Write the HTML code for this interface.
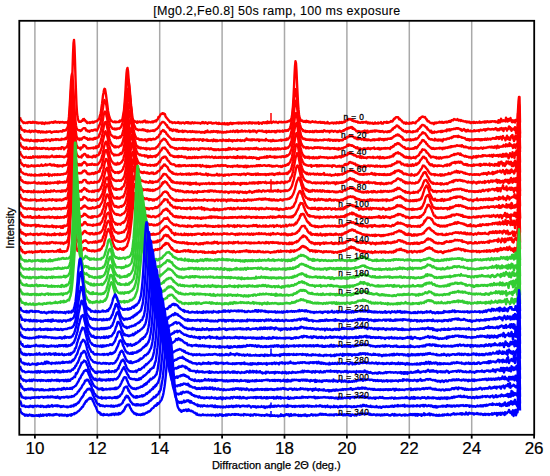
<!DOCTYPE html>
<html><head><meta charset="utf-8"><style>
html,body{margin:0;padding:0;background:#fff;}
body{width:550px;height:476px;overflow:hidden;}
svg{display:block;font-family:"Liberation Sans",sans-serif;}
</style></head><body>
<svg width="550" height="476" viewBox="0 0 550 476">
<rect width="550" height="476" fill="#fff"/>
<g stroke="#a9a9a9" stroke-width="1.5"><line x1="34.9" y1="20.8" x2="34.9" y2="434.8"/><line x1="97.3" y1="20.8" x2="97.3" y2="434.8"/><line x1="159.7" y1="20.8" x2="159.7" y2="434.8"/><line x1="222.1" y1="20.8" x2="222.1" y2="434.8"/><line x1="284.5" y1="20.8" x2="284.5" y2="434.8"/><line x1="346.9" y1="20.8" x2="346.9" y2="434.8"/><line x1="409.3" y1="20.8" x2="409.3" y2="434.8"/><line x1="471.7" y1="20.8" x2="471.7" y2="434.8"/></g>
<g fill="none" stroke-width="2.4" stroke-linejoin="round" stroke-linecap="butt">
<path d="M20,117.2l.5 1.8 .5 1 .5 .6 .5 .8 .5 .2 .5 .7 .5 .7 .5-.5 .5 0 .5 .5 .5 0 .5-.1 .5-.4 .5 .3 .5 .3 .5-.8 .5 .3 .5-.6 .5 .3 .5-.3 .5 .7 .5-.5 .5 .6 .5 0 .5-.2 .5-.9 .5 .8 .5 .2 .5 0 .5-.6 .5 .4 .5-.2 .5 .1 .5 .8 .5-.7 .5 .4 .5 .4 .5-.6 .5 .2 .5 .2 .5 0 .5-.5 .5 .5 .5 .6 .5-1.2 .5 1 .5-.3 .5-.3 .5 1 .5-.5 .5-.8 .5 .4 .5 .2 .5-.3 .5 .3 .5-.4 .5 .2 .5 .3 .5-.9 .5 .3 .5-.3 .5 .2 .5-.6 .5 .2 .5 .1 .5 .4 .5 0 .5-1 .5 .2 .5 .5 .5-1 .5 .6 .5 .1 .5 .5 .5-.2 .5-.4 .5 0 .5 .1 .5 .7 .5-.8 .5 .1 .5 .3 .5-.2 .5 0 .5-.3 .5 .4 .5-.1 .5 .6 .5-.2 .5-.3 .5 .3 .5-.4 .5 .5 .5-.5 .5 .1 .5-.9 .5 .4 .5-1.2 .5-.9 .5-.9 .5-3.3 .5-5.4 .5-8.5 .5-14.6 .5-16.2 .5-15.9 .5-11.7 .5-3.3 .5 6.9 .5 14.5 .5 16.6 .5 14.7 .5 12.2 .5 7.8 .5 4.2 .5 2.9 .5 .7 .5 1.3 .5 0 .5 .1 .5-.2 .5 .1 .5-1 .5 0 .5 .1 .5-1.5 .5 .8 .5-1.2 .5 1.2 .5-.1 .5 1.2 .5 .4 .5-.2 .5 1.5 .5 .2 .5-.5 .5 0 .5 0 .5-.4 .5 .8 .5-.7 .5 .2 .5-.4 .5 0 .5-.4 .5 1 .5-.7 .5 .4 .5-.5 .5-.4 .5 0 .5-.3 .5 .1 .5-.4 .5-.3 .5-.9 .5-.4 .5 .1 .5-2.2 .5-1.8 .5-1.6 .5-2.2 .5-4.4 .5-3.2 .5-4.2 .5-4.4 .5-2.5 .5-3 .5-1.1 .5 .2 .5 2.7 .5 2.9 .5 4.1 .5 3.6 .5 3.9 .5 4.5 .5 2.2 .5 2.7 .5 1.7 .5 1.2 .5 1 .5 1.2 .5 .1 .5 .4 .5 .3 .5 .6 .5-.1 .5 0 .5-.3 .5-.3 .5 .9 .5 0 .5-.5 .5 .3 .5 0 .5-.1 .5 0 .5-.7 .5 .6 .5-1.3 .5 .6 .5-.4 .5-.4 .5-.3 .5-1.3 .5-2.9 .5-2.9 .5-2.9 .5-6 .5-6.3 .5-7.5 .5-9.2 .5-7.6 .5-4.1 .5-1.4 .5 2.9 .5 6.4 .5 7.5 .5 8 .5 8 .5 5.9 .5 4.5 .5 4.3 .5 2.1 .5 1.7 .5 .4 .5 .7 .5 .3 .5 .3 .5 .7 .5-.3 .5 .6 .5 0 .5 .8 .5-1.4 .5 1 .5-.4 .5 0 .5-.6 .5 .4 .5 .4 .5-.3 .5 0 .5-.2 .5 .6 .5-.5 .5-.8 .5 .6 .5-.6 .5-.5 .5 1.1 .5 .8 .5-.5 .5-.5 .5 .2 .5 .8 .5-.4 .5 0 .5 0 .5 0 .5 .3 .5-.1 .5-.1 .5-.5 .5 .6 .5-.6 .5 .6 .5-1 .5 .3 .5-.2 .5-.8 .5 .9 .5-.5 .5-1.3 .5 0 .5-.8 .5-1.9 .5 .4 .5-.9 .5-.7 .5-1.2 .5-.3 .5-.5 .5 .2 .5-.6 .5-.1 .5 .8 .5-.4 .5 .6 .5 .1 .5 2.1 .5 .6 .5 .7 .5 .7 .5 .5 .5 .7 .5 .5 .5 .5 .5 .5 .5 1 .5-.1 .5 0 .5 0 .5 .1 .5 1 .5-.4 .5-.1 .5-.1 .5-.3 .5 .5 .5 .4 .5-.5 .5 0 .5 .1 .5 .1 .5-.7 .5 .6 .5-.2 .5 .7 .5-.7 .5 .5 .5 .4 .5-.7 .5-.1 .5 .3 .5-.1 .5-.4 .5 .6 .5 .6 .5-1 .5 0 .5-.3 .5 .5 .5-.6 .5 0 .5 1 .5-.9 .5 .8 .5 .2 .5-.5 .5 .1 .5 .6 .5-.9 .5-.1 .5-.3 .5 .6 .5 .6 .5-.2 .5-.7 .5 0 .5 .2 .5 .3 .5-.2 .5 .2 .5 .1 .5-.3 .5 .2 .5 .1 .5-.2 .5 .3 .5 .5 .5-.5 .5-.2 .5-.7 .5 .8 .5-1 .5 .2 .5 .9 .5 0 .5-.4 .5-.6 .5 .5 .5-.1 .5 .5 .5 .7 .5-.8 .5-.4 .5-.2 .5 .5 .5 0 .5-.4 .5 .5 .5-.5 .5 1 .5 0 .5 0 .5-.6 .5 .4 .5-.2 .5-.1 .5 .1 .5-.4 .5 0 .5 1 .5-.4 .5 .2 .5 .4 .5-1.1 .5 .5 .5 .4 .5 .1 .5-.3 .5 .6 .5-.3 .5-.5 .5 .1 .5 .7 .5-.1 .5-1 .5 1.3 .5-.3 .5 .3 .5-.8 .5 .1 .5-.4 .5 1.4 .5-1.1 .5 .7 .5-.9 .5 .3 .5-.8 .5 .5 .5 .6 .5-.9 .5 .9 .5-.3 .5-.6 .5 .2 .5 0 .5 .2 .5-.2 .5-.2 .5 .2 .5-.3 .5-.1 .5 .5 .5 .3 .5-1 .5 .6 .5-.3 .5-.2 .5 .7 .5-.5 .5 .7 .5-.9 .5 .4 .5-.2 .5-.3 .5 .6 .5-.3 .5 .3 .5-.3 .5-.4 .5 .4 .5 .1 .5 .4 .5-.8 .5 .4 .5-.7 .5 1 .5-.7 .5-.2 .5 .7 .5 .4 .5-1 .5 .2 .5 .1 .5-.1 .5 .6 .5-.5 .5 0 .5 .5 .5-.5 .5 .4 .5-.5 .5-.1 .5-.3 .5 1.5 .5-.9 .5 .2 .5-.1 .5 .1 .5-.1 .5 .7 .5-1.2 .5-.2 .5 .2 .5-.2 .5 .8 .5 0 .5-.7 .5-.2 .5 .3 .5 .7 .5-1.7 .5 1.3 .5-.7 .5 .8 .5-.9 .5 .3 .5-.5 .5 .2 .5 .9 .5-.3 .5-.5 .5-.2 .5-.4 .5 .6 .5 .1 .5 0 .5 0 .5-.5 .5 .5 .5 0 .5 .5 .5 .2 .5-.8 .5-.2 .5 .2 .5-.2 .5 0 .5 .3 .5-.4 .5 .6 .5-.2 .5 .1 .5-.2 .5-.2 .5-.1 .5 .3 .5-.2 .5 .3 .5-.2 .5-.6 .5 .5 .5-.7 .5 .2 .5-.1 .5-.9 .5 .5 .5-.4 .5-1 .5-1.4 .5-2.3 .5-4.2 .5-5.7 .5-8.5 .5-10.2 .5-11.9 .5-9.2 .5-4.9 .5 2 .5 8.1 .5 11.4 .5 10.1 .5 10.1 .5 6.8 .5 4.7 .5 2.9 .5 1.2 .5 1.2 .5 .9 .5 .3 .5 .1 .5-.5 .5 1 .5 .4 .5 0 .5-.2 .5-.7 .5 1.1 .5-.4 .5-.9 .5 1.2 .5-.8 .5 .1 .5 .3 .5 .7 .5-.6 .5 .2 .5 .6 .5-.1 .5-.7 .5 0 .5-.4 .5 .2 .5 .5 .5 0 .5-.1 .5 .4 .5-.7 .5 .3 .5 .4 .5 0 .5 .3 .5-.2 .5-.2 .5 .3 .5-.5 .5-.2 .5 1 .5-.2 .5 .2 .5-.7 .5 .6 .5 0 .5-.1 .5-.5 .5 .8 .5 .5 .5-.2 .5-.4 .5 .2 .5 .3 .5-1.4 .5 1 .5 .3 .5 0 .5 .4 .5-.3 .5-.4 .5 0 .5 .2 .5-.6 .5 .2 .5 .4 .5 .4 .5-.9 .5 .1 .5 .1 .5 .4 .5-.5 .5 .6 .5-1 .5 .4 .5 0 .5 .4 .5 .1 .5-1.1 .5 .3 .5 .4 .5-.4 .5-.4 .5 .9 .5-.3 .5-.2 .5-.6 .5 .4 .5-.7 .5 .3 .5-1.1 .5-.3 .5 .2 .5-.7 .5 .3 .5-.4 .5-.7 .5 .3 .5-.3 .5 .5 .5-.6 .5 .2 .5 .8 .5 .6 .5 .1 .5-.5 .5 .3 .5 .8 .5-.4 .5 0 .5 .6 .5 .4 .5-.3 .5-.2 .5 .2 .5 1 .5-.5 .5 .3 .5 .2 .5 .1 .5-.3 .5 .3 .5-.6 .5 .2 .5-.3 .5 .8 .5-.5 .5-.3 .5 .2 .5 0 .5 .4 .5-.9 .5 .2 .5 .3 .5 1.2 .5-.6 .5-.4 .5 .4 .5 .6 .5-.8 .5 0 .5 .7 .5-.2 .5 .1 .5-.4 .5 1 .5 0 .5-.4 .5 .1 .5-1.1 .5 1.1 .5-.3 .5 .2 .5 .1 .5-.4 .5-.5 .5 .8 .5-.5 .5 .1 .5-.1 .5 0 .5-.8 .5 1.4 .5-.5 .5 .3 .5 .3 .5-.8 .5-.8 .5 .4 .5-.2 .5 .3 .5 .2 .5-.9 .5 1 .5-.8 .5 .7 .5-.3 .5-.1 .5-.1 .5-.3 .5-.3 .5-.7 .5 .4 .5 .3 .5-.3 .5-.8 .5-.7 .5-1.1 .5 .4 .5-1 .5-.4 .5-.4 .5 0 .5-.2 .5 .2 .5-.2 .5 .6 .5 1.5 .5-.5 .5 .5 .5 .8 .5 .6 .5-.2 .5 .8 .5 .9 .5 .1 .5 .3 .5 .8 .5-.7 .5 .5 .5-.2 .5 .9 .5-1.3 .5 .5 .5 .1 .5 .4 .5 0 .5 .3 .5-1.2 .5 .9 .5-.4 .5-.2 .5 .5 .5-.6 .5-.5 .5 .6 .5-.5 .5 .3 .5 .3 .5-.2 .5 .4 .5-1 .5-.8 .5-.1 .5-.4 .5-.6 .5 .1 .5-1 .5-1.1 .5 .5 .5-.9 .5-.3 .5-.6 .5-.1 .5-.4 .5 .5 .5-.3 .5 .3 .5 .3 .5-.2 .5 1 .5 .6 .5 .8 .5 0 .5 1.7 .5 0 .5-.1 .5 .2 .5 1 .5 .3 .5 0 .5 .4 .5-.1 .5 .5 .5-.5 .5 .3 .5 .4 .5 .6 .5-1.5 .5 .2 .5-.2 .5 .6 .5-.8 .5 .2 .5 .1 .5-.4 .5 0 .5 .1 .5-.7 .5 .3 .5 .4 .5 .2 .5-.2 .5-.7 .5 .5 .5 .5 .5-.1 .5-.3 .5-.4 .5 .5 .5-.5 .5-.4 .5 .1 .5 .8 .5-.6 .5 .2 .5-.8 .5 .4 .5-.8 .5 0 .5 .9 .5-.9 .5-.6 .5-.1 .5 0 .5 .2 .5-.8 .5-.6 .5 .5 .5 0 .5 0 .5 .5 .5-.4 .5 .2 .5-.7 .5 .8 .5 .6 .5-.4 .5-.1 .5 .1 .5 .8 .5-.9 .5 .5 .5 .4 .5 .2 .5-.3 .5 .5 .5-.1 .5 .3 .5 0 .5-.3 .5 .6 .5 .4 .5-.7 .5 .4 .5 .4 .5-.6 .5 .5 .5-.5 .5 .9 .5 .5 .5-.1 .5-.8 .5 .4 .5-.3 .5 0 .5 .6 .5-1.1 .5 1 .5-.5 .5 .6 .5-.4 .5-.4 .5 .4 .5 .2 .5-.3 .5 .2 .5-.4 .5-.7 .5 1.2 .5-.1 .5-.3 .5 0 .5 .3 .5-.6 .5-.2 .5 .2 .5 .5 .5-1.1 .5 1 .5-.8 .5-.2 .5 .9 .5-.6 .5-.5 .5 .3 .5 .6 .5 .1 .5-.8 .5 .4 .5 .2 .5-.8 .5 .6 .5-.3 .5-.3 .5 0 .5 .3 .5 0 .5-.4 .5 0 .5 1 .5-.7 .5 .5 .5 .2 .5-.5 .5 1.2 .5-2.5 .5 1.3 .5-1 .5 1.8 .5-.2 .5-3.4 .5 .8 .5 1.5 .5 .1 .5 0 .5-.9 .5 .5 .5 .2 .5-.8 .5 1.3 .5-3.9 .5 3.5 .5-2.1 .5 2.5 .5-1.5 .5-.9 .5 1.8 .5-1.8 .5 0 .5-1 .5 2.3 .5 .8 .5 .9 .5-1.8 .5 1.9 .5-1.6 .5-.2 .5 1.1 .5 .9 .5-2.4 .5 .1 .5 .2 .5 .5 .5-1.9 .5-8.6 .5-8.8 .5-4.5 .5 0 .5 25.5" stroke="#ff0000"/>
<path d="M20,125.3l.5 2.6 .5-.2 .5 1.6 .5 .4 .5-.1 .5 .7 .5 .2 .5 0 .5 1.2 .5-1.4 .5 1 .5 0 .5-.3 .5 .3 .5 .3 .5-.3 .5 .2 .5 .1 .5-1.1 .5 1.4 .5 .3 .5-.5 .5 0 .5-1 .5 .6 .5-.3 .5 .1 .5 .6 .5-.7 .5 .3 .5-.7 .5 .8 .5 .1 .5-.3 .5 0 .5 1.1 .5-1.2 .5 .1 .5 .1 .5 .8 .5 .4 .5-.7 .5-.4 .5 .2 .5 .6 .5-.8 .5 1 .5 0 .5-.5 .5 .2 .5 .1 .5 .3 .5-1.1 .5 .9 .5-.6 .5-.1 .5 .3 .5-.1 .5-.3 .5-.3 .5 .3 .5 1 .5 .2 .5-.6 .5 .2 .5-.6 .5 .1 .5 .1 .5-.5 .5 0 .5 .4 .5-.2 .5-.3 .5 .5 .5-.3 .5 .5 .5-.4 .5-.2 .5 .1 .5-.2 .5-.2 .5 0 .5 .4 .5-.1 .5 .1 .5-1.3 .5 .5 .5-.2 .5 .2 .5-.4 .5-.3 .5 .3 .5-.7 .5-1.3 .5-.4 .5-2.5 .5-4.2 .5-4.8 .5-7.7 .5-7.9 .5-9.8 .5-8.8 .5-6 .5-2.4 .5 2.7 .5 6.2 .5 8.5 .5 9.1 .5 7.4 .5 8.6 .5 4.6 .5 4.5 .5 2.6 .5 1 .5 .5 .5 .5 .5 .3 .5 0 .5 0 .5-.1 .5 .8 .5-.6 .5 .1 .5-.9 .5-.5 .5-.6 .5-.2 .5-.1 .5-.1 .5 .1 .5 .5 .5 1.6 .5-.3 .5 .3 .5 1 .5-.1 .5-.2 .5-.3 .5 1 .5-.8 .5 .1 .5-.4 .5-.5 .5 0 .5 .6 .5-.1 .5-.3 .5-.4 .5-.2 .5 .3 .5-.5 .5 .8 .5-.1 .5 .4 .5-1.2 .5-1.1 .5-.8 .5-2 .5-.1 .5-1.5 .5-1.5 .5-2.5 .5-2.8 .5-3.2 .5-3.1 .5-2.9 .5-4 .5-2.1 .5-1.7 .5 1 .5 .9 .5 1.9 .5 1.9 .5 3.7 .5 3 .5 3.2 .5 2.6 .5 2.7 .5 1.7 .5 2.1 .5 1.1 .5 .7 .5 .8 .5 .4 .5 .9 .5-.2 .5 .5 .5-.2 .5-.3 .5 1 .5-.8 .5 .7 .5-.1 .5-.9 .5 .3 .5 0 .5-.2 .5-.3 .5 .5 .5-.8 .5-.2 .5-1 .5-.6 .5-1.8 .5-1.5 .5-2.1 .5-3.2 .5-3.9 .5-4.8 .5-4.5 .5-5.5 .5-5.9 .5-5.6 .5-4 .5-2.3 .5-2.1 .5 1.3 .5 3.1 .5 3.4 .5 6.5 .5 5.4 .5 6.4 .5 4.4 .5 4.3 .5 4 .5 3.2 .5 2 .5 2 .5 .8 .5 1.4 .5 1.1 .5 1 .5-.2 .5 .1 .5 .6 .5 .1 .5 .4 .5-.2 .5-.3 .5 .2 .5 0 .5 .2 .5 0 .5-.3 .5-.5 .5 .6 .5-.5 .5 .9 .5 .1 .5-.6 .5 1 .5 .1 .5-.3 .5 .7 .5 .2 .5-1.2 .5 .9 .5-.2 .5 .1 .5 .2 .5-.6 .5 0 .5 0 .5 0 .5 .2 .5-.6 .5 .1 .5 .6 .5-.5 .5 0 .5-1.1 .5 .1 .5-.3 .5-.3 .5-.8 .5 0 .5-1.1 .5-.7 .5-.7 .5-.6 .5-1.2 .5-.1 .5-.8 .5-.7 .5-.3 .5 0 .5 .3 .5 .2 .5 .2 .5 .8 .5 .3 .5 1.2 .5 .3 .5-.1 .5 2.1 .5 .1 .5 .1 .5 .9 .5 .2 .5 1.6 .5-.4 .5-.6 .5 1.1 .5-.3 .5 1.1 .5-1.1 .5-.4 .5 1 .5-.2 .5 .1 .5-.7 .5 1.1 .5 .5 .5-1.4 .5 1.3 .5-.6 .5 1.2 .5-.7 .5-.2 .5 .6 .5-.2 .5-.4 .5 .6 .5-.5 .5-.4 .5 1.5 .5-.9 .5 0 .5 .4 .5-.8 .5 .2 .5 .3 .5 0 .5 .3 .5 .4 .5-.6 .5 .4 .5 0 .5-.6 .5 .5 .5-.5 .5 .9 .5-.3 .5-.1 .5-.6 .5 .6 .5-.3 .5 .6 .5-.3 .5-.3 .5 .8 .5-.1 .5-.5 .5 .7 .5-.5 .5 0 .5 .2 .5-.3 .5 .1 .5 .1 .5 .7 .5 0 .5-.7 .5 .7 .5-.6 .5 .1 .5 .2 .5-.3 .5 .8 .5-.8 .5-.7 .5 1 .5-.7 .5 0 .5-1.1 .5 1.6 .5-.1 .5-.1 .5 .1 .5 .2 .5-.7 .5 .4 .5-.7 .5 .2 .5 .6 .5-.3 .5-.7 .5 .7 .5-.2 .5-.2 .5 .5 .5-.3 .5-.4 .5 .2 .5 1.2 .5-1.3 .5 .8 .5 .2 .5 0 .5-.7 .5 .4 .5 .3 .5 .3 .5-.6 .5-.2 .5 .9 .5 0 .5-.2 .5-.4 .5 .3 .5-.1 .5 .3 .5-.9 .5 .5 .5-.2 .5-.4 .5 .5 .5-.2 .5-.2 .5 .2 .5-.8 .5 .5 .5 .1 .5-.1 .5 .3 .5-1 .5-.2 .5 .7 .5 0 .5 .7 .5-.7 .5-.6 .5 .7 .5-.7 .5-.3 .5 1.7 .5-1 .5 .2 .5-.1 .5 .5 .5-.6 .5 .4 .5-.9 .5-.2 .5 1.2 .5 0 .5-.4 .5-.1 .5 0 .5-.4 .5 .9 .5-.3 .5 0 .5-.1 .5 .3 .5-.2 .5 .1 .5-.8 .5 .7 .5 .7 .5-1.1 .5 .2 .5 .4 .5 0 .5-.1 .5-.9 .5 .9 .5-.7 .5 .1 .5 .6 .5-.4 .5 .5 .5 .9 .5-.9 .5-.1 .5-.6 .5 .1 .5-.1 .5 .2 .5-.2 .5 .2 .5 .2 .5-.3 .5-.2 .5 .1 .5 .7 .5-.1 .5 .4 .5 .1 .5-.6 .5 .5 .5-.9 .5 1.6 .5-.5 .5-.5 .5-.4 .5 .7 .5-.9 .5 .4 .5 .6 .5-.3 .5-.2 .5 .5 .5-.8 .5 .5 .5-.3 .5-.2 .5 .5 .5-.6 .5 1.2 .5-1 .5 1 .5-1.3 .5 .7 .5-.8 .5 0 .5 .5 .5 .2 .5-.8 .5 1 .5-.8 .5 .4 .5 .1 .5 0 .5-.9 .5 1.3 .5-.4 .5-.5 .5-.2 .5-.4 .5 .1 .5 .7 .5-.5 .5-.5 .5 .1 .5 .6 .5-1.1 .5-.5 .5 .1 .5-1.3 .5-1.5 .5-2.1 .5-3 .5-3.2 .5-3.9 .5-4.7 .5-5.2 .5-5.3 .5-4.9 .5-3.3 .5-1.7 .5 .7 .5 4.1 .5 4.6 .5 5.5 .5 5.5 .5 4.6 .5 4.2 .5 3.8 .5 2.6 .5 1.6 .5 1.8 .5 .6 .5 .3 .5 .9 .5 1.1 .5-.8 .5 .9 .5 .2 .5 .2 .5-.8 .5 1.2 .5-.7 .5-.1 .5 .1 .5 .4 .5-.2 .5-.1 .5 .6 .5-.8 .5-.1 .5 .8 .5-.1 .5 .2 .5-.9 .5 .9 .5-.3 .5 .5 .5-1.2 .5 .6 .5-.2 .5-.6 .5 .4 .5 .7 .5-.7 .5-.1 .5 .6 .5 .1 .5-.1 .5-.7 .5 .3 .5 .4 .5-.7 .5 0 .5 .6 .5 .3 .5-1.1 .5-.6 .5 .5 .5 .1 .5 .4 .5 .3 .5-.3 .5-.2 .5 .4 .5-.5 .5 .4 .5-.2 .5 1.3 .5-.7 .5-.7 .5 0 .5 .2 .5-.5 .5 .4 .5 0 .5 .7 .5-.5 .5-.2 .5-.2 .5 .1 .5 .5 .5-.1 .5 .6 .5-.7 .5 .7 .5-.4 .5-.1 .5-.8 .5 .2 .5 .8 .5 .2 .5-.6 .5 .1 .5-.6 .5-.2 .5-.3 .5 .4 .5-.5 .5-.5 .5-.4 .5 .1 .5-.5 .5-.7 .5 .7 .5-.8 .5-.3 .5 .4 .5-.3 .5-.5 .5 .3 .5-.6 .5 .4 .5-.5 .5 1.7 .5-1 .5 1.3 .5-.3 .5 .3 .5 .6 .5 .5 .5 .4 .5 .8 .5-.4 .5 .4 .5-.4 .5 .7 .5-.1 .5-.2 .5 .2 .5 .1 .5 .1 .5 .2 .5-.4 .5-.1 .5 .6 .5-.9 .5 .4 .5 .8 .5-1.7 .5 .8 .5 .5 .5-.9 .5 1.7 .5-2.1 .5 1.5 .5 .1 .5-.3 .5-.5 .5 .2 .5-.6 .5 .7 .5-.8 .5 .3 .5 .5 .5-.9 .5 .3 .5 .2 .5-.7 .5 1 .5-.3 .5-.8 .5 .6 .5-.3 .5 .1 .5 .3 .5-.3 .5 .7 .5-.6 .5 .7 .5-.4 .5 .4 .5-.6 .5 .1 .5-.2 .5 .7 .5 .1 .5 .5 .5-.3 .5-.4 .5-.1 .5 .2 .5-.1 .5 .6 .5-.3 .5-.7 .5 0 .5 .7 .5-.5 .5-.4 .5 .4 .5-.9 .5-.3 .5-.4 .5-1 .5 .6 .5-1.3 .5-.2 .5-.6 .5 .2 .5-.7 .5-.3 .5-.9 .5 .5 .5-.5 .5 .8 .5 .3 .5 .1 .5 1.3 .5-.2 .5 .5 .5 .3 .5 .4 .5 .9 .5 .5 .5-.6 .5 1.2 .5 .1 .5 .3 .5 0 .5-.5 .5 .1 .5 1.3 .5-.6 .5-.6 .5 .7 .5-.2 .5-.6 .5-.1 .5 .3 .5 .7 .5-.1 .5 0 .5 .2 .5 .2 .5-1.1 .5 .7 .5-.3 .5-.2 .5 .1 .5 .1 .5-.3 .5-.8 .5 .1 .5 .6 .5-1.7 .5-.8 .5 .2 .5-.5 .5-.7 .5-1.2 .5 .2 .5-1.2 .5-.5 .5-.1 .5 .1 .5 .3 .5 .2 .5 0 .5 .8 .5 .2 .5 .9 .5-.2 .5 .5 .5 1.6 .5-.3 .5 1 .5 .5 .5 .2 .5 .4 .5 1 .5-1.4 .5 1.5 .5 .7 .5-.9 .5 .1 .5 .3 .5 .4 .5-1.2 .5 .5 .5-.1 .5 .2 .5-.1 .5 .1 .5-.5 .5 .2 .5-.4 .5 0 .5 .1 .5 0 .5-.5 .5 1 .5-.7 .5-.6 .5 .9 .5-.8 .5 .4 .5-.3 .5 0 .5-.1 .5-.5 .5 .2 .5 .7 .5-1.9 .5 .8 .5 0 .5-.7 .5-.2 .5 1.2 .5-1.1 .5 .8 .5-.7 .5-.3 .5 0 .5 0 .5 .1 .5-.4 .5-.2 .5 0 .5 .4 .5-.3 .5-.7 .5 .1 .5 .5 .5-.4 .5 .2 .5-.2 .5 .4 .5 .4 .5 .3 .5-.3 .5 1 .5-.7 .5 1.4 .5-.7 .5-.1 .5-.3 .5-.8 .5 1.2 .5 .3 .5 .8 .5-1.2 .5 1.4 .5-.8 .5 .4 .5-1.2 .5 1.1 .5-.2 .5 .5 .5-.2 .5-.5 .5 .8 .5-.1 .5 0 .5 .1 .5 0 .5-.4 .5-.6 .5 0 .5 1 .5-.3 .5-.2 .5-.3 .5 .2 .5-.1 .5-.2 .5-.2 .5 1.1 .5-.8 .5-.4 .5-.4 .5 .2 .5 .5 .5-.1 .5-.4 .5 0 .5-.2 .5-.4 .5 .9 .5-.4 .5 .7 .5-1.3 .5 .2 .5 .3 .5-.5 .5-.6 .5 .2 .5 .4 .5 .1 .5-.2 .5 .5 .5 0 .5-.4 .5-.1 .5-.2 .5 .4 .5 .3 .5-.5 .5 .2 .5-.5 .5-.7 .5 .2 .5 1.3 .5-.2 .5 .9 .5-1.2 .5 .7 .5 .4 .5-.3 .5-1.4 .5 .4 .5 .3 .5-1.1 .5 1.4 .5 .5 .5-1.6 .5 2.6 .5-2.5 .5 .1 .5-.1 .5-.6 .5 1.2 .5-.5 .5 2 .5-1.3 .5-.2 .5-1 .5-1.7 .5 1.8 .5-1.1 .5 2.5 .5-1.4 .5 2.6 .5-1.4 .5 .1 .5-.9 .5 0 .5 .8 .5 .5 .5-2.8 .5 2.2 .5 3.9 .5-4.9 .5-.3 .5-.8 .5-13.6 .5-1.1 .5-8.2 .5 2.9 .5 26.3" stroke="#ff0000"/>
<path d="M20,134.1l.5 2.1 .5 1.1 .5 1.3 .5-.4 .5 1.2 .5-.2 .5 .6 .5 .3 .5 .2 .5-.4 .5 .4 .5-.5 .5 0 .5 .8 .5-.2 .5-.6 .5 .3 .5 .3 .5 .7 .5-.2 .5-.1 .5-1 .5 .7 .5 .2 .5-.1 .5 .1 .5-.3 .5 .8 .5-.1 .5-.7 .5-.3 .5 1.2 .5-1.1 .5 .7 .5 .3 .5-1.2 .5 .5 .5-.3 .5 .3 .5 0 .5 .6 .5-.6 .5-.2 .5 .4 .5-.5 .5-.1 .5 1 .5-1.2 .5 .1 .5 .2 .5-.4 .5-.4 .5 1.2 .5-.7 .5 0 .5 .1 .5-.3 .5 0 .5 .4 .5 .9 .5-.7 .5 0 .5-1 .5 .6 .5-.5 .5 .8 .5-.5 .5 .1 .5-.1 .5-.2 .5-.4 .5 .8 .5-.8 .5 .1 .5 .3 .5-.2 .5 .4 .5 .3 .5-.3 .5 0 .5-.1 .5 .3 .5-1.1 .5 .8 .5-.5 .5-.2 .5 .4 .5-.2 .5 .3 .5 0 .5-1.5 .5 .6 .5 .4 .5-1.2 .5-1.1 .5-2.8 .5-4.2 .5-5.2 .5-6.3 .5-8.6 .5-10 .5-8.5 .5-6.2 .5-3.3 .5 2.6 .5 7 .5 8.8 .5 8.5 .5 9.5 .5 6.3 .5 5.4 .5 3.1 .5 3.7 .5 .9 .5 1.9 .5-.3 .5 .2 .5-.6 .5 1.5 .5-.7 .5 .1 .5-.9 .5 1 .5-.4 .5-1.1 .5-.3 .5-.4 .5 0 .5-.3 .5 1 .5-.3 .5 .4 .5 .6 .5-.5 .5 .8 .5 .8 .5-.3 .5-.4 .5 .4 .5-1 .5 .6 .5 .3 .5 0 .5-.7 .5 .6 .5 .3 .5-1 .5 .4 .5-1 .5-.2 .5 .9 .5-.4 .5-.1 .5-.5 .5-.2 .5 0 .5-.2 .5-1.5 .5-1.6 .5-.2 .5-1.9 .5-1.9 .5-2.6 .5-1.7 .5-3.8 .5-2.8 .5-3.7 .5-1.9 .5-1.7 .5-.5 .5 .5 .5 .9 .5 3.2 .5 1.5 .5 3.1 .5 3.1 .5 2 .5 3.1 .5 2 .5 1.3 .5 2.3 .5 .3 .5 .8 .5 .1 .5 .2 .5 .7 .5 .4 .5 .1 .5 .7 .5-1.2 .5 .6 .5-.2 .5 1.3 .5-.7 .5 0 .5-.3 .5 .8 .5-.6 .5 .1 .5-1.2 .5 1 .5-.8 .5-.7 .5-.7 .5-2 .5-1.8 .5-2.1 .5-3.2 .5-4 .5-4.4 .5-5.2 .5-4.9 .5-5.3 .5-5.6 .5-3.6 .5-4.3 .5-.6 .5 1.7 .5 2 .5 3.8 .5 6.4 .5 5.2 .5 4.8 .5 5.9 .5 3.9 .5 3.8 .5 3.7 .5 2.5 .5 1.7 .5 1.8 .5 .9 .5 1.2 .5 .5 .5 .8 .5-.2 .5-.1 .5 .1 .5 .6 .5 .8 .5-.2 .5-.5 .5 .7 .5-.8 .5 .9 .5-.5 .5 .4 .5 0 .5-.4 .5 .3 .5-.6 .5 .4 .5 .4 .5 1.2 .5-1.4 .5-.3 .5-.4 .5 .8 .5-1.1 .5 .3 .5 .5 .5-.7 .5 1.1 .5-.2 .5-.7 .5 0 .5-.3 .5-.1 .5 .6 .5 0 .5-.3 .5-.2 .5-.6 .5 0 .5-1.2 .5 .1 .5 0 .5-.7 .5-1.4 .5-.7 .5-.1 .5-.6 .5-2.1 .5-.2 .5-.3 .5 0 .5-1.1 .5 .6 .5-.2 .5 1.4 .5-.3 .5 .4 .5 .6 .5 1.4 .5 .6 .5 0 .5 1.3 .5 .1 .5 .8 .5 .3 .5 .5 .5 .6 .5 .2 .5 .9 .5 .3 .5-.3 .5-.2 .5 .8 .5-1.1 .5 .1 .5 1.1 .5 0 .5 .1 .5-.4 .5-.5 .5 .3 .5 .5 .5-.6 .5 .1 .5-.3 .5 .1 .5 .8 .5-.1 .5-.6 .5 0 .5 .3 .5 .5 .5-.7 .5 .4 .5-.7 .5 .3 .5 .7 .5 .2 .5-.8 .5 .2 .5 .6 .5-.5 .5-.1 .5 .4 .5-.1 .5 .3 .5-.2 .5-.6 .5 .2 .5-.1 .5-.5 .5 .1 .5 .8 .5-1.1 .5 1 .5-.3 .5-.2 .5 .3 .5 0 .5 .3 .5-.6 .5 .1 .5 0 .5 .9 .5-.4 .5-.7 .5 .3 .5-.1 .5 .3 .5 .2 .5 .8 .5-1.6 .5 1.2 .5-.2 .5-.4 .5 .2 .5-.1 .5 .3 .5 .4 .5-1 .5 1.1 .5-.6 .5 .7 .5-.4 .5 .3 .5-.2 .5 .2 .5-.4 .5-.3 .5 .6 .5 0 .5 .6 .5-1.7 .5 .8 .5 .5 .5-.9 .5 .4 .5 .9 .5-.2 .5-1 .5 1 .5-.1 .5-.2 .5-.2 .5 0 .5-.5 .5 .2 .5 .5 .5-.3 .5 .7 .5-.9 .5-.8 .5 .8 .5 .3 .5 0 .5-.1 .5-.4 .5 1 .5-.9 .5 .6 .5-.4 .5-.4 .5 1.1 .5-1.6 .5 .7 .5 .5 .5-.3 .5 .5 .5-.4 .5-.1 .5 1.1 .5-1 .5 .1 .5-.4 .5 .1 .5 .6 .5 0 .5-.3 .5-.3 .5 .6 .5-1 .5 .6 .5 0 .5-.3 .5 .4 .5-.4 .5-.1 .5 1 .5-.4 .5 .1 .5-.5 .5 .3 .5-.1 .5 .1 .5 .4 .5-1.1 .5 .2 .5-.2 .5-1.4 .5 .8 .5 .5 .5 .2 .5-.5 .5 .7 .5 0 .5-.6 .5 .7 .5 .1 .5-.5 .5-.6 .5 1 .5-.6 .5-.1 .5 .2 .5-.3 .5 .7 .5-.1 .5 .2 .5-.3 .5-.5 .5 .3 .5 .4 .5-.5 .5 1.4 .5-1.3 .5-.1 .5 .7 .5-.1 .5-.3 .5-.1 .5 .3 .5 .2 .5 0 .5-.4 .5 .4 .5 .2 .5 0 .5-1.5 .5 .9 .5 .1 .5 .2 .5 .2 .5 .3 .5-.1 .5-.2 .5 0 .5 .8 .5-1 .5 .4 .5 .6 .5-.5 .5-.9 .5 .9 .5-.3 .5 .2 .5 .4 .5-.2 .5-.3 .5 .4 .5-.2 .5-.1 .5 0 .5 0 .5-.3 .5-.1 .5 .1 .5-.4 .5-.2 .5 1 .5-.7 .5 .1 .5-.1 .5 0 .5-.1 .5 0 .5-.5 .5 .7 .5-.8 .5 .6 .5-1.3 .5 .2 .5 .6 .5-.8 .5-.6 .5-.2 .5-1.4 .5-.8 .5-2.6 .5-1.6 .5-3 .5-3.1 .5-4.1 .5-5.3 .5-3.7 .5-5.3 .5-4.1 .5-2.1 .5 1.6 .5 1.3 .5 3.2 .5 4.3 .5 4.6 .5 5.5 .5 3.6 .5 4.3 .5 2.1 .5 1.4 .5 3 .5 .7 .5 .9 .5 1.3 .5-.3 .5 .8 .5-.2 .5-.2 .5 .7 .5-.4 .5 .9 .5-.1 .5-.3 .5 .3 .5 .1 .5-.3 .5 .5 .5-.4 .5 .4 .5-.6 .5 .5 .5 .1 .5-.4 .5 .2 .5 0 .5 .5 .5-.5 .5 .4 .5 .5 .5-.5 .5-.7 .5 .7 .5 .3 .5-.5 .5 .6 .5-.2 .5-.1 .5-.3 .5-.1 .5 .1 .5 .1 .5 .2 .5 0 .5-.3 .5 .1 .5 .1 .5-.8 .5 .3 .5 0 .5 .2 .5 0 .5 0 .5-.2 .5 .6 .5-.2 .5-.8 .5 .7 .5-.4 .5 1.1 .5-.9 .5 .1 .5 .2 .5-.1 .5 0 .5 .7 .5-.6 .5 .3 .5 .1 .5-.8 .5 1 .5-.3 .5 .1 .5-.8 .5 .7 .5-.1 .5-.4 .5 1.1 .5-.7 .5-.3 .5 .1 .5 .2 .5 0 .5-.3 .5 .2 .5-.1 .5-1.2 .5 .1 .5-.5 .5 .2 .5 .2 .5-.6 .5-1 .5 0 .5 .3 .5-.9 .5-.1 .5 0 .5-1 .5 .9 .5-.2 .5 .1 .5-.6 .5 .2 .5 .2 .5 .6 .5 .1 .5 .3 .5 .9 .5 0 .5-.6 .5 .3 .5 1.1 .5-.6 .5 .8 .5 .2 .5-.7 .5 .2 .5 .2 .5-.3 .5 .1 .5 .2 .5 .6 .5-.5 .5 .2 .5-.1 .5-.3 .5 1.2 .5-1.5 .5 .8 .5 .5 .5-.7 .5 .8 .5 .3 .5-.8 .5 .5 .5-.6 .5 .7 .5-.1 .5 0 .5 .5 .5-.4 .5 .3 .5-.3 .5-.7 .5 .6 .5 0 .5-.8 .5 1.1 .5-.5 .5 .1 .5-.5 .5 .3 .5 .1 .5-.3 .5 .2 .5-1 .5 1.4 .5-1 .5-.5 .5 .5 .5 0 .5 .6 .5-.6 .5 .4 .5-.5 .5 1.3 .5-.7 .5 .5 .5-1.2 .5 .7 .5-.6 .5 .6 .5 0 .5-.9 .5 .2 .5-.1 .5-.2 .5 .3 .5-.2 .5-.4 .5 .4 .5-.1 .5-1 .5 0 .5-.2 .5-.5 .5-.7 .5 .2 .5-.4 .5-.4 .5-.7 .5 .6 .5-.2 .5-.9 .5 .2 .5 .8 .5-.6 .5 .9 .5 .3 .5 .1 .5 .7 .5-.1 .5 .9 .5-.2 .5 2.1 .5 0 .5 .2 .5-.2 .5 .5 .5 .2 .5 0 .5 0 .5-.7 .5 .6 .5-.4 .5-.2 .5 0 .5 .6 .5 .2 .5-1 .5 1.2 .5-.1 .5-.8 .5-.1 .5 .2 .5 .3 .5-.6 .5-.3 .5 .4 .5-1.1 .5 .7 .5 .2 .5-.7 .5-.2 .5-.5 .5-.5 .5-.8 .5-1 .5-.4 .5-.6 .5-.1 .5-.4 .5-.9 .5-.8 .5-.1 .5 .2 .5 .8 .5-.2 .5 .3 .5 .3 .5 1.2 .5 .5 .5 .5 .5 .7 .5 1.2 .5-.1 .5 1.2 .5 .2 .5-.1 .5 .6 .5-.2 .5-.1 .5 .3 .5-.1 .5 .6 .5-.1 .5 .2 .5 .2 .5-1.6 .5 1.4 .5-.8 .5 .8 .5-.4 .5 .4 .5 .5 .5-1.2 .5 .7 .5-.1 .5-.7 .5 1 .5-.3 .5-.2 .5-.2 .5 1.6 .5-1.5 .5-.7 .5 .3 .5 .1 .5-.1 .5 .1 .5-.6 .5 .5 .5-.5 .5-.5 .5 .1 .5-.1 .5 .4 .5-.4 .5-.5 .5-.1 .5-.1 .5 .5 .5-1.2 .5 .2 .5 0 .5-.9 .5 .3 .5-.1 .5-.4 .5 .3 .5 .2 .5 0 .5-.6 .5 .2 .5 .9 .5-1.3 .5 .6 .5 .4 .5-.1 .5 .3 .5 0 .5 .4 .5 .4 .5-.4 .5 .4 .5 .1 .5 .1 .5 .3 .5-.2 .5 .9 .5 .6 .5 .1 .5 0 .5-.8 .5 1.1 .5-.8 .5 .4 .5 .8 .5-1.1 .5 .8 .5-.2 .5-.2 .5-.3 .5 .5 .5-.3 .5 .6 .5 0 .5-1 .5 .3 .5 .1 .5-.4 .5 0 .5 .5 .5-.1 .5-.6 .5 .5 .5 .4 .5-.7 .5 .1 .5 1 .5-.1 .5-1.1 .5 .1 .5 .7 .5-.7 .5 .4 .5-.1 .5 .3 .5-1.2 .5 0 .5 .4 .5 .8 .5-.5 .5-.7 .5 .8 .5 .1 .5-.5 .5-.2 .5 .3 .5 .4 .5-.7 .5 .2 .5-.4 .5-.3 .5-.4 .5 .6 .5-.4 .5 0 .5 .7 .5-.3 .5 .2 .5-1.8 .5 1.5 .5-.9 .5-.2 .5-.1 .5 1.7 .5-.3 .5-1.4 .5-.4 .5 1.1 .5-.5 .5 2.1 .5-3.1 .5-.4 .5 1.6 .5 .3 .5 .2 .5 .7 .5 1.5 .5-2.8 .5-.2 .5-1.6 .5 2.5 .5 .8 .5-1.5 .5 2 .5-1.6 .5 2.1 .5-1.7 .5-2.1 .5 .6 .5-1.5 .5-.3 .5 3.1 .5 1 .5 1.9 .5-3.5 .5-.3 .5-1.6 .5 3.8 .5-1.1 .5-1.9 .5 2.5 .5-12.6 .5-10.7 .5-1.2 .5 1.3 .5 22.2" stroke="#ff0000"/>
<path d="M20,142.4l.5 1.7 .5 1.2 .5 1.1 .5 .4 .5 .6 .5-.3 .5 1 .5 .6 .5-.5 .5-.5 .5 1.1 .5-.6 .5-1 .5 1.2 .5 .3 .5 0 .5 .4 .5-.3 .5-.1 .5-.9 .5 .4 .5 .5 .5 .2 .5-.7 .5 .2 .5 .4 .5-.9 .5-.1 .5 .7 .5 .1 .5-.3 .5-.7 .5 .9 .5-.6 .5 .8 .5-.4 .5 .2 .5 .1 .5-.5 .5 .5 .5 .2 .5-.3 .5 .3 .5-.7 .5 .6 .5-.2 .5-.5 .5 .4 .5-.2 .5 .1 .5 .3 .5 .4 .5-.5 .5 .2 .5-.6 .5 .6 .5 .5 .5-.1 .5-.1 .5-.4 .5-.2 .5 .4 .5-.5 .5 0 .5 .9 .5-.8 .5 1.1 .5-1.3 .5 .7 .5-.7 .5 .5 .5-.5 .5 .3 .5-.1 .5-.1 .5 .3 .5 .3 .5-.9 .5 .6 .5-.4 .5-.1 .5 .9 .5-1.8 .5 .5 .5-.5 .5 .6 .5 0 .5 1.5 .5-1.4 .5 .5 .5-.4 .5-.9 .5 0 .5-.2 .5-1.8 .5-2.2 .5-3.3 .5-5.9 .5-6.7 .5-8.2 .5-9.3 .5-9.4 .5-6.4 .5-2.6 .5 2 .5 6.4 .5 8.4 .5 9.5 .5 8.2 .5 7.4 .5 6.1 .5 3 .5 3.1 .5 1.1 .5 .7 .5 1 .5-.2 .5 .1 .5 .1 .5 .4 .5 1 .5-2 .5 .6 .5-.5 .5-.1 .5-1.1 .5-1.3 .5 1.2 .5-.9 .5 .7 .5 0 .5 .7 .5 .7 .5 .9 .5 .2 .5-.5 .5 .5 .5-.4 .5 .2 .5 0 .5 .1 .5-.5 .5 .1 .5 .1 .5-.1 .5-.4 .5 .9 .5-.9 .5 .4 .5-.3 .5 .3 .5-1.5 .5 1.6 .5-1.1 .5-.7 .5 .2 .5 .4 .5-1.4 .5-1.5 .5-.9 .5-.6 .5-2.9 .5-1.6 .5-2.4 .5-1.6 .5-3.8 .5-2.1 .5-3.3 .5-2 .5-.5 .5-.3 .5-.1 .5 2.6 .5 2.3 .5 2.1 .5 3 .5 2.7 .5 2.1 .5 2 .5 1.8 .5 1.6 .5 .8 .5 1.4 .5 .1 .5 1.2 .5 .3 .5-.1 .5 1 .5 .5 .5-.1 .5-1 .5 1.1 .5-.4 .5-.1 .5-.2 .5 .2 .5 .4 .5-.4 .5-.6 .5-.3 .5-.3 .5 0 .5-.2 .5-2 .5-.8 .5-1.7 .5-2.2 .5-2.2 .5-3.2 .5-4.7 .5-4.4 .5-4.1 .5-5.7 .5-5.3 .5-5.4 .5-4.2 .5-2.6 .5-1.6 .5 .5 .5 3 .5 4.4 .5 4.1 .5 6.3 .5 5.3 .5 4.5 .5 5.1 .5 4.1 .5 3.8 .5 2.8 .5 1.5 .5 1.7 .5 2.3 .5 .7 .5 .8 .5 .5 .5 .9 .5-.8 .5 1.2 .5-.6 .5 .8 .5 .3 .5-1 .5 .8 .5-.2 .5 .1 .5 .2 .5-.4 .5 .1 .5 .6 .5 .2 .5-.6 .5-.3 .5 1.5 .5-.4 .5-.3 .5-.5 .5 .2 .5 .4 .5-.5 .5 1 .5-.5 .5 .1 .5-.6 .5 0 .5 .1 .5 .3 .5-.3 .5-.1 .5 .1 .5-.2 .5 .3 .5-1 .5-.7 .5 0 .5 .1 .5-1.4 .5-.4 .5-.9 .5-.4 .5-.9 .5-1.2 .5-.6 .5-.3 .5-.5 .5-.6 .5-.4 .5-.6 .5 0 .5 .7 .5-.4 .5 .9 .5 0 .5 1.3 .5 .6 .5 .5 .5 1.5 .5 .2 .5 .7 .5 .7 .5 .3 .5 1.3 .5-.4 .5 .6 .5-.3 .5 .5 .5 .2 .5 .2 .5 0 .5 .3 .5 .7 .5-.7 .5 .1 .5-.1 .5 1.2 .5-.4 .5-.4 .5 .1 .5-.6 .5 .3 .5 .1 .5 0 .5-.4 .5 .1 .5 .5 .5-.1 .5-.9 .5 .9 .5 .5 .5-.8 .5 .4 .5-.6 .5 .9 .5-.7 .5 0 .5 .4 .5 1 .5-1.1 .5-.2 .5 .7 .5-.1 .5 .6 .5-1.2 .5-.1 .5 .5 .5 .3 .5 0 .5 .2 .5-1 .5 .3 .5 .2 .5 .4 .5-.2 .5-.3 .5-.3 .5 .8 .5 0 .5 .6 .5-1.1 .5 .7 .5-1.2 .5 .3 .5-.1 .5 .1 .5-.2 .5 .1 .5 .2 .5-.2 .5 .4 .5-.3 .5 .1 .5 .5 .5-.4 .5-.1 .5 0 .5 0 .5 .2 .5-.5 .5 .8 .5 .3 .5-.2 .5-.5 .5-.4 .5 .5 .5 .3 .5 .4 .5-.3 .5 0 .5 .8 .5-.8 .5 .8 .5 0 .5-.8 .5 .7 .5-.3 .5-.1 .5-.3 .5 .1 .5 .8 .5-.3 .5 .2 .5-.5 .5 .3 .5 0 .5-.6 .5-.1 .5 .8 .5-.2 .5-.5 .5 .3 .5 .2 .5 .4 .5-1.1 .5 .5 .5 .5 .5-.9 .5 .5 .5-1.6 .5 1.5 .5-.6 .5-.8 .5 1 .5 .1 .5 .1 .5 0 .5-.5 .5-.3 .5 .1 .5 .2 .5 .2 .5-.4 .5 .2 .5 .4 .5-.2 .5 .8 .5-.1 .5-1.3 .5 .3 .5-.3 .5 0 .5 .7 .5-.6 .5 0 .5 .2 .5 .5 .5-.5 .5 0 .5 .4 .5-.2 .5 0 .5 .2 .5-.8 .5 .5 .5-.4 .5 .7 .5-.1 .5-.7 .5 .9 .5-1 .5 1 .5-.4 .5-.4 .5-.1 .5 .3 .5 .1 .5-.2 .5 .5 .5-.8 .5 .6 .5 0 .5-.7 .5 .8 .5-.6 .5-.5 .5 .8 .5 .1 .5 .5 .5-.6 .5 .8 .5 0 .5-.1 .5 .1 .5-.4 .5-.3 .5 .4 .5 .2 .5-.3 .5-.2 .5-.5 .5 .9 .5-.1 .5-.7 .5 .6 .5 .3 .5-.4 .5 .4 .5 0 .5-.9 .5 .5 .5 .3 .5 .2 .5 .2 .5-1.3 .5 .7 .5 .3 .5 .2 .5 .2 .5-1 .5 .2 .5-.3 .5 .8 .5-.9 .5 1 .5-.1 .5-.2 .5-1 .5 .5 .5 .6 .5-.9 .5 .4 .5 0 .5 .4 .5-.3 .5 0 .5-.4 .5 .1 .5-.1 .5 .3 .5-.4 .5 .4 .5-1.2 .5 1.1 .5-.7 .5 .4 .5-.6 .5 .2 .5 0 .5-1.1 .5-.2 .5-.7 .5-.6 .5-1.9 .5-1 .5-2 .5-2.7 .5-2.9 .5-4.1 .5-2.7 .5-4.5 .5-3.4 .5-4.4 .5-2.4 .5-.2 .5 0 .5 3 .5 3 .5 4.1 .5 4.3 .5 3.9 .5 4.3 .5 2.5 .5 1.8 .5 2.8 .5 .6 .5 1.7 .5 .3 .5 .7 .5 1.2 .5-.5 .5 .2 .5 .2 .5 .2 .5 .7 .5-.9 .5 0 .5 .8 .5-.8 .5 .5 .5 .6 .5-.4 .5-.2 .5-.1 .5 0 .5 .1 .5 .3 .5 .4 .5-.1 .5-.6 .5-.1 .5 .5 .5-1 .5 .5 .5 .1 .5-.4 .5 .1 .5 .5 .5-.8 .5 .3 .5 .1 .5 .3 .5-.6 .5 1 .5-.5 .5 0 .5 0 .5-.1 .5-.1 .5 .9 .5-.4 .5 0 .5 .4 .5-.6 .5 .6 .5-.3 .5-.3 .5 .7 .5-.9 .5 .9 .5-.6 .5 .6 .5 .4 .5-.3 .5-.5 .5 .3 .5-.1 .5-.3 .5 0 .5 .5 .5 .2 .5-.8 .5 .7 .5 .2 .5-.1 .5-.4 .5 .8 .5-.8 .5 .7 .5 .4 .5-1.4 .5 .9 .5 0 .5-.1 .5-.4 .5 .1 .5-.6 .5 .5 .5 0 .5-.7 .5-.3 .5-.1 .5-.1 .5-.3 .5-.3 .5-.3 .5-.8 .5-.9 .5 1.1 .5 .1 .5-1.3 .5 .2 .5 .3 .5 .2 .5 0 .5 .4 .5-.4 .5 .4 .5 .3 .5-.1 .5 1 .5 .1 .5 .4 .5-.2 .5 .8 .5-.5 .5 .8 .5-1 .5 .8 .5 .8 .5-.3 .5 .3 .5-.7 .5 1.3 .5-.3 .5-.3 .5 .2 .5-.1 .5 .4 .5-.5 .5-.7 .5 .5 .5 .5 .5-.3 .5-.4 .5 .4 .5-.3 .5 .2 .5-.9 .5 .3 .5 .5 .5-.3 .5 .2 .5 .6 .5-.9 .5 .2 .5-.3 .5 0 .5 .2 .5-.6 .5-.2 .5 1.3 .5-.5 .5 .4 .5-.3 .5 0 .5 .2 .5 0 .5-.7 .5 .9 .5-.8 .5 .4 .5 1 .5-1 .5 .6 .5-.8 .5 .4 .5-.2 .5 .1 .5-.5 .5 0 .5 .5 .5-.7 .5 .3 .5 .5 .5-.5 .5-.1 .5-.1 .5 .5 .5-.2 .5 .1 .5-.2 .5 .7 .5-1.1 .5-.8 .5 .6 .5-.3 .5-.3 .5-1.1 .5 .7 .5-.9 .5-.4 .5-1.1 .5 .4 .5-.5 .5 .3 .5-.9 .5-.4 .5 .5 .5-.3 .5 .7 .5-.2 .5 .7 .5 .3 .5 .6 .5 .2 .5 .3 .5 .7 .5 .2 .5 .6 .5 .1 .5-.5 .5 1.1 .5 .7 .5-.3 .5 .2 .5 .1 .5-.3 .5-.3 .5 .8 .5 .1 .5-.1 .5-.1 .5 0 .5-.2 .5 .1 .5-.1 .5 .1 .5-.6 .5 .1 .5 .4 .5-.5 .5-.9 .5 .8 .5-1.1 .5 1.3 .5-.8 .5-.4 .5-1 .5-.8 .5-.2 .5-.6 .5-1.1 .5-.3 .5-.5 .5-.7 .5-1.2 .5-.8 .5 .6 .5-.3 .5 .5 .5 .7 .5 .5 .5 0 .5 1 .5 .9 .5 .1 .5 .8 .5 1 .5 .2 .5 .4 .5 .4 .5 .7 .5 0 .5 .8 .5-.2 .5 .8 .5 0 .5-.9 .5 .9 .5-.5 .5 .6 .5-.3 .5-.2 .5 .3 .5-.5 .5 .3 .5 0 .5-.2 .5 .1 .5-.5 .5 .6 .5-.7 .5 .6 .5 0 .5 0 .5-.5 .5 1.3 .5-1.3 .5 .2 .5-.4 .5 .7 .5-.7 .5 .5 .5-.8 .5 .4 .5-.3 .5 .4 .5-.6 .5-.3 .5 .5 .5-.8 .5 0 .5 .6 .5-1.1 .5 .9 .5-.6 .5-.3 .5 .3 .5 .1 .5-.6 .5 0 .5 .3 .5-.1 .5-.4 .5-.4 .5-.1 .5 .1 .5 .5 .5-.1 .5-.1 .5 .4 .5-.6 .5 .1 .5 0 .5 1 .5-1.4 .5 1 .5 .2 .5-.1 .5 1 .5-.3 .5 0 .5-.5 .5 .7 .5-.2 .5 .3 .5 .2 .5-.1 .5 .5 .5 .5 .5-.2 .5-.2 .5-.7 .5 1.2 .5 0 .5-.4 .5 0 .5 .4 .5-.5 .5 .6 .5-.7 .5 .1 .5 .4 .5-.6 .5 .6 .5 .2 .5-.7 .5 .8 .5-.5 .5 .4 .5-.2 .5-.3 .5 0 .5-.5 .5 .3 .5 0 .5 .8 .5-.3 .5-.9 .5 .7 .5-.2 .5-.3 .5 .2 .5 .1 .5-.6 .5 0 .5 .1 .5-.5 .5 .4 .5-.2 .5-.3 .5-.1 .5 .4 .5 .3 .5-.3 .5-.6 .5 .8 .5-.3 .5 .2 .5 .4 .5-1.3 .5 .5 .5-.3 .5-.2 .5 1.9 .5-.7 .5-1.9 .5 1.5 .5-.8 .5 1.3 .5-.9 .5-.3 .5 .2 .5 .2 .5-.4 .5-.3 .5 0 .5 .5 .5-1.7 .5 1.1 .5-.3 .5-.4 .5 1.2 .5-2.3 .5 .9 .5-.6 .5 1.6 .5-1.3 .5 .6 .5 .4 .5-2.7 .5 2.7 .5-1.7 .5 .7 .5 .1 .5 1.4 .5-.1 .5 1.6 .5-2.4 .5-1.1 .5 0 .5 1.9 .5 1.6 .5-2.1 .5-1.5 .5 1.5 .5 0 .5-12.6 .5-7.5 .5-9.3 .5 6.1 .5 26.1" stroke="#ff0000"/>
<path d="M20,151.3l.5 1.8 .5 1.2 .5 1 .5 .4 .5 .7 .5 .7 .5 .2 .5 0 .5 .5 .5-.3 .5-.4 .5-.3 .5 .4 .5 .3 .5 .2 .5 .2 .5-.7 .5-.1 .5 .6 .5 .1 .5-.7 .5 .3 .5 .4 .5-.5 .5-.2 .5-.8 .5 1.3 .5-.3 .5-.3 .5-.2 .5-.4 .5 .5 .5 0 .5 .4 .5-.9 .5 1.1 .5-.6 .5 .5 .5-.9 .5 .5 .5 .4 .5-.5 .5-.6 .5 .5 .5 .3 .5-.7 .5-.1 .5 .7 .5-.5 .5 .7 .5-.7 .5-.3 .5 .4 .5 .9 .5-.9 .5 .3 .5 .1 .5-.5 .5 .8 .5-.4 .5 0 .5-.8 .5-.1 .5-.4 .5 1 .5-.1 .5 .4 .5 .2 .5-.7 .5 0 .5 .2 .5 .5 .5-1 .5 .6 .5-.4 .5 0 .5 .5 .5-.7 .5-.1 .5 .8 .5-.3 .5-.1 .5 .1 .5 .3 .5-.4 .5 .5 .5-.1 .5 .4 .5-.1 .5-.3 .5-.5 .5 0 .5-.7 .5 .8 .5-2.4 .5-1.8 .5-3 .5-6.1 .5-6.7 .5-8.4 .5-9.7 .5-9.1 .5-6.5 .5-2.2 .5 1.6 .5 5.7 .5 8.6 .5 8.8 .5 9.9 .5 7.3 .5 4.9 .5 4.3 .5 2.2 .5 1.3 .5 .6 .5 .5 .5 .2 .5 .7 .5 0 .5 0 .5-.2 .5-.2 .5 .7 .5-2 .5 .7 .5-.9 .5-.7 .5-.5 .5 .1 .5-.1 .5 .4 .5 1.1 .5-.1 .5 1.4 .5 .3 .5-1.7 .5 .8 .5 .8 .5-.1 .5-.1 .5 .1 .5 .1 .5 0 .5 .4 .5-.8 .5 .3 .5-1.1 .5 .6 .5-.6 .5 1 .5 .3 .5-.9 .5-.9 .5 .3 .5-.2 .5-.2 .5-.1 .5-.6 .5-2.2 .5 .7 .5-2 .5-1.5 .5-1 .5-2.8 .5-2.8 .5-2.6 .5-2 .5-2.2 .5-1.9 .5-2.1 .5-.8 .5 1.1 .5 .3 .5 2.7 .5 1.9 .5 2.5 .5 2.4 .5 2.6 .5 1.9 .5 1.7 .5 1.8 .5 1.1 .5 1.4 .5 .6 .5 .4 .5 .5 .5 .2 .5 1 .5-.5 .5-.2 .5 .2 .5 .4 .5-.3 .5 0 .5-.1 .5 .1 .5 0 .5 0 .5-1 .5 0 .5-.9 .5 1.1 .5-.4 .5-.6 .5-1.4 .5-.9 .5-2.1 .5-2.2 .5-3.3 .5-3 .5-3.8 .5-3.9 .5-4.6 .5-6 .5-4.9 .5-5 .5-4.5 .5-3.3 .5-.9 .5 .2 .5 2.7 .5 3.7 .5 4.6 .5 5.1 .5 5.5 .5 4.5 .5 5.4 .5 3.1 .5 4.3 .5 3 .5 1.9 .5 1.6 .5 2.3 .5 .6 .5 1.3 .5 .6 .5 .2 .5 .3 .5 .7 .5-.1 .5-.3 .5 .6 .5 .3 .5-.1 .5 .2 .5-.1 .5 .1 .5-.2 .5-.1 .5 1.1 .5-.6 .5 .4 .5-.6 .5 .7 .5-.3 .5 1.6 .5-1.5 .5 0 .5 .9 .5 .1 .5-1.3 .5 1 .5 .2 .5-.8 .5 .8 .5-.5 .5-.3 .5 .2 .5-.1 .5-.5 .5 1.2 .5-1.3 .5-.4 .5 .3 .5-.8 .5 0 .5-1.2 .5-.4 .5-.7 .5-.7 .5-.9 .5-.7 .5 0 .5-1.6 .5-.5 .5-.3 .5 .2 .5-.2 .5 .4 .5-.6 .5 1.1 .5 .4 .5 .6 .5 .9 .5-.1 .5 1.6 .5 .7 .5 0 .5 1.1 .5 1.2 .5-.3 .5 .8 .5 0 .5 0 .5 .2 .5 .3 .5 .8 .5-.1 .5-.5 .5 .7 .5-.4 .5-.2 .5 .5 .5-.5 .5-.2 .5 1.1 .5-1.2 .5 .9 .5-.8 .5 .6 .5 0 .5-.1 .5-.7 .5 .9 .5 0 .5-.3 .5 .4 .5 .4 .5-.6 .5 .4 .5-.5 .5 .6 .5 .2 .5 .8 .5-.6 .5-.2 .5 .5 .5-.9 .5 .8 .5-.6 .5 0 .5 .7 .5-.3 .5 .4 .5-1.1 .5 .7 .5-.3 .5 .1 .5-.7 .5 1.1 .5-.3 .5-.5 .5-.1 .5 .1 .5 .9 .5-.7 .5-.1 .5 .3 .5-.2 .5 0 .5 .2 .5-.2 .5 .2 .5-.8 .5 .4 .5-.2 .5 .2 .5-.1 .5-.2 .5 .1 .5 .5 .5-.6 .5-.3 .5 .7 .5 .2 .5-.5 .5 .1 .5-.3 .5 .2 .5 .6 .5-.1 .5-.3 .5-.1 .5-.5 .5 .7 .5 .1 .5 .3 .5 .3 .5-.6 .5 .3 .5-.8 .5 .9 .5-.1 .5 .2 .5-.3 .5-.1 .5 .4 .5-.8 .5 .5 .5 .2 .5-.7 .5-.1 .5 .6 .5-.1 .5 .2 .5 0 .5-.5 .5 .4 .5 .3 .5-.5 .5 0 .5-.3 .5 .7 .5 .5 .5-1.3 .5 .8 .5 0 .5-.6 .5 .1 .5-.3 .5 .1 .5 .4 .5 .1 .5-.2 .5 .3 .5-.3 .5-.6 .5 1.1 .5-.2 .5-.7 .5 1 .5-.5 .5-.2 .5 .7 .5-1.7 .5 .4 .5 .9 .5-.3 .5-.3 .5 1 .5-.4 .5-.7 .5 .3 .5 .6 .5 .4 .5-1.5 .5 .9 .5-.2 .5-.5 .5 .6 .5-.6 .5 .4 .5 .9 .5-.5 .5 .1 .5 0 .5-.1 .5 .2 .5-.8 .5 .3 .5 .5 .5-.6 .5 .1 .5 .7 .5 .2 .5-.8 .5-.1 .5 .6 .5-.1 .5-.3 .5 .5 .5 0 .5-.2 .5 1.2 .5-.6 .5-.3 .5 .1 .5 .8 .5-.8 .5-.7 .5 .3 .5-.1 .5-.3 .5 .3 .5-.1 .5-.2 .5-.2 .5 .5 .5-1 .5 .9 .5-.4 .5 0 .5-1 .5 1.5 .5-1.4 .5 .3 .5 .6 .5-.5 .5 0 .5-.7 .5 .7 .5 .3 .5 .1 .5-.3 .5 .2 .5 .1 .5-.5 .5 0 .5 1.1 .5-1.1 .5 .8 .5-.4 .5 .5 .5-.8 .5 .5 .5-.1 .5-.2 .5 .2 .5-.4 .5 .2 .5-.1 .5 .4 .5-.4 .5-.5 .5 .3 .5 .1 .5-.4 .5 .8 .5-.4 .5 0 .5-.7 .5 0 .5 .5 .5-1.2 .5 .6 .5-.4 .5-.6 .5-.2 .5-1 .5-.3 .5-1.7 .5-1.4 .5-.8 .5-3.1 .5-3.3 .5-2 .5-4.2 .5-4.8 .5-2.2 .5-2.9 .5-2.6 .5-.8 .5-.7 .5 1.7 .5 1.9 .5 3.8 .5 4.2 .5 3.4 .5 3.4 .5 2.4 .5 3.5 .5 2 .5 2.7 .5 .9 .5 1.6 .5 .3 .5 1.8 .5-.8 .5 .9 .5 1.2 .5-.7 .5-.3 .5 .7 .5 .2 .5 0 .5-1 .5 .9 .5-.9 .5 1.6 .5-.7 .5-.2 .5 .5 .5-.1 .5-.6 .5 1.1 .5-.7 .5-.6 .5 1.2 .5 0 .5-.1 .5-.3 .5-.6 .5 .7 .5 .4 .5-.5 .5 .3 .5-1 .5 .7 .5-.1 .5-1 .5 0 .5 .3 .5 .3 .5 .1 .5-.2 .5 0 .5 0 .5 .1 .5 .3 .5-.1 .5-.1 .5 .1 .5-.2 .5 .5 .5-.4 .5 .9 .5-.7 .5 .2 .5-.4 .5 .2 .5 .2 .5 0 .5-.3 .5-.2 .5 .4 .5 0 .5 .2 .5 .2 .5-.7 .5-.7 .5 .7 .5-.8 .5 .2 .5 .8 .5-.2 .5-.6 .5 0 .5 .1 .5-.7 .5 .8 .5-.4 .5 .8 .5-1.3 .5 .7 .5-.8 .5 .6 .5-1 .5 .6 .5-.7 .5-.4 .5 .1 .5 0 .5-.3 .5 .2 .5-.5 .5-1.6 .5 .7 .5-.8 .5 .5 .5 .3 .5-.8 .5 .2 .5 .6 .5 0 .5 .9 .5-.3 .5 .4 .5 .7 .5-.6 .5 .5 .5-.1 .5 .8 .5 .5 .5 .4 .5-.4 .5-.1 .5 .2 .5-.2 .5 .8 .5 .5 .5-1.4 .5 .1 .5 1.5 .5-1.2 .5 .8 .5-.6 .5 .9 .5 0 .5-.3 .5 .3 .5-.3 .5 .2 .5 .5 .5-.3 .5-.7 .5-.1 .5 .2 .5 0 .5 .1 .5-.3 .5 .5 .5-.2 .5 .1 .5-.2 .5 .3 .5-.8 .5 1.1 .5-.5 .5 .1 .5 0 .5 .2 .5-.1 .5-.2 .5-.1 .5-.6 .5 .8 .5-.2 .5 0 .5 1.1 .5-1.7 .5 .8 .5 .5 .5-.1 .5 .2 .5-1 .5 .1 .5 .7 .5-.4 .5 .8 .5-.6 .5 0 .5 .1 .5-.3 .5 .2 .5-.4 .5 .2 .5-.2 .5 .2 .5-.8 .5-.2 .5 .6 .5-.3 .5-.7 .5 0 .5-.6 .5 .9 .5-1.9 .5 .9 .5-1.4 .5 .1 .5-.7 .5-.4 .5 .3 .5-.2 .5-.6 .5-.3 .5 1.3 .5-.1 .5-.3 .5 .2 .5 .6 .5 .3 .5 .8 .5-.5 .5 .8 .5 0 .5 1.2 .5 .5 .5-.5 .5 .4 .5 .6 .5-.6 .5-.1 .5 .9 .5-.2 .5-.2 .5 .7 .5-.4 .5-.8 .5 .9 .5-.1 .5 .8 .5-.7 .5-.1 .5 .3 .5-.1 .5-.7 .5 .6 .5-.3 .5 .7 .5 .2 .5-1.5 .5-.2 .5-.2 .5-.3 .5-.4 .5-.3 .5-.2 .5-1.6 .5-.8 .5-.9 .5 .4 .5-.7 .5-1.7 .5-.6 .5 .3 .5 .2 .5 0 .5-.1 .5 .5 .5 .4 .5 .2 .5 1.7 .5 0 .5 .3 .5 .9 .5 .2 .5 1.2 .5 .9 .5-.5 .5 1.3 .5 .7 .5-.5 .5-.4 .5 .2 .5 .3 .5-.3 .5 .1 .5 .5 .5 0 .5 .4 .5-.7 .5 1.3 .5-.3 .5-.1 .5-.6 .5 1 .5-.8 .5 .8 .5-.3 .5-.8 .5 .2 .5 .9 .5-.4 .5-.5 .5 .1 .5 0 .5-.5 .5 .2 .5-.3 .5 .1 .5 .2 .5-.6 .5 .5 .5-.4 .5 .2 .5-.1 .5 0 .5-.4 .5-.2 .5-.5 .5 .1 .5-.8 .5 .1 .5 .2 .5-.6 .5 .1 .5-.8 .5 .8 .5-.9 .5 .3 .5-.3 .5 .3 .5-.5 .5-.3 .5-.3 .5 .6 .5-.2 .5 .7 .5 .5 .5-1.3 .5 .5 .5 .9 .5 .5 .5-.1 .5 .2 .5 .2 .5 .3 .5 .6 .5-.2 .5-.6 .5 .5 .5 .4 .5-.2 .5 .3 .5 0 .5 .1 .5 .6 .5-.4 .5-.2 .5 .2 .5 .3 .5 .8 .5-.8 .5 .5 .5-.4 .5-1.2 .5 1 .5-.6 .5-.2 .5 0 .5 1.1 .5-1.5 .5 .3 .5 .7 .5-.3 .5-1 .5 .5 .5-.2 .5 0 .5 .4 .5-.6 .5 0 .5 .7 .5-1.4 .5 .5 .5 .3 .5-.7 .5 .2 .5-.3 .5 .6 .5-.3 .5 .5 .5 .1 .5-.4 .5-.2 .5 .3 .5-.1 .5-.6 .5 1.1 .5-.4 .5 .3 .5-1.2 .5 1.2 .5 .7 .5-.8 .5-1.3 .5 .9 .5 0 .5 .1 .5-.3 .5 .5 .5-.7 .5 .5 .5-.7 .5 .6 .5 .8 .5-1.3 .5 1 .5-1.4 .5 .5 .5 .1 .5 1.4 .5-2 .5 2 .5-2.8 .5 1.4 .5 1.1 .5-.2 .5-2 .5-.3 .5 2.5 .5-2.6 .5 2.3 .5-1.5 .5 .7 .5 3.1 .5-1 .5-1 .5-3.2 .5 2.4 .5-.4 .5-.3 .5 2.3 .5-4.9 .5 3.2 .5-.3 .5-1.5 .5 4.3 .5-5.3 .5 2.3 .5 .1 .5-4.3 .5 1.4 .5 .9 .5-8.9 .5-5.8 .5-6.8 .5 1.8 .5 18.6" stroke="#ff0000"/>
<path d="M20,159.1l.5 2.6 .5 1.4 .5 .1 .5 .8 .5 1.1 .5-.3 .5 .3 .5 1.1 .5-.9 .5 .1 .5-.5 .5 .5 .5 0 .5 1.2 .5-.2 .5-1 .5 1.3 .5-.5 .5-.3 .5 .4 .5-.2 .5-.5 .5-.3 .5 .3 .5 .4 .5-.2 .5-.1 .5 .7 .5-.9 .5 .8 .5-.5 .5 .2 .5-.5 .5 .4 .5-.3 .5-.4 .5 .6 .5-.1 .5 .3 .5-.2 .5-.6 .5 .1 .5-.8 .5 .5 .5 .9 .5 0 .5-.4 .5-.2 .5 0 .5-.1 .5-.9 .5 .3 .5 .7 .5 0 .5-.4 .5-.2 .5-.1 .5 0 .5-.2 .5-.4 .5 .9 .5-.2 .5 .1 .5 .8 .5-.4 .5-.4 .5 .5 .5-.7 .5 1.1 .5-.3 .5-.1 .5 .4 .5 .4 .5-.7 .5-.2 .5 1.3 .5-.8 .5 .6 .5-.8 .5 .4 .5-.4 .5 .5 .5-.3 .5-.2 .5 .9 .5-.5 .5-1 .5 .7 .5-.3 .5-.2 .5 .1 .5-.2 .5-.1 .5-.9 .5-1.6 .5-1.5 .5-2.7 .5-5.9 .5-6.1 .5-8.6 .5-9.8 .5-8.9 .5-7.4 .5-3.1 .5 1.3 .5 6.5 .5 9 .5 8.7 .5 9.7 .5 6.1 .5 6.1 .5 3.8 .5 3.4 .5 .5 .5 1.3 .5-.7 .5 1 .5 .3 .5-.2 .5-1.1 .5 1.1 .5 .2 .5-.1 .5-.8 .5-1.4 .5 0 .5-.1 .5-1.1 .5 .5 .5-.2 .5 .7 .5 .8 .5-.1 .5 1.9 .5-.9 .5 .3 .5-.4 .5 .3 .5-.1 .5-.5 .5 0 .5 .7 .5-.2 .5-1 .5 .2 .5 .7 .5 .1 .5 .2 .5-.7 .5 .7 .5-.4 .5-.1 .5 0 .5 .4 .5-.3 .5-.1 .5-1 .5-.2 .5-.9 .5-.6 .5-.9 .5-1.3 .5-1.1 .5-2 .5-1.9 .5-2.6 .5-2.1 .5-2.8 .5-1.9 .5-1.9 .5-1 .5-.6 .5 .2 .5 1.4 .5 3.3 .5 1.7 .5 2.5 .5 2.1 .5 2 .5 3.3 .5 .1 .5 1.8 .5 1.1 .5 .4 .5 .6 .5 .7 .5 .5 .5 .2 .5 .7 .5-.7 .5 .7 .5 .5 .5-.3 .5-.8 .5-.8 .5 1.5 .5-.3 .5-.5 .5 .5 .5-.8 .5-.1 .5-.8 .5 0 .5-.9 .5-.9 .5-.4 .5-1.8 .5-2.5 .5-1.5 .5-2.8 .5-4 .5-3.8 .5-4.4 .5-5 .5-5 .5-4.8 .5-5.3 .5-2.9 .5-4 .5-1.2 .5 1.3 .5 2.3 .5 2.4 .5 4.4 .5 4.6 .5 6 .5 4.7 .5 4.4 .5 4.8 .5 4.1 .5 2.9 .5 3.2 .5 1.7 .5 1.4 .5 1.1 .5 1.2 .5 1 .5 .4 .5 .5 .5 0 .5 .5 .5 .4 .5-.4 .5-.3 .5 1.3 .5-.3 .5-.3 .5 .4 .5-.1 .5-.5 .5 .6 .5-.4 .5 .7 .5-.1 .5 .6 .5-.5 .5 .2 .5-.2 .5 0 .5-.4 .5 1 .5-.3 .5-.3 .5 .3 .5-.3 .5-.1 .5 .4 .5 .3 .5-.7 .5-.5 .5 .2 .5 .7 .5-1.2 .5 .5 .5-1 .5 0 .5-.8 .5-1.2 .5-.2 .5 .4 .5-1.7 .5-.4 .5-1.1 .5-.6 .5-.4 .5-.4 .5 .4 .5-1.1 .5 0 .5 0 .5 .1 .5 .4 .5 1.5 .5-.4 .5 2 .5 .5 .5 .2 .5 .3 .5 1.1 .5 .5 .5 .9 .5-.3 .5 .5 .5 .4 .5 .1 .5 .1 .5-.3 .5 .1 .5 .5 .5 .3 .5 .5 .5 .6 .5-.2 .5-.5 .5 .6 .5-.7 .5-.2 .5 1.2 .5-1.3 .5 .3 .5 .1 .5 .7 .5-.8 .5 .5 .5-.4 .5-.3 .5 .6 .5-.1 .5-.5 .5 .1 .5 .1 .5 .7 .5-.2 .5-.1 .5 .1 .5-.4 .5 .4 .5-.4 .5-.3 .5 .2 .5 .4 .5-.1 .5 .4 .5-1.1 .5 .6 .5 .2 .5-.5 .5 .5 .5-.3 .5-.3 .5 .9 .5-1 .5 1 .5-.6 .5-.2 .5 .1 .5 .1 .5-.1 .5 .5 .5-.8 .5 1.3 .5-.2 .5 .3 .5-.9 .5-.5 .5 .7 .5 .2 .5 .3 .5-.3 .5 .2 .5 .1 .5-.6 .5 1.4 .5-1.2 .5 .6 .5 .3 .5-.7 .5 .3 .5 .6 .5-.7 .5 .5 .5-.4 .5 0 .5 .1 .5-.4 .5-.1 .5 .4 .5-.3 .5 0 .5-.7 .5 .4 .5 .4 .5-.2 .5-.3 .5-.4 .5-.1 .5 .4 .5 .4 .5-.6 .5 .5 .5-.6 .5 .6 .5-.8 .5 .5 .5-.5 .5 .8 .5 0 .5-.6 .5 .2 .5 .2 .5-.4 .5 .3 .5 .1 .5 .7 .5 .3 .5-.7 .5 .1 .5 .3 .5-.3 .5 .1 .5 .5 .5-.3 .5-.1 .5-.2 .5 .8 .5-.9 .5 .3 .5-.5 .5 .1 .5 .3 .5-.2 .5 .3 .5-.2 .5-.6 .5-.3 .5 1.3 .5-.6 .5 .8 .5-.6 .5-.3 .5 .6 .5-.3 .5 .1 .5-.3 .5 .6 .5 .2 .5-.6 .5 1 .5-1 .5 .4 .5-.8 .5-.1 .5 1.7 .5-.3 .5-.1 .5-1.1 .5 .7 .5 .1 .5-.2 .5 .1 .5-.5 .5 .3 .5-.4 .5 .2 .5 .3 .5-.5 .5 .1 .5-.1 .5 .2 .5 .3 .5-.4 .5 0 .5-.8 .5 .4 .5 .4 .5-.7 .5 .1 .5-.2 .5 .9 .5-.8 .5-.1 .5 .5 .5 .2 .5-.3 .5 .2 .5-.3 .5-.1 .5-.1 .5 0 .5 0 .5 .5 .5-.2 .5 .1 .5 .3 .5-.2 .5-.5 .5 .3 .5-.1 .5-.3 .5 .9 .5-.5 .5 0 .5 .1 .5 .8 .5-.5 .5 .5 .5-.4 .5-.2 .5 .4 .5 0 .5-.2 .5-.4 .5 .2 .5-.3 .5 .3 .5 .1 .5 .6 .5-.1 .5-.3 .5 .1 .5-.3 .5 .9 .5-.5 .5 .4 .5-1 .5 0 .5 .2 .5-.4 .5 0 .5-.6 .5 .7 .5-.5 .5 .2 .5-.5 .5-.8 .5 .6 .5 0 .5-1.4 .5-.4 .5-.5 .5-1 .5-1.9 .5-.3 .5-2.3 .5-3.1 .5-3.3 .5-2.3 .5-2.7 .5-3.7 .5-3 .5-3.3 .5-1.3 .5-1.2 .5 2 .5 1.1 .5 1.5 .5 3.2 .5 4.2 .5 3.2 .5 3 .5 3.2 .5 3 .5 1.4 .5 .8 .5 2 .5 .6 .5 .9 .5 1 .5 .2 .5 0 .5 .6 .5-.1 .5 .6 .5-.2 .5 .4 .5-.2 .5 .4 .5-.3 .5 .1 .5-.2 .5 .3 .5-.7 .5 1.8 .5-1.3 .5 .3 .5-.2 .5 0 .5 .3 .5-.3 .5 0 .5-.3 .5 .1 .5-.1 .5 1.2 .5-1.2 .5 .1 .5 .5 .5 .5 .5-1.2 .5 0 .5 .7 .5 .1 .5-.7 .5-.2 .5 .4 .5 .6 .5-.3 .5 .3 .5-.3 .5 0 .5 .2 .5-.3 .5 .2 .5-.5 .5 .1 .5 .5 .5-.3 .5-.2 .5 .6 .5-.1 .5-.2 .5-.2 .5 .6 .5 .7 .5-1.3 .5-.3 .5 .4 .5-.1 .5-.1 .5 .1 .5 .8 .5 .1 .5 .2 .5-.2 .5-.5 .5 .6 .5-.7 .5 .1 .5-.3 .5 .9 .5-.1 .5-.6 .5 0 .5 0 .5 0 .5 .1 .5-.5 .5 0 .5-1 .5 .3 .5-.8 .5 1.1 .5-.4 .5-.5 .5-.1 .5 .1 .5-.6 .5-1.2 .5 .4 .5-.9 .5 .5 .5-.1 .5 .5 .5 .3 .5-.4 .5 .5 .5 .5 .5 .1 .5 .2 .5-.6 .5 1.1 .5 .8 .5 0 .5-.5 .5 .7 .5 .4 .5-.3 .5 .8 .5-.5 .5 .3 .5 .2 .5 .9 .5-1 .5 0 .5 .5 .5-.5 .5 .2 .5-1 .5 1 .5-.1 .5-.6 .5 1 .5-.6 .5-.1 .5-.4 .5-.2 .5 .4 .5-.4 .5 .8 .5 .1 .5-.6 .5-.4 .5 .4 .5-.2 .5 .4 .5 0 .5-.2 .5 .2 .5 .4 .5 .3 .5-.9 .5 .5 .5-.4 .5-.3 .5 1 .5-.4 .5 0 .5 .1 .5-.2 .5-.4 .5 1.1 .5-.3 .5-.3 .5 .3 .5 .2 .5-.6 .5 .3 .5-.4 .5 .4 .5-.4 .5 1.1 .5-1.2 .5 .4 .5-.1 .5-.3 .5 .4 .5-.4 .5-.2 .5 .1 .5-.4 .5 .7 .5-.4 .5 0 .5-1.2 .5 .4 .5-.7 .5 .1 .5 .1 .5-.7 .5-.6 .5 .2 .5-.3 .5 .1 .5-1.7 .5 .8 .5-.3 .5-.2 .5 .6 .5-.4 .5-.1 .5 .8 .5 .6 .5 1.2 .5-.7 .5 .1 .5 0 .5 .9 .5 .2 .5 .4 .5-.5 .5 .3 .5-.5 .5 1 .5-.7 .5-.5 .5 1.6 .5-.3 .5-.1 .5-.1 .5-.6 .5 .8 .5-.9 .5 1.1 .5-.7 .5-.9 .5 1.1 .5 .4 .5-1 .5 .5 .5-.6 .5-.2 .5-.9 .5 1.3 .5-.9 .5 .1 .5-1 .5-.4 .5 .3 .5-1.3 .5-.7 .5-1.1 .5-.2 .5-.5 .5-1.1 .5-.5 .5-.8 .5 .8 .5-.8 .5 .4 .5 1.1 .5-.2 .5 .1 .5 1.1 .5 1 .5 1.6 .5 .2 .5 .5 .5 1.1 .5 .7 .5-.4 .5 1.2 .5 .1 .5 0 .5-1 .5 1.2 .5 .5 .5-.6 .5 1.1 .5-.9 .5-.4 .5 .7 .5-.1 .5 .2 .5-.4 .5 .6 .5-.7 .5 .3 .5-.5 .5 .2 .5 .4 .5-.3 .5 .1 .5 .1 .5 .2 .5 .2 .5 0 .5 .1 .5-.4 .5-.4 .5-.4 .5 .4 .5-.3 .5-.5 .5 1.2 .5-1.5 .5 .7 .5-.1 .5-.5 .5 1 .5-1.3 .5-.5 .5 .8 .5-1.2 .5-.5 .5 0 .5-.1 .5 .1 .5 0 .5-.9 .5 .6 .5 .7 .5-1.3 .5 .2 .5 .3 .5 .2 .5-.8 .5 0 .5 0 .5 1 .5 0 .5-1.1 .5 .2 .5 .5 .5 .1 .5 1 .5 .1 .5 .9 .5-.3 .5 0 .5 .6 .5-.7 .5-.1 .5 .8 .5 .5 .5-1 .5 1.2 .5 0 .5-.4 .5 .3 .5-.2 .5 .2 .5 .3 .5-.6 .5 .7 .5-.1 .5 0 .5-1.2 .5 .1 .5 1 .5-.6 .5-.1 .5-.1 .5-.2 .5 .4 .5-.3 .5 0 .5 .4 .5-.7 .5 .9 .5-1.4 .5 1.9 .5-1.6 .5 .7 .5 .1 .5-.4 .5 .3 .5-.4 .5-.7 .5 .9 .5 .3 .5-.7 .5-.5 .5 .5 .5 .4 .5-.1 .5 .4 .5-.2 .5-.1 .5-1.2 .5 2.1 .5-1.1 .5 .5 .5-.7 .5 .1 .5 .1 .5 .9 .5 0 .5-.6 .5 .9 .5-1.6 .5 .6 .5-.7 .5 1.3 .5-1 .5 .7 .5 .6 .5-3.2 .5 3.5 .5-1.6 .5-.6 .5-1.6 .5 1.5 .5-2 .5 2.2 .5-.3 .5 2.1 .5-2.4 .5 1.5 .5 .1 .5 1.1 .5-2.8 .5 1.2 .5-2.9 .5 .5 .5 1 .5 .3 .5-1.6 .5 1 .5 1.6 .5-1.7 .5 .4 .5-1.1 .5 3.5 .5 .7 .5-2.5 .5-.6 .5 3.1 .5-2 .5-2.1 .5-1.2 .5 1.4 .5 5.2 .5-5.2 .5 6.7 .5-5.6 .5-12.6 .5-3.1 .5-9.2 .5 3.7 .5 20.5" stroke="#ff0000"/>
<path d="M20,168.1l.5 1.5 .5 2.2 .5 .2 .5 .5 .5 0 .5 .7 .5 .5 .5 .2 .5 0 .5 .3 .5-.3 .5 .5 .5-.5 .5 .4 .5 .1 .5 .7 .5-.1 .5-.1 .5-.4 .5 .3 .5 .5 .5 .2 .5-1 .5 .4 .5 .2 .5 .1 .5-.1 .5 .3 .5-.8 .5 1.1 .5-1.1 .5 .5 .5 .1 .5 .2 .5-.1 .5 0 .5 .1 .5-.6 .5 .3 .5 .3 .5-.9 .5-.3 .5 .2 .5 .9 .5-.1 .5-.6 .5 .2 .5 .1 .5 .2 .5-1.1 .5 .5 .5 .1 .5 .3 .5-.1 .5-.1 .5 .2 .5-1.1 .5 2.2 .5-.9 .5 .1 .5-.6 .5 .4 .5 .6 .5 0 .5-.7 .5-.5 .5 .5 .5-.2 .5 .5 .5-.9 .5 .4 .5 .2 .5-.3 .5 .5 .5-.8 .5-.1 .5 .3 .5 .5 .5-.5 .5-.2 .5 .5 .5-.2 .5-.4 .5 .2 .5-.2 .5 .3 .5-.3 .5-.4 .5 0 .5-.1 .5 .2 .5-.3 .5-.8 .5-.4 .5-1 .5-1.7 .5-3.5 .5-4.3 .5-7.6 .5-8.3 .5-10 .5-9.6 .5-6.8 .5-3.3 .5 1.3 .5 5.7 .5 8.4 .5 9.5 .5 9.3 .5 7.8 .5 5.9 .5 2.2 .5 4 .5 1.6 .5 .9 .5 .1 .5 .3 .5-.3 .5 .3 .5 .2 .5-.6 .5 .1 .5 .2 .5-1 .5 .1 .5-1.2 .5 .2 .5-.5 .5-.3 .5 .1 .5 .7 .5-.1 .5 1.3 .5 .7 .5 .7 .5-.5 .5 .2 .5 .6 .5 .1 .5-.8 .5 .5 .5 0 .5-.3 .5-.7 .5 0 .5 .5 .5 .6 .5-1.1 .5 .6 .5 0 .5-1.3 .5 .1 .5 .7 .5-.4 .5-.4 .5-.4 .5-.1 .5-.9 .5 .7 .5-2.1 .5-1.2 .5-.4 .5-.9 .5-2.4 .5-1.7 .5-2.6 .5-2 .5-2.7 .5-2.2 .5-2.2 .5-1 .5 .3 .5-.5 .5 1.2 .5 2.5 .5 1.1 .5 2.3 .5 2.9 .5 1.7 .5 2.7 .5 2.1 .5 .7 .5 1.5 .5 1.8 .5-.2 .5 .7 .5 .8 .5 .1 .5 0 .5 1.1 .5-.7 .5 .4 .5-.2 .5 0 .5-.4 .5 .8 .5-.6 .5 .6 .5-1.1 .5 .1 .5 .1 .5-.4 .5-.6 .5-.3 .5-1.1 .5-.4 .5-2.2 .5-.3 .5-1.5 .5-2.5 .5-2.9 .5-4 .5-3.6 .5-4.9 .5-4.7 .5-5.1 .5-6.4 .5-3.1 .5-4.2 .5-2.7 .5-2.1 .5 .8 .5 1.8 .5 2.2 .5 4.5 .5 5.5 .5 4.9 .5 5.3 .5 4.5 .5 5.2 .5 2.5 .5 3.5 .5 2.9 .5 2 .5 2.1 .5 1.6 .5 .5 .5 1.4 .5 1 .5 .4 .5 .6 .5 0 .5-.3 .5 .9 .5-.3 .5 .6 .5-.7 .5-.7 .5 .4 .5 .6 .5 .2 .5-.2 .5 .5 .5-.8 .5 .3 .5 .7 .5-.4 .5 .1 .5 .6 .5-.1 .5-.7 .5 .4 .5-.7 .5 .7 .5 .1 .5-.8 .5 1.3 .5 .1 .5-.6 .5 .1 .5 .1 .5-.8 .5 .3 .5-.5 .5-1.1 .5-.1 .5-.3 .5 .1 .5-1 .5-.3 .5-1.2 .5-1.1 .5 .6 .5-.4 .5-1.5 .5-.7 .5 .1 .5-1.1 .5 .3 .5-.3 .5 1 .5 .3 .5 .3 .5 .6 .5 .3 .5 1 .5 1.5 .5 .1 .5 1.3 .5-.3 .5 .9 .5 .3 .5 .5 .5 .7 .5-.8 .5 1.3 .5 .2 .5-.1 .5 .2 .5-.1 .5 .5 .5-.2 .5-.3 .5 .4 .5 .4 .5-.2 .5-.1 .5 0 .5-.2 .5 0 .5-.5 .5 .6 .5 .5 .5-.6 .5-.2 .5 .7 .5-.3 .5 0 .5 .1 .5 0 .5-.3 .5-.3 .5 .9 .5-.6 .5-.4 .5 .4 .5 .3 .5-1 .5 1 .5-.5 .5 .8 .5-.6 .5-.3 .5 .6 .5 0 .5-.6 .5 .2 .5-.3 .5 .6 .5-.9 .5 .5 .5-.7 .5 1 .5-1.1 .5 .5 .5 .5 .5-.2 .5 0 .5-.2 .5 .2 .5-.4 .5 .8 .5 .2 .5 0 .5-.3 .5 .5 .5-.2 .5 .2 .5-.1 .5-.1 .5-.3 .5-.7 .5 1.3 .5-.2 .5 .8 .5-1.4 .5 1.1 .5-.7 .5 .4 .5-.3 .5 .5 .5-.1 .5 .3 .5-.2 .5 .1 .5 .3 .5-.3 .5-.2 .5 .5 .5-.5 .5 .2 .5-.3 .5-.1 .5-.9 .5 1.4 .5-.7 .5 .7 .5 .4 .5-1.2 .5 .8 .5-.3 .5 .2 .5-.7 .5 .5 .5 0 .5 .5 .5 .3 .5-.8 .5-.2 .5 .9 .5-.9 .5 0 .5 0 .5 .1 .5 .1 .5-.5 .5 .1 .5 .8 .5-.2 .5-.4 .5-.1 .5-.2 .5 .4 .5-.6 .5 .2 .5-.2 .5-.1 .5 .3 .5-.1 .5-.2 .5 .2 .5 .1 .5-.2 .5-.1 .5 .2 .5 .3 .5 .2 .5-.4 .5-.1 .5 .1 .5 .7 .5-.4 .5-.7 .5 .3 .5-.1 .5 0 .5-.5 .5 .6 .5-.5 .5 .3 .5 .8 .5-.3 .5-.7 .5-.1 .5 .1 .5-.4 .5 .3 .5 .3 .5-.3 .5 .6 .5-.3 .5-.1 .5 .8 .5-.4 .5-.2 .5 .7 .5-.2 .5-.8 .5 .4 .5-.3 .5-.3 .5 1.3 .5-.2 .5-1 .5 .6 .5-.8 .5 1.1 .5-.5 .5 0 .5 .5 .5-.4 .5-.1 .5 .4 .5-.4 .5 .4 .5-.3 .5 .3 .5-.1 .5 .1 .5-.7 .5 1.1 .5-.7 .5 .7 .5-.9 .5 .1 .5 0 .5 .6 .5-.7 .5 .3 .5-.7 .5 .4 .5 .2 .5-.1 .5-.7 .5 .8 .5-.5 .5 1 .5-.8 .5 .9 .5-.6 .5-.1 .5-.4 .5 .1 .5 .2 .5-.9 .5 1.1 .5-.9 .5 .4 .5-1 .5 1.2 .5 .1 .5-.2 .5 0 .5-.3 .5 .1 .5 .4 .5-.7 .5 .3 .5 .1 .5-.4 .5 .1 .5-.1 .5-.4 .5 1.1 .5-1.3 .5 .7 .5-.6 .5-1.5 .5 .4 .5-.3 .5-.9 .5-1.8 .5-.9 .5-2.3 .5-2 .5-2.1 .5-2.5 .5-2.4 .5-3.5 .5-2.6 .5-3.4 .5-2 .5-.9 .5 .7 .5-.3 .5 1.6 .5 3.1 .5 3.3 .5 1.9 .5 3.5 .5 2.4 .5 3.6 .5 1.9 .5 1.7 .5 1.4 .5 1.2 .5 1 .5 .5 .5 .4 .5 .3 .5 .7 .5-.1 .5 .9 .5-1.1 .5 1.2 .5 0 .5 .4 .5-.6 .5-.4 .5 .2 .5 .9 .5-.6 .5 0 .5-.1 .5 .2 .5 0 .5-.5 .5 .3 .5 .7 .5 .1 .5-.6 .5-.1 .5 .7 .5-.6 .5-.4 .5 .4 .5 .4 .5 .3 .5-.8 .5 .5 .5-.4 .5 .7 .5-.4 .5 .1 .5-.5 .5 .3 .5 .1 .5-1.2 .5 1.8 .5-.3 .5 0 .5 0 .5 .2 .5 .1 .5-.5 .5 .6 .5 0 .5 0 .5-.5 .5 .6 .5-.5 .5 .7 .5 .4 .5-.2 .5-.4 .5-.1 .5-.1 .5 .4 .5-.4 .5 0 .5-.8 .5 .6 .5 0 .5 0 .5 .6 .5-1 .5-.1 .5 .7 .5-.7 .5 .3 .5 0 .5-.1 .5-.4 .5 .5 .5 .1 .5-1.1 .5 .1 .5 .2 .5-.6 .5-.6 .5 0 .5 .2 .5-1 .5 .2 .5-.3 .5-.7 .5 .3 .5-.2 .5 0 .5-.2 .5-1 .5 .9 .5 0 .5 .2 .5-.5 .5 .9 .5 0 .5-.3 .5 1.2 .5-.5 .5 .2 .5 .8 .5-.1 .5 .6 .5 0 .5 .4 .5 .4 .5-.2 .5 .5 .5 .1 .5-.6 .5 .7 .5-.1 .5-.2 .5 .4 .5 .2 .5-.3 .5-.9 .5 .7 .5-.3 .5-.1 .5 .2 .5-.3 .5 .7 .5-.6 .5-.1 .5 .2 .5 0 .5 .1 .5-.2 .5-.3 .5 .1 .5-.9 .5 .3 .5 1 .5-.5 .5 .8 .5 .1 .5-1.2 .5 .7 .5 1 .5-1.3 .5 .5 .5-.2 .5 0 .5 .1 .5 .1 .5 .4 .5-.6 .5 .6 .5-.5 .5 .5 .5 0 .5-.4 .5 .4 .5-.3 .5-.1 .5 .8 .5-1.1 .5 .9 .5 .1 .5-.5 .5 .6 .5-.1 .5-.8 .5 .6 .5 0 .5-.5 .5 .4 .5 0 .5-.7 .5-.6 .5 .8 .5-.6 .5-.6 .5 .2 .5-1 .5 .4 .5 .4 .5-2 .5 .9 .5-.8 .5-.1 .5-.4 .5 .5 .5-.4 .5-.3 .5-.1 .5 .5 .5 .8 .5-.7 .5 1 .5 .3 .5-.6 .5 1.5 .5-.1 .5 1.1 .5 .1 .5-.6 .5 .2 .5-.1 .5 0 .5 .9 .5-.3 .5 0 .5 .2 .5 .4 .5 .1 .5-.3 .5 0 .5 .1 .5 .8 .5-1.6 .5 .4 .5 .7 .5-.1 .5 .4 .5 0 .5 .3 .5-1.2 .5 .5 .5-.5 .5 .4 .5-.6 .5 0 .5-1.1 .5-.1 .5-.9 .5-.6 .5-.8 .5-1.1 .5-.1 .5-1.1 .5-.5 .5-1.6 .5-.9 .5 .2 .5 0 .5 .5 .5 .4 .5 .6 .5 .8 .5 .5 .5 .6 .5 .5 .5 1.4 .5 .3 .5 .6 .5 1.1 .5 .4 .5 .6 .5-.3 .5 .9 .5-.1 .5-.1 .5-.1 .5-.1 .5 0 .5 1.1 .5-1.1 .5 .9 .5-.3 .5-.1 .5 0 .5 .2 .5 .4 .5-.1 .5-.2 .5-.5 .5-.2 .5 1.4 .5-1.1 .5-.2 .5 1 .5-1 .5 .8 .5 .1 .5-.3 .5 .2 .5-1 .5 0 .5 .3 .5 0 .5-.2 .5 .1 .5-.6 .5-.7 .5 .9 .5-.5 .5 .3 .5 .3 .5-1 .5 0 .5-.7 .5 .5 .5-.4 .5-.2 .5 .1 .5-.9 .5 .5 .5-.1 .5 .3 .5-1.4 .5 .7 .5 .9 .5-1.1 .5 .1 .5 .9 .5 .4 .5-.9 .5-.2 .5 .2 .5 .2 .5 0 .5 .1 .5 .6 .5 .1 .5 .4 .5-.1 .5-.3 .5 .9 .5 0 .5-.2 .5 .2 .5 .4 .5 0 .5 0 .5 .4 .5 .2 .5-.4 .5 .1 .5-.4 .5 .5 .5 .2 .5 .2 .5-.2 .5-.1 .5-.3 .5 .4 .5-.5 .5 .5 .5-.1 .5-.4 .5 .5 .5-.2 .5 .2 .5-.4 .5 .3 .5 .4 .5-.6 .5 .2 .5-.6 .5 0 .5-.6 .5 .6 .5-.4 .5 .4 .5-.9 .5 .4 .5 .3 .5 .1 .5-.9 .5 .5 .5 1.2 .5-.8 .5-.3 .5-1.4 .5 .8 .5 .6 .5-.2 .5 0 .5 .2 .5-.5 .5 .3 .5-1.5 .5 2.3 .5-1.7 .5-.3 .5 1.2 .5-.6 .5 .1 .5-1.1 .5 .5 .5 .2 .5-1.4 .5 .6 .5-.1 .5-.1 .5-.4 .5-.5 .5 1.4 .5-.2 .5 .8 .5-1.1 .5-.7 .5-.8 .5 1.6 .5-.5 .5 2.5 .5 .4 .5-.8 .5-2.8 .5-.7 .5 1.4 .5-.8 .5 2.9 .5-1.6 .5-.7 .5 .5 .5 1.8 .5-3.1 .5 2.1 .5-2.7 .5 1.6 .5-.7 .5 1.6 .5-.3 .5 1.8 .5-.8 .5-2.2 .5-1.2 .5 .8 .5 .7 .5 .4 .5-.9 .5-8.8 .5-6.4 .5-8.4 .5 2.1 .5 23.8" stroke="#ff0000"/>
<path d="M20,176.2l.5 2 .5 1.8 .5-.1 .5 1.1 .5-.3 .5 1 .5 .6 .5 0 .5 .2 .5-.4 .5 .7 .5-.6 .5 .8 .5-.3 .5-.2 .5 .8 .5-.8 .5 .6 .5-.4 .5 0 .5 .4 .5-.2 .5-.2 .5-.1 .5 .2 .5-.1 .5-.1 .5-.3 .5-.6 .5 1 .5 0 .5 .6 .5-.3 .5 .3 .5 .3 .5-.7 .5-.3 .5 .7 .5-.5 .5 .1 .5 .7 .5-.3 .5 .2 .5-.9 .5 .6 .5 .4 .5-.9 .5 .6 .5 0 .5-1 .5 1.5 .5-.9 .5 .2 .5 .7 .5-1.4 .5 .9 .5-.4 .5 .2 .5-.4 .5 .8 .5-1 .5 .6 .5 0 .5-.3 .5-.1 .5 0 .5 .4 .5-.2 .5-.3 .5-.4 .5 .4 .5 .1 .5-.2 .5 .5 .5-1.3 .5 1.7 .5-1.1 .5-.4 .5-.3 .5 1.1 .5-.2 .5-.3 .5 .1 .5 0 .5-.2 .5 .6 .5-.2 .5-.4 .5-.6 .5 1.1 .5-.8 .5-.4 .5 .6 .5-.8 .5-2.1 .5-1.7 .5-2.6 .5-5.1 .5-6.3 .5-7.4 .5-9.4 .5-10.6 .5-7.1 .5-3.6 .5 .8 .5 5.1 .5 9.7 .5 9.2 .5 9.4 .5 7.8 .5 5.2 .5 4.9 .5 1.9 .5 1.5 .5 .5 .5 .9 .5 .4 .5-.5 .5 .5 .5-.3 .5-.3 .5 .3 .5 .2 .5-.4 .5-.2 .5-1.3 .5-.4 .5-.2 .5 .1 .5-.1 .5 .1 .5 .4 .5 1.6 .5 .5 .5-.4 .5 1 .5-.5 .5 .2 .5 .4 .5-.8 .5-.1 .5-.5 .5 .8 .5 0 .5 .1 .5-.1 .5-.3 .5 .4 .5-1 .5 .5 .5 0 .5-.3 .5 .6 .5-.7 .5 .3 .5-.4 .5-.7 .5 .5 .5-.8 .5-1 .5-.9 .5-1.4 .5-.9 .5-1.5 .5-1.7 .5-2.3 .5-1.8 .5-2.6 .5-3 .5-1.7 .5-1.8 .5-1.2 .5 .1 .5 1.1 .5 .5 .5 1.6 .5 2.9 .5 3.6 .5 .9 .5 2.4 .5 1.6 .5 2.2 .5 1.6 .5 .4 .5 1.4 .5-.3 .5 1 .5-.2 .5 .8 .5-.2 .5 .5 .5-.5 .5 .6 .5-.1 .5-.3 .5-.1 .5-.2 .5 .3 .5 .2 .5-.3 .5 0 .5 .3 .5-.9 .5-.1 .5-.3 .5-.7 .5-.9 .5-1.3 .5-.7 .5-2.7 .5-2.5 .5-2.6 .5-3 .5-4.1 .5-5 .5-4.6 .5-5.2 .5-5.3 .5-4.5 .5-4.1 .5-3.1 .5-.9 .5-.8 .5 2.4 .5 3.4 .5 4.1 .5 4 .5 4.9 .5 4.5 .5 5.4 .5 5.5 .5 2.3 .5 3.4 .5 3.9 .5 2.2 .5 1 .5 2.2 .5 1.3 .5 .2 .5 1.7 .5-.4 .5 1.4 .5 0 .5-.1 .5-.2 .5 .7 .5 .2 .5 .1 .5 0 .5 .2 .5 .5 .5-.7 .5 .4 .5 .3 .5-.2 .5 .4 .5 .3 .5-.7 .5 .2 .5-1.2 .5 1 .5 .4 .5-.7 .5 1 .5-1.3 .5 1.4 .5-.8 .5-.2 .5 .2 .5 0 .5-.4 .5-.3 .5 .2 .5 .3 .5-.5 .5 .1 .5-1.2 .5-.4 .5-.6 .5-.4 .5-.5 .5-.2 .5-1.1 .5-.9 .5-.2 .5-1.4 .5-.7 .5 .5 .5-.4 .5 0 .5 .5 .5-.2 .5 .6 .5 .7 .5 .8 .5 .8 .5 .3 .5 .8 .5-.5 .5 2.1 .5-.6 .5 1.2 .5 1.4 .5-.8 .5-.2 .5 1.6 .5-.7 .5 .3 .5 .2 .5 .4 .5 .1 .5-.2 .5 .5 .5-.8 .5 .7 .5-.5 .5 .6 .5-.5 .5 .1 .5 .8 .5-1 .5 0 .5 .7 .5-.3 .5 0 .5 .1 .5 .9 .5-1.2 .5 .3 .5 .2 .5-.4 .5 .4 .5 .2 .5-.5 .5 .8 .5-.9 .5 .4 .5 .2 .5 1.2 .5-2 .5 .9 .5 .9 .5-1.2 .5 .7 .5-.4 .5-.6 .5 .8 .5-.5 .5 .4 .5-.6 .5 .9 .5-1.2 .5 .9 .5 .6 .5-.2 .5-.4 .5 .1 .5-.1 .5 1.3 .5-1.1 .5 0 .5-.3 .5 .1 .5 .5 .5-.5 .5-.1 .5 0 .5 .1 .5 .2 .5-.3 .5 .1 .5-.3 .5 .8 .5-.5 .5-.2 .5 .2 .5-.1 .5-.7 .5 .6 .5 .7 .5-.4 .5 .2 .5-.7 .5-.3 .5 .3 .5 .8 .5-.9 .5 .1 .5 .7 .5-.5 .5 0 .5 .3 .5-.2 .5-.1 .5 .2 .5-.4 .5 .3 .5 .3 .5-.7 .5 .3 .5-.4 .5 .8 .5-.1 .5 .2 .5 0 .5 0 .5-.1 .5-.7 .5 .7 .5-.7 .5 1.3 .5-.9 .5 .1 .5-.7 .5 .9 .5 .1 .5-1.2 .5 .5 .5 0 .5-.1 .5 .8 .5 .3 .5-1.2 .5 .8 .5-.5 .5 .7 .5-1.6 .5 .9 .5 .6 .5-.8 .5 .8 .5-.6 .5 .6 .5-.2 .5-.4 .5-.1 .5 .3 .5 .5 .5-.5 .5-.2 .5 1.6 .5-2 .5 .6 .5 .3 .5-.7 .5 .4 .5-.1 .5-.5 .5 .8 .5-.7 .5 .2 .5 .7 .5-.9 .5 .6 .5 .2 .5-.1 .5-.2 .5-.4 .5-.5 .5 .6 .5 .1 .5-.4 .5-.2 .5 .7 .5-.8 .5 .6 .5-.4 .5-.5 .5 1.3 .5-.4 .5 0 .5-.8 .5 .5 .5 .1 .5-.4 .5 1 .5-1.5 .5 1 .5-1 .5 .1 .5 .1 .5 .7 .5-.5 .5 0 .5-.1 .5-.2 .5 .2 .5 0 .5 .3 .5-.1 .5-.8 .5 .8 .5 .7 .5-.6 .5 .2 .5-.3 .5 .1 .5 .2 .5-.5 .5 .5 .5-.6 .5 .8 .5-.7 .5 .9 .5 .1 .5-1.1 .5 .9 .5-.4 .5 .5 .5-.7 .5 .1 .5-.1 .5 .6 .5-1.3 .5 1 .5-.3 .5-.2 .5 0 .5 .5 .5-.1 .5 .3 .5-.9 .5-.5 .5 .5 .5 .1 .5-.1 .5 .6 .5 .4 .5-.8 .5-.9 .5 1.1 .5-.8 .5 .2 .5 .2 .5-.4 .5-.3 .5-.2 .5-.1 .5-.5 .5-.1 .5-2.8 .5-.1 .5-1.1 .5-1 .5-2.1 .5-1.8 .5-3.3 .5-2.1 .5-2.4 .5-3 .5-2.6 .5-1.9 .5-1 .5-2.3 .5 1.6 .5 .5 .5 1.3 .5 2.9 .5 2.3 .5 3.2 .5 1.9 .5 3.2 .5 1.5 .5 2.5 .5 1.8 .5 1.1 .5 1.5 .5 .4 .5 1.4 .5-.1 .5 .3 .5 .6 .5 .3 .5-.1 .5 .8 .5-.2 .5 .4 .5-.7 .5 .2 .5 .5 .5-.2 .5 .4 .5 .4 .5 .2 .5 .2 .5-.2 .5-.5 .5 .5 .5-.4 .5 .5 .5-.6 .5 1 .5-.4 .5-.3 .5-.4 .5 .7 .5-.4 .5 .4 .5-.4 .5 0 .5 .5 .5 .3 .5-1.1 .5 .4 .5 .2 .5-.2 .5-.1 .5 1 .5-1.2 .5 .5 .5-.4 .5 .2 .5-.9 .5 1.3 .5-.5 .5-.2 .5 1 .5-.7 .5-.2 .5 0 .5 .7 .5-.4 .5-.1 .5-.4 .5 .2 .5 .5 .5-.1 .5-.8 .5 .5 .5 .5 .5 1 .5-1.4 .5-.6 .5 1.2 .5-.5 .5-.4 .5 .8 .5-.4 .5-.3 .5-.2 .5 .4 .5 0 .5-.8 .5 1 .5-1.1 .5 .9 .5-.6 .5-.4 .5 0 .5-.7 .5 0 .5 .4 .5-1.2 .5 .2 .5-.9 .5 .1 .5 .1 .5-1.1 .5 .5 .5-1.1 .5 .3 .5 .3 .5 .6 .5 0 .5-.5 .5 .6 .5 .3 .5-.4 .5 1 .5 .7 .5 .2 .5-.4 .5 .3 .5 .1 .5 .3 .5 .3 .5 .6 .5-.1 .5-.3 .5 .8 .5 0 .5-.5 .5 .2 .5 0 .5-.6 .5 .7 .5 .2 .5 .5 .5-.7 .5-.2 .5 0 .5 .3 .5 .1 .5-.7 .5 .4 .5 .2 .5-1.1 .5 1.4 .5-.6 .5 .5 .5-.4 .5 0 .5 .1 .5 .2 .5 .3 .5-.4 .5-.3 .5 .2 .5-.1 .5 .8 .5-.7 .5 1.1 .5-.5 .5-.1 .5 .6 .5-.6 .5 0 .5 .5 .5 0 .5-.7 .5 1.4 .5-.8 .5-.7 .5 .5 .5 .4 .5-.3 .5 .2 .5 .6 .5-.5 .5 .4 .5-.6 .5-.5 .5 .9 .5-.9 .5 .6 .5-.1 .5-.7 .5 0 .5 .2 .5 .2 .5 .2 .5-.6 .5 .6 .5-.6 .5-.8 .5-.3 .5 0 .5-.5 .5-.2 .5 0 .5-.6 .5 0 .5-1 .5-.4 .5-.4 .5-.3 .5 .5 .5 .2 .5 0 .5 .3 .5 1 .5-.9 .5 .6 .5 .3 .5 .1 .5 1.3 .5-.3 .5 .8 .5-.7 .5 1.5 .5 .3 .5-1.1 .5 .5 .5 .1 .5 .4 .5-.7 .5 .8 .5 .1 .5-.5 .5-.6 .5 .6 .5 .1 .5 .5 .5-.5 .5-.3 .5 .7 .5-.1 .5 .1 .5-.3 .5 .4 .5-.3 .5-1 .5 .6 .5 .1 .5-.5 .5 .2 .5-1.1 .5 0 .5-1.4 .5-.3 .5-1 .5-1.2 .5-1.1 .5-.4 .5-.9 .5-1.3 .5-1 .5-.4 .5 .3 .5-.8 .5 1.2 .5-.6 .5 1.6 .5 1.1 .5 1.2 .5 .4 .5 1 .5 .7 .5 1.9 .5 .4 .5 .5 .5 .6 .5 .7 .5 .2 .5 .7 .5-1.1 .5 1.3 .5-.4 .5 .2 .5-.1 .5 .2 .5 .3 .5-.2 .5-.7 .5 .6 .5 0 .5 .1 .5-.1 .5-.1 .5 .5 .5-.9 .5 1.4 .5-1.1 .5-.2 .5 .7 .5 .1 .5 .1 .5 .1 .5-.4 .5-.2 .5 .1 .5-.2 .5-.3 .5 .8 .5 0 .5-.8 .5-.3 .5-.2 .5-.6 .5 .2 .5-.1 .5 0 .5-.6 .5-.5 .5 .8 .5 .2 .5-1.8 .5 .6 .5 .2 .5-1 .5-.2 .5 .4 .5-.2 .5-.3 .5 .8 .5-.1 .5-.3 .5-.3 .5-.1 .5 .5 .5-.3 .5 .7 .5 .1 .5-.7 .5 .7 .5 .5 .5-.2 .5-.5 .5 .4 .5 .1 .5 .3 .5 .1 .5 0 .5 .6 .5 .3 .5-.7 .5-.2 .5 .8 .5-.1 .5 .2 .5-.4 .5 .4 .5-.4 .5 .8 .5 .3 .5-1.1 .5-.6 .5 .8 .5 0 .5 .3 .5-.1 .5 .2 .5 .9 .5-1.4 .5 .1 .5 .3 .5-.9 .5 1 .5-.6 .5-.4 .5 .2 .5 .5 .5 .1 .5 .2 .5-.4 .5-.5 .5 .4 .5-.3 .5 1 .5-1.8 .5 1.4 .5-.4 .5-.2 .5-.2 .5-.3 .5-.2 .5-.3 .5 1.6 .5-.6 .5-.1 .5-.2 .5-1.2 .5 .8 .5 .1 .5 .6 .5-1.3 .5 .7 .5-.3 .5 .1 .5-.5 .5 .7 .5-.2 .5-1.4 .5 2.2 .5 .8 .5-2.4 .5 1.6 .5-1.7 .5 .3 .5 2.1 .5-1.4 .5 1.2 .5-1.1 .5 .7 .5-1.2 .5 1.6 .5 .5 .5-1.2 .5-1.4 .5 .2 .5-.7 .5 1.8 .5-.1 .5-1.5 .5 2 .5-2 .5 3.2 .5-1.3 .5 1.1 .5-3.3 .5-.5 .5-1.3 .5 3.7 .5-2.7 .5 3.9 .5-1.9 .5 1 .5-3.5 .5 1.2 .5 1.3 .5 1.1 .5-3.7 .5 3 .5-2.2 .5 3.1 .5-14.2 .5-6.3 .5-4.7 .5 3.8 .5 20.6" stroke="#ff0000"/>
<path d="M20,186.2l.5 1.2 .5 2.2 .5 .1 .5 .1 .5 .3 .5 1.1 .5 .7 .5-.6 .5 0 .5 .1 .5-.2 .5 .2 .5 .3 .5-.4 .5 .6 .5-.8 .5 .7 .5-.2 .5-.3 .5 .1 .5 0 .5 .8 .5-1 .5 .8 .5-.1 .5-.5 .5 .8 .5-1.6 .5 1.1 .5 0 .5 0 .5 .3 .5-.5 .5 .2 .5 .5 .5-.5 .5-.3 .5 .7 .5-.3 .5-.2 .5 .5 .5-.5 .5-.1 .5 .3 .5 0 .5 .1 .5-.6 .5 1.2 .5-.5 .5-.2 .5 0 .5-1.2 .5 1.4 .5-.9 .5 .6 .5-.7 .5 .8 .5-.7 .5 .1 .5 .7 .5-.3 .5-1 .5 .3 .5 .3 .5-.2 .5 .4 .5-.6 .5-.5 .5 .4 .5 .3 .5 .3 .5 .1 .5 .2 .5-.4 .5-.2 .5 .4 .5-.3 .5-.1 .5 0 .5 .5 .5 .2 .5 0 .5-1.2 .5 1.1 .5-1 .5 .3 .5 .3 .5-.8 .5 0 .5 .1 .5 .8 .5-.5 .5-1.1 .5-.1 .5-1.1 .5-1.8 .5-3.4 .5-3.9 .5-7.3 .5-8 .5-10.7 .5-8.7 .5-7.7 .5-3.4 .5-.5 .5 6.9 .5 8.7 .5 9.4 .5 10 .5 8.1 .5 5.4 .5 4 .5 2.7 .5 1.1 .5 1.2 .5 .2 .5-.2 .5 0 .5 1 .5-.2 .5-.5 .5 .2 .5 .4 .5-1.5 .5-.2 .5 .1 .5-.5 .5-1.3 .5-.1 .5 .6 .5 .9 .5 0 .5-.3 .5 1.8 .5-.1 .5 0 .5-.1 .5 .9 .5-.3 .5 0 .5 0 .5 0 .5 .2 .5 .3 .5-1.1 .5 .4 .5-.2 .5 .9 .5-.8 .5-.6 .5 .6 .5-.3 .5-.1 .5 .1 .5-.5 .5-.4 .5 1.4 .5-1.2 .5-.7 .5 .2 .5-.4 .5-2.2 .5-.6 .5-1.1 .5-2.1 .5-1.4 .5-2.8 .5-2.1 .5-2.1 .5-2 .5-2.1 .5-1.7 .5-.6 .5-.6 .5 2.6 .5 .5 .5 2.1 .5 2.4 .5 2.4 .5 2.1 .5 1.6 .5 1.3 .5 2.1 .5 .9 .5 1.1 .5 1 .5 .6 .5 .8 .5-.3 .5-.4 .5 1 .5 .2 .5-1 .5 .9 .5-.2 .5-.4 .5 .2 .5 0 .5-.1 .5 .1 .5-.6 .5-.3 .5 .8 .5-1.8 .5-.1 .5-.6 .5-.2 .5-.8 .5-2.2 .5-.5 .5-3 .5-.9 .5-4.2 .5-2.7 .5-4.6 .5-4 .5-5.4 .5-4.7 .5-5 .5-4.6 .5-3.7 .5-3.4 .5-1.5 .5-.4 .5 2.1 .5 2.9 .5 4.6 .5 4.6 .5 4.5 .5 5.5 .5 5.2 .5 3.9 .5 3.7 .5 5 .5 2.2 .5 2.5 .5 2.7 .5 .2 .5 1.7 .5 0 .5 1.7 .5 .5 .5 0 .5 .3 .5 .5 .5 .1 .5 .9 .5-.6 .5 .2 .5 .1 .5-.5 .5 .5 .5-.3 .5 .6 .5-.9 .5 .5 .5 .6 .5-.9 .5 .2 .5 1.1 .5-1 .5 .6 .5 .1 .5-.5 .5-.3 .5 1.3 .5-.9 .5 .4 .5-.6 .5 .3 .5-.8 .5-.2 .5 0 .5-.1 .5-.3 .5-.3 .5-.1 .5-.8 .5 0 .5-1.2 .5-.1 .5-.4 .5-.6 .5-2.1 .5 .8 .5-1.9 .5 .8 .5-.9 .5-.1 .5-.6 .5 .9 .5 .2 .5-.1 .5 .5 .5 1.2 .5 .7 .5 .6 .5 .3 .5 .8 .5 1 .5 .5 .5 .6 .5 .1 .5 0 .5 .8 .5 .3 .5-.2 .5 .6 .5-.3 .5 .6 .5-.3 .5 1.2 .5-.3 .5-.2 .5-.6 .5 .1 .5 .9 .5-.3 .5 .3 .5-.7 .5 .1 .5 .7 .5 0 .5-.4 .5 .2 .5 .7 .5-.4 .5 .4 .5 .5 .5-.5 .5 0 .5-.3 .5 .8 .5-1.1 .5 .2 .5 .5 .5-.6 .5 1 .5-.6 .5 .4 .5-.3 .5 .1 .5 .1 .5-.8 .5 .4 .5 .2 .5 1.1 .5-.6 .5 0 .5-.7 .5 .7 .5 .1 .5-.2 .5 .7 .5-1.6 .5 .1 .5 .3 .5-.4 .5 .4 .5 .1 .5-.2 .5 0 .5 .1 .5 .1 .5-.7 .5 0 .5 .7 .5-.6 .5-.3 .5 .4 .5-.2 .5 .1 .5 0 .5 .2 .5 .1 .5-.7 .5-.1 .5 1.1 .5-.9 .5-.3 .5-.2 .5 .8 .5-.3 .5-.4 .5 .3 .5 0 .5 .8 .5-.3 .5-.1 .5-.5 .5 .5 .5 .3 .5-.2 .5 .4 .5-.3 .5 .2 .5 0 .5-.4 .5 .8 .5-.4 .5 .3 .5-.7 .5 0 .5 .4 .5-.2 .5 .6 .5-.1 .5 .4 .5-.2 .5-.7 .5 .8 .5-.6 .5 0 .5 .3 .5 0 .5 .4 .5 .7 .5-1 .5 .4 .5-.7 .5 .2 .5-.4 .5 0 .5 .7 .5-.3 .5 0 .5-.5 .5 1 .5-.8 .5-.1 .5 .2 .5 .4 .5 0 .5 .4 .5-1 .5 .3 .5 .8 .5 .4 .5-1.2 .5 .3 .5-.5 .5 .3 .5 0 .5 .3 .5-.4 .5 .9 .5-.4 .5-.1 .5 .5 .5-.5 .5-.4 .5 .5 .5 .8 .5-.9 .5 .2 .5-.4 .5 0 .5 .2 .5-1.3 .5 .5 .5 .2 .5 .1 .5 .7 .5 .3 .5-.7 .5-.2 .5 .1 .5 .3 .5-1 .5 .1 .5 .2 .5 .1 .5-.9 .5 .8 .5-.8 .5 .9 .5 0 .5-1.3 .5 1.1 .5-.1 .5-.4 .5 .6 .5 .4 .5-.6 .5-.7 .5-.2 .5 .1 .5 .1 .5 .8 .5-.3 .5-.2 .5 .4 .5-.4 .5 0 .5-.4 .5 .1 .5 .3 .5-.5 .5 1.1 .5-.6 .5-.3 .5 .6 .5-.8 .5 .9 .5-.4 .5 .7 .5-.9 .5 .1 .5-.2 .5-.1 .5 .6 .5-.5 .5 .5 .5-.3 .5 .7 .5-1.5 .5 1.2 .5-.1 .5 0 .5-.3 .5 1 .5-.9 .5 .3 .5-.3 .5 0 .5 .1 .5 .2 .5-.7 .5 .2 .5-.4 .5 .7 .5-.5 .5-.1 .5 .5 .5-.3 .5 0 .5-.4 .5-.1 .5-.4 .5-1 .5 0 .5-1 .5-1 .5-1 .5-1.8 .5-2 .5-1.1 .5-1.9 .5-3.3 .5-1.8 .5-2.6 .5-2.6 .5-1.8 .5-.9 .5-.4 .5 .4 .5 1.1 .5 1.3 .5 2.9 .5 1.5 .5 2.4 .5 3.2 .5 2.1 .5 2.3 .5 1.2 .5 1.2 .5 1.9 .5 .6 .5 .8 .5 .3 .5 1 .5-.8 .5 1.5 .5-.8 .5 1.3 .5-.9 .5 1 .5 .8 .5-1 .5-.3 .5 1.2 .5-.9 .5-.2 .5 .9 .5-1.6 .5 .5 .5 .1 .5 .2 .5-.5 .5 1.1 .5 .1 .5-.4 .5-.2 .5-.5 .5 .9 .5-.5 .5 .5 .5 .2 .5-.4 .5-.8 .5 .5 .5 .9 .5-.4 .5 .5 .5-1.4 .5 .8 .5 0 .5-.5 .5 .4 .5 .7 .5-.2 .5-.4 .5 .3 .5 .4 .5-.9 .5 .6 .5 .3 .5-.7 .5 .8 .5-.6 .5 .5 .5 0 .5-.3 .5-.2 .5-.1 .5 .3 .5 .1 .5 .5 .5-.6 .5 .2 .5 .6 .5-.6 .5 .1 .5 .5 .5-.6 .5 .1 .5 .2 .5-.4 .5-.4 .5-.2 .5 .5 .5 .5 .5-.2 .5 .2 .5-.4 .5-.8 .5-.5 .5 .2 .5-.1 .5-.4 .5 .4 .5-1 .5 .3 .5-.2 .5-1.3 .5 .3 .5 .4 .5-.3 .5-.5 .5-.6 .5 .1 .5 .3 .5 .5 .5-.2 .5-.1 .5 .4 .5 .4 .5-.7 .5 .6 .5 .7 .5 .8 .5 .3 .5-.5 .5 .6 .5-.1 .5 .4 .5 .4 .5 0 .5 .1 .5-.2 .5 0 .5 .6 .5 .2 .5 .2 .5-.5 .5 0 .5 .8 .5-.3 .5 .1 .5-.6 .5 0 .5-.2 .5 .8 .5-.9 .5-.2 .5 .3 .5 .8 .5-.5 .5 0 .5 0 .5-.1 .5-.1 .5-.5 .5 1.2 .5-.7 .5 .5 .5-1.1 .5 .9 .5-.7 .5-.1 .5 .7 .5 .3 .5 .1 .5 0 .5-.7 .5 .4 .5-.5 .5 0 .5 .3 .5-.2 .5 .3 .5-1.1 .5 1.2 .5-.7 .5 .8 .5-.2 .5-.9 .5 .4 .5 .2 .5-.6 .5 0 .5 .2 .5 .4 .5 0 .5-.5 .5 .5 .5 .3 .5-.3 .5-.6 .5-.1 .5 .4 .5 .2 .5-.3 .5-.4 .5-.4 .5 .7 .5-.7 .5 .5 .5-1.4 .5 0 .5-.4 .5 .8 .5-.5 .5-.9 .5-.7 .5 1.1 .5-.4 .5-.5 .5 0 .5 1 .5 0 .5 .4 .5 .4 .5 .1 .5 .4 .5 .7 .5 0 .5 .2 .5 .6 .5-.8 .5 1.5 .5-.2 .5-.4 .5 .4 .5 .6 .5-.2 .5-.8 .5 .3 .5 .5 .5 .7 .5-.4 .5-.4 .5 .3 .5-.2 .5-.2 .5 .3 .5-1 .5 1.2 .5-.2 .5-.5 .5-.2 .5-.2 .5 .5 .5-.2 .5-.1 .5 .4 .5-1.9 .5 .3 .5-.5 .5 0 .5-1.2 .5-1.1 .5-.6 .5-1.1 .5-.7 .5-1.8 .5-1.4 .5-1.1 .5-1 .5 0 .5-.2 .5-.3 .5 .4 .5 1.2 .5 .4 .5 1.3 .5 .5 .5 1.4 .5 .6 .5 1.3 .5 1.6 .5 1.2 .5 0 .5 .1 .5 .9 .5 .7 .5-.4 .5 .6 .5-.4 .5-.4 .5 .1 .5 .3 .5 1 .5-.7 .5-.4 .5 .2 .5 0 .5-.3 .5 .1 .5-.1 .5 .4 .5 .3 .5-.1 .5-.6 .5 .3 .5-.5 .5-.1 .5 .4 .5 .2 .5-.3 .5 .4 .5-.1 .5 0 .5-.4 .5-.6 .5 1.2 .5-.9 .5 .4 .5-.2 .5-.4 .5 .7 .5-.6 .5-.4 .5-.2 .5-.4 .5-.2 .5 .6 .5-.6 .5-.1 .5 .3 .5-.4 .5 .3 .5-.6 .5 0 .5 .5 .5-.6 .5 .5 .5 0 .5-.2 .5-.5 .5 .2 .5 .2 .5 0 .5 1 .5-.6 .5 0 .5 .4 .5 .3 .5-.4 .5 1 .5 .2 .5-.4 .5 .6 .5-.8 .5 .5 .5 .2 .5 .2 .5 .5 .5-.6 .5-.2 .5 .5 .5 .1 .5 .1 .5-.3 .5 .2 .5-.2 .5 .4 .5-.4 .5 0 .5 .7 .5-.8 .5 .3 .5 .2 .5-.4 .5 .5 .5-.6 .5 .6 .5-1.1 .5 0 .5 .5 .5 .5 .5 0 .5-1.1 .5 .3 .5-.3 .5-.8 .5 1.1 .5-.5 .5 .6 .5-.5 .5-.4 .5-.2 .5 .1 .5 .2 .5-.4 .5 1.4 .5-1.2 .5-.7 .5 .5 .5 .5 .5-.4 .5-.4 .5-.2 .5-.2 .5-.2 .5 .3 .5 .4 .5-.5 .5 1.3 .5-.8 .5-.6 .5 .2 .5 1 .5-2.3 .5 1.4 .5 1.8 .5-1.3 .5-1.6 .5 .8 .5-.3 .5 2.6 .5-3.1 .5 .3 .5-.1 .5-1.1 .5-2 .5 3.1 .5 .7 .5-1 .5 1 .5 .3 .5-.1 .5-2.9 .5 3.9 .5-.8 .5 0 .5-1.1 .5 0 .5-.7 .5 1.3 .5 .8 .5-2.2 .5 2.1 .5-1.9 .5 1.7 .5-1.2 .5 1.7 .5 1.9 .5-2.8 .5-1.2 .5 .1 .5 2 .5-2 .5 2.8 .5-1.2 .5-11.1 .5-8.8 .5-6.8 .5 2.9 .5 25.4" stroke="#ff0000"/>
<path d="M20,194.1l.5 2.4 .5 .5 .5 1 .5 .1 .5 .7 .5 .5 .5 .2 .5-.3 .5 .5 .5 .2 .5-.9 .5 1.3 .5-.3 .5-.4 .5 .4 .5 .3 .5-.2 .5 .1 .5 0 .5 .2 .5-.8 .5 .3 .5 .4 .5-.1 .5-.5 .5 .3 .5-.1 .5 .2 .5-.6 .5 0 .5 0 .5 .5 .5 1 .5-.6 .5 .1 .5-.5 .5 .6 .5-.4 .5-.1 .5 .3 .5-.8 .5-.4 .5 .4 .5 1 .5-.2 .5-.2 .5-.2 .5 0 .5 .3 .5-.5 .5 .6 .5-.7 .5 .9 .5-.6 .5-.3 .5 .3 .5-.3 .5 .3 .5-.7 .5 .5 .5 .2 .5 .1 .5-.3 .5 .6 .5-1.2 .5 .6 .5-.1 .5 .1 .5-.1 .5 .7 .5-.6 .5-.3 .5 1.3 .5-1 .5 0 .5 .4 .5-.6 .5 .1 .5 .5 .5-.8 .5 .2 .5 .6 .5 .3 .5-.8 .5 0 .5 .4 .5-1.1 .5 .3 .5-.1 .5-.6 .5-.5 .5 .8 .5 .2 .5-.7 .5-.7 .5-3.3 .5-2 .5-4 .5-7.4 .5-8.6 .5-9 .5-9.8 .5-7.6 .5-4.3 .5 1.3 .5 5.3 .5 8.4 .5 9.7 .5 9.8 .5 7.4 .5 6.5 .5 4.2 .5 2.4 .5 .6 .5 1.5 .5 .4 .5 .4 .5-.8 .5 .5 .5 .2 .5 .6 .5-.8 .5 .4 .5-.5 .5 .2 .5-1.1 .5-1.4 .5 .1 .5 0 .5 .6 .5 .1 .5 .3 .5 .2 .5 1.1 .5 .3 .5 .8 .5 0 .5-.8 .5-.3 .5 .7 .5 .3 .5-.5 .5 .2 .5 .7 .5-.2 .5-1 .5 .7 .5-.1 .5-.2 .5 .3 .5-.1 .5 .7 .5-1 .5-.5 .5 0 .5 .3 .5 .3 .5-.8 .5-.4 .5-.6 .5-.9 .5-.6 .5-1.5 .5-.5 .5-1.6 .5-1.9 .5-2.4 .5-1.9 .5-2.5 .5-1.9 .5-2.3 .5-1.4 .5-.8 .5-.2 .5-.3 .5 1.5 .5 1.5 .5 3.1 .5 1.4 .5 3.1 .5 1.3 .5 2.5 .5 1 .5 1.5 .5 1.3 .5 .8 .5 .6 .5 .8 .5 .5 .5 .1 .5-.4 .5-.4 .5 .8 .5-1.2 .5 1.4 .5-.1 .5-.7 .5 .6 .5-.6 .5 .7 .5-1 .5-.2 .5-.1 .5 .1 .5-.9 .5 .9 .5-1.6 .5 0 .5-1.8 .5-1.3 .5-1.7 .5-2.1 .5-2 .5-2.8 .5-3.9 .5-4.5 .5-4 .5-5.2 .5-5.8 .5-3.9 .5-5.4 .5-3.5 .5-2.7 .5-1.8 .5-.1 .5 2.2 .5 2.7 .5 4.1 .5 4.2 .5 5 .5 5.7 .5 4 .5 5 .5 4 .5 3.7 .5 3.3 .5 2.4 .5 2.4 .5 1 .5 1.9 .5 .4 .5 1.7 .5 .5 .5 0 .5 .3 .5 .4 .5 .5 .5-.6 .5 .3 .5 .9 .5-.3 .5-.4 .5-.2 .5 .7 .5-.4 .5 .8 .5 0 .5 .8 .5-1.2 .5 .8 .5-.7 .5 .1 .5 .4 .5-.2 .5 1 .5-.7 .5-.3 .5 1.2 .5-1.2 .5 .1 .5 0 .5-.4 .5 .4 .5 0 .5-1.2 .5 0 .5-.3 .5-.8 .5-.5 .5-.1 .5-.8 .5-.2 .5-.5 .5-.9 .5-.6 .5-1 .5-.4 .5-.1 .5-.2 .5-.4 .5 .3 .5-.1 .5-.1 .5 1 .5 .3 .5 .1 .5 1.7 .5 .5 .5 .8 .5 .2 .5 1.3 .5 .2 .5 .7 .5-.2 .5 .5 .5 .9 .5-.2 .5 .2 .5 .8 .5 0 .5-.3 .5 .8 .5-1.3 .5 .6 .5-.2 .5 .8 .5 .1 .5-.8 .5 .2 .5 .3 .5-.2 .5-.1 .5 .2 .5 .4 .5-.8 .5-.4 .5 .3 .5 .1 .5-.2 .5 .4 .5 0 .5 .1 .5-.1 .5-.1 .5-.5 .5 .3 .5-.2 .5 .5 .5-.2 .5 0 .5 .3 .5-.3 .5 .5 .5 0 .5-.8 .5 .9 .5-.7 .5-.1 .5 .1 .5-.4 .5 .6 .5 .3 .5-1 .5 .7 .5 .1 .5 0 .5 0 .5-.1 .5-.3 .5 .5 .5-.2 .5 .2 .5-.2 .5-.2 .5 .1 .5 .3 .5 .1 .5-1.1 .5 .3 .5-.1 .5 .4 .5 0 .5 .3 .5-.2 .5 .7 .5-.8 .5 0 .5 0 .5 .2 .5 .2 .5-.3 .5-.1 .5-.2 .5 .6 .5-.3 .5-.2 .5 .3 .5 .2 .5 .7 .5-.2 .5-.9 .5 .1 .5-.5 .5 0 .5 0 .5 1.1 .5-.4 .5-.5 .5 .3 .5 0 .5 0 .5 .8 .5-1.3 .5 .6 .5 .2 .5 .1 .5-1 .5 .9 .5-.6 .5 .3 .5-.4 .5 .9 .5 .8 .5-.8 .5-.5 .5-.6 .5 1 .5 .1 .5-.9 .5 .8 .5-1.1 .5 .2 .5 .6 .5-.6 .5 .8 .5 .2 .5-.5 .5 .2 .5 .4 .5-.4 .5 .3 .5 .1 .5-.9 .5 1.3 .5-.4 .5-.4 .5 .3 .5-.1 .5-.1 .5-.4 .5 .2 .5 .1 .5 .5 .5-.2 .5 0 .5-.2 .5 .5 .5-1.4 .5 .5 .5 .7 .5-.6 .5 .4 .5 .3 .5-.3 .5-.9 .5 .4 .5-.4 .5 .6 .5 .2 .5-.6 .5 .3 .5-.3 .5 .7 .5-.7 .5 0 .5 .1 .5 .1 .5-.1 .5-.4 .5 0 .5 .2 .5 0 .5-.4 .5-.2 .5 .1 .5 .3 .5-.4 .5-.3 .5 .3 .5-.1 .5 .4 .5-.5 .5 0 .5 .9 .5-.6 .5-.5 .5 .8 .5-.6 .5-.1 .5 .5 .5-.7 .5 .5 .5 .3 .5 .1 .5-.4 .5 .1 .5 .2 .5 .6 .5-1.1 .5 1.1 .5-.2 .5 .5 .5-.9 .5 1 .5-.7 .5 .5 .5-.3 .5-.7 .5 .9 .5 .2 .5 .2 .5-.5 .5-.3 .5 .7 .5-.4 .5 .5 .5 .1 .5-.6 .5 0 .5-.3 .5-.5 .5 .7 .5 .2 .5 .1 .5-.4 .5 .6 .5-.9 .5 .1 .5-.2 .5 0 .5 0 .5-.2 .5 0 .5 .2 .5-.2 .5-.5 .5 .4 .5-.6 .5 .2 .5-.4 .5-1 .5-.1 .5 .2 .5-1.3 .5-.8 .5-.9 .5-1 .5-1.2 .5-1.9 .5-1 .5-2.7 .5-1.9 .5-1.9 .5-1.6 .5-1 .5-.8 .5-1.6 .5 .1 .5 1 .5 .8 .5 2 .5 1.1 .5 2.7 .5 .8 .5 3 .5 1.8 .5 2.4 .5 .1 .5 1.8 .5 1 .5 .2 .5 1.1 .5 .1 .5 .3 .5 .2 .5 .7 .5-.1 .5-.3 .5 1 .5-.6 .5 .9 .5-.1 .5-.4 .5-.2 .5 .2 .5-.1 .5 .3 .5 .1 .5 1 .5-1.7 .5 .6 .5 .4 .5 .2 .5 .1 .5-.9 .5 .7 .5-1.4 .5 1 .5 .4 .5 0 .5-.8 .5 .2 .5-.5 .5 .5 .5-.2 .5 .6 .5-.4 .5 .6 .5-.3 .5-.1 .5 .9 .5-.2 .5-1 .5 1.1 .5-.3 .5 .3 .5-.4 .5-.8 .5 .6 .5-.8 .5 .4 .5 .3 .5 .7 .5-.5 .5 .1 .5 .2 .5-.6 .5 .8 .5-.4 .5-.5 .5 .2 .5 .1 .5 .3 .5 .4 .5-.7 .5 0 .5 .8 .5 .5 .5-.5 .5-.7 .5-.2 .5 .3 .5-.2 .5-.5 .5 .8 .5 .3 .5-1.4 .5-.2 .5 0 .5-.6 .5 .6 .5-1.1 .5 .6 .5-.4 .5-.1 .5-1.2 .5 .4 .5-.1 .5 0 .5-.3 .5-.5 .5 .7 .5 .1 .5 .1 .5-.7 .5 .6 .5-.3 .5 .5 .5 .7 .5-.6 .5 1.9 .5-.3 .5-.5 .5 .3 .5 .5 .5 .2 .5-.3 .5 .6 .5-.4 .5 .4 .5 1 .5-.6 .5-.1 .5 .8 .5-.5 .5 .1 .5-.4 .5 .6 .5-.6 .5 .5 .5-.1 .5 .4 .5-.3 .5-.4 .5-.4 .5 .3 .5-.1 .5 .9 .5-.8 .5-.7 .5 1 .5 .2 .5-.7 .5 .6 .5-.8 .5 .6 .5-.2 .5 .2 .5 .1 .5-.5 .5 .6 .5-.5 .5 .2 .5 .5 .5-.9 .5 .4 .5 .6 .5-.1 .5-.7 .5 0 .5 .5 .5-.5 .5 .3 .5-.5 .5 .8 .5-.9 .5 .7 .5 .2 .5-.5 .5-.4 .5 .2 .5-.3 .5 1.5 .5-1.5 .5 .2 .5 .6 .5-.1 .5 .4 .5 0 .5-.3 .5-.3 .5-.3 .5 .1 .5 .3 .5-.3 .5-.2 .5-1.1 .5 .1 .5-.3 .5-.2 .5-.5 .5 .4 .5-.2 .5 .1 .5-1.1 .5 0 .5 0 .5-.1 .5-.2 .5 .8 .5-1 .5 .9 .5-.3 .5 1.4 .5-.5 .5 .4 .5 .8 .5-.2 .5 .8 .5 0 .5 1.1 .5-1.1 .5 .3 .5 .7 .5-.1 .5 .2 .5-.2 .5 .5 .5-.2 .5 .4 .5-1 .5 .6 .5-.2 .5 .3 .5-.6 .5 .7 .5-.8 .5 .9 .5-.2 .5-.9 .5 .8 .5-.9 .5 1 .5-1 .5 .6 .5-.2 .5-.6 .5-.3 .5 .7 .5-.8 .5 .1 .5-1.1 .5 .2 .5-2.1 .5-.6 .5-2 .5-1.6 .5-1.3 .5-2 .5-1.2 .5-.1 .5-1.4 .5-.7 .5 .9 .5 0 .5 1.4 .5 1.6 .5 1.5 .5 1.7 .5 1.2 .5 1.1 .5 1.2 .5 .9 .5 .7 .5 1.6 .5-.4 .5 1.1 .5-.5 .5 .7 .5-1.5 .5 1.3 .5-.2 .5 .9 .5 0 .5-.8 .5 .2 .5 .4 .5-.2 .5-.1 .5 .3 .5-.9 .5 1.2 .5-.5 .5-1.4 .5 .8 .5 .3 .5 .9 .5-1 .5-.6 .5 1.1 .5-.5 .5-.2 .5 .3 .5-.6 .5 0 .5 .3 .5-.3 .5 .1 .5-.7 .5 .7 .5-1.4 .5-.2 .5 .6 .5-.5 .5 .1 .5-.2 .5-.3 .5-.5 .5 .4 .5 .3 .5-1 .5 1 .5-.2 .5-1 .5 .7 .5-.8 .5 .4 .5-.3 .5 .3 .5-.5 .5 .8 .5-.2 .5 .2 .5-.3 .5 1 .5 1 .5-.8 .5 .3 .5-.2 .5 .5 .5 0 .5-.1 .5 .4 .5 .3 .5 .4 .5-.1 .5 .3 .5 .5 .5 0 .5-.5 .5-.5 .5 .6 .5 .1 .5 .4 .5-.3 .5 1 .5-1.3 .5 .4 .5-.7 .5 0 .5 .2 .5 .2 .5 .1 .5-1.6 .5 1.7 .5 .1 .5-.1 .5-.3 .5-.4 .5 .3 .5 .2 .5-.9 .5 .6 .5 0 .5-.3 .5 .8 .5-1.1 .5-.1 .5 .4 .5-.2 .5 .8 .5-1.3 .5 .2 .5 .6 .5 .2 .5-.9 .5 1.1 .5-1.5 .5 1.4 .5-1 .5 .2 .5 1.1 .5-1 .5-.4 .5 .5 .5 .9 .5-1.1 .5-.6 .5 .6 .5-1 .5 .3 .5 0 .5 .8 .5-.9 .5 .7 .5 .5 .5 .3 .5-2.7 .5 1.3 .5-1 .5 1.6 .5-.4 .5-.3 .5-.5 .5-.5 .5-.8 .5 2.8 .5-1.3 .5 .2 .5 .4 .5 .5 .5 1.3 .5-2.5 .5 1 .5-2.9 .5 1.5 .5-.4 .5 0 .5 2.5 .5-1.6 .5-.1 .5 0 .5-.5 .5 0 .5-.7 .5 .1 .5 .2 .5 .4 .5-3 .5 3.4 .5-.2 .5 .8 .5-2.8 .5 .3 .5 3.3 .5-15.1 .5-3.8 .5-8.3 .5 1.4 .5 22.8" stroke="#ff0000"/>
<path d="M20,202.6l.5 1.1 .5 2.2 .5 .2 .5 .5 .5 .6 .5 .2 .5 .9 .5-.1 .5 .3 .5 .2 .5-.5 .5 .5 .5 .2 .5 .3 .5-.6 .5-.1 .5-.3 .5 .3 .5 .2 .5 .1 .5-.6 .5 .4 .5 .1 .5-.1 .5 .1 .5 .4 .5-.5 .5 .6 .5-.6 .5 .6 .5-.5 .5 .9 .5-.2 .5 .3 .5-.8 .5-.2 .5 0 .5 .4 .5 .5 .5-.1 .5-.1 .5-.7 .5 .9 .5-.2 .5-.5 .5-.8 .5 .7 .5 .2 .5 .6 .5-.5 .5-.2 .5 .6 .5 0 .5-.5 .5 .1 .5 .2 .5-.7 .5 .4 .5-.4 .5-.2 .5 .5 .5 .2 .5 .3 .5-.5 .5 .1 .5-.5 .5-.5 .5 .3 .5 .4 .5-.4 .5 .9 .5-.3 .5-.5 .5 .7 .5-.4 .5 .4 .5-.7 .5 .3 .5-.4 .5 .1 .5 .5 .5 .3 .5-.7 .5 0 .5-.4 .5 .2 .5 .3 .5-.7 .5 .3 .5-.3 .5 .4 .5 .1 .5-.5 .5-.7 .5-1.2 .5-1.9 .5-2.2 .5-3.9 .5-7.1 .5-8.3 .5-9.9 .5-10 .5-7.2 .5-4.5 .5-.2 .5 5.4 .5 9.6 .5 9.1 .5 9.8 .5 7.6 .5 6.5 .5 3.7 .5 2.6 .5 1.3 .5 1.9 .5 .7 .5-.7 .5 .3 .5 .1 .5-.2 .5 0 .5-.2 .5 .3 .5-1.1 .5-.2 .5 0 .5-1.4 .5 .6 .5-1 .5 .2 .5 .8 .5 0 .5 .6 .5 .3 .5 .7 .5 .3 .5-.5 .5 .6 .5 .1 .5-.2 .5-.5 .5 .6 .5 .1 .5-.8 .5-.5 .5 .3 .5 .3 .5 .4 .5-.1 .5-.3 .5-.6 .5 .4 .5-.4 .5-.5 .5-.5 .5 .9 .5-1.2 .5 .8 .5 .1 .5-1.3 .5-.9 .5-.7 .5-.9 .5-.7 .5-1.2 .5-2.3 .5-1.7 .5-2.2 .5-1.5 .5-2.3 .5-2.8 .5-1.6 .5-1.2 .5-1.4 .5 .6 .5 1.2 .5 .9 .5 2.6 .5 2.2 .5 2 .5 2.8 .5 1.3 .5 2.3 .5 1.3 .5 1.9 .5 .3 .5 1.3 .5 .7 .5 .7 .5 .5 .5-.9 .5 .7 .5-.3 .5 .9 .5 .2 .5-.6 .5 .2 .5 .4 .5-.5 .5-.2 .5-.6 .5 .2 .5 .5 .5-1.1 .5 .4 .5-.4 .5-.5 .5-.3 .5-1.3 .5-.2 .5-2 .5-1.1 .5-2.7 .5-2.2 .5-3.2 .5-2.8 .5-5.1 .5-4.3 .5-4 .5-5.3 .5-5.3 .5-4.7 .5-4.4 .5-2.7 .5-1.5 .5 .1 .5 1.2 .5 2.9 .5 3.4 .5 4.1 .5 5 .5 5.8 .5 4.3 .5 5.2 .5 3 .5 4.2 .5 3.1 .5 3.1 .5 1.9 .5 1.6 .5 2 .5 .3 .5 1.5 .5 1.2 .5-.1 .5 .9 .5 0 .5 .5 .5 .5 .5 .3 .5 .1 .5-.3 .5 1 .5-.4 .5-.3 .5 .9 .5-.7 .5 1 .5-.5 .5-.4 .5-.1 .5-.2 .5 0 .5 .1 .5 .6 .5-.5 .5-.2 .5 .1 .5-.4 .5-.5 .5-.3 .5 1 .5-.9 .5 .5 .5-.1 .5-1 .5-.1 .5-.9 .5-.4 .5-.4 .5-.6 .5 0 .5-1.3 .5-.3 .5-.9 .5-.4 .5-.1 .5-1.7 .5 .7 .5-.9 .5 .3 .5-.1 .5 .2 .5 0 .5 0 .5 2.5 .5 .1 .5 .2 .5 .1 .5 1.6 .5 1 .5 .1 .5-.3 .5 .9 .5 .7 .5 .2 .5 .8 .5-.6 .5 .3 .5-.6 .5 1.5 .5-.1 .5-.3 .5-.5 .5 1.1 .5-.9 .5 .1 .5-.2 .5 .2 .5 .2 .5 0 .5 .9 .5-.1 .5-.2 .5-.2 .5 .2 .5-.5 .5 .8 .5-.5 .5 .2 .5 .4 .5-.5 .5-.2 .5 1 .5-1.1 .5 .2 .5 .1 .5 .1 .5 .2 .5-1.2 .5 1 .5 .8 .5-.2 .5-.1 .5-.5 .5 .1 .5-.3 .5-.5 .5 .7 .5 .3 .5-.4 .5-.1 .5 .3 .5-.2 .5 .3 .5-.6 .5-.6 .5 .9 .5 .2 .5-.6 .5 .4 .5 .3 .5-1.4 .5 2.2 .5-.6 .5-.4 .5-.3 .5-.1 .5 2.1 .5-1.4 .5 .5 .5-.5 .5 .2 .5 .5 .5-.6 .5 .4 .5 0 .5 .4 .5 .2 .5-.4 .5 .7 .5-.7 .5 0 .5 .2 .5-.1 .5 .4 .5-1.4 .5 .4 .5-.2 .5 1.5 .5-.3 .5-.6 .5 .4 .5-.9 .5 .6 .5 .7 .5-.4 .5 .6 .5-1.1 .5 .7 .5-.5 .5 .1 .5-.1 .5 .2 .5 .2 .5-.6 .5 .1 .5-.3 .5 .1 .5-.5 .5 .7 .5-.2 .5-.2 .5-.2 .5-.3 .5-.2 .5-.1 .5 .1 .5 .7 .5-.3 .5-.7 .5 .1 .5 1 .5 .1 .5-.4 .5 .6 .5-1.2 .5 .5 .5-.4 .5 1.1 .5-.7 .5 0 .5 0 .5-.4 .5 .3 .5-1 .5 .8 .5-.2 .5 .7 .5 .2 .5-.4 .5-.6 .5 0 .5 .7 .5-.4 .5 0 .5-.4 .5 .6 .5 0 .5 .2 .5-.7 .5 .4 .5-.6 .5 .7 .5-.1 .5-.1 .5 .5 .5-.9 .5 1.2 .5-.5 .5 .1 .5-.1 .5-.4 .5 .1 .5 .6 .5-.4 .5 .1 .5-.3 .5 .5 .5-.1 .5-.7 .5 1.3 .5-.4 .5-.1 .5-.2 .5-.1 .5 .4 .5 .7 .5-1.1 .5-.4 .5 .5 .5 0 .5 .4 .5-.9 .5 .4 .5 0 .5 .6 .5 0 .5-.3 .5 .3 .5-.4 .5 0 .5-1 .5 .6 .5-.1 .5 .6 .5-.1 .5-.5 .5 .4 .5 0 .5 .2 .5-.4 .5 0 .5 .8 .5-.6 .5 .6 .5-.7 .5 .3 .5 0 .5-.2 .5 .7 .5-.8 .5 .7 .5-.9 .5 1.2 .5-.2 .5 .4 .5 .4 .5-1.1 .5 .3 .5-.5 .5 .3 .5 .2 .5 0 .5 .3 .5-.2 .5 .2 .5-.7 .5 .3 .5-.5 .5 .3 .5-1.1 .5 1 .5 0 .5-.3 .5 0 .5-.6 .5 .3 .5 0 .5 .2 .5-.1 .5-.5 .5-.2 .5-.1 .5-.9 .5 .3 .5-.3 .5-1.4 .5-1.3 .5-.8 .5-.8 .5-1.3 .5-2.6 .5-.9 .5-1.9 .5-1.4 .5-1 .5-1 .5-1 .5-.4 .5 .5 .5 .3 .5 2.2 .5 0 .5 2.4 .5 1.4 .5 1.5 .5 1 .5 1.6 .5 1.3 .5 1 .5 1.1 .5 .9 .5 .3 .5 .9 .5 .5 .5-.2 .5 .7 .5-.1 .5-.1 .5 .5 .5 .3 .5-.6 .5-.5 .5 1 .5 .1 .5-.8 .5 .4 .5 .3 .5-1.1 .5 1.2 .5 0 .5 .1 .5 .3 .5-1 .5 .8 .5 .6 .5-1.8 .5 .7 .5 .5 .5-.6 .5-.4 .5 .8 .5 0 .5-.4 .5 .4 .5 .3 .5 0 .5-.2 .5-.7 .5 .4 .5-.8 .5 .5 .5 .5 .5 .1 .5-.2 .5 0 .5-.8 .5 .3 .5 0 .5 .3 .5 0 .5 1.1 .5-.5 .5-.7 .5 .1 .5 .1 .5 0 .5 .1 .5-.6 .5 1.3 .5-.1 .5 0 .5-.2 .5 .1 .5-.3 .5-.6 .5 .8 .5 0 .5-.6 .5-.4 .5 1.3 .5-.9 .5 .3 .5-.3 .5 .8 .5-1.4 .5 .8 .5-1.6 .5 1.1 .5-.8 .5-1 .5 .7 .5-.3 .5-1 .5 .6 .5-.5 .5 0 .5-1 .5 .1 .5-.2 .5 .4 .5-.3 .5-.1 .5 1.1 .5-.7 .5 .9 .5 .1 .5-.4 .5-.1 .5 1.1 .5 .4 .5 .5 .5 0 .5 .2 .5-.2 .5 .2 .5 1.8 .5-.7 .5-.9 .5 .7 .5 .2 .5-.9 .5 .6 .5 .4 .5 .4 .5 0 .5-.8 .5 0 .5-.1 .5 .2 .5 .2 .5-.8 .5 .3 .5-.2 .5-.1 .5 .1 .5 .9 .5-.1 .5-.1 .5-1.3 .5 .8 .5 .8 .5-.8 .5-.5 .5 .5 .5-.3 .5-.1 .5 .3 .5 .1 .5-.2 .5 .1 .5-.4 .5 .4 .5 .4 .5-.2 .5-.1 .5-.4 .5 1 .5-.8 .5 .8 .5-.4 .5 .5 .5 .1 .5-.5 .5-1.1 .5 .5 .5 .4 .5 0 .5 .5 .5 .7 .5-.5 .5-.4 .5 .6 .5-.7 .5 .4 .5-.2 .5-1 .5 1.1 .5 .3 .5-.9 .5 .3 .5-.2 .5-.4 .5-.2 .5 .3 .5-.8 .5-.2 .5 .3 .5-.3 .5 0 .5-1.2 .5-.6 .5 .8 .5-1.3 .5 .3 .5 0 .5 .8 .5-.7 .5-.3 .5 .6 .5 .8 .5-1 .5 .5 .5 1.2 .5 0 .5-.2 .5 .6 .5 .4 .5-.2 .5 .4 .5 1 .5-.3 .5 .4 .5-.3 .5-.2 .5 .4 .5-.4 .5 .6 .5-.3 .5 0 .5 .1 .5-.3 .5 .9 .5-1.1 .5 .6 .5-.6 .5 .9 .5-.5 .5 .1 .5 .1 .5-.1 .5-.1 .5 0 .5 0 .5-.4 .5 0 .5-.1 .5-.3 .5-.1 .5 .6 .5-1.4 .5 .8 .5-1.5 .5-.3 .5-1.2 .5-1.3 .5-1.1 .5-1 .5-2.3 .5-1.5 .5-1.5 .5-.1 .5-1 .5-.3 .5-.2 .5 0 .5 2 .5 .4 .5 2 .5 2.2 .5 .9 .5 1.3 .5 .6 .5 2 .5 .7 .5 .1 .5 .8 .5-.6 .5 .5 .5 .5 .5 .3 .5-.3 .5-.5 .5 .3 .5 .6 .5-.7 .5 .4 .5 0 .5-.4 .5 .3 .5-.7 .5 .4 .5 .3 .5 .3 .5 .2 .5-.7 .5 .4 .5-.2 .5-.3 .5 0 .5 .3 .5 0 .5-.4 .5 1.4 .5-1.2 .5 .2 .5-.4 .5 1.1 .5-2.1 .5 .6 .5 0 .5 .3 .5-.7 .5-.5 .5 .8 .5-.5 .5-.6 .5-.1 .5-.2 .5 0 .5-.9 .5 .6 .5-.4 .5 .4 .5-.1 .5-.6 .5 1 .5-.3 .5-.6 .5 0 .5 .3 .5 .5 .5 .5 .5-.7 .5 .2 .5 .7 .5-.1 .5 .2 .5 .1 .5 .1 .5 1 .5-.1 .5-.4 .5 .8 .5 .3 .5-.4 .5 0 .5-.2 .5 .3 .5 .2 .5 .4 .5-.8 .5-.2 .5 .4 .5 .4 .5-.9 .5 .7 .5-.2 .5-.2 .5 .5 .5 .4 .5-1 .5 .6 .5-.2 .5 .2 .5-.3 .5-.3 .5 .6 .5-.3 .5-.6 .5-.5 .5 .5 .5 .3 .5 .1 .5-.6 .5 0 .5-.6 .5 .5 .5 .2 .5-.3 .5 .1 .5-.4 .5 0 .5 .5 .5-.9 .5 .7 .5 .5 .5-.8 .5 0 .5-.2 .5-.3 .5 .3 .5-.4 .5 .5 .5-.2 .5-.4 .5 .7 .5 .5 .5-.1 .5-.8 .5 .1 .5-.8 .5 .6 .5 .6 .5 0 .5 .4 .5-2.3 .5 2.5 .5-1.1 .5 1.1 .5-1.5 .5 1.2 .5-1.3 .5-1 .5 1.3 .5-.8 .5 .5 .5 .6 .5 .3 .5-.1 .5 .4 .5-3 .5 3.3 .5-2.5 .5 1.2 .5-.6 .5-1 .5 2.8 .5-2.7 .5 .7 .5 2.9 .5-5.5 .5 .8 .5 4.1 .5-2.2 .5 2 .5-1.4 .5-.8 .5 2.1 .5-2.5 .5 .3 .5 1.4 .5-2.5 .5-.6 .5-12.7 .5-1.2 .5-4.2 .5 1 .5 19.9" stroke="#ff0000"/>
<path d="M20,211.5l.5 1.6 .5-.1 .5 1.6 .5 1.1 .5-.5 .5 1.4 .5 .4 .5 0 .5 .3 .5-.4 .5 .4 .5 0 .5-.3 .5 .1 .5-.8 .5 .2 .5 .9 .5 0 .5-.7 .5-.3 .5-.2 .5 1.3 .5-.4 .5 .7 .5-.3 .5 .4 .5-.5 .5-.5 .5 .1 .5 .6 .5-1 .5 .8 .5-.4 .5 .7 .5-.7 .5-.1 .5 .7 .5-1.6 .5 1.7 .5-.3 .5-.4 .5 .5 .5-.4 .5 .4 .5-.2 .5 .3 .5-.7 .5 .1 .5 1 .5-.6 .5-.2 .5-.3 .5 .2 .5 .3 .5-.6 .5 .5 .5-.1 .5-.7 .5 .8 .5 .5 .5-.6 .5 .1 .5 .2 .5-.4 .5-.4 .5 .7 .5-.1 .5-.1 .5 .8 .5-.5 .5-.3 .5 0 .5 .9 .5-.3 .5-1 .5 .9 .5-.4 .5-.1 .5 .7 .5-.2 .5-.7 .5 .3 .5 .3 .5-.4 .5 .2 .5-.5 .5 .7 .5 0 .5-1 .5-.4 .5 .3 .5 .4 .5-.6 .5-.6 .5-.8 .5-2.3 .5-2.3 .5-4.4 .5-6.6 .5-7.8 .5-10.3 .5-9.9 .5-7.7 .5-4.6 .5 .1 .5 5.3 .5 8.7 .5 9.9 .5 9.1 .5 8.8 .5 6.5 .5 3.5 .5 2.3 .5 2.1 .5 .6 .5-.1 .5 .5 .5-.1 .5 .8 .5-.9 .5 1 .5-.8 .5 .3 .5-.5 .5-.1 .5-.2 .5-.8 .5-1.2 .5 .1 .5 .1 .5 1.1 .5-.5 .5 .7 .5 .4 .5 .7 .5 .5 .5-.5 .5 1 .5 0 .5-.2 .5-.1 .5 .7 .5-1.4 .5 .2 .5 1 .5-1.3 .5 .6 .5-.3 .5-.3 .5 0 .5 .2 .5 .2 .5 0 .5 0 .5-.3 .5-.2 .5 .1 .5-.7 .5-.5 .5 .5 .5-1.6 .5 .4 .5-.5 .5-2 .5-1.6 .5-1 .5-1.2 .5-2.5 .5-1.4 .5-2.4 .5-2.8 .5-1.3 .5-2.6 .5-.7 .5 0 .5 .8 .5 1 .5 1.9 .5 .8 .5 4 .5 .5 .5 2.4 .5 2.4 .5 1.2 .5 1.6 .5 .1 .5 .9 .5 .9 .5 .5 .5 .6 .5 .1 .5-.1 .5 .7 .5-.6 .5 .4 .5 .4 .5-.5 .5 .4 .5 .3 .5 .3 .5-.2 .5-.1 .5-.3 .5-.8 .5 0 .5-.3 .5-.2 .5-.2 .5-.9 .5-.6 .5-.4 .5-1.9 .5-2.3 .5-1.4 .5-2.5 .5-3.1 .5-2.6 .5-4.5 .5-4.1 .5-5.7 .5-4.4 .5-5.2 .5-4.7 .5-4.3 .5-2.6 .5-2.7 .5 .8 .5 2 .5 2 .5 2.2 .5 5.3 .5 4.4 .5 5.1 .5 5 .5 5.2 .5 4 .5 3.2 .5 3.8 .5 2.6 .5 3.1 .5 .5 .5 2 .5 .8 .5 1.3 .5 0 .5 1 .5 .7 .5 .2 .5 .1 .5 .6 .5 0 .5 0 .5 .4 .5 .3 .5 .2 .5-.7 .5 .6 .5 .7 .5-.9 .5 .7 .5-.2 .5 .6 .5 .1 .5-.3 .5-.3 .5-.4 .5 .4 .5-.1 .5 .3 .5 .6 .5 .1 .5-.8 .5-.1 .5-.3 .5 0 .5-.5 .5 .5 .5-1.3 .5-.1 .5-.7 .5 .1 .5-.2 .5-1.1 .5-.8 .5-.7 .5-.4 .5-1 .5 .4 .5-.4 .5-.6 .5-.2 .5-.5 .5 1 .5-1 .5 .7 .5 1.6 .5-.4 .5 .4 .5 .3 .5 1.7 .5 .6 .5 .2 .5-.3 .5 1.1 .5 .1 .5 1.1 .5 .5 .5-.2 .5 .2 .5 .6 .5 .2 .5-1 .5 .8 .5-.6 .5 .2 .5 .9 .5-.9 .5 .4 .5 .6 .5-.2 .5-.8 .5 .6 .5 0 .5-.2 .5 1.2 .5-.8 .5 0 .5 .5 .5-.4 .5-.5 .5 .5 .5 .2 .5 0 .5 .3 .5 0 .5-.1 .5-.3 .5 .2 .5 .7 .5-1.4 .5 1.2 .5-.3 .5-.4 .5 .3 .5 .2 .5-.7 .5 .6 .5 .2 .5-.6 .5 .5 .5 .5 .5-.5 .5-.4 .5-.2 .5-.1 .5 1.1 .5-.4 .5 0 .5 0 .5-.2 .5 1 .5-.4 .5 .3 .5-1.1 .5 .7 .5 0 .5-.8 .5 .1 .5 0 .5 .6 .5-.3 .5-.4 .5 .5 .5-.6 .5 .2 .5-.1 .5-.4 .5 .7 .5-.4 .5-1 .5 .8 .5 .7 .5-1.5 .5 1.2 .5-.2 .5-.6 .5 .5 .5-.5 .5-.1 .5 .8 .5 0 .5-.8 .5 .5 .5 .2 .5-.6 .5 1.1 .5-.7 .5 .5 .5 .1 .5-.6 .5 .5 .5-.1 .5 .2 .5-.4 .5 .6 .5-.1 .5 .3 .5-.1 .5-1 .5 .3 .5 .4 .5 .2 .5-.6 .5 .2 .5 .1 .5-.2 .5 .5 .5-.8 .5 .5 .5-.5 .5 .5 .5-.6 .5 .2 .5 .5 .5-.8 .5 .4 .5 .2 .5-.3 .5-.1 .5 .1 .5-.4 .5 .6 .5 0 .5 .4 .5-.6 .5 .3 .5-.6 .5 .4 .5-.6 .5 .5 .5-.2 .5 .5 .5-1.2 .5 .8 .5-.1 .5 .4 .5-.5 .5 .1 .5 .7 .5-.8 .5 .1 .5 .6 .5-1.3 .5 1 .5 0 .5 0 .5-.8 .5 .1 .5 .2 .5 0 .5 .6 .5-.5 .5 .8 .5-.6 .5 .2 .5-.5 .5 0 .5 .4 .5 .2 .5-.6 .5 .8 .5-.6 .5 .7 .5-1.1 .5 .4 .5 .4 .5-.3 .5-.1 .5 .5 .5 .1 .5-.5 .5 .5 .5-.5 .5-.1 .5 .8 .5-.7 .5 0 .5 .5 .5-.6 .5 0 .5 .2 .5 .2 .5 .3 .5-.5 .5-.2 .5-.2 .5 .3 .5-.1 .5 .6 .5-1.1 .5-.1 .5 0 .5 .6 .5 .2 .5 .4 .5-1.2 .5 .6 .5-.3 .5 .8 .5-.5 .5 .4 .5-.6 .5 .4 .5-.3 .5-.5 .5 .6 .5-.5 .5-.8 .5 .9 .5-.5 .5 .7 .5 .4 .5-.5 .5 .1 .5-.7 .5 .2 .5 .1 .5 1 .5-.9 .5 .3 .5-.7 .5 .5 .5 .3 .5-.1 .5 0 .5 .3 .5 .1 .5-.7 .5 0 .5 .7 .5 .1 .5-.9 .5 .7 .5-.9 .5 .3 .5 .3 .5-1.4 .5 .2 .5-.5 .5-1 .5 0 .5-1.5 .5-.8 .5-1.3 .5-.6 .5-1.2 .5-.9 .5-1.9 .5-1.4 .5 0 .5-1.6 .5 .2 .5 .3 .5 .1 .5-.4 .5 1.3 .5 1.2 .5 1.9 .5 .6 .5 1.8 .5 1 .5 1 .5 .8 .5 .5 .5 1.5 .5 .1 .5 1 .5-.6 .5-.1 .5 1.4 .5-.8 .5 .6 .5-.1 .5 .2 .5 0 .5-.3 .5 0 .5 .6 .5-.3 .5 1 .5-.6 .5 .6 .5-.7 .5 .5 .5-.5 .5-.1 .5 .3 .5 .1 .5 1.1 .5-1.5 .5 .2 .5 .6 .5-.4 .5 .2 .5 .2 .5-.3 .5-.3 .5-.2 .5 .5 .5 .2 .5-.1 .5 .3 .5-.6 .5 .3 .5-.5 .5-.4 .5 1 .5-.5 .5 .5 .5-.5 .5-.4 .5 .2 .5 .3 .5-.2 .5 .2 .5 .3 .5-.2 .5 .2 .5-.3 .5-.2 .5-.1 .5-.5 .5 1.1 .5 .3 .5-.9 .5 0 .5 .1 .5 .4 .5-.1 .5-.2 .5 .1 .5-.7 .5 .5 .5-.1 .5 .2 .5-.6 .5-.1 .5 .2 .5 .7 .5-1.5 .5 .9 .5-1.5 .5 .2 .5-.7 .5 .7 .5-.8 .5-.2 .5 .1 .5-.1 .5-.9 .5 .2 .5-.3 .5 .6 .5-1.2 .5 1.7 .5-.8 .5-.6 .5 1.2 .5-.3 .5 .6 .5 .3 .5 .7 .5-.9 .5 1.1 .5 .5 .5-.7 .5 1 .5 .2 .5-.4 .5-.4 .5 1 .5-.2 .5 .9 .5-.6 .5 .4 .5 0 .5 0 .5-.6 .5 .3 .5 .4 .5-.1 .5 0 .5 .4 .5-.2 .5 .3 .5-.3 .5 .2 .5-.4 .5-.4 .5 1 .5 0 .5-.1 .5-.6 .5 .7 .5-.4 .5 0 .5-.4 .5 .1 .5-.1 .5 .4 .5-.5 .5 .3 .5-.3 .5-.3 .5 .5 .5 .1 .5-.1 .5-1.2 .5 1.6 .5-.4 .5-.4 .5 1.2 .5-.8 .5 .3 .5-.2 .5-1 .5 1.4 .5-.9 .5 .9 .5-.5 .5-.3 .5-.6 .5 .8 .5-.2 .5 .4 .5-.4 .5 .7 .5-.5 .5 0 .5 1 .5-.5 .5-.6 .5 .3 .5-.8 .5 .2 .5 .1 .5-.4 .5-.3 .5 .4 .5-.8 .5-.3 .5-.2 .5-.3 .5 .3 .5-.4 .5-.9 .5 1 .5-.2 .5-.5 .5-.2 .5 .5 .5-.1 .5 .7 .5 0 .5 .8 .5-.9 .5 .7 .5 .6 .5-.1 .5 .3 .5-.1 .5 1.3 .5-.7 .5 .4 .5-.5 .5 .2 .5 .2 .5 .7 .5-.1 .5 .3 .5-.3 .5 0 .5-.7 .5-.1 .5 .7 .5-.8 .5 .5 .5-.4 .5-.2 .5 .4 .5-.3 .5 .2 .5 .4 .5-.4 .5 .5 .5-.6 .5 .3 .5-.6 .5 .9 .5-1.4 .5 .7 .5-.1 .5-1.5 .5 0 .5-.5 .5-.1 .5-.8 .5-1 .5-.6 .5-.5 .5-2.5 .5-.6 .5-1.2 .5-.5 .5-2 .5-.3 .5 .1 .5 .1 .5 1 .5 .4 .5 .4 .5 1.6 .5 .8 .5 1.5 .5 1.4 .5 .8 .5 1.7 .5 1.3 .5-.1 .5-.2 .5 1.6 .5 .5 .5-.6 .5 .4 .5 .4 .5-.3 .5 .5 .5-.3 .5-.4 .5 0 .5 .1 .5-.2 .5 .8 .5-.4 .5-.3 .5 .4 .5-.3 .5 .3 .5 .2 .5-.7 .5-.3 .5-.3 .5 1 .5-.6 .5-.5 .5 .1 .5-.5 .5 .8 .5-.5 .5-.4 .5-.6 .5 1.2 .5-.9 .5-1.1 .5 .5 .5 .1 .5-.1 .5-.6 .5 .8 .5-.3 .5-.3 .5-.3 .5-.5 .5 .5 .5 .1 .5-.4 .5 .7 .5 .2 .5-.4 .5 .1 .5 .3 .5 .8 .5 0 .5-1 .5 .6 .5 1.3 .5-1 .5 1 .5-.3 .5 .4 .5-.5 .5 .3 .5 .3 .5-.1 .5 0 .5 .7 .5-.6 .5 .7 .5-.7 .5 .1 .5 .4 .5-.1 .5 .2 .5-.4 .5 0 .5-.2 .5-.5 .5 .5 .5 .5 .5-.5 .5 .1 .5 .3 .5-.8 .5 .4 .5-.4 .5 .6 .5-1 .5 .4 .5-.1 .5 0 .5-.1 .5 .9 .5-.9 .5 0 .5-.5 .5 0 .5 .2 .5-.2 .5 .6 .5-.5 .5 0 .5 .1 .5-.3 .5-.2 .5 .2 .5 .3 .5-.1 .5-.4 .5 1.1 .5-.5 .5 .1 .5 .4 .5-1.2 .5 1 .5-.4 .5 0 .5-1 .5 .4 .5 .5 .5 0 .5 1 .5-1.3 .5 .5 .5-.4 .5-.8 .5 .7 .5 .3 .5 1.3 .5-.4 .5-1.5 .5-.3 .5 .7 .5-.5 .5 2.9 .5-1.6 .5-.8 .5-.5 .5-.6 .5 1 .5-2.7 .5 2.4 .5-.1 .5 2.3 .5-3.9 .5 3.2 .5-1.5 .5 1.4 .5-2 .5 1.5 .5 .6 .5 2.4 .5-4.8 .5 1 .5 0 .5-.8 .5 .8 .5 .2 .5-.7 .5-2.3 .5 3.3 .5-3 .5 2.4 .5 2 .5-4.2 .5 2.1 .5-11.7 .5-6.6 .5-6.9 .5 3.3 .5 24.5" stroke="#ff0000"/>
<path d="M20,219.2l.5 1.5 .5 1.4 .5 1 .5 .9 .5 .6 .5-1 .5 .4 .5 .8 .5 .8 .5-.8 .5 .7 .5-.6 .5 0 .5 .1 .5 .7 .5-.7 .5 .3 .5 .1 .5 .2 .5-.3 .5 .4 .5 .3 .5-.3 .5-.5 .5 .1 .5 .2 .5-.2 .5-.3 .5 .1 .5 .1 .5-.5 .5 2 .5-.8 .5-.6 .5 0 .5 .8 .5-1 .5 .2 .5 .9 .5-.4 .5 .4 .5-.3 .5 0 .5-.2 .5 .5 .5 0 .5 0 .5-.2 .5 .7 .5-.4 .5 .2 .5-.7 .5-.1 .5 .9 .5-.5 .5-.1 .5 .5 .5 .4 .5-.6 .5 0 .5 .3 .5 0 .5-.2 .5-.8 .5 1.1 .5-.6 .5 1.1 .5-1.1 .5 .4 .5-.1 .5 .1 .5 .9 .5-1.1 .5 .6 .5-.4 .5-.1 .5 .4 .5-.1 .5-.2 .5-.3 .5 .5 .5 1.2 .5-1.4 .5 .3 .5-.6 .5 1.6 .5-2 .5 .2 .5-.6 .5 .9 .5-.3 .5-.1 .5-.5 .5 .1 .5-1 .5-1.8 .5-4.3 .5-3.7 .5-5.9 .5-8 .5-11.3 .5-8.3 .5-9 .5-4.4 .5-1 .5 5.3 .5 8.4 .5 10.2 .5 9.7 .5 7.8 .5 7.4 .5 3.9 .5 2 .5 1.1 .5 2.1 .5-.9 .5 .7 .5 .1 .5 .3 .5 .5 .5 .2 .5-.3 .5-.7 .5 .7 .5-.4 .5-.7 .5 0 .5-1.9 .5-.2 .5-.1 .5 .3 .5 1 .5 .5 .5 .2 .5 1.1 .5-.2 .5-.1 .5 .1 .5-.3 .5 .4 .5-.2 .5 .3 .5 .1 .5 .1 .5-.4 .5 .9 .5-1.2 .5 .7 .5-.3 .5 .1 .5-.5 .5 0 .5 .5 .5-1 .5 .7 .5-.8 .5-.2 .5 .6 .5-.5 .5 .7 .5-1.9 .5 .3 .5-.7 .5-.9 .5-1.3 .5-1.8 .5-.7 .5-1.8 .5-2.1 .5-2.2 .5-1.8 .5-2.2 .5-1.9 .5-1.9 .5 0 .5-.7 .5 1.3 .5 .9 .5 2.2 .5 2.5 .5 1.7 .5 2.6 .5 1.4 .5 2.6 .5 .8 .5 2.4 .5 .3 .5 .5 .5 .2 .5 .7 .5 1.3 .5-1 .5 0 .5 .9 .5 .4 .5-.6 .5-.2 .5 .2 .5-.1 .5 .5 .5 .2 .5-1 .5-.4 .5-.3 .5-.5 .5 .4 .5-.9 .5 .5 .5-.9 .5-.9 .5-.1 .5-2.4 .5-.3 .5-2.1 .5-2.2 .5-2.7 .5-3.6 .5-2.9 .5-3.8 .5-5.8 .5-4 .5-5 .5-5 .5-4.3 .5-4.3 .5-3.1 .5-1.2 .5-1.3 .5 1.3 .5 2.4 .5 3.4 .5 4.4 .5 5.6 .5 4.1 .5 6.3 .5 3 .5 4 .5 4.6 .5 3.2 .5 4 .5 2.1 .5 1.4 .5 2 .5 1.3 .5 2.2 .5-.2 .5 .7 .5 .6 .5 .3 .5 .2 .5-.1 .5 .6 .5 .2 .5-.5 .5 .7 .5-.5 .5-.1 .5 .7 .5 .3 .5 .2 .5-.5 .5-.3 .5 .2 .5 .3 .5 .1 .5 .3 .5-.3 .5 .6 .5-.7 .5 .4 .5 .1 .5-.1 .5 0 .5-.8 .5 .7 .5-.8 .5 0 .5-.7 .5 .3 .5-.8 .5-.5 .5 0 .5-1.1 .5-.1 .5-.7 .5-.4 .5-.8 .5-1 .5 .2 .5-.3 .5 .4 .5 0 .5-.3 .5 .3 .5-1.1 .5 1.2 .5 .3 .5 1.3 .5 .6 .5 .6 .5 .6 .5 .4 .5 .4 .5 .2 .5 .9 .5 .1 .5 .7 .5-.4 .5 .3 .5-.1 .5 .7 .5-.5 .5-.5 .5 .6 .5 .1 .5 .3 .5-.1 .5 .7 .5-.3 .5 .2 .5 .3 .5-.2 .5 0 .5-.5 .5 .4 .5-.1 .5 .4 .5-.5 .5 .5 .5-.4 .5 .5 .5 .3 .5 0 .5-.6 .5 .7 .5-1.2 .5 .8 .5-.6 .5 .6 .5-.5 .5 .4 .5-.3 .5 .8 .5 .3 .5-.5 .5 0 .5-.3 .5-.2 .5-.1 .5-.5 .5 .1 .5 .6 .5-.5 .5 .3 .5-.6 .5 1.3 .5-.4 .5-.7 .5 .8 .5-.5 .5 .2 .5-.5 .5-.1 .5 .7 .5-.2 .5 0 .5 .1 .5-.3 .5-.2 .5 .3 .5-.8 .5 .8 .5 .5 .5-.5 .5 .8 .5-.8 .5-.2 .5 .7 .5-.3 .5 .4 .5-.5 .5 .5 .5-.1 .5 .1 .5 .3 .5-.7 .5 .3 .5 .5 .5 .1 .5-.2 .5-.7 .5 .5 .5-.2 .5 0 .5-.5 .5-.2 .5 1.2 .5-.1 .5-.9 .5 .4 .5 .1 .5-.2 .5 .4 .5-.4 .5-.5 .5 .4 .5 .3 .5-.6 .5 .7 .5 .1 .5-.2 .5-.1 .5-.2 .5 .2 .5-.5 .5-.7 .5 .7 .5 .9 .5-.2 .5-.8 .5 .3 .5-.2 .5-.1 .5 .3 .5 .5 .5-.3 .5-.1 .5-.7 .5 1.7 .5-1.3 .5 .5 .5 .3 .5-.3 .5 .3 .5-1.3 .5 .6 .5 .1 .5-.3 .5-.1 .5 1 .5-.8 .5 .9 .5-.1 .5-.5 .5-.4 .5 .3 .5-.1 .5 0 .5 0 .5 .3 .5-.2 .5 .1 .5 0 .5 .5 .5 .3 .5-.8 .5-.1 .5-.1 .5 .5 .5-.2 .5-.2 .5-.1 .5 .2 .5 .2 .5-.6 .5 .3 .5-.9 .5 .5 .5 .4 .5-.8 .5 .1 .5 .7 .5-.9 .5 .7 .5 1 .5-.7 .5 .6 .5-.1 .5-.9 .5 .3 .5 .2 .5 .3 .5 .2 .5-.3 .5-.2 .5-.5 .5 .8 .5-.7 .5 .7 .5 .1 .5-1.1 .5 1.3 .5-.9 .5 .5 .5 0 .5 .3 .5-.3 .5 .2 .5-.3 .5-.7 .5 .2 .5 .4 .5 .1 .5-.4 .5-.3 .5-.2 .5 .5 .5 1.2 .5-1.2 .5-.2 .5 .5 .5 .1 .5-.3 .5-.8 .5 .6 .5 0 .5 .5 .5-.4 .5 .2 .5-.4 .5 .3 .5 1.1 .5-.6 .5-.1 .5-.5 .5-.2 .5 .9 .5-.5 .5 .2 .5-.1 .5-.2 .5-1.1 .5 1.3 .5 .3 .5-.7 .5-.2 .5 .1 .5-.3 .5-.7 .5 .5 .5 .1 .5 .4 .5-.9 .5 .1 .5 .1 .5 .1 .5 .4 .5-.7 .5-.2 .5-1 .5 .8 .5-1.7 .5 .7 .5-.8 .5-1 .5-1.2 .5-.3 .5-1.3 .5-.2 .5-2.7 .5 .3 .5-1.9 .5 .4 .5-.5 .5 .3 .5-.6 .5 .5 .5 .1 .5 1.6 .5 1.2 .5 .8 .5 .7 .5 1.3 .5 1.2 .5 .7 .5-.1 .5 1.2 .5 .4 .5-.3 .5 1.8 .5 .2 .5-.3 .5 .9 .5 0 .5-.1 .5 .5 .5-.1 .5-.1 .5 .7 .5-.9 .5 1.4 .5-.6 .5-.2 .5 .4 .5-.5 .5 .2 .5 .9 .5-.6 .5-.2 .5 0 .5 .4 .5-.1 .5-.5 .5 .6 .5-.6 .5 0 .5 .2 .5-.6 .5-.4 .5 .5 .5 .4 .5-.5 .5 .4 .5 .1 .5-.6 .5 .1 .5-.1 .5 .3 .5-.1 .5-.1 .5 .5 .5-.4 .5 0 .5-.4 .5 .3 .5 .5 .5-.2 .5-.2 .5-.1 .5-.3 .5 .1 .5 .7 .5-.3 .5 0 .5 .5 .5-.6 .5 0 .5 .7 .5-.3 .5-.9 .5 .7 .5-.4 .5 .1 .5 .1 .5-.7 .5 .3 .5 .9 .5-1 .5-.3 .5 .3 .5-1.1 .5 .2 .5 .3 .5-.8 .5-.2 .5-.5 .5-.1 .5-.1 .5-.6 .5-.1 .5-.1 .5-.9 .5 1 .5 .4 .5-.4 .5-.1 .5-.1 .5 .5 .5 .8 .5 .1 .5-.6 .5 1.2 .5-.7 .5 .3 .5 .5 .5 .5 .5-.1 .5 .7 .5-.1 .5 .7 .5-1.1 .5 .7 .5 .3 .5 .4 .5-1.3 .5 .7 .5-.6 .5 .9 .5-.3 .5 .3 .5 .3 .5-.1 .5-.4 .5 .3 .5 1 .5-1.5 .5 .4 .5-.4 .5 .5 .5-.6 .5 .5 .5-.8 .5 .6 .5 1 .5-1.5 .5 .2 .5 .6 .5-.8 .5-.4 .5 .2 .5 .8 .5 .3 .5-.4 .5 0 .5 .4 .5-.4 .5 .5 .5 .1 .5-.8 .5 .7 .5-.3 .5-.3 .5 0 .5 .4 .5-.9 .5-.2 .5 1.1 .5 .3 .5-.7 .5 .3 .5-1 .5 .1 .5 .3 .5 .1 .5 .3 .5-.3 .5 .2 .5 0 .5 .3 .5 .2 .5 0 .5 .2 .5-.7 .5-.2 .5-.6 .5-.1 .5 .9 .5-.3 .5-.4 .5-.4 .5-.7 .5-.6 .5 .3 .5-.1 .5-1.2 .5 1.3 .5-.9 .5 .3 .5 .3 .5 .1 .5-.7 .5 .7 .5 .1 .5-.1 .5 .4 .5-.2 .5 .7 .5-.2 .5 .5 .5 .3 .5 .5 .5-.3 .5 .1 .5 .1 .5 1.3 .5-1.2 .5 .5 .5-.8 .5 .7 .5-.5 .5 .3 .5 .6 .5 .4 .5-.6 .5 .3 .5-.2 .5-.2 .5 .3 .5 .3 .5-.2 .5-.3 .5 0 .5 .4 .5-.3 .5 .5 .5-1 .5 .8 .5-.7 .5 .2 .5 .7 .5-.6 .5-.9 .5-.2 .5 .1 .5-.4 .5-.9 .5-.3 .5-1.2 .5-1.6 .5 .8 .5-1.4 .5-.3 .5-1 .5-.6 .5-.7 .5 .3 .5-.1 .5 .1 .5 0 .5 .2 .5 .1 .5 .8 .5 .8 .5-.5 .5 1.2 .5 1.1 .5 1.1 .5 .8 .5 .7 .5-.6 .5 .8 .5 .1 .5 .2 .5 .4 .5 .4 .5 .4 .5-.8 .5 .7 .5-.3 .5 1.1 .5 .1 .5-.8 .5 0 .5 .5 .5 .2 .5-.8 .5 .2 .5 .3 .5-.5 .5 .9 .5-.6 .5-.1 .5-.5 .5 .8 .5-1.1 .5 .1 .5-.1 .5 0 .5-.7 .5 .1 .5 .4 .5-.5 .5-.1 .5 .1 .5-.4 .5 .1 .5-.6 .5-.5 .5 .8 .5-1.4 .5 0 .5 0 .5 1.3 .5-.9 .5 .4 .5-1.1 .5 .2 .5 .6 .5-.2 .5 .3 .5 .3 .5-.1 .5 .2 .5 .2 .5-.1 .5 .4 .5 .4 .5-.6 .5 .7 .5 .4 .5-.3 .5 .2 .5 .9 .5-.1 .5 .6 .5-.1 .5-.8 .5 0 .5 .2 .5 .6 .5-1.7 .5 1.4 .5 .6 .5-.5 .5 .2 .5-.2 .5-.6 .5 1 .5-.5 .5 .3 .5-.2 .5 .8 .5-.7 .5 0 .5-.3 .5-.4 .5 .5 .5 .2 .5-.5 .5-1 .5 .5 .5 1 .5-1 .5 .2 .5-.9 .5 .4 .5-.2 .5 .6 .5-.1 .5-.1 .5 .1 .5-.6 .5 .8 .5-.9 .5 .5 .5 .5 .5-1.2 .5 .4 .5-.3 .5 .1 .5 .1 .5-.3 .5 0 .5 .4 .5-1.2 .5 .3 .5 .1 .5-.6 .5 1.1 .5-.6 .5-.3 .5-.4 .5 .3 .5 .9 .5-1.3 .5 1.6 .5-.2 .5-.3 .5-1.8 .5 .8 .5 1.6 .5-1.4 .5-.4 .5 0 .5 1.1 .5-2.4 .5 3 .5-.9 .5-1.4 .5 1.8 .5-3.9 .5 1.6 .5 1.9 .5 1.4 .5-3.4 .5-.4 .5 1.8 .5 .2 .5-1.2 .5-.1 .5 3.4 .5-3.7 .5-1.1 .5 1.9 .5 2.7 .5-.9 .5-1.2 .5-2.1 .5 2.1 .5 5.3 .5-4 .5 .9 .5-4.8 .5 2.2 .5-.2 .5-7.9 .5-9.9 .5-5.7 .5 1.7 .5 18.8" stroke="#ff0000"/>
<path d="M20,228.7l.5 1.9 .5 1.7 .5-.1 .5 1.3 .5-1 .5 .9 .5-.2 .5 1 .5 .1 .5-.2 .5 .1 .5 1.4 .5-1 .5 0 .5-.5 .5 0 .5 .4 .5-.3 .5 .1 .5-.1 .5-.6 .5 .8 .5-.1 .5 .1 .5 .1 .5 .4 .5-.9 .5 .3 .5 .4 .5-.7 .5 .6 .5-.6 .5 0 .5-.3 .5 .4 .5 .9 .5-.1 .5-.7 .5 .2 .5 .3 .5-.9 .5 .3 .5 .1 .5-.6 .5 .4 .5 .1 .5 .1 .5 .1 .5-.8 .5 1.1 .5-.3 .5 .3 .5 .1 .5-.3 .5 .8 .5-1.4 .5 .7 .5 0 .5 .6 .5-.6 .5 .2 .5-.1 .5 .7 .5-1 .5-.2 .5 .2 .5 .3 .5 .4 .5-1.5 .5 .4 .5 1.1 .5-.7 .5-.2 .5 .1 .5-.1 .5-.1 .5 .4 .5-.3 .5 1 .5-1.7 .5 1.2 .5-.5 .5 .9 .5-1.1 .5 .5 .5 .4 .5-.4 .5-.6 .5 .2 .5 0 .5 .4 .5-.6 .5-.1 .5-1.1 .5-.4 .5-1 .5-3.2 .5-4.3 .5-6.1 .5-7.7 .5-10 .5-10.1 .5-9 .5-5.5 .5 1.1 .5 4.4 .5 9.1 .5 10 .5 9.3 .5 8.2 .5 7 .5 3.1 .5 2.6 .5 3.1 .5-.1 .5 .9 .5 .5 .5 .6 .5-1.2 .5 .4 .5 .4 .5-.4 .5-.5 .5 .4 .5-1.4 .5 .5 .5-1.1 .5-.6 .5-.7 .5 .1 .5 .7 .5 .1 .5 .9 .5 .3 .5 0 .5 .3 .5 .3 .5-.2 .5 .8 .5-1 .5 1.1 .5-1 .5 0 .5 .3 .5-.5 .5 1.2 .5 0 .5-.1 .5 .1 .5-.2 .5-1.2 .5 1 .5-.6 .5 .6 .5-.5 .5-.1 .5-.3 .5 .4 .5 0 .5-1.1 .5 .3 .5-.5 .5-.8 .5-.8 .5-.4 .5-1.2 .5-1.7 .5-1.7 .5-1.8 .5-2.6 .5-1.9 .5-2.1 .5-2.3 .5-.9 .5-.6 .5-.3 .5-.5 .5 1 .5 1.4 .5 2.6 .5 1.8 .5 2.6 .5 1.1 .5 2.3 .5 1.3 .5 1.8 .5 .9 .5 .3 .5 1.8 .5 .2 .5 .5 .5 .2 .5-.2 .5 .6 .5 .4 .5 .4 .5-.6 .5-.2 .5 .6 .5-.6 .5 0 .5 0 .5 .1 .5-.8 .5 .3 .5-.2 .5-.4 .5 .5 .5-1.8 .5 .1 .5-.6 .5-.9 .5-.7 .5-2.8 .5-1.1 .5-2.5 .5-2.8 .5-2.8 .5-3.3 .5-4.3 .5-3.6 .5-6.1 .5-4.2 .5-4.9 .5-4.7 .5-3.7 .5-3.5 .5-1.6 .5-.8 .5 .8 .5 2.2 .5 3.6 .5 4.6 .5 4.3 .5 5.4 .5 4.5 .5 4.8 .5 4.9 .5 3 .5 3.9 .5 3.4 .5 2.5 .5 2 .5 2.1 .5 .7 .5 1.3 .5 1.5 .5-.5 .5 1.2 .5 .5 .5 .2 .5 .3 .5-.2 .5 .6 .5 0 .5 .4 .5 0 .5 .8 .5-.2 .5 .5 .5-.3 .5-.2 .5 .2 .5 .3 .5-.7 .5-.3 .5 .1 .5 .9 .5-.5 .5 .1 .5 .1 .5 .2 .5-.6 .5-.2 .5-.1 .5 .3 .5-.6 .5 0 .5-.2 .5-.9 .5-.7 .5-.7 .5-.3 .5-.8 .5-.1 .5-1.2 .5 0 .5-.8 .5 0 .5-1.1 .5 .2 .5 .1 .5-.8 .5 .9 .5-.1 .5 .3 .5 .3 .5 1.2 .5 .3 .5 .8 .5 1 .5-.8 .5 2 .5 1.1 .5-.4 .5 .2 .5 .5 .5 .7 .5 .8 .5-1.1 .5-.7 .5 1.4 .5-.1 .5 0 .5 0 .5-.7 .5 .9 .5-.4 .5 .4 .5-.3 .5-.2 .5-.3 .5 1.2 .5-.5 .5 .1 .5 .5 .5-.4 .5-.1 .5-1 .5 1.4 .5-.1 .5-.8 .5-.1 .5 .7 .5-.2 .5 .7 .5-1.1 .5 .5 .5 .2 .5-.1 .5-.7 .5-.1 .5 .4 .5 .9 .5-1.1 .5 .1 .5 .4 .5-.2 .5 .4 .5-.9 .5 0 .5 .6 .5-.5 .5 .1 .5-.4 .5 .1 .5 0 .5 0 .5 0 .5 .2 .5 0 .5 .5 .5 .3 .5-.8 .5 .7 .5-.4 .5-1.1 .5 1 .5-.7 .5 1 .5-.6 .5 .8 .5-.1 .5-.8 .5-.2 .5 .8 .5-.8 .5 .3 .5 .4 .5-.4 .5 .3 .5 .5 .5-.6 .5 .2 .5-.5 .5-.8 .5 1.1 .5 0 .5 .2 .5-.2 .5-.2 .5 0 .5 .3 .5-.4 .5-.2 .5 .7 .5-.1 .5 .2 .5-.5 .5 .2 .5-.3 .5 .1 .5 .5 .5 .3 .5-.8 .5 .2 .5-.4 .5-.4 .5 .4 .5 .1 .5-.1 .5-.2 .5 .4 .5 .4 .5-.7 .5 .4 .5 .1 .5 .2 .5-.1 .5 .1 .5-.3 .5-.5 .5 .1 .5 .3 .5-.1 .5 .1 .5 .2 .5 .1 .5-.1 .5 .3 .5 .6 .5-1.1 .5 .1 .5-.2 .5 .9 .5-.1 .5-.9 .5 .7 .5-.8 .5 .7 .5-.2 .5 0 .5-.7 .5 .7 .5 0 .5 .4 .5-.4 .5-.1 .5-.3 .5 .5 .5 .1 .5 0 .5 0 .5-.4 .5-.5 .5 .6 .5 .5 .5 0 .5-.8 .5 1.1 .5-.3 .5-.2 .5-.7 .5 .6 .5 .1 .5 .5 .5-1.1 .5 .1 .5 .5 .5 0 .5-.2 .5-.5 .5-.1 .5 .3 .5 .1 .5 .2 .5-.7 .5-.3 .5 1 .5-.4 .5 0 .5 .4 .5-.9 .5 .6 .5-.2 .5 .4 .5-.2 .5 .3 .5-.7 .5 .4 .5-.2 .5 .8 .5 .1 .5-.4 .5 .2 .5-.3 .5-.2 .5 .8 .5-.6 .5 .6 .5 .4 .5-1.4 .5 .6 .5-.3 .5 .2 .5-1.1 .5 1.2 .5-.6 .5 .4 .5 0 .5 .2 .5-.3 .5 .1 .5-.3 .5-.4 .5 .3 .5 .1 .5 .1 .5 .2 .5 .1 .5 .3 .5 .4 .5-1.1 .5 .5 .5 .1 .5-.2 .5 .4 .5-1.1 .5 1.1 .5-.3 .5-.6 .5 .6 .5 .9 .5-.8 .5 .9 .5 0 .5-.7 .5-.3 .5 .4 .5 .3 .5 .1 .5-.6 .5-.5 .5 .9 .5-1.3 .5 .5 .5 .1 .5 0 .5-.5 .5 .1 .5 .1 .5-.6 .5-.7 .5 .3 .5-.7 .5-1 .5-.4 .5 .3 .5-1.5 .5-.4 .5-1.2 .5-.6 .5-.6 .5-.7 .5 .1 .5 0 .5-.1 .5-.2 .5 .4 .5 0 .5 2 .5 .2 .5 .4 .5 .8 .5 1.5 .5 .3 .5 1 .5 .3 .5 .7 .5 .1 .5-.9 .5 1.9 .5-.9 .5 1.3 .5-.5 .5-.3 .5 .2 .5-.1 .5 .5 .5 .1 .5-.7 .5-.2 .5 1.2 .5-.3 .5-.7 .5 1 .5 .1 .5-.3 .5 0 .5-.4 .5-.9 .5 1.5 .5-.6 .5 1.1 .5-1 .5 .4 .5-.5 .5-.3 .5 .3 .5 1.1 .5-.9 .5-.8 .5 1.2 .5 0 .5-.8 .5 .3 .5-.1 .5-.3 .5 .3 .5-.7 .5 .8 .5 .2 .5-.7 .5 .6 .5 0 .5-.1 .5 .3 .5-.5 .5-.3 .5 .6 .5-.1 .5-1 .5 .9 .5-.4 .5 .2 .5 .2 .5 .6 .5-.5 .5-.4 .5 0 .5 .3 .5 0 .5 .9 .5-1.6 .5 .1 .5 .5 .5-.7 .5 0 .5-.9 .5-.3 .5 .7 .5-1 .5 .5 .5-.8 .5 0 .5 0 .5-1.1 .5-.3 .5 .5 .5-.6 .5-.3 .5 .3 .5-.8 .5 .4 .5-.5 .5 .1 .5 .9 .5 .4 .5-.2 .5-.4 .5 .8 .5 .4 .5 .1 .5 .8 .5-.5 .5 .7 .5 0 .5 .3 .5 .1 .5 .5 .5-.5 .5 .5 .5 .4 .5 .4 .5 .2 .5-.2 .5 .4 .5 .2 .5-.5 .5 .9 .5-.1 .5-.6 .5 .1 .5-.1 .5 .2 .5 .3 .5 0 .5-.2 .5 .3 .5 .3 .5 0 .5-.1 .5-.4 .5 0 .5 .8 .5-.6 .5-.3 .5 .7 .5 .3 .5-1.2 .5 1.3 .5-1.1 .5 .8 .5-.3 .5-.2 .5-.2 .5 0 .5-.1 .5 .4 .5 .5 .5-.5 .5 .9 .5-.9 .5-.2 .5 .3 .5 .6 .5-1 .5 .2 .5 .4 .5-.7 .5 .4 .5-.3 .5-.1 .5-.1 .5-.1 .5 .4 .5-1 .5 0 .5 .3 .5-.5 .5 .1 .5-.2 .5 .4 .5-.8 .5 .4 .5-.3 .5 .5 .5-1.2 .5-.3 .5-.2 .5-.1 .5-.2 .5 .3 .5-.9 .5 0 .5-.2 .5 .1 .5-.9 .5 .2 .5 .3 .5 .7 .5-.7 .5 .2 .5 .9 .5 0 .5 .3 .5 1 .5-.7 .5 .9 .5 .7 .5-.7 .5 1.3 .5-.4 .5 0 .5 .5 .5-.3 .5-1 .5 1.1 .5-.1 .5-.5 .5 .9 .5-.5 .5-.1 .5 1.3 .5-.4 .5 .1 .5 .1 .5-1.2 .5 1.3 .5-1.2 .5 0 .5 .6 .5-.3 .5 .8 .5-.9 .5 .4 .5-.3 .5-.4 .5 .2 .5-.2 .5 .1 .5-.3 .5 .2 .5-.7 .5-.1 .5 .1 .5-.9 .5 .5 .5-1.6 .5-.4 .5-.5 .5-.3 .5-.6 .5-.8 .5-.4 .5-.3 .5 0 .5-.6 .5 .2 .5 .3 .5 1.4 .5-.1 .5 .8 .5 0 .5 .8 .5 0 .5 .1 .5 1.1 .5 .3 .5 .3 .5 0 .5 1 .5 .2 .5 .1 .5 .3 .5-.7 .5 .7 .5-.3 .5-.1 .5 .2 .5-.3 .5 .2 .5 .2 .5-.7 .5 1.3 .5-.2 .5-.1 .5 .4 .5-.4 .5 0 .5 .4 .5-.9 .5-.4 .5 .9 .5-.5 .5 .4 .5-.2 .5-.6 .5 .1 .5-.5 .5 .4 .5-.2 .5 .2 .5 .3 .5-.7 .5-.4 .5 .1 .5-.2 .5-.3 .5 .2 .5-.6 .5 0 .5 .4 .5 .2 .5-.2 .5-.3 .5 .6 .5-.3 .5 .6 .5-.4 .5-.2 .5-.4 .5 1.1 .5 0 .5 .2 .5-.6 .5-.1 .5 1 .5-.4 .5-.8 .5 1.3 .5-.7 .5 1.1 .5-.1 .5-1.1 .5 .9 .5-.1 .5 .3 .5-.7 .5-.1 .5 .9 .5-1.1 .5 .7 .5 .2 .5 .1 .5-.1 .5 .7 .5-.4 .5-.6 .5 0 .5-.3 .5 .4 .5 .7 .5-.6 .5-.3 .5-.5 .5-.5 .5 .9 .5-.3 .5 .5 .5-.6 .5 .7 .5-.4 .5-.2 .5 .4 .5-.4 .5 .2 .5-.3 .5 .4 .5-.8 .5 .6 .5 .2 .5 .1 .5-.1 .5 .2 .5-.4 .5 .9 .5-1.4 .5-.8 .5-.1 .5 0 .5 .9 .5-1 .5 0 .5 1.1 .5-1.5 .5 1 .5 .4 .5 .1 .5-.6 .5-1.2 .5 .2 .5 1.6 .5 .1 .5-1.5 .5 .9 .5-.1 .5-.9 .5 1.2 .5-1.6 .5 1.3 .5 0 .5-.6 .5-.4 .5 2.1 .5-2.3 .5 0 .5-.6 .5 1.3 .5 .1 .5-.7 .5 2.3 .5-1.2 .5 .6 .5-2.4 .5 1.3 .5 2.5 .5-.7 .5-.8 .5 1 .5-.6 .5-.7 .5 .1 .5 .1 .5-1.4 .5 3.4 .5 1.1 .5-3.7 .5-.4 .5 4.1 .5-3.3 .5 .2 .5-.2 .5-.7 .5-.9 .5-10.1 .5-10.4 .5-1.4 .5 3.3 .5 20.1" stroke="#ff0000"/>
<path d="M20,237.8l.5 1.4 .5 .9 .5 .6 .5 1.2 .5-.1 .5 1.1 .5 .1 .5-.4 .5 .3 .5 .9 .5-.4 .5 .2 .5-.6 .5 .5 .5-.8 .5 .8 .5 .1 .5-.5 .5 .3 .5-.4 .5 .1 .5 .2 .5 0 .5-.1 .5 .1 .5-.6 .5-.2 .5 .7 .5-1.1 .5 .3 .5 .1 .5 .8 .5 0 .5 .9 .5-1.3 .5 0 .5 .1 .5-.5 .5 1 .5-.8 .5 .1 .5 .4 .5-.3 .5 .5 .5 .1 .5 0 .5-.3 .5-.3 .5 .3 .5-.4 .5-.2 .5 0 .5 1 .5-1 .5 1 .5-.5 .5-.2 .5 .1 .5 .6 .5-1.3 .5 .7 .5-.4 .5-.3 .5-.4 .5 .4 .5 0 .5 .3 .5 .4 .5-.2 .5-.3 .5 .8 .5-.9 .5 .3 .5-.1 .5 .4 .5 0 .5-.2 .5 .3 .5-.1 .5-.3 .5 .7 .5-.6 .5 0 .5 .5 .5-.5 .5 .2 .5 1 .5-.7 .5-.7 .5-.1 .5 .5 .5-.4 .5-.8 .5 .2 .5-1.8 .5-.3 .5-2.6 .5-4 .5-7.3 .5-7.5 .5-9.3 .5-10.8 .5-9.2 .5-4.7 .5-1.5 .5 5.4 .5 8.7 .5 9.8 .5 10.1 .5 8.8 .5 6.3 .5 4 .5 2.2 .5 1.5 .5 1.1 .5 .7 .5 .2 .5 1.7 .5-1.1 .5 .1 .5 .4 .5-.7 .5 .2 .5 .3 .5-.8 .5 .2 .5-1.2 .5-.2 .5 .1 .5-.3 .5-.2 .5 .4 .5 .8 .5 .1 .5 .2 .5 1.1 .5 .2 .5-.3 .5-.3 .5-.4 .5 .2 .5 0 .5 .2 .5 .2 .5-.4 .5 .1 .5-.7 .5 .5 .5 .4 .5-.8 .5-.5 .5 1 .5 .3 .5-.4 .5-.5 .5 .3 .5-1.1 .5 .7 .5-.5 .5 .5 .5-1.1 .5 .8 .5-.3 .5-.9 .5-1.2 .5-1.8 .5-1.1 .5-1.1 .5-2 .5-2.3 .5-2 .5-2.3 .5-1.5 .5-2 .5-.8 .5-.9 .5-.4 .5 1.4 .5-.2 .5 2.1 .5 2.4 .5 2.5 .5 2.6 .5 1.5 .5 1.6 .5 1.4 .5 .6 .5 1.5 .5 1.6 .5 .4 .5 .2 .5 .6 .5 0 .5-.2 .5 .8 .5 0 .5-.2 .5 .4 .5 0 .5 .2 .5-.1 .5 0 .5-.3 .5-.3 .5 .1 .5-.1 .5 .1 .5-.6 .5-.7 .5 .2 .5-.9 .5-.4 .5-.5 .5-1.7 .5-2.3 .5-1.8 .5-1.7 .5-3.5 .5-2.8 .5-3.4 .5-4.4 .5-4.6 .5-4.5 .5-5.1 .5-4.9 .5-4.2 .5-4.5 .5-3 .5-1.4 .5-.8 .5 .4 .5 2 .5 3.5 .5 4.1 .5 4 .5 5 .5 5.7 .5 3.9 .5 5.5 .5 3.6 .5 3.3 .5 3 .5 2.9 .5 2.5 .5 1.7 .5 1.8 .5 .9 .5 .5 .5 1.2 .5 .7 .5 .1 .5 .1 .5 .3 .5 .8 .5-.4 .5 1.3 .5-.3 .5-.9 .5 .4 .5 .5 .5-.4 .5 .5 .5 .4 .5-.1 .5-.6 .5 .7 .5 .1 .5-.7 .5 .6 .5-.6 .5-.3 .5 .9 .5 0 .5-1 .5-.8 .5 1.3 .5-.8 .5 .1 .5-1 .5 .4 .5-.1 .5-.8 .5-.3 .5-.7 .5-.3 .5-1.1 .5-.6 .5-1.1 .5 .2 .5-.4 .5-.6 .5 .7 .5-.6 .5 1.4 .5-.8 .5-.2 .5 .7 .5 .8 .5 .7 .5 .7 .5-.2 .5 1.1 .5 .2 .5 .8 .5 .1 .5 .4 .5 .5 .5-.1 .5 .5 .5 .4 .5-.7 .5 .6 .5 .1 .5 .7 .5-.3 .5 0 .5-.2 .5 .5 .5-.2 .5 .5 .5-.4 .5 .1 .5 .4 .5 0 .5-.8 .5 .8 .5-.1 .5-.6 .5 .3 .5 .9 .5-.2 .5-.3 .5 .6 .5-1 .5 1.3 .5-.8 .5 .9 .5-.8 .5 0 .5 .3 .5-.2 .5 .5 .5-.1 .5-.4 .5 .1 .5 0 .5 .8 .5-.7 .5 .4 .5-.4 .5-.3 .5-.3 .5 .8 .5 .1 .5-.1 .5 .5 .5-.2 .5 .4 .5-.4 .5-.7 .5 .9 .5-.9 .5 .3 .5-.4 .5 .8 .5 .2 .5-1.2 .5 .2 .5 0 .5-.5 .5 .7 .5-.2 .5-.5 .5-.4 .5 .3 .5 .6 .5-.7 .5 .5 .5 .1 .5 .1 .5-.3 .5 .1 .5 .4 .5-.8 .5 .2 .5 .5 .5-1 .5 .7 .5-1.3 .5 .4 .5 0 .5 .6 .5 .1 .5-.9 .5 1.6 .5 .2 .5-.4 .5-.6 .5 .3 .5-.4 .5 0 .5 0 .5 .4 .5-.3 .5 0 .5 .9 .5-.8 .5 .3 .5 0 .5-.4 .5 0 .5 .6 .5-.6 .5 .4 .5-.4 .5 0 .5 .7 .5-1.3 .5 .4 .5 0 .5 .4 .5-.5 .5 .3 .5 .3 .5 .5 .5-.5 .5-.9 .5 1.2 .5-.7 .5-.4 .5 .5 .5-.5 .5 .3 .5-.2 .5 .1 .5-.7 .5 1.5 .5-.5 .5 .3 .5-.1 .5-.2 .5 .6 .5 0 .5-.7 .5 .5 .5-.4 .5-.1 .5 .4 .5-.1 .5-.1 .5-.8 .5 .5 .5 .4 .5 .2 .5 0 .5-.5 .5 .5 .5-.7 .5 .6 .5 .6 .5-.8 .5-.3 .5 .8 .5-.4 .5 0 .5 .2 .5-.3 .5 .4 .5-.6 .5 0 .5 .4 .5 0 .5-.1 .5 .2 .5-.3 .5-.3 .5 .5 .5-.9 .5 .7 .5 .3 .5-.1 .5 .2 .5-.6 .5 0 .5-.1 .5 0 .5 .3 .5 .3 .5-.4 .5 .6 .5-.4 .5-1 .5 1 .5-.4 .5 .2 .5-.4 .5 .1 .5 1 .5-.4 .5-.6 .5-.1 .5 .1 .5-.1 .5 .5 .5 .2 .5-1 .5 .8 .5-.2 .5-.1 .5 .5 .5-.6 .5 0 .5 .3 .5-.2 .5 .1 .5 .6 .5-.8 .5 1.1 .5 .1 .5-.6 .5 .4 .5-.6 .5 .3 .5 0 .5-.1 .5 .8 .5-.2 .5 .2 .5-1 .5 .6 .5-.1 .5-.4 .5 1 .5-.4 .5 .1 .5 .5 .5-.9 .5 .8 .5-1.4 .5 1.3 .5-.3 .5-.8 .5-.1 .5 1.4 .5-1.3 .5 .7 .5-.4 .5-.2 .5-.3 .5-.5 .5-.1 .5-.1 .5 .5 .5-1.4 .5 .1 .5 .3 .5-.6 .5-.6 .5-.7 .5-.8 .5-.2 .5-.7 .5-.3 .5-.7 .5-.7 .5 .8 .5-1.5 .5 1 .5-.3 .5 .2 .5 .1 .5 .6 .5 .7 .5 0 .5 1.8 .5 .2 .5 .5 .5 .5 .5 1 .5-.1 .5 .7 .5-.3 .5 1.2 .5-.7 .5 0 .5 .3 .5 .7 .5 .4 .5-.4 .5 .7 .5-1.2 .5 .1 .5 .1 .5 .7 .5-.9 .5 .4 .5-.5 .5 .6 .5-.5 .5 1.6 .5-1 .5-.5 .5 .5 .5-.4 .5-.2 .5 .4 .5-.8 .5 1.2 .5-.1 .5-1 .5 .4 .5-.7 .5 1 .5-.1 .5 0 .5-.3 .5 .2 .5-.2 .5 .2 .5-.2 .5 .1 .5 0 .5-.8 .5 .8 .5 .7 .5 .2 .5-.8 .5 .2 .5 .5 .5-1.1 .5 .8 .5-.9 .5 .8 .5-.2 .5 0 .5-.1 .5 .9 .5-1.9 .5 .5 .5 .6 .5 0 .5-.4 .5 .4 .5-.2 .5 0 .5 .3 .5-.9 .5 .3 .5 .2 .5-.8 .5 .6 .5-1.1 .5-.6 .5 0 .5 .3 .5 .1 .5-.8 .5-.1 .5-.2 .5 0 .5-.8 .5 .3 .5-.4 .5 .5 .5 .2 .5-1.2 .5 1.1 .5 0 .5 .6 .5-.4 .5 .6 .5-.3 .5 1 .5 .9 .5-.6 .5 .7 .5 .1 .5-.5 .5 .2 .5 .1 .5 .5 .5-.7 .5 .6 .5-.6 .5 .6 .5-.2 .5-.7 .5 .5 .5 .4 .5-.3 .5 .2 .5 .8 .5-1.4 .5 .3 .5 0 .5 .3 .5-.1 .5 .1 .5-.2 .5 .1 .5 1.1 .5 .3 .5-1 .5 .1 .5-.7 .5 .6 .5 .5 .5-.2 .5-.2 .5 .8 .5 .5 .5-1.3 .5-.4 .5 .7 .5 .1 .5-.7 .5 .3 .5 .4 .5-.3 .5-.6 .5 .7 .5-.7 .5 .9 .5-.6 .5-.9 .5 .4 .5 .7 .5 .3 .5-.6 .5-.3 .5 1.1 .5-1.5 .5 .9 .5-1.1 .5-.1 .5 .3 .5 .8 .5-.2 .5-.2 .5 .2 .5-.4 .5 .9 .5-.6 .5 .1 .5-.8 .5 .4 .5-.5 .5 .6 .5-1.1 .5 .8 .5-.1 .5-.4 .5 .1 .5-.1 .5-1 .5-.3 .5-.1 .5 .1 .5-.1 .5 0 .5 .9 .5-.6 .5 0 .5 1 .5-.8 .5 .7 .5 .6 .5 .3 .5-.6 .5 .2 .5 .3 .5 .3 .5 1 .5-.4 .5 .3 .5-.4 .5 .1 .5 .6 .5-.1 .5-.3 .5 .6 .5-.7 .5 0 .5 .1 .5-.1 .5 .6 .5-1 .5 .8 .5-.9 .5 0 .5 .7 .5 .1 .5-.2 .5-.8 .5 1.3 .5-.1 .5-.8 .5 .9 .5-.8 .5 .2 .5-.5 .5-.1 .5-.4 .5 .4 .5 .1 .5-.6 .5 .1 .5-.3 .5-.1 .5-.6 .5-.8 .5-.3 .5-.5 .5-.7 .5-.4 .5 1 .5-1.2 .5 .6 .5 .4 .5-.3 .5-.1 .5 .7 .5 .8 .5-.6 .5 .5 .5 .5 .5 .9 .5 .4 .5-.2 .5 .5 .5 .6 .5-.7 .5 .6 .5 .3 .5 .2 .5 0 .5-.8 .5 .6 .5-.3 .5 .3 .5 .1 .5-.3 .5 .1 .5 .7 .5-.2 .5-.4 .5-.5 .5 .8 .5-1.2 .5-.5 .5 .5 .5-.4 .5-.7 .5 .4 .5 .2 .5-.1 .5 .2 .5 0 .5-.1 .5-.8 .5 .6 .5 .2 .5-.8 .5-.1 .5 .2 .5-.1 .5-.3 .5 0 .5-.6 .5-.4 .5 .4 .5 0 .5 .1 .5-.2 .5-.2 .5 .5 .5 .1 .5-.3 .5 .1 .5 .2 .5-.1 .5 .5 .5-.3 .5-.4 .5 1.7 .5-.5 .5 .4 .5-.3 .5 .2 .5 .3 .5 .2 .5 0 .5-.1 .5 .7 .5-.1 .5 .8 .5-1 .5 .3 .5 .2 .5-.7 .5 .4 .5-.4 .5 .5 .5 .4 .5-.1 .5 .4 .5-.3 .5 .2 .5-.2 .5-1.1 .5 .9 .5-.7 .5 .8 .5 .2 .5 0 .5-.4 .5-.2 .5-.6 .5 .9 .5-.3 .5-.2 .5-.5 .5 0 .5 .3 .5 .5 .5-.4 .5-.4 .5 .6 .5 .1 .5-.4 .5-.2 .5 .1 .5-.2 .5 .2 .5-.8 .5 1 .5-.6 .5 1 .5-2.2 .5 .6 .5-.4 .5 .7 .5 .1 .5-.6 .5 .3 .5 0 .5-.7 .5 .4 .5-.8 .5 .4 .5-.2 .5-.1 .5-.4 .5 1 .5-.4 .5 1.4 .5-3.1 .5 1.5 .5 .1 .5 .4 .5-.3 .5 1.9 .5-2.9 .5-.9 .5 2.1 .5-1.5 .5 1 .5-.5 .5 2.6 .5-3.5 .5 3 .5-1.4 .5-.3 .5-.1 .5-1.5 .5 1.4 .5 .2 .5-.7 .5-1.3 .5 1 .5 .5 .5 .1 .5-1.9 .5 2.4 .5 1.7 .5-2.1 .5 2.7 .5-1.9 .5-1.2 .5-.9 .5-.4 .5 .9 .5 1 .5-1.6 .5 1.5 .5-8.4 .5-13.1 .5-1.9 .5 2.3 .5 23.7" stroke="#ff0000"/>
<path d="M20,246.1l.5 2.1 .5 .7 .5 1.8 .5-.9 .5 1.7 .5 .8 .5-.4 .5 .4 .5 0 .5 1 .5-.7 .5 .2 .5-.8 .5 .2 .5-.2 .5 0 .5-.2 .5 .3 .5-.5 .5 .6 .5-.3 .5 .2 .5-.6 .5 .4 .5 .8 .5-.7 .5-.1 .5 0 .5 .2 .5 0 .5-.8 .5 .1 .5 .2 .5 .5 .5-.2 .5-.6 .5 .5 .5-.1 .5-.4 .5 0 .5-.5 .5 .1 .5 .2 .5 1 .5-.6 .5 .4 .5-.4 .5-.1 .5 .6 .5-.6 .5 .3 .5-.2 .5-.4 .5 .1 .5 .4 .5-.4 .5 .6 .5-.6 .5 .4 .5-.3 .5-.1 .5 .3 .5-.3 .5-.2 .5 0 .5 .4 .5-.1 .5 .4 .5-.3 .5 .2 .5 0 .5-.4 .5 .5 .5-.7 .5-.5 .5-.4 .5 1.1 .5 .5 .5-.6 .5-1.6 .5 2.4 .5 0 .5-.9 .5 .5 .5 .4 .5-.8 .5 0 .5 .4 .5 .2 .5-.4 .5 .1 .5-.1 .5-.2 .5-.4 .5-1.3 .5-1.8 .5-1.9 .5-4.1 .5-6.5 .5-6.8 .5-10.6 .5-9.6 .5-9.8 .5-5.1 .5-.6 .5 4.7 .5 8.3 .5 10.1 .5 10.1 .5 9.6 .5 5.9 .5 3.5 .5 3 .5 1.1 .5 2 .5 .1 .5-.2 .5-.3 .5 .2 .5 .2 .5 0 .5 0 .5-.1 .5-.6 .5 .2 .5-.6 .5-.3 .5-1.4 .5 .3 .5 0 .5-.2 .5 0 .5 .5 .5 .9 .5 .6 .5 .4 .5 0 .5-.5 .5 .6 .5 .1 .5-.2 .5 .4 .5 .3 .5-.9 .5 .6 .5-.5 .5 0 .5 .2 .5 .8 .5-.5 .5-.3 .5 .5 .5-.5 .5 .1 .5-.7 .5-.1 .5-.3 .5 .8 .5-1.1 .5 .9 .5-1.4 .5 .2 .5-.4 .5-1.2 .5-1.1 .5-.4 .5-.3 .5-1.5 .5-2.8 .5-1.3 .5-2.1 .5-1.5 .5-2.4 .5-2.3 .5-.3 .5-1.6 .5-1 .5 1.1 .5 .9 .5 1.7 .5 .9 .5 2.5 .5 1.7 .5 2.2 .5 1.8 .5 1.8 .5 .8 .5 2 .5 .3 .5 1.1 .5 .3 .5 .6 .5 .5 .5-.3 .5 .7 .5-.5 .5 .4 .5-.2 .5-.2 .5-.7 .5 .6 .5 0 .5 0 .5 .6 .5-1 .5 .5 .5 .7 .5-1.7 .5 .3 .5-.2 .5-.7 .5-.5 .5-.5 .5-.2 .5-2.4 .5-1 .5-1.9 .5-1.5 .5-2.9 .5-3 .5-4.1 .5-4.2 .5-4.5 .5-4.9 .5-5 .5-4.3 .5-4.4 .5-4.2 .5-3.9 .5-1.1 .5 .2 .5-.5 .5 1.7 .5 4 .5 3.1 .5 5 .5 4.9 .5 4.5 .5 4.6 .5 4.9 .5 3.5 .5 4.2 .5 3.2 .5 2.1 .5 3 .5 1 .5 2.2 .5 .8 .5 .7 .5 1 .5 .9 .5 .7 .5 .3 .5-.3 .5 .5 .5-.8 .5 1.5 .5-.2 .5 0 .5 .1 .5-.6 .5 1 .5 0 .5-.1 .5 .5 .5-.4 .5-.2 .5 .7 .5-.5 .5-.3 .5-.6 .5 .7 .5-.1 .5-.3 .5 .5 .5-1 .5 .4 .5-.1 .5 .1 .5-.7 .5-.5 .5 .1 .5-.3 .5-1 .5-.9 .5 0 .5-1.2 .5 .4 .5-.8 .5-.9 .5 .8 .5-1.5 .5 .9 .5-.5 .5 .1 .5 0 .5 .2 .5 1.4 .5 .1 .5 1.5 .5 .2 .5 .8 .5 1.3 .5-.9 .5 1.3 .5 .3 .5 .8 .5 .1 .5 .1 .5 .2 .5 .4 .5-.4 .5 1 .5-1.4 .5 1.4 .5 0 .5-.2 .5-.2 .5 .5 .5-.2 .5 0 .5-.5 .5 .2 .5-.2 .5-.2 .5 .5 .5-1 .5 .4 .5-.4 .5-.3 .5 1.2 .5-.2 .5-.2 .5-.6 .5 .5 .5 .3 .5-1.1 .5 1.1 .5-.1 .5 .6 .5-1.1 .5 1.1 .5-.6 .5 .1 .5 .3 .5 .6 .5-.5 .5 .4 .5-.7 .5 .3 .5 .1 .5-.8 .5 .7 .5 0 .5 .2 .5 .5 .5-.4 .5-.1 .5 0 .5 0 .5-.5 .5 .5 .5-.2 .5-.2 .5 1 .5-.7 .5 0 .5-.2 .5 1.2 .5 .1 .5-.4 .5-.2 .5 .4 .5 0 .5-.1 .5 .1 .5-.8 .5 .7 .5-.2 .5 .1 .5 .1 .5-.6 .5 .7 .5 .1 .5-1.1 .5 .2 .5 1.2 .5-1.2 .5 .8 .5 0 .5 .4 .5-1 .5-.2 .5 0 .5-.1 .5-.4 .5 .2 .5 .1 .5 0 .5 .4 .5 0 .5-.3 .5-.8 .5 .9 .5-.4 .5-.7 .5 .5 .5-.1 .5 .3 .5 .1 .5 .5 .5-.9 .5 .3 .5-.5 .5 .2 .5-.3 .5 .5 .5 .3 .5-.4 .5 .7 .5-.5 .5 .4 .5-.5 .5 .2 .5 .7 .5-1 .5 .7 .5-.9 .5 .5 .5 .5 .5 .5 .5-.5 .5-.2 .5-.2 .5-.1 .5 .2 .5-.1 .5 .5 .5-.9 .5-.1 .5 .8 .5-.2 .5-.5 .5 0 .5 .3 .5-.4 .5-.2 .5 .3 .5 .2 .5-.7 .5 .2 .5 .4 .5-1 .5 .6 .5 .5 .5-.7 .5 .6 .5 .7 .5-.6 .5-.6 .5 1.3 .5-.6 .5 .2 .5-.3 .5-.4 .5 .3 .5 0 .5 .8 .5-.2 .5-.6 .5 .3 .5 .1 .5 .3 .5-.1 .5-.8 .5 .9 .5-.9 .5 .3 .5-.5 .5 .5 .5 .5 .5-.3 .5 .4 .5 0 .5-.4 .5-.1 .5 .8 .5-.2 .5 .1 .5 .2 .5-.6 .5-.1 .5 .4 .5-.3 .5 0 .5 0 .5 .3 .5-.1 .5 .4 .5 0 .5 .3 .5-.4 .5 0 .5 .1 .5-.2 .5 0 .5-.4 .5 .3 .5-.7 .5 .9 .5-.4 .5 .1 .5-.8 .5 .1 .5 0 .5-.6 .5 1.2 .5-.2 .5-.3 .5 .4 .5-1.2 .5 .3 .5 .8 .5-.2 .5-.3 .5 .2 .5-.1 .5-.2 .5 0 .5-.2 .5 .4 .5-.1 .5 .5 .5-1 .5 .7 .5-.2 .5-.1 .5 .2 .5 .7 .5 .1 .5-1.6 .5 1.3 .5-1.1 .5 .2 .5 0 .5-.2 .5 .9 .5 .1 .5-1.4 .5 .9 .5-.2 .5-.5 .5-.2 .5-.1 .5-.3 .5-.5 .5 0 .5-.3 .5-.3 .5-.9 .5 .3 .5-1.2 .5-.1 .5-.5 .5-.5 .5 .7 .5-.5 .5 .9 .5-.4 .5 .7 .5-.4 .5 .5 .5 .8 .5 0 .5 .2 .5 .7 .5 .8 .5 0 .5 .3 .5 1 .5-.5 .5-.4 .5 .4 .5-.4 .5 .4 .5 .8 .5-.4 .5-.6 .5 .2 .5-.2 .5 1.5 .5-1 .5-.3 .5 1.1 .5-.5 .5-.4 .5 .1 .5-.1 .5 .5 .5 0 .5 .3 .5-.5 .5 .2 .5 .4 .5 .4 .5 .3 .5-.3 .5-.9 .5 .4 .5 .4 .5-.6 .5-.2 .5-.1 .5 .7 .5-.3 .5 .2 .5-.4 .5 .7 .5-.5 .5-.1 .5 0 .5-.1 .5 .8 .5 .1 .5-.6 .5 0 .5 1.1 .5-.5 .5 .2 .5-.3 .5-.2 .5 0 .5 .5 .5 .2 .5-.7 .5-.2 .5 .3 .5-.1 .5-.4 .5-.3 .5-.1 .5 .8 .5-.9 .5-.1 .5-.1 .5-.5 .5 .5 .5-.4 .5 0 .5 .2 .5-.9 .5-.2 .5-.6 .5 .4 .5-.5 .5 0 .5 0 .5-1.4 .5 .9 .5-1.3 .5 0 .5-.5 .5 1.4 .5-.9 .5 .5 .5-.3 .5 1 .5-.9 .5 .7 .5-.2 .5 .6 .5 .9 .5-.1 .5 .3 .5 .4 .5-.2 .5-.1 .5 .3 .5 .4 .5 .9 .5-.3 .5-.1 .5 .3 .5-.2 .5 .7 .5 .1 .5-.6 .5 1.1 .5-1.2 .5 .8 .5-.3 .5 .5 .5 .1 .5-.3 .5 .1 .5-.6 .5 0 .5 .6 .5 .2 .5-.3 .5 .5 .5 .2 .5-1.1 .5 .9 .5 .6 .5-.8 .5 0 .5 0 .5 .2 .5-1.2 .5 1.1 .5-.3 .5 .3 .5-.5 .5 .2 .5 .1 .5 .3 .5-.5 .5 .2 .5-.6 .5 .4 .5 .2 .5 .6 .5-1.1 .5 .4 .5-.3 .5 .5 .5-.6 .5 .7 .5-.7 .5 1.1 .5-.6 .5-.1 .5 .1 .5 .1 .5 .1 .5 .3 .5-.4 .5-.3 .5-.3 .5 .4 .5-.2 .5 .7 .5-.8 .5 .2 .5 .2 .5 .3 .5-1.3 .5 .4 .5 .2 .5-1.2 .5 .7 .5-1.5 .5 .6 .5-.6 .5 0 .5 .1 .5 .3 .5-1.1 .5 .9 .5 0 .5-1.2 .5 .7 .5 .4 .5 .5 .5-.1 .5-.2 .5 .2 .5 .7 .5-.4 .5 .6 .5 0 .5-.2 .5 1.4 .5-.8 .5 .8 .5-.3 .5 0 .5-.7 .5 .1 .5 .2 .5-.1 .5-.4 .5 1.3 .5 .1 .5-.7 .5-.2 .5-.2 .5-.3 .5 .5 .5-.2 .5 .3 .5 .1 .5 .5 .5-.9 .5 .1 .5-.2 .5 .3 .5-.6 .5 1 .5-.5 .5-.8 .5 .5 .5 .3 .5-.3 .5-.7 .5 .3 .5-.4 .5-.7 .5 .1 .5-.9 .5-.1 .5-.6 .5 .6 .5-.2 .5-.8 .5 .1 .5 .5 .5-1.1 .5 .7 .5 .4 .5 .3 .5-.1 .5-.3 .5 .9 .5 1 .5-.3 .5 .6 .5 .2 .5 .7 .5-.4 .5 .6 .5 .1 .5-.4 .5 .7 .5 .3 .5-.2 .5-.3 .5 0 .5-.2 .5 .1 .5-.4 .5 1 .5-.2 .5 0 .5 1 .5-1 .5 .2 .5-.9 .5 .3 .5-.2 .5 .3 .5-.6 .5 0 .5-.1 .5 .2 .5-.7 .5 .4 .5 0 .5-.3 .5 .3 .5-.6 .5-.2 .5-.1 .5 .1 .5-.3 .5-.3 .5 .1 .5-.7 .5 .5 .5-.8 .5 .9 .5-.8 .5 .1 .5 0 .5 .3 .5-1 .5 .6 .5 .5 .5 0 .5-.5 .5 1 .5 .4 .5-1 .5 .3 .5-.2 .5 .4 .5 .2 .5 1.1 .5-1.2 .5 1.3 .5-.6 .5 0 .5 0 .5 .6 .5-.3 .5 .1 .5 .1 .5 .2 .5 .1 .5-.1 .5-.2 .5 .7 .5-.2 .5 0 .5-.8 .5 .8 .5-.2 .5-.1 .5 .2 .5-.1 .5-.4 .5 .3 .5 .8 .5-.4 .5-.3 .5 .3 .5-.7 .5 1.3 .5-.2 .5-.5 .5 .2 .5-.5 .5 .1 .5 0 .5-.2 .5 .4 .5-.7 .5 .6 .5-.7 .5 .4 .5 .4 .5 .2 .5-1.4 .5 .8 .5 .3 .5-.7 .5 .6 .5-1 .5 .3 .5 1.1 .5-.8 .5 .1 .5-.6 .5-.1 .5 .6 .5-.5 .5 1 .5-1.6 .5-.1 .5 .8 .5-1.4 .5 1.4 .5 .6 .5 .3 .5-2.5 .5 .6 .5 .9 .5-1.1 .5 .7 .5-2 .5 1.4 .5 .6 .5-1.3 .5 1 .5-.4 .5-.5 .5-.8 .5 .7 .5 .6 .5-.7 .5 1 .5-.3 .5-2 .5 1.4 .5 1.3 .5-.6 .5-1.2 .5-1.5 .5 2 .5 .1 .5 1.4 .5-1.8 .5 .2 .5 .5 .5 1.7 .5-.6 .5 1.7 .5-4 .5 2.7 .5-1.4 .5 2.4 .5-3.6 .5 2.4 .5-.1 .5-15.1 .5-4.4 .5-6.5 .5 2 .5 22.9" stroke="#ff0000"/>
<path d="M20,254.4l.5 2.4 .5 .4 .5 2.2 .5-.3 .5 .6 .5 .2 .5 .2 .5 .5 .5-.3 .5 1.1 .5-.4 .5-.7 .5 .8 .5 .3 .5-.2 .5-.3 .5 .2 .5-1 .5 .4 .5-.3 .5 .3 .5 .7 .5 .2 .5 .1 .5-.9 .5 .4 .5-.4 .5 .3 .5-.1 .5-.5 .5 .8 .5-.7 .5 0 .5 .1 .5-.2 .5-.4 .5 .7 .5 .2 .5 .1 .5-.4 .5 .8 .5-.9 .5 .1 .5-.7 .5 1.6 .5-.2 .5 .1 .5-1.2 .5 .9 .5-.9 .5 1.1 .5-.5 .5-.1 .5 .1 .5-.1 .5 .7 .5-.2 .5-1.1 .5 .9 .5-1.4 .5 1.7 .5-1 .5 0 .5 0 .5 .9 .5-.7 .5-.4 .5 .2 .5-.5 .5 .5 .5-.7 .5-.1 .5 0 .5 .5 .5-.5 .5-.2 .5-.6 .5 .9 .5-.6 .5 .2 .5-.3 .5 .2 .5-.1 .5-.8 .5-.1 .5 .5 .5-.6 .5 .9 .5-.3 .5 .4 .5-.2 .5 0 .5-.6 .5 .4 .5 .1 .5 0 .5-.4 .5-.3 .5-.5 .5-.3 .5-1.1 .5-1.4 .5-3.9 .5-7.3 .5-11.1 .5-15.2 .5-19.6 .5-22 .5-20.2 .5-12.6 .5 .1 .5 10.2 .5 18 .5 21.8 .5 20.5 .5 16.7 .5 11.5 .5 8.3 .5 3.8 .5 2.2 .5 2.1 .5 .1 .5 .8 .5-.2 .5 .3 .5 .2 .5-.7 .5 0 .5-1 .5 0 .5-1.4 .5 .9 .5-.2 .5-.1 .5 1.4 .5 .1 .5 .6 .5-.5 .5 .8 .5 .8 .5-.5 .5-.7 .5 .8 .5-.2 .5-.3 .5-.1 .5 .5 .5-.9 .5 1.2 .5-.1 .5 0 .5 0 .5 .2 .5-1 .5 .6 .5 .1 .5 .1 .5-.5 .5 .1 .5 .2 .5-.1 .5 .3 .5-1.5 .5 .4 .5-.4 .5-.2 .5-.7 .5-1 .5-.7 .5-1.9 .5-1.5 .5-1.8 .5-1.6 .5-2 .5-2.1 .5-3.1 .5-1.2 .5-.4 .5-.5 .5 1.4 .5 1.5 .5 1.3 .5 2.2 .5 2.5 .5 1.8 .5 2.1 .5 1.6 .5 2.1 .5 .3 .5 .6 .5 .8 .5 .5 .5-.7 .5 .6 .5-.1 .5 .6 .5 .3 .5-.6 .5-.3 .5 .9 .5-.5 .5 .1 .5 .2 .5 .1 .5-.6 .5-.2 .5-.2 .5 .1 .5 .4 .5 .9 .5-.9 .5-.5 .5 0 .5-.1 .5-.6 .5 .4 .5 0 .5-.3 .5-.7 .5-.2 .5-.9 .5-.7 .5-2 .5-.9 .5-3.3 .5-4.9 .5-4.5 .5-6.7 .5-7.9 .5-11.8 .5-10.5 .5-12.7 .5-10 .5-8.6 .5-4.8 .5 .2 .5 5.3 .5 9.9 .5 11.3 .5 11.1 .5 11.2 .5 9.9 .5 8.7 .5 6.6 .5 5.7 .5 3.7 .5 2.6 .5 1.2 .5 1.1 .5 1.3 .5 1.4 .5 .2 .5 0 .5 .7 .5 .1 .5-.3 .5 1.1 .5 0 .5-.8 .5 .5 .5 .5 .5 .5 .5-.1 .5-.8 .5 .2 .5 .8 .5-.7 .5 .4 .5-.2 .5 .5 .5-.8 .5 .1 .5 .1 .5 1.2 .5 0 .5-.1 .5-1.1 .5-.2 .5 .4 .5-.5 .5-.5 .5 .3 .5-.9 .5 .5 .5-.8 .5-.8 .5-.9 .5 0 .5-.6 .5-.3 .5-.8 .5-.5 .5-.9 .5-.1 .5 0 .5 .1 .5-.3 .5-.3 .5 .4 .5 .6 .5 .9 .5 .1 .5 .2 .5 .9 .5 .5 .5 1.2 .5-.1 .5 .2 .5 .6 .5 .6 .5-.7 .5 .9 .5-.1 .5 .4 .5 .2 .5 .8 .5-.1 .5-.2 .5-.4 .5 .5 .5 .2 .5-.8 .5-.1 .5 1.3 .5-.1 .5-.3 .5 .4 .5 0 .5 .6 .5-1.9 .5 1.3 .5 .4 .5-.3 .5-.3 .5-.2 .5 1.1 .5 .4 .5-1.6 .5 .4 .5 .8 .5 .1 .5-.5 .5-.3 .5 1.1 .5 .1 .5-1.3 .5 .8 .5 .2 .5-.2 .5 .5 .5-.4 .5 .1 .5-.2 .5-.7 .5 1.5 .5-1.2 .5 .2 .5 .4 .5-.2 .5-.4 .5-.9 .5 .8 .5 .4 .5-.5 .5-.6 .5 1.1 .5 .3 .5-.5 .5 0 .5-1.1 .5 .5 .5-.8 .5 1.4 .5-.2 .5-1.2 .5 1.2 .5 .2 .5-.8 .5 .3 .5 .7 .5-1.2 .5 .8 .5 .2 .5-.3 .5-.2 .5 .2 .5 .1 .5 .1 .5 .3 .5-1.2 .5 .5 .5 0 .5 .6 .5-1.1 .5 1.1 .5-1 .5-.1 .5-.2 .5 .4 .5-.1 .5 .2 .5-.2 .5 .4 .5-.2 .5-1.1 .5 1.4 .5-.4 .5-.1 .5-.1 .5 .6 .5-.5 .5 .6 .5-.9 .5 1.2 .5-.1 .5-1 .5 .9 .5-.5 .5-.2 .5 .3 .5 .3 .5-.2 .5 .5 .5 .3 .5-1 .5-.2 .5 .8 .5 .1 .5 0 .5 .3 .5 0 .5-1 .5 .8 .5-.3 .5 .3 .5-.5 .5 .8 .5-.2 .5-.2 .5-.3 .5 1.3 .5-.3 .5-.1 .5-.5 .5-.1 .5 1 .5-.8 .5 .6 .5 .5 .5-1.5 .5 .1 .5 .7 .5-.8 .5 .5 .5-.1 .5 .6 .5-1 .5 .6 .5 .2 .5-.8 .5 0 .5 .8 .5-.1 .5-1 .5 0 .5 1.3 .5-.7 .5-.3 .5 .2 .5 0 .5 .2 .5 .4 .5-.1 .5-.8 .5 0 .5 .1 .5 .8 .5-.2 .5-1.2 .5 .5 .5 0 .5 .7 .5 0 .5-.7 .5-.2 .5 .4 .5 .2 .5-.2 .5-.5 .5 .3 .5 .4 .5-.1 .5 .1 .5-.6 .5 .2 .5 .2 .5-1.2 .5 1.1 .5 .3 .5 0 .5-.4 .5 .1 .5 .4 .5-.4 .5-.6 .5 .8 .5-.9 .5 .3 .5 1.2 .5-.8 .5 .2 .5-.1 .5 0 .5-.3 .5 .3 .5-.3 .5-.4 .5 .5 .5-.1 .5 .3 .5 .1 .5 .1 .5-.9 .5 .5 .5 .6 .5-.8 .5-.1 .5 .1 .5 0 .5 0 .5 1 .5-.9 .5 .3 .5-.4 .5 1.3 .5-1.3 .5-.1 .5 .9 .5-.7 .5 .3 .5 .6 .5-1.2 .5 1.1 .5-1 .5-1 .5 1 .5-.4 .5-.6 .5 1.3 .5-1.4 .5-.8 .5 .4 .5 .1 .5-.4 .5-.8 .5-.4 .5-.3 .5-.7 .5 .3 .5-.3 .5 .1 .5-1.1 .5 1 .5-.3 .5-.1 .5-.3 .5 .5 .5-.1 .5 .8 .5-.1 .5 0 .5 .6 .5 0 .5 1 .5 0 .5 0 .5 1.6 .5-.7 .5 .7 .5-.5 .5 .6 .5-.2 .5 .6 .5 0 .5 .9 .5-1.8 .5 1 .5 .7 .5-1.4 .5 1.2 .5-.3 .5 .1 .5-.3 .5 0 .5-.5 .5 .5 .5 .1 .5-.1 .5 .9 .5-.6 .5 .5 .5-.4 .5-.5 .5 .3 .5 0 .5-.1 .5 .6 .5-.1 .5-.4 .5 .3 .5-.5 .5 .1 .5 .7 .5 0 .5-.1 .5 .3 .5-.6 .5-.1 .5 .2 .5 .3 .5 .2 .5-.6 .5 0 .5 .5 .5-.3 .5-.1 .5-.4 .5 .2 .5 .1 .5 0 .5-.1 .5 .4 .5-.4 .5-.1 .5-.1 .5 .3 .5 0 .5 0 .5 0 .5-.5 .5 .7 .5-.9 .5-.4 .5 1.1 .5 0 .5-.5 .5 .1 .5 .6 .5 .1 .5-.6 .5 0 .5 .5 .5 .3 .5 .4 .5-.8 .5 .2 .5-.5 .5 .3 .5-.9 .5 .2 .5 1.2 .5-.3 .5-.4 .5 .6 .5-.5 .5-.2 .5-.2 .5 .1 .5 .6 .5-1 .5 .9 .5-.8 .5 0 .5-.6 .5-.8 .5 .7 .5-1 .5 .6 .5-.3 .5-.6 .5-.5 .5-.1 .5 .4 .5-.6 .5-.9 .5 .6 .5 1 .5-.1 .5-.5 .5 .4 .5 .2 .5 1.3 .5-1.2 .5 .3 .5 .6 .5 .4 .5-.1 .5 .8 .5-.2 .5 0 .5 .1 .5 .3 .5 .2 .5 .3 .5 .4 .5-.6 .5 .5 .5 0 .5-.5 .5-.6 .5 .8 .5 .1 .5 .4 .5-1.4 .5 1.1 .5-.3 .5 .2 .5 .3 .5-.4 .5 .1 .5-.1 .5-.6 .5 .6 .5-.3 .5 .3 .5-.9 .5 1 .5-.2 .5-.1 .5-.1 .5 .6 .5-.3 .5 .2 .5-.2 .5-.3 .5 .3 .5 .2 .5-.6 .5 .4 .5-.2 .5 .4 .5-.5 .5-.1 .5-.3 .5 0 .5 .4 .5 .2 .5-1.2 .5 .4 .5 .3 .5 0 .5-.5 .5-.2 .5 .3 .5 .3 .5-.1 .5-.4 .5 .4 .5-.3 .5 0 .5 .5 .5-.3 .5 .3 .5 0 .5-.3 .5-.1 .5 .4 .5 0 .5 .6 .5-.4 .5-.1 .5-.4 .5 .2 .5 .4 .5-.8 .5 .1 .5 .7 .5-.1 .5-.4 .5 .2 .5-.2 .5 .2 .5 .4 .5 0 .5 .6 .5-.3 .5-.4 .5-.2 .5 .5 .5-.3 .5 .1 .5 .2 .5-.3 .5-.2 .5 .5 .5-.3 .5-.1 .5 .5 .5-.6 .5-.1 .5 1.3 .5-.5 .5-.5 .5 .2 .5-.2 .5-.4 .5-.2 .5-.4 .5 .5 .5 .1 .5-.2 .5-.7 .5 .3 .5-.7 .5 .2 .5 0 .5-.8 .5 .3 .5-.1 .5-.1 .5 .5 .5 .6 .5 .3 .5-.5 .5 .4 .5 1 .5-.7 .5 .3 .5 1.1 .5-.8 .5 .5 .5-.2 .5-.5 .5 .8 .5-.9 .5 .1 .5 1.1 .5-.3 .5-.4 .5 .4 .5 .1 .5-.4 .5-.7 .5 0 .5 .8 .5-.5 .5 .4 .5-.9 .5 .6 .5-1 .5 .9 .5-.2 .5 .3 .5-1.3 .5 .2 .5 .1 .5 .4 .5 .4 .5-.2 .5-1.1 .5 .3 .5 .6 .5-.3 .5-.9 .5 .7 .5-.1 .5 0 .5-.4 .5 .1 .5 .2 .5-.3 .5 .2 .5-.1 .5-.1 .5-.4 .5 .5 .5 .1 .5-.5 .5-.1 .5 .6 .5 .2 .5-.5 .5 .6 .5 .8 .5-1.5 .5 1.1 .5 0 .5 .1 .5 0 .5 .3 .5-.1 .5 0 .5 .6 .5 .5 .5-.8 .5 .4 .5 .2 .5-.8 .5 .3 .5-.2 .5 .2 .5 .5 .5-.7 .5 .7 .5 .3 .5-1.2 .5 .4 .5 .1 .5-.8 .5-.3 .5 .7 .5-.4 .5 .3 .5-.3 .5 .1 .5-.1 .5 .3 .5 .3 .5-.3 .5 .1 .5-.7 .5 1.1 .5-.1 .5 .2 .5-.7 .5-.3 .5 .5 .5-.6 .5 .4 .5-.1 .5-.1 .5-.5 .5 .9 .5-1 .5 .6 .5-.2 .5-.8 .5 1.1 .5-.4 .5 .8 .5 0 .5-1.4 .5-.7 .5 1.1 .5 .4 .5-.6 .5 1.1 .5-1 .5-.6 .5 .3 .5 .3 .5 .6 .5-1.2 .5 .4 .5 .4 .5-.8 .5 .3 .5 .6 .5-.3 .5 .2 .5-1.2 .5-.9 .5 .4 .5 .4 .5 .8 .5-1 .5-.4 .5 .3 .5 .8 .5-.9 .5 1.7 .5-.6 .5-.4 .5-1.2 .5 2.9 .5-1.7 .5 .7 .5-.5 .5-1.4 .5 0 .5 .1 .5 1.7 .5-.5 .5-3.3 .5 3.4 .5-3.5 .5 1.6 .5 3.1 .5-2.1 .5-.5 .5-4.3 .5 6 .5-1.8 .5 .4 .5-2.3 .5-11.6 .5-4.5 .5-9.6 .5 7.5 .5 23.3" stroke="#32cd32"/>
<path d="M20,263l.5 2.2 .5 1.1 .5 .8 .5 .9 .5 .3 .5 .1 .5 1.1 .5-.6 .5 .3 .5-.2 .5-.1 .5-.1 .5 .4 .5 0 .5 .2 .5-.4 .5 .6 .5-.1 .5-1.3 .5 .3 .5 .4 .5 .2 .5 .1 .5 0 .5-.3 .5 .7 .5-1.1 .5 .3 .5-.1 .5 .3 .5 .1 .5-.1 .5 .1 .5-.1 .5 .5 .5-.7 .5 0 .5 .4 .5 0 .5 0 .5-.2 .5-.5 .5 .7 .5-.4 .5 .6 .5-.2 .5-.1 .5-.2 .5 .5 .5-.4 .5-.6 .5 1 .5 .3 .5-.4 .5-.2 .5-.5 .5 .2 .5 .4 .5 0 .5-.3 .5 .3 .5 .3 .5-.7 .5 .2 .5 0 .5 0 .5 .2 .5-.8 .5-.2 .5 .3 .5-.1 .5-.1 .5 .6 .5 0 .5-.7 .5-.5 .5 .1 .5 .7 .5 0 .5-.4 .5 .4 .5 .4 .5-.4 .5 .2 .5-1 .5 .9 .5-.4 .5 .2 .5-.7 .5 .2 .5-.1 .5-.1 .5 .3 .5-.3 .5-.2 .5 .2 .5-.7 .5-.7 .5-1 .5-1.9 .5-2.2 .5-4 .5-5.8 .5-7.3 .5-9 .5-11.8 .5-12.5 .5-13.4 .5-13 .5-10.9 .5-7.1 .5-2.4 .5 2.9 .5 6.8 .5 11 .5 13 .5 12.4 .5 12.9 .5 12.1 .5 9.2 .5 6.9 .5 5.9 .5 3.3 .5 2.4 .5 2.2 .5 1 .5 .6 .5 1 .5-1.3 .5 .4 .5-.7 .5 .1 .5 .1 .5 1 .5-.3 .5-.2 .5 0 .5 1.9 .5-.3 .5 .5 .5-.5 .5-.3 .5 .2 .5 .8 .5-.8 .5 .6 .5 .2 .5-1.1 .5 1.2 .5-.4 .5 0 .5-.1 .5 .3 .5-.5 .5 .5 .5-.3 .5 .1 .5-.4 .5 .6 .5-.2 .5-.6 .5 .2 .5-.3 .5 .1 .5 0 .5-1.4 .5 .5 .5-.4 .5-1 .5-1.3 .5-1 .5-2.3 .5-1.7 .5-2.1 .5-2.4 .5-1.6 .5-2 .5-1.5 .5-.6 .5-.5 .5 1 .5 1 .5 2 .5 2 .5 3.1 .5 1.8 .5 1.3 .5 1.8 .5 1 .5 .6 .5 1.9 .5 .4 .5 .8 .5-.4 .5 .2 .5-.1 .5 0 .5 .2 .5-.2 .5 .2 .5 .2 .5-.3 .5 .9 .5-.9 .5 .5 .5 .2 .5-1 .5 .6 .5-.3 .5-.7 .5 .1 .5-1.1 .5 .7 .5 .3 .5-.6 .5 .1 .5-.4 .5-.3 .5-.3 .5-.5 .5-.6 .5-.5 .5-.5 .5-2.6 .5-1.8 .5-2.9 .5-3.5 .5-4.1 .5-5.5 .5-6 .5-7.6 .5-9 .5-9.3 .5-8.4 .5-8.5 .5-7.7 .5-6 .5-3.2 .5 0 .5 2.9 .5 5.8 .5 7.8 .5 8.3 .5 8.8 .5 9.5 .5 8 .5 7.9 .5 6.2 .5 5 .5 5 .5 3.6 .5 3.1 .5 1.9 .5 1.5 .5 1.1 .5 1.2 .5-.2 .5 1.5 .5 .3 .5-.3 .5-.1 .5 1 .5-.5 .5 .3 .5 0 .5 .2 .5-.2 .5 .4 .5-.1 .5-.1 .5 .4 .5-.1 .5-.3 .5 0 .5 .3 .5-.8 .5 .5 .5-.1 .5-.7 .5 .2 .5 .5 .5-.5 .5-.9 .5-.1 .5-.4 .5-.5 .5-.5 .5-.3 .5-.6 .5 .3 .5-.4 .5-1 .5-.6 .5-.8 .5 0 .5-.1 .5 .3 .5 .8 .5-.7 .5 1.1 .5 0 .5 .5 .5 .5 .5-.4 .5 1.3 .5 .8 .5 .9 .5 0 .5 .7 .5 .2 .5 .8 .5 .2 .5 .9 .5-.3 .5 .1 .5 .6 .5 .6 .5-.3 .5 .1 .5 .4 .5-.2 .5 .3 .5 .1 .5-.3 .5-.7 .5 .8 .5 .1 .5 .2 .5-.7 .5-.1 .5 .4 .5-.2 .5 0 .5-.3 .5 .2 .5-.1 .5-.9 .5 1.2 .5-.6 .5-.6 .5 0 .5 .6 .5-.6 .5 .4 .5-.3 .5 .3 .5-.1 .5 .9 .5-.5 .5 .4 .5-1 .5 .4 .5-.3 .5 .7 .5 .4 .5-.6 .5-.6 .5 .6 .5 .5 .5 .2 .5-.7 .5 .2 .5-.4 .5-.2 .5 .5 .5 .7 .5-.8 .5 .5 .5-.1 .5-.3 .5-.1 .5-.4 .5 .5 .5 .4 .5 0 .5-.2 .5 0 .5-.7 .5 .1 .5 .3 .5 0 .5-.4 .5 .3 .5 .2 .5 .1 .5 0 .5-.6 .5 .2 .5 .7 .5-.7 .5 .4 .5 .5 .5 0 .5-1.1 .5 .5 .5-.1 .5-.1 .5 .7 .5-.3 .5 .5 .5-1 .5-.4 .5 .9 .5 .1 .5 .6 .5-.6 .5 .3 .5 .4 .5-1.5 .5 1 .5-.2 .5-.2 .5 .3 .5 .1 .5 .9 .5-1.2 .5 .3 .5 .5 .5 .6 .5-1.5 .5 .7 .5-.5 .5 .9 .5-.4 .5-.1 .5 .2 .5-.4 .5-.1 .5 .2 .5-.8 .5 .6 .5 .4 .5-1.5 .5 .3 .5 .9 .5 0 .5-.2 .5 .2 .5-.3 .5 .6 .5-1 .5 1.1 .5-.7 .5-.3 .5 .6 .5-.4 .5 .8 .5-.9 .5-.3 .5-.4 .5 .9 .5 .8 .5-.6 .5-.4 .5-.9 .5 .3 .5 .7 .5-.4 .5 .1 .5 0 .5 .2 .5-.5 .5 .5 .5 .1 .5-.5 .5 .3 .5-.4 .5-.1 .5 .3 .5-.2 .5-.2 .5 .2 .5 0 .5 .4 .5 .2 .5-1.2 .5 0 .5 .4 .5 .8 .5-.9 .5 0 .5-.3 .5 .5 .5 .3 .5 .5 .5 .4 .5-.7 .5 .2 .5 .1 .5-.1 .5 .1 .5-.8 .5 1 .5 .1 .5-.9 .5 .2 .5 .6 .5 0 .5 .1 .5 .4 .5-.3 .5 .7 .5-1.1 .5-.2 .5-.2 .5 .8 .5 .3 .5-.9 .5 .3 .5-.5 .5 1.2 .5-.6 .5 .3 .5-.7 .5 .5 .5 .3 .5-.3 .5-.8 .5 .3 .5 .2 .5 .4 .5-.1 .5 .2 .5-.4 .5-.5 .5 .9 .5-.2 .5-.8 .5 .5 .5-.4 .5 1.4 .5-1.1 .5 .1 .5 .4 .5-1 .5 .8 .5-.4 .5 .2 .5-.8 .5 .8 .5-.9 .5 .6 .5 .1 .5-.1 .5 .1 .5-1.2 .5 1.3 .5-1 .5 0 .5 .1 .5 .1 .5-1.3 .5 .1 .5-.3 .5 .2 .5-.7 .5 .4 .5-.9 .5-.8 .5-.3 .5 0 .5-.2 .5-.4 .5 .3 .5 .3 .5-.4 .5 .6 .5 .1 .5 .1 .5 .7 .5 .3 .5-.8 .5 .9 .5 .4 .5-.4 .5 .1 .5 .9 .5-.1 .5 .5 .5-.2 .5 1 .5-.6 .5 .1 .5 .6 .5 .3 .5-.4 .5 .7 .5-.6 .5 1.3 .5-.5 .5 .1 .5-.1 .5 0 .5-.6 .5 .8 .5 .1 .5-.6 .5 .4 .5-.5 .5 .8 .5-.4 .5 .6 .5-.3 .5-.6 .5 .3 .5 .6 .5-.2 .5-.8 .5-.2 .5 .2 .5-.2 .5 .2 .5 1.3 .5-1 .5 .4 .5-1 .5 .6 .5 .1 .5-1 .5 .4 .5-.4 .5 .1 .5 .2 .5 .6 .5 .1 .5-.6 .5-.2 .5 1 .5-.6 .5-.1 .5 .8 .5-.8 .5-.4 .5 .9 .5-.6 .5-.4 .5 1 .5-.8 .5 .1 .5 .5 .5 .3 .5-1.3 .5 1 .5 .2 .5 .2 .5-.6 .5-.3 .5 .5 .5-.8 .5 1.2 .5-.7 .5-.4 .5 .6 .5 .4 .5-.3 .5-.7 .5 1.1 .5-.5 .5-.2 .5-.1 .5 .5 .5-.3 .5-.2 .5 .1 .5-.1 .5-.1 .5-.1 .5 .1 .5 .4 .5-1.1 .5-.4 .5 .3 .5 .3 .5-.4 .5 0 .5 .1 .5-.3 .5-.1 .5-.1 .5-.2 .5-.6 .5-.1 .5 .1 .5-.5 .5 .2 .5-.2 .5 .2 .5-.4 .5 .2 .5 1.2 .5-.9 .5 .9 .5 .2 .5 .4 .5-.3 .5 .4 .5 .1 .5 .3 .5 .2 .5 .4 .5-.2 .5-.1 .5 .1 .5 0 .5 .5 .5 .3 .5-.3 .5 .4 .5 .3 .5-.7 .5 .8 .5-.4 .5-.4 .5 0 .5 .5 .5-.1 .5 .3 .5-1.1 .5 1.2 .5 0 .5-.9 .5 .2 .5 1 .5-.4 .5-.4 .5-.1 .5 .1 .5 .3 .5-.4 .5 .3 .5-.4 .5-.6 .5 .8 .5-.2 .5 .7 .5-.4 .5 .1 .5-.8 .5 .9 .5-1 .5 1 .5-.3 .5 .3 .5 .2 .5-.2 .5-.8 .5-.1 .5 .5 .5 0 .5 0 .5-.6 .5-.1 .5 .4 .5 .6 .5-1.1 .5 .5 .5 0 .5-.3 .5-1 .5 1.3 .5-1 .5 .7 .5-.5 .5 .3 .5 .7 .5-1.2 .5 .3 .5 .3 .5-.1 .5 .4 .5-.1 .5 .2 .5-.1 .5 0 .5 .7 .5-1.1 .5 .4 .5-.1 .5 .3 .5-1.5 .5 .8 .5 .5 .5-.2 .5 .5 .5-1.2 .5 1.6 .5-.8 .5-.3 .5-.2 .5-.1 .5 .1 .5 .3 .5-.4 .5 .5 .5-.4 .5 .5 .5-.6 .5 .3 .5-.4 .5 .7 .5-.5 .5 .1 .5 .5 .5-.8 .5-.5 .5 .1 .5-.3 .5 .2 .5 .2 .5-.3 .5-1 .5-.2 .5 .2 .5-.4 .5-1.4 .5 .4 .5 .1 .5-.1 .5 .3 .5 .3 .5-.5 .5 1 .5 0 .5 .5 .5 .8 .5-.7 .5-.3 .5 .9 .5 .4 .5 .1 .5 .3 .5-.2 .5 .8 .5 .5 .5-.2 .5-.6 .5 .5 .5 .2 .5-.6 .5 .4 .5-.3 .5 1 .5-.3 .5-.2 .5-.9 .5 1 .5-.7 .5 .8 .5 0 .5 0 .5-.5 .5-.5 .5 .4 .5 0 .5-1.5 .5 .8 .5 .5 .5-.5 .5 .5 .5-.6 .5 .1 .5-.1 .5-.1 .5 .2 .5-.8 .5-.4 .5-.3 .5 .6 .5-.7 .5 0 .5 .5 .5-.3 .5 0 .5 .8 .5-.6 .5-.4 .5 .2 .5-.4 .5 .6 .5 .2 .5 .4 .5-.3 .5 0 .5 .1 .5 .1 .5-.1 .5-.5 .5 .7 .5 .5 .5 .2 .5-.1 .5 0 .5 0 .5 .2 .5-.3 .5 1.4 .5-.8 .5 .2 .5 .2 .5-.5 .5 .1 .5 .2 .5 .3 .5 .3 .5-.5 .5 0 .5-.1 .5 .4 .5 0 .5 .3 .5 .1 .5-.3 .5-.3 .5-.2 .5 .3 .5-.2 .5 .1 .5 .2 .5-.7 .5 .4 .5-.2 .5-.7 .5 .9 .5-.4 .5-.3 .5 .4 .5 .1 .5-.8 .5 .2 .5-.5 .5 .4 .5 .2 .5-.1 .5-.1 .5 .6 .5-.3 .5-.3 .5-.1 .5-.1 .5-.4 .5-.2 .5 .3 .5 .4 .5-.7 .5-.9 .5 1.5 .5-.6 .5 .6 .5-.4 .5-.9 .5 0 .5 .3 .5-1.3 .5 3.1 .5-1.9 .5 0 .5-.7 .5 1.1 .5 .6 .5 .7 .5-1.8 .5 1.8 .5-1 .5-1.8 .5 2.6 .5-1.8 .5 1.2 .5-.1 .5-.8 .5-.2 .5 1.3 .5-1.7 .5-.4 .5 2.7 .5-1.8 .5 2.3 .5-4 .5 1.8 .5 .1 .5-1.4 .5 3.3 .5-2.1 .5-2.7 .5 3.7 .5-3.2 .5 2.5 .5 .6 .5 3.2 .5-4.8 .5 .9 .5-1.1 .5-.1 .5 2.4 .5 .8 .5-.6 .5-18.7 .5 .3 .5-8 .5 .5 .5 23.9" stroke="#32cd32"/>
<path d="M20,271.9l.5 1.6 .5 1 .5 .4 .5 1.3 .5 .2 .5-.1 .5 1.2 .5-.3 .5-.2 .5 .1 .5 .8 .5-.6 .5 0 .5-.5 .5 .7 .5-.2 .5 .7 .5 .1 .5 0 .5-1.1 .5 .8 .5 .4 .5-.7 .5 .1 .5 0 .5-.6 .5 .4 .5 .1 .5 .1 .5-.1 .5 0 .5-.2 .5 .9 .5-.3 .5-.3 .5-.2 .5 .5 .5-.9 .5 .6 .5 0 .5-.4 .5-.6 .5 .1 .5 1.1 .5-.9 .5 .7 .5-.3 .5-.1 .5 .3 .5 .4 .5-.2 .5 .3 .5-.9 .5 .2 .5 .7 .5-.5 .5-.1 .5-.5 .5 .4 .5 0 .5 .4 .5-.3 .5-.6 .5-.1 .5 1.2 .5-1 .5-.1 .5 .1 .5 .3 .5 .3 .5-.1 .5-.3 .5 .1 .5-.2 .5 .2 .5-.2 .5 .3 .5-.5 .5 .3 .5 .2 .5-.5 .5 .1 .5 .4 .5-.3 .5-.1 .5 0 .5 0 .5-1.1 .5 1.1 .5-.3 .5 .7 .5-1.4 .5 .9 .5-.7 .5-.3 .5-.2 .5-.5 .5-1.2 .5-.5 .5-1.5 .5-3 .5-2.7 .5-4.9 .5-6 .5-7.8 .5-9.5 .5-10.1 .5-12.4 .5-12.3 .5-10 .5-10 .5-5.3 .5-2.2 .5 1.3 .5 6.1 .5 10.5 .5 9.7 .5 11.2 .5 12.1 .5 10.9 .5 9.9 .5 6.8 .5 6.7 .5 4.6 .5 3.3 .5 2.8 .5 1 .5 .1 .5 1.2 .5-.1 .5 .1 .5 .3 .5-1 .5 1.2 .5 .5 .5 0 .5 .1 .5 1.6 .5 .1 .5-.7 .5 .4 .5 .1 .5 .3 .5-.3 .5 .8 .5-.1 .5 .3 .5-.3 .5 .7 .5-1 .5 .7 .5 0 .5-.2 .5 .2 .5-.3 .5-.5 .5 .5 .5 .3 .5-1.2 .5 1.4 .5-1.3 .5 .7 .5-.9 .5 .6 .5-.8 .5 .1 .5-.5 .5-.6 .5-.5 .5-1.1 .5-1.3 .5-.8 .5-2.3 .5-1.8 .5-1.8 .5-2.8 .5-1.9 .5-1.7 .5-1.5 .5-.7 .5-.1 .5 1.2 .5 1.7 .5 1.2 .5 2.4 .5 2.4 .5 2.2 .5 2 .5 1.5 .5 .9 .5 .9 .5 1.4 .5 .2 .5 .3 .5 1.1 .5-.4 .5 .3 .5 .4 .5-.9 .5 2 .5-.4 .5 .2 .5-.8 .5 .1 .5 .3 .5-.4 .5 .1 .5-.4 .5-.2 .5 .8 .5-.4 .5-.3 .5-.4 .5 1 .5-1.2 .5-.8 .5 .8 .5-1.4 .5 1.1 .5-1.1 .5-.2 .5-.5 .5-.9 .5-1.3 .5-.5 .5-1.6 .5-2.4 .5-1.9 .5-3.3 .5-4.5 .5-4.4 .5-6.3 .5-6.8 .5-5.8 .5-8.2 .5-7.6 .5-8.6 .5-7.6 .5-6.6 .5-4.9 .5-2.9 .5-1.1 .5 2.8 .5 3.5 .5 7.2 .5 8.1 .5 8 .5 8 .5 7 .5 7.9 .5 6.1 .5 6.6 .5 4.5 .5 4 .5 3.8 .5 3 .5 1.1 .5 2.1 .5 1.5 .5 1 .5 .4 .5 .8 .5 .3 .5 1 .5 .1 .5 .7 .5-.7 .5 .2 .5 .5 .5 .5 .5-.2 .5-.2 .5-.5 .5 .6 .5 .2 .5 .3 .5-1 .5 .7 .5-.2 .5 .5 .5-.5 .5-1.4 .5 .2 .5-.2 .5-.6 .5-.3 .5-.8 .5-.2 .5-.6 .5-.4 .5-.6 .5-.2 .5-.6 .5-.5 .5-.4 .5-.8 .5 .3 .5 .5 .5-.5 .5 .2 .5 .5 .5 .2 .5 .2 .5 .6 .5 .3 .5 .6 .5 1 .5 .4 .5 .3 .5 1 .5 .7 .5 .1 .5 .3 .5 1.3 .5-.4 .5 0 .5 .8 .5 .4 .5-.9 .5 .2 .5 .4 .5 .4 .5-.7 .5 1 .5-.4 .5 .6 .5-.6 .5 .1 .5 .1 .5-.5 .5-.3 .5 .3 .5-.6 .5 .1 .5 .4 .5 .2 .5 .2 .5 .1 .5-.9 .5-.3 .5 1.1 .5-.5 .5-.1 .5-.6 .5 .1 .5 .7 .5-.6 .5 .8 .5-.9 .5 .9 .5-1 .5-.1 .5 .5 .5-.1 .5 0 .5 .5 .5 .1 .5-.7 .5 .9 .5 .2 .5 0 .5-.5 .5-.1 .5 .2 .5 .2 .5-.5 .5-.2 .5 .7 .5 .1 .5-.1 .5-.5 .5-.2 .5 .5 .5 .3 .5 .2 .5-.6 .5-.4 .5 .2 .5 .2 .5 .5 .5-1 .5 .4 .5 0 .5 .3 .5-.1 .5-.3 .5 .8 .5 .1 .5-.1 .5-.1 .5 .1 .5-.1 .5-.1 .5-.7 .5 .7 .5 .2 .5-.4 .5 .5 .5-.3 .5-.5 .5 .9 .5-.8 .5 .5 .5-.6 .5-.1 .5 .7 .5-.4 .5 0 .5 .1 .5 .2 .5 .5 .5-.7 .5 .2 .5-.2 .5 .8 .5-.6 .5-.4 .5 .2 .5 .9 .5-.6 .5 .7 .5-1.1 .5 .7 .5-.3 .5 .1 .5 .1 .5 .3 .5-.4 .5 .3 .5-.4 .5 .1 .5 .4 .5 .2 .5-.3 .5 .7 .5-1 .5-.1 .5 .9 .5-.2 .5-.4 .5 .9 .5-.6 .5 1.1 .5-1.6 .5 .4 .5 .6 .5 .2 .5 .2 .5-.8 .5 .2 .5 .2 .5 .1 .5-.5 .5 .2 .5-.6 .5 1 .5-.8 .5 .6 .5-.1 .5 0 .5-.2 .5 .3 .5 0 .5-.7 .5 .4 .5 .1 .5-.5 .5 .4 .5 .3 .5 0 .5-.7 .5-1.2 .5 1.5 .5-.1 .5-.4 .5 0 .5-.3 .5-.2 .5 .6 .5 .1 .5-.5 .5-.5 .5-.3 .5 .9 .5 0 .5 .2 .5-.6 .5-.1 .5 0 .5 .7 .5 .4 .5-1.1 .5 .3 .5 .1 .5 .4 .5-.5 .5 .7 .5-.1 .5-.1 .5 .3 .5-.7 .5 .1 .5 .9 .5-.6 .5-.3 .5 .2 .5-.3 .5 .7 .5-.6 .5 .6 .5 0 .5-.3 .5 .8 .5-.8 .5 .2 .5 .2 .5-.7 .5-.1 .5 .6 .5-.5 .5-.1 .5 .1 .5 .7 .5 .4 .5-.7 .5 0 .5 .1 .5 .2 .5-.3 .5-.3 .5 .5 .5-.5 .5-.1 .5 0 .5 0 .5 .1 .5 0 .5 .3 .5-.5 .5 .1 .5-.2 .5 .2 .5 .3 .5-.7 .5-.5 .5 .9 .5-.3 .5-.1 .5-1.3 .5 .3 .5 .4 .5-.4 .5-.3 .5 .3 .5-1.1 .5 0 .5 0 .5-.6 .5-.2 .5 0 .5-.4 .5 0 .5 .5 .5-1 .5 .3 .5 .1 .5 .3 .5 .5 .5 .7 .5 .1 .5 .8 .5-1.4 .5 .6 .5 1.5 .5-.7 .5 .3 .5 0 .5 0 .5 .9 .5-.4 .5-.2 .5 .3 .5 0 .5 .3 .5 0 .5-.1 .5-.2 .5 .2 .5-.2 .5-.4 .5 .5 .5-.6 .5 .6 .5-.4 .5 1 .5-.4 .5-.4 .5 0 .5 .6 .5-.7 .5 1 .5 0 .5-.3 .5-.4 .5 .5 .5-.4 .5-.5 .5 .4 .5 .8 .5-.4 .5-.1 .5 .7 .5-.2 .5 .1 .5-.1 .5-.6 .5 .5 .5-.6 .5 1.1 .5-.7 .5 1.2 .5-1.4 .5 .1 .5 .9 .5-1.1 .5 .7 .5 .1 .5 1 .5-.9 .5 .1 .5-.2 .5-.1 .5-.2 .5 .5 .5-.3 .5 0 .5-.6 .5 .9 .5-.2 .5-.1 .5 .1 .5 .5 .5-1.6 .5 1.4 .5-.6 .5 0 .5 .3 .5 .1 .5-.8 .5 1 .5-.8 .5 .8 .5-.6 .5 1.2 .5-1.7 .5 .5 .5 .6 .5-1 .5 .5 .5-1.1 .5 .2 .5 .1 .5 .4 .5-.6 .5 .7 .5-.3 .5-1.1 .5 1.3 .5 .2 .5-.3 .5-.1 .5-.7 .5-.1 .5 0 .5-.1 .5 0 .5 .3 .5-.5 .5-.8 .5-1.1 .5 .1 .5 .7 .5-.8 .5 1.2 .5-1.1 .5 0 .5 .3 .5-.4 .5 .2 .5 .7 .5 0 .5 .4 .5 0 .5 .1 .5-1.1 .5 .9 .5-.1 .5 .4 .5 .3 .5 .3 .5 .1 .5 .4 .5 0 .5 .3 .5-1 .5 .2 .5 .6 .5 .3 .5-.9 .5-.1 .5 1.2 .5-.5 .5 .5 .5 .1 .5-.2 .5-.5 .5 .7 .5-.5 .5 .5 .5-1 .5 .8 .5-.2 .5-.1 .5 .3 .5-.1 .5-.1 .5 .1 .5-.5 .5 .4 .5-.5 .5-.1 .5 .5 .5 .1 .5-.4 .5-.1 .5-.1 .5 .3 .5-.1 .5 1 .5-1.2 .5 .4 .5 .5 .5-.3 .5-.1 .5 .6 .5-.1 .5 0 .5-.6 .5 .4 .5 0 .5-.5 .5 .6 .5-.3 .5-.3 .5 .3 .5 .1 .5-.1 .5-.1 .5-.6 .5 .6 .5 .1 .5-.7 .5 1.1 .5-.3 .5 .4 .5-.1 .5-.2 .5-.6 .5 .6 .5-.3 .5 .2 .5 .1 .5 0 .5 .4 .5 .1 .5-.2 .5-.5 .5 .2 .5 .4 .5 .5 .5-1 .5 0 .5 0 .5 .2 .5 .4 .5-.6 .5 .1 .5 0 .5 .9 .5-.6 .5 .5 .5 0 .5-.4 .5 .1 .5-.2 .5 0 .5-.4 .5 .3 .5 0 .5 .5 .5-.5 .5-.3 .5 .5 .5-.5 .5-.1 .5-.4 .5 .5 .5-.7 .5 0 .5-.8 .5-.1 .5-1.2 .5 1.2 .5 .4 .5-1.9 .5 1.3 .5-.2 .5-.2 .5-.4 .5 0 .5 .9 .5-.5 .5-.1 .5 .5 .5 .6 .5 .1 .5 .3 .5 .3 .5 1 .5-.5 .5 .2 .5-.5 .5 .3 .5 .7 .5-.2 .5 0 .5-.3 .5-.6 .5 .5 .5-.1 .5 .8 .5-1.2 .5 .1 .5 .9 .5-.9 .5-.1 .5 .5 .5-.7 .5 .2 .5-.1 .5 .4 .5-.5 .5 .2 .5-.5 .5 .2 .5 .2 .5-.4 .5 .5 .5-.3 .5-.9 .5 1.5 .5-.9 .5 .4 .5-.2 .5-.3 .5 .1 .5-.1 .5-.7 .5 .6 .5-.9 .5 .8 .5-.8 .5 .3 .5-.2 .5 .2 .5-.4 .5-.1 .5 .1 .5 .2 .5 .4 .5-.9 .5-.7 .5 1.1 .5 0 .5 .3 .5 0 .5-.1 .5 .2 .5 .1 .5-.2 .5 .1 .5 .1 .5-.1 .5 .6 .5 .5 .5 .2 .5-.6 .5 .4 .5-.5 .5 .5 .5-.1 .5 .8 .5-.8 .5-.1 .5-.1 .5 0 .5 .7 .5 .2 .5-.9 .5-.2 .5 .1 .5-.3 .5 .4 .5 .6 .5-1 .5 .3 .5 .2 .5-.8 .5 .4 .5-.5 .5 .7 .5-.1 .5-.2 .5-.9 .5 .7 .5 .3 .5-.3 .5 .5 .5-.1 .5 .1 .5-.1 .5 .3 .5-.5 .5 0 .5 .5 .5-.8 .5-.2 .5 1.1 .5 .1 .5-.1 .5 .7 .5-1 .5-1 .5 .6 .5-1 .5 1 .5 .2 .5 .8 .5 .2 .5-1.1 .5 .7 .5-.4 .5-1 .5-.1 .5-.9 .5 1 .5 0 .5-.6 .5 .6 .5-.5 .5 2.2 .5-3.1 .5 2.3 .5-1.6 .5 .3 .5 .7 .5-2.6 .5 1.6 .5 1.3 .5-2.4 .5-.1 .5-1.4 .5 2.4 .5-1.3 .5 1.5 .5-.4 .5 1.3 .5 1.3 .5-4.1 .5 1.2 .5-.1 .5 3.5 .5-3 .5-.9 .5-1.3 .5 3.2 .5-2.7 .5 .7 .5 2.6 .5-1 .5 .1 .5 .4 .5-2.3 .5-.8 .5 1.3 .5-13.2 .5-2.6 .5-6.9 .5 1.5 .5 23.8" stroke="#32cd32"/>
<path d="M20,279.6l.5 2.1 .5 1 .5 .4 .5 .5 .5 1.2 .5-.3 .5 .2 .5 .5 .5 .1 .5-.3 .5 .1 .5 .4 .5-1.2 .5 .9 .5-.2 .5 .8 .5-.4 .5 .4 .5 0 .5-.6 .5 .9 .5-.5 .5 .1 .5-.7 .5 .6 .5 .3 .5-.4 .5 .6 .5-.8 .5 0 .5-.1 .5 0 .5-.6 .5 .5 .5 1.1 .5-.4 .5-.4 .5 .7 .5-.8 .5-.1 .5 0 .5 .7 .5-.2 .5-.3 .5 0 .5-.1 .5 .4 .5 .1 .5 .1 .5 0 .5 0 .5-.4 .5-.1 .5 .1 .5 .1 .5 1.1 .5-.6 .5 .4 .5-.6 .5 .6 .5-.3 .5 .4 .5-1 .5 1.2 .5-.4 .5-.4 .5 .4 .5-.5 .5 .7 .5 .1 .5-.6 .5 0 .5 .2 .5-.1 .5 .5 .5-.8 .5 .1 .5 .1 .5 .5 .5 .1 .5 0 .5-1.2 .5 1.4 .5-2 .5 1.1 .5-.1 .5-.1 .5 .9 .5-.6 .5-.1 .5-.8 .5 1 .5-1.5 .5 .5 .5 .1 .5-.7 .5-.7 .5-.6 .5-1.8 .5-.9 .5-2.5 .5-2.6 .5-4.6 .5-4.8 .5-7.3 .5-7.1 .5-9 .5-11 .5-10.3 .5-10.4 .5-8.9 .5-8.3 .5-4.1 .5-2 .5 2.1 .5 4.7 .5 8.3 .5 8.7 .5 10 .5 10.5 .5 10.1 .5 8.8 .5 7.5 .5 7.1 .5 5.1 .5 2.8 .5 3.4 .5 2.4 .5 1.8 .5 .5 .5 0 .5 .3 .5 .4 .5 0 .5 .8 .5-.4 .5 1.1 .5-.3 .5 .5 .5 .4 .5 .6 .5-1.3 .5 1.4 .5-.7 .5 .4 .5 .7 .5-.9 .5-.7 .5 1.6 .5-.7 .5 0 .5 .3 .5-.7 .5 .1 .5-.2 .5 .5 .5-.3 .5 .2 .5 .2 .5-.5 .5 .1 .5 .2 .5-.9 .5 1.3 .5-.1 .5-1 .5 .1 .5-.5 .5-1.3 .5-.4 .5-.6 .5-1.4 .5-.5 .5-2.2 .5-1.8 .5-2.7 .5-2.1 .5-1.7 .5-1.1 .5-2.3 .5-.1 .5 .5 .5 .5 .5 1.5 .5 2.1 .5 1.8 .5 1.5 .5 2.4 .5 2.8 .5 .4 .5 2.3 .5-.2 .5 1.5 .5 .2 .5 .5 .5 1 .5-.3 .5 .4 .5-1 .5 .6 .5 1.1 .5-.1 .5-.5 .5 .2 .5 .1 .5-.1 .5 0 .5 0 .5 .1 .5 .4 .5-.8 .5-.8 .5 1 .5 .4 .5-.1 .5-.8 .5-.1 .5 .7 .5-1.9 .5 .5 .5-.3 .5-.9 .5 .1 .5-.7 .5-1.1 .5-.6 .5-.2 .5-2.4 .5-2 .5-1.6 .5-3.3 .5-3.3 .5-4.2 .5-5.2 .5-5.2 .5-6.8 .5-6.3 .5-7.6 .5-6.4 .5-7.5 .5-6.6 .5-6.1 .5-4.2 .5-3.4 .5-1 .5 2.9 .5 3 .5 5.1 .5 5.3 .5 9.1 .5 6.3 .5 7.4 .5 6.8 .5 7.1 .5 5.6 .5 3.9 .5 5.5 .5 4.4 .5 3.2 .5 1.8 .5 2.8 .5 1.4 .5 .3 .5 2.4 .5 .2 .5 .6 .5 .9 .5-.6 .5 1.4 .5 .4 .5-.4 .5 .9 .5 .1 .5-1.1 .5 .4 .5 .4 .5 .1 .5-.6 .5 .1 .5 .3 .5 .1 .5-.3 .5 .2 .5-.4 .5-.3 .5-.7 .5-.7 .5 .9 .5-1.6 .5-.3 .5-.1 .5-1 .5 .1 .5-.9 .5-.1 .5 .4 .5-.9 .5-.2 .5 .4 .5-.3 .5 .3 .5-.5 .5 .6 .5 1.1 .5-.1 .5 .6 .5 1.5 .5-.4 .5 1.1 .5 .2 .5 .4 .5 .5 .5 .3 .5 0 .5 1.1 .5-.1 .5 .8 .5-.3 .5-.1 .5-.6 .5 1 .5 .4 .5-.3 .5 .2 .5-.8 .5 1 .5-.2 .5-.5 .5 1.2 .5-.4 .5-.2 .5 0 .5-.1 .5 .1 .5 .3 .5-.3 .5 .2 .5 .4 .5-.5 .5 .2 .5 .1 .5-.5 .5 .3 .5-.2 .5-.3 .5-.1 .5 1.5 .5-1.3 .5 .4 .5-.5 .5-.1 .5-.5 .5 .8 .5 .8 .5-.6 .5-.4 .5 .7 .5-.1 .5-.1 .5-.5 .5 .5 .5 .6 .5-.5 .5 .7 .5-.5 .5-.2 .5 .1 .5 .6 .5-1.2 .5 .4 .5-.2 .5 .5 .5 .2 .5-.3 .5-.4 .5 .5 .5-.9 .5 1.1 .5-.6 .5 .8 .5-.9 .5 .9 .5-.2 .5-.3 .5-1.1 .5 .9 .5 .3 .5-.6 .5 .8 .5-.7 .5 .1 .5 1.2 .5-.9 .5-.3 .5 .2 .5 .6 .5-.9 .5 .4 .5 .3 .5-.2 .5 .3 .5-.7 .5 1 .5-.2 .5 .3 .5-.1 .5 0 .5-.6 .5 .4 .5-.6 .5 .5 .5-.6 .5 .8 .5 .1 .5-.8 .5 .1 .5-.1 .5-.5 .5 .7 .5-.7 .5 .3 .5 0 .5 .5 .5 .2 .5-.1 .5-.5 .5 .5 .5 .4 .5-1.2 .5 1.3 .5-.4 .5-.4 .5 0 .5-.2 .5 .3 .5 1 .5-1.8 .5 .7 .5-.1 .5-.5 .5 .5 .5-.1 .5 .8 .5-.8 .5 .5 .5-.6 .5-.1 .5 .5 .5-.6 .5 .3 .5 0 .5-.2 .5 .2 .5 .8 .5-1.1 .5-.2 .5 1 .5-1 .5-.1 .5 .3 .5 .5 .5 .2 .5-.5 .5 .4 .5-.7 .5 .9 .5-.2 .5-.2 .5 0 .5 .6 .5-.5 .5-.2 .5 .6 .5-.9 .5 .1 .5 .7 .5-.7 .5-.3 .5 0 .5 .5 .5 0 .5-.4 .5 .5 .5-.7 .5-.3 .5 .8 .5-.9 .5 .7 .5 .4 .5-.9 .5-.2 .5 1 .5 .1 .5 .6 .5-.9 .5 .1 .5-.4 .5 .9 .5 .2 .5-.6 .5 .3 .5 .5 .5-.5 .5 .7 .5-.1 .5-.5 .5-.1 .5 0 .5-.1 .5 1.2 .5-.9 .5-.1 .5-.2 .5 .3 .5 .6 .5-.2 .5-1.1 .5 1.1 .5 .1 .5 0 .5 .3 .5-.4 .5 .8 .5-1.3 .5 .7 .5-.8 .5 .1 .5 .9 .5-.4 .5-.7 .5 .4 .5-.9 .5 .3 .5 0 .5-.5 .5 .9 .5-.9 .5 .5 .5 .5 .5-.4 .5-.6 .5 0 .5 .3 .5-.8 .5 .6 .5-.1 .5 .2 .5-.6 .5-.2 .5-.9 .5 .6 .5 0 .5-.5 .5-.4 .5-.4 .5-.3 .5 0 .5-.9 .5 .6 .5-.6 .5 .2 .5-.5 .5 0 .5-.5 .5 1.4 .5-.3 .5-.2 .5-.3 .5 1.4 .5-.3 .5 0 .5 .1 .5 .5 .5 .8 .5-.6 .5 .5 .5 .3 .5 .4 .5 .4 .5-.3 .5 .3 .5 .1 .5-.3 .5 .3 .5-.4 .5 .6 .5 0 .5 .1 .5-.3 .5 1.2 .5-.5 .5-.5 .5-.2 .5 .3 .5-.1 .5 .1 .5 .2 .5-.6 .5 .1 .5 .3 .5-.8 .5 1.7 .5-.6 .5-.2 .5 .2 .5-.3 .5-.1 .5 .2 .5-.2 .5 .4 .5-.4 .5 .4 .5 .2 .5-.4 .5-.2 .5-.6 .5 .3 .5-.2 .5 .4 .5 .4 .5-1 .5 .8 .5-.8 .5 .6 .5 .5 .5-.5 .5 .8 .5-.4 .5-.1 .5 .1 .5 0 .5 .3 .5-.6 .5 .5 .5-.2 .5 .4 .5-.3 .5 .4 .5 .8 .5 0 .5-.9 .5 .2 .5 .3 .5-.5 .5 .3 .5-.3 .5 .6 .5-.7 .5 1.2 .5-1.3 .5 .4 .5 .6 .5-.5 .5-1.1 .5 1.2 .5-.3 .5 .1 .5-.9 .5 1.6 .5-1.7 .5 1.1 .5-1 .5-.1 .5 .7 .5-.7 .5 1 .5-.3 .5-.6 .5-.5 .5-.1 .5 .2 .5-.3 .5-.5 .5 0 .5-.1 .5 .1 .5-.9 .5 0 .5 .2 .5-.3 .5-1.5 .5 1.2 .5-.6 .5 .6 .5-.7 .5-.3 .5 1.7 .5-1.5 .5-.1 .5 .8 .5 .4 .5 .1 .5 .1 .5-.3 .5 1.5 .5-1.3 .5 1 .5-.5 .5 .9 .5 .1 .5 .3 .5-.5 .5 .2 .5-.4 .5 .6 .5 0 .5 .3 .5-.2 .5 .6 .5-.1 .5 .3 .5 .1 .5-.6 .5 .6 .5-.1 .5-.9 .5 1.2 .5-1 .5 .4 .5 .6 .5-.8 .5 .6 .5-.7 .5 0 .5 .7 .5-.6 .5 .5 .5 .2 .5-.4 .5 0 .5-.5 .5-.1 .5 .4 .5 .1 .5-.8 .5 .3 .5 .2 .5 .4 .5-.4 .5-.4 .5 .4 .5-.3 .5 .1 .5 .4 .5 .8 .5 0 .5-1.4 .5 1.5 .5-1.6 .5 .5 .5 0 .5 .8 .5-.7 .5 .6 .5-.6 .5 .2 .5-.2 .5 .2 .5-.1 .5 1.2 .5-.3 .5-.1 .5 .6 .5-1.1 .5-.2 .5 0 .5-.2 .5 .5 .5 .3 .5-.6 .5 .6 .5-.1 .5-.3 .5-.3 .5 .6 .5-.2 .5-.3 .5-.3 .5 1.3 .5-.4 .5-.6 .5-.1 .5 .5 .5-.5 .5 .3 .5-1.1 .5 1 .5 .3 .5 .1 .5-.3 .5 .1 .5-.1 .5-.1 .5-.2 .5-.6 .5 .3 .5 .6 .5-.9 .5 1.2 .5-.1 .5-.9 .5 .8 .5-.6 .5 .7 .5-1 .5 .6 .5-1.3 .5-.1 .5-.7 .5 .7 .5-.9 .5 .8 .5-1.5 .5 .7 .5-.3 .5-.7 .5 .2 .5 .8 .5-1 .5 .6 .5 .1 .5 0 .5-.7 .5 .8 .5 .7 .5 .6 .5-.5 .5-.2 .5 .3 .5 1 .5-.2 .5 .8 .5 .1 .5-.2 .5-.4 .5 .7 .5 .2 .5-.1 .5 .3 .5-.5 .5 .5 .5 0 .5-.3 .5 0 .5-.3 .5 .1 .5-.2 .5 .7 .5-.5 .5-.6 .5 .3 .5 .5 .5 0 .5-.2 .5-1.2 .5 .7 .5-1 .5 1.2 .5-.1 .5-1.5 .5 .4 .5-.8 .5 .5 .5-.5 .5-.3 .5 .6 .5-.4 .5 .2 .5-.3 .5-.8 .5 .1 .5 .6 .5 0 .5-.7 .5 1.1 .5-.6 .5 .5 .5-.5 .5 .4 .5-.7 .5 .3 .5-.5 .5 .9 .5-.5 .5 .8 .5-.2 .5 0 .5 .4 .5 .1 .5-.1 .5 1.3 .5-1 .5 1.1 .5 .2 .5-.1 .5-.5 .5 0 .5-.1 .5 0 .5 .1 .5 .3 .5 .4 .5 .3 .5-.8 .5 .9 .5-.8 .5 1.5 .5-.5 .5 .3 .5-.7 .5-.5 .5-.3 .5 .7 .5-.8 .5 .9 .5 0 .5-.7 .5 .8 .5-.4 .5 0 .5 .1 .5-.7 .5 .3 .5-.4 .5 .6 .5-.6 .5 .8 .5-.2 .5-.7 .5 .2 .5 0 .5 .6 .5-.4 .5-.2 .5 .9 .5-1 .5 0 .5-.1 .5 .2 .5-.8 .5 1.3 .5-1.4 .5-.3 .5 1.3 .5 .2 .5-.8 .5-.5 .5-1 .5 1.9 .5-1.2 .5 .8 .5-.7 .5 1 .5-1.2 .5 .8 .5-.7 .5 .1 .5-.5 .5 1.8 .5-2.8 .5 2.4 .5-1.6 .5 .5 .5 1.5 .5-2.5 .5 2.5 .5-1.6 .5 1.5 .5 0 .5 .2 .5-1.6 .5 .8 .5-1.3 .5 1 .5-.7 .5 1.6 .5 2.8 .5-2.6 .5-3 .5 1.4 .5-.2 .5-2 .5 .5 .5 2.4 .5-3.1 .5 5.9 .5-6.6 .5 2.6 .5 3.3 .5-2.2 .5 .9 .5-5.5 .5 3 .5-2.1 .5 1.4 .5-10.5 .5-8.3 .5-2.5 .5-1.4 .5 25.5" stroke="#32cd32"/>
<path d="M20,288.5l.5 1.8 .5 1.1 .5 .4 .5 1.5 .5 1 .5-.3 .5-.4 .5 .7 .5-.1 .5 .4 .5-.6 .5-.1 .5 .1 .5 .6 .5-.9 .5-.1 .5 .7 .5 .3 .5 .1 .5-.3 .5-.2 .5 .7 .5-.3 .5-.7 .5 .7 .5-.4 .5-.2 .5 .5 .5 .3 .5-1 .5 .5 .5 .2 .5 .6 .5-1.1 .5 .5 .5-.2 .5 .7 .5-.2 .5-.1 .5-.6 .5 .9 .5-.6 .5-.5 .5-.2 .5 .6 .5-.2 .5 .4 .5 0 .5 .1 .5 .3 .5-1 .5 .1 .5-.4 .5 .2 .5 .1 .5-.4 .5 1.3 .5-1 .5 .5 .5-.3 .5-.2 .5 .9 .5-.6 .5 .2 .5 .2 .5-.4 .5 .5 .5-.6 .5 .4 .5-.3 .5 .4 .5-.4 .5 .3 .5-.2 .5 .4 .5-.6 .5 .5 .5-.5 .5 .1 .5 .1 .5-.4 .5 .5 .5-.9 .5 .9 .5-.1 .5 .8 .5-1.4 .5-.2 .5 .4 .5-.2 .5 0 .5-.5 .5 .4 .5 0 .5-.4 .5-.6 .5-.6 .5-.2 .5-.6 .5-1.8 .5-2.4 .5-2.4 .5-3.9 .5-3.8 .5-6.5 .5-6.9 .5-6.4 .5-9.3 .5-8.3 .5-10 .5-9.4 .5-7.2 .5-6.4 .5-3.8 .5-1.8 .5 1.5 .5 4 .5 5.9 .5 8.7 .5 8.6 .5 9.7 .5 8.5 .5 9 .5 7.7 .5 6 .5 5.7 .5 5.1 .5 2 .5 3.4 .5 1.4 .5 1 .5 1.4 .5 .5 .5 .4 .5 .5 .5-.4 .5 1.2 .5-.3 .5 1.2 .5 .1 .5 0 .5 .3 .5-1.1 .5 1 .5 .3 .5-2 .5 1.6 .5 .2 .5 0 .5-.5 .5 0 .5 .4 .5-.2 .5-.6 .5 .7 .5 .4 .5 .1 .5-.3 .5 .1 .5-.4 .5 .6 .5 0 .5-.4 .5 .3 .5-.4 .5-.5 .5 .6 .5-.4 .5-1.1 .5 0 .5-1.2 .5-.4 .5-1.4 .5-2.2 .5-.9 .5-2.6 .5-1.7 .5-1.8 .5-2.2 .5-2.1 .5-.9 .5 0 .5 .4 .5 .2 .5 2.1 .5 1.8 .5 1.5 .5 2.1 .5 1.7 .5 2.6 .5 0 .5 2.1 .5 1 .5 .5 .5 .8 .5 .4 .5 .8 .5 .1 .5-.2 .5 .5 .5-.8 .5 1.1 .5-.4 .5-.5 .5-.3 .5 .9 .5-.5 .5 1 .5-.5 .5-1 .5 .4 .5-.3 .5 .4 .5-.4 .5-.1 .5 0 .5 .6 .5-.8 .5 .3 .5-.9 .5 .1 .5-.6 .5-.1 .5-.5 .5-.2 .5-1.4 .5 .1 .5-.5 .5-2 .5-1 .5-1.5 .5-2.3 .5-2.3 .5-3.3 .5-3.9 .5-4 .5-4.1 .5-6.2 .5-5.7 .5-6.5 .5-6.8 .5-6.7 .5-7.2 .5-4.5 .5-5.8 .5-3.5 .5-3.1 .5-.4 .5 1.5 .5 2.8 .5 4.7 .5 4.3 .5 6.4 .5 7.2 .5 5.7 .5 7.7 .5 6.1 .5 5.4 .5 5.3 .5 5.1 .5 3.8 .5 4 .5 2.5 .5 2.8 .5 2.2 .5 1.6 .5 1.6 .5 .7 .5 1.3 .5-.2 .5 1.2 .5 0 .5-.5 .5 2 .5-1.1 .5 .6 .5-.2 .5 .1 .5-.1 .5 .7 .5-1.1 .5 .2 .5 .2 .5-.2 .5-1.1 .5 .7 .5-.2 .5-.2 .5-1.1 .5 .4 .5-1 .5 0 .5-.4 .5-1.3 .5-.1 .5-.3 .5-.8 .5 1 .5-1 .5 .4 .5-.3 .5-.3 .5 1.1 .5 .1 .5-.2 .5 .7 .5 .9 .5-.2 .5 1.2 .5 .2 .5 1 .5 .7 .5-.6 .5 1.2 .5 .1 .5-.2 .5 1.1 .5-.6 .5 .7 .5 .1 .5-.8 .5 1.1 .5 .1 .5 .2 .5-.5 .5 .2 .5 .5 .5 0 .5 0 .5 .2 .5-.8 .5 .2 .5 0 .5 .3 .5 0 .5 .1 .5-.3 .5-.1 .5-.4 .5 .4 .5-.5 .5 0 .5 .2 .5 .3 .5 .4 .5-1 .5 0 .5 1.1 .5 .3 .5-1 .5 .4 .5 0 .5-.1 .5-.5 .5 .5 .5-.3 .5-.1 .5 .7 .5-.6 .5 .1 .5-.1 .5 .5 .5-.4 .5 .2 .5 .1 .5 .1 .5 0 .5 .1 .5 0 .5-.4 .5 .9 .5-.5 .5 .1 .5-.3 .5 .3 .5 0 .5 .3 .5-.3 .5 .3 .5-.7 .5 1.2 .5 .2 .5-.8 .5-.1 .5 .9 .5-.4 .5-1 .5 1.6 .5-1.1 .5 .9 .5 .5 .5-.7 .5-.2 .5-.2 .5-.3 .5 .7 .5-.3 .5-.3 .5 .7 .5-.3 .5-.2 .5 .5 .5-.9 .5 .7 .5-.4 .5 .2 .5-.2 .5 .6 .5 .2 .5-1 .5 .8 .5-.1 .5-.2 .5 .5 .5 .2 .5-1.4 .5 .8 .5 .1 .5-.2 .5-.5 .5 .4 .5-.5 .5 .6 .5 .3 .5 .4 .5-.9 .5 .4 .5-.1 .5-.2 .5 .6 .5-.7 .5 .4 .5 .4 .5-.3 .5-.8 .5 .5 .5 .4 .5-.2 .5-.2 .5 .1 .5-.1 .5 .8 .5-.6 .5 .5 .5 0 .5 .3 .5 .3 .5-.9 .5-.3 .5 .5 .5 .6 .5-.4 .5-.3 .5 .7 .5-.6 .5-.1 .5 .8 .5-1.1 .5 .2 .5 .4 .5-.5 .5 0 .5 0 .5-.3 .5-.1 .5 .8 .5-.6 .5-.8 .5 .7 .5-.4 .5-.1 .5 1 .5-.4 .5-.2 .5-.2 .5-.5 .5 .2 .5 .3 .5 0 .5-1 .5 .5 .5 0 .5 .3 .5-.6 .5 .3 .5-.7 .5 .2 .5 .5 .5 .1 .5-.1 .5-.2 .5-.5 .5 .3 .5 .2 .5 0 .5-.1 .5 .5 .5-.5 .5 .2 .5 .2 .5 .2 .5 .2 .5-.9 .5 .9 .5-.2 .5 .2 .5 .1 .5-.6 .5 .4 .5 .8 .5 .2 .5-1.9 .5 .1 .5 1.7 .5-.9 .5 .1 .5 .5 .5 0 .5-.7 .5 .8 .5-.1 .5-1 .5 .6 .5 .5 .5 .2 .5-.7 .5 .4 .5-.1 .5-.4 .5 .6 .5-.3 .5 .1 .5-.6 .5 .1 .5 .5 .5-.3 .5 .7 .5-.2 .5-.2 .5-.2 .5 0 .5-.3 .5 0 .5 .4 .5 .1 .5-.2 .5-1.2 .5-.4 .5 .2 .5 .1 .5-.4 .5-.3 .5 .3 .5-1.3 .5 .4 .5-.7 .5-.3 .5 .1 .5-.9 .5 .2 .5-.6 .5-.3 .5 .8 .5-.6 .5 .7 .5-.9 .5 .3 .5 .2 .5 .5 .5-.7 .5 .7 .5-.2 .5 .4 .5 .8 .5 .2 .5 .8 .5 .3 .5-.3 .5 0 .5 .7 .5-.3 .5 .5 .5-.4 .5-.6 .5 1.1 .5-.4 .5 .6 .5 0 .5 .1 .5 0 .5 .1 .5-.3 .5 .5 .5-.3 .5-.5 .5 .4 .5 .6 .5-.3 .5 .1 .5-.1 .5-.5 .5 1.1 .5-.6 .5 .5 .5-1.3 .5-.1 .5 .6 .5 .6 .5 .1 .5-.2 .5 0 .5-.3 .5-.3 .5 .3 .5-.1 .5 .2 .5 .1 .5-.6 .5 .1 .5 .9 .5-1.1 .5 .6 .5-.5 .5 .5 .5 .1 .5-.5 .5 .4 .5 .1 .5-.5 .5 1.1 .5-.6 .5 .7 .5-1.2 .5 0 .5 .4 .5 .6 .5-.2 .5 0 .5-.4 .5 .3 .5 .3 .5 .2 .5-.4 .5-.1 .5 .2 .5 .7 .5-.3 .5-.3 .5-.5 .5 .5 .5-.2 .5 0 .5-1.4 .5 2.2 .5-1 .5 .4 .5-.1 .5 .2 .5-.7 .5 .3 .5-.2 .5 .8 .5-.9 .5-.3 .5-.1 .5 .8 .5-.3 .5-1.2 .5 .4 .5 0 .5-.5 .5 .4 .5-.3 .5 .4 .5-1.2 .5 .2 .5 .6 .5-1 .5-.3 .5 .2 .5 0 .5-.9 .5 .4 .5 .3 .5-.9 .5-.1 .5 .6 .5-.1 .5 .2 .5-.1 .5 0 .5 .2 .5 .3 .5-.6 .5 1.2 .5 .8 .5-.9 .5-.1 .5 1.3 .5-.2 .5 .1 .5-.5 .5 0 .5 1 .5 .2 .5-.6 .5 .6 .5 .1 .5-.2 .5-.4 .5 .2 .5-.2 .5-.4 .5 0 .5 1 .5 .2 .5-.4 .5 .2 .5 .8 .5-.6 .5 .4 .5 .2 .5-1 .5 .8 .5-.9 .5 .9 .5-.6 .5 .8 .5-.7 .5 .2 .5 .7 .5-.6 .5 .1 .5 .6 .5-.1 .5-.4 .5 .5 .5 .1 .5-.4 .5 .3 .5 0 .5 0 .5 .2 .5 .3 .5-.7 .5 .7 .5-.4 .5-.5 .5 .1 .5 .4 .5 0 .5 .3 .5-.9 .5-.1 .5-.5 .5 0 .5 .1 .5 .5 .5-.6 .5 .5 .5-.6 .5 0 .5 .7 .5-.3 .5-.4 .5 .6 .5-1 .5 .5 .5-.6 .5 .9 .5-.2 .5-.4 .5 0 .5 .6 .5-.5 .5-.3 .5-.4 .5 1.2 .5 .1 .5-.2 .5-.1 .5-.2 .5-.2 .5-.2 .5 .6 .5-.3 .5 .3 .5-.2 .5 .1 .5 .3 .5-.2 .5 1 .5-.5 .5-.7 .5 .2 .5 .5 .5 .4 .5-1.5 .5 .6 .5-.7 .5 .8 .5-.3 .5 .1 .5 .2 .5-.9 .5 0 .5 .2 .5-.5 .5-.2 .5-.6 .5-.5 .5 .5 .5 .5 .5-.2 .5 .2 .5-.8 .5-.5 .5-.6 .5 .8 .5-.3 .5 .3 .5-.2 .5 .3 .5 1.1 .5-.3 .5 .4 .5 .5 .5 .6 .5-.7 .5 1.4 .5-.6 .5 0 .5 .4 .5-.8 .5 .6 .5 .2 .5-.1 .5-.2 .5 .5 .5-.2 .5-.2 .5-.1 .5 .1 .5-.2 .5 .7 .5-.3 .5-.7 .5 .2 .5-.4 .5 .6 .5 0 .5-.4 .5 0 .5 .1 .5-.3 .5 .4 .5-.7 .5 .3 .5 .3 .5-1.4 .5 0 .5-.3 .5 .2 .5 0 .5 0 .5-.9 .5 .5 .5-.3 .5 .5 .5-1 .5 .4 .5 .3 .5-.4 .5-.1 .5-.7 .5 0 .5-.3 .5 1.3 .5-.5 .5 .1 .5 .1 .5 .5 .5-.7 .5 .4 .5-.5 .5 1.1 .5-.6 .5-.2 .5 .4 .5-.6 .5 .6 .5 .4 .5 .1 .5 .2 .5 0 .5-.1 .5 .8 .5-.8 .5 .3 .5 .1 .5 .5 .5-.1 .5-.2 .5 .1 .5 .6 .5 .2 .5-.6 .5-.2 .5 .4 .5 .6 .5-.9 .5 .4 .5-.6 .5 .4 .5 .4 .5-.2 .5-.4 .5 .2 .5 0 .5 .3 .5-.6 .5 .4 .5 .5 .5 .1 .5-.4 .5 .4 .5-.3 .5 .1 .5 .4 .5-1 .5 .6 .5-1.1 .5 .5 .5 .3 .5-.1 .5 .6 .5-.6 .5 .7 .5-1.2 .5 .3 .5-.3 .5-.9 .5 .8 .5 .2 .5-.5 .5-.1 .5-.1 .5-.2 .5 .2 .5-.7 .5 1 .5-1.9 .5 .3 .5 1.1 .5 .5 .5-.6 .5-1 .5 .9 .5-1 .5 1.5 .5 1.1 .5-1.2 .5-1.3 .5 1.5 .5 .8 .5-2.4 .5 1.9 .5-1.3 .5 .9 .5 .4 .5-1.9 .5-.5 .5 4.5 .5-.8 .5-.2 .5-1.3 .5-.1 .5 .4 .5-1.3 .5 .4 .5 .8 .5 .1 .5-1.1 .5-.5 .5 3.2 .5-2.9 .5-.8 .5 1.4 .5-1.1 .5-2.3 .5 .8 .5-2.6 .5 1.7 .5 5.2 .5-2.6 .5-17.8 .5-1.5 .5-2.4 .5-2.9 .5 28" stroke="#32cd32"/>
<path d="M20,297.8l.5 1.9 .5 .8 .5 1 .5 1.2 .5-.3 .5 .2 .5 .3 .5 0 .5 .9 .5 .5 .5 .2 .5-1.5 .5 .6 .5 .6 .5 0 .5-.2 .5 .5 .5 0 .5-.5 .5-.6 .5 .7 .5 .4 .5-.1 .5 .2 .5-.2 .5-1 .5 .3 .5 1.2 .5-.3 .5 .1 .5 0 .5-.6 .5 .5 .5-.7 .5 .5 .5-.2 .5-.6 .5-.2 .5 .2 .5 .6 .5-.1 .5-.2 .5 0 .5 0 .5 .6 .5-.8 .5-.3 .5 .2 .5-.3 .5 .6 .5-.2 .5-.1 .5 .2 .5-.9 .5 .2 .5 .1 .5-.3 .5 .4 .5-.6 .5 0 .5 0 .5 .8 .5-.1 .5 0 .5-.3 .5-.1 .5-.4 .5 0 .5 .1 .5 .3 .5-1.2 .5 1.1 .5-.1 .5-.4 .5 .7 .5-.5 .5-.3 .5 0 .5 .2 .5-.7 .5 .9 .5-1.4 .5 .4 .5 .3 .5-.3 .5-.5 .5 1.1 .5-1.5 .5 1.3 .5-.5 .5 .1 .5 0 .5-.8 .5 .1 .5-1 .5-.2 .5 .5 .5 0 .5-1.7 .5-1.6 .5-1.2 .5-2.5 .5-2.8 .5-3.8 .5-5 .5-5.8 .5-7.3 .5-6.9 .5-7.9 .5-8.2 .5-7.8 .5-7.8 .5-7 .5-4.7 .5-3.6 .5-1.5 .5 1.6 .5 3.1 .5 5.6 .5 7.1 .5 6.5 .5 8.9 .5 8.1 .5 8.2 .5 7.7 .5 6.8 .5 4.8 .5 4.4 .5 4.8 .5 2.4 .5 1.9 .5 1.8 .5 .3 .5 1.6 .5 .6 .5 .6 .5 .1 .5 1.2 .5 1.2 .5-1.3 .5 1.3 .5-.3 .5 .2 .5-.4 .5 1.1 .5-.9 .5-.2 .5-.1 .5 .7 .5 0 .5-1.2 .5 .2 .5 .3 .5-.9 .5 .7 .5 0 .5 .6 .5 .2 .5-.6 .5 .4 .5-1.5 .5 .8 .5-.1 .5 .4 .5-.4 .5 .5 .5-.9 .5-.2 .5-.9 .5 .7 .5-1.7 .5 .4 .5-1.6 .5-.5 .5-1.9 .5-2.6 .5-1.5 .5-2.1 .5-2.1 .5-1.5 .5-1.5 .5-1.4 .5-.4 .5 1 .5 .7 .5 1.5 .5 2.8 .5 1.3 .5 1.8 .5 2.2 .5 1.9 .5 1.5 .5 1 .5 .4 .5 1.4 .5 1.4 .5-.3 .5 .3 .5-.1 .5 .3 .5 .3 .5-.2 .5 .7 .5-.4 .5-.3 .5 0 .5 .4 .5-1 .5 1.7 .5-.4 .5-.3 .5-.6 .5-.1 .5 .1 .5 .8 .5-.6 .5 0 .5 0 .5-1.1 .5-.4 .5 .4 .5-.6 .5 .5 .5-.5 .5-.2 .5-.6 .5-.7 .5 .1 .5-1.3 .5-.4 .5-1.8 .5-1.1 .5-1.4 .5-1.3 .5-2.1 .5-3.4 .5-3 .5-4.1 .5-3.7 .5-6.1 .5-4.7 .5-5.4 .5-5.6 .5-6.8 .5-6.2 .5-5.6 .5-5.6 .5-4.8 .5-3.6 .5-2 .5-.2 .5 .6 .5 2.1 .5 3.6 .5 4.1 .5 6 .5 4.7 .5 6.2 .5 6.3 .5 5.1 .5 6.5 .5 5.8 .5 4.1 .5 4.7 .5 3.1 .5 3.5 .5 2.5 .5 2.5 .5 1.4 .5 3 .5 1.3 .5 .8 .5 .9 .5 .7 .5 .7 .5 .6 .5 .5 .5-.3 .5 .3 .5 .6 .5-.2 .5 .3 .5-.1 .5 .1 .5-.6 .5-.1 .5-.1 .5-.2 .5 .2 .5-.7 .5-.1 .5-.5 .5-.3 .5 .2 .5-1.4 .5-.7 .5-.4 .5 0 .5 .2 .5-.9 .5 .3 .5-.2 .5-.3 .5 .1 .5 .3 .5 .8 .5 .7 .5 .1 .5 1.4 .5-.2 .5 .4 .5 .3 .5 1 .5 .6 .5 .7 .5 .1 .5 .3 .5 .3 .5 .8 .5-.5 .5 .1 .5 .2 .5 .4 .5 .9 .5-.2 .5 .3 .5 0 .5-.3 .5 .7 .5-1 .5 .5 .5-.1 .5-.2 .5 .2 .5 .3 .5 0 .5 .4 .5-1 .5 .2 .5 .5 .5-.3 .5 .3 .5-1 .5 .9 .5-.3 .5 0 .5 .3 .5-.4 .5-.5 .5 .4 .5-.3 .5 1.3 .5-1.6 .5 .9 .5-.7 .5 .7 .5-.5 .5-.4 .5 .5 .5 .5 .5 .2 .5 .1 .5 .1 .5-.8 .5 .1 .5-.2 .5-.1 .5-.3 .5 .1 .5 .1 .5-.4 .5 .1 .5-.1 .5 .4 .5-.1 .5 .2 .5 0 .5 .1 .5-.7 .5 .4 .5 .2 .5 .8 .5-1.3 .5 .6 .5-.6 .5 1.2 .5-.6 .5 .2 .5 .1 .5 0 .5 .3 .5 .2 .5 .1 .5-1 .5 .1 .5 .6 .5 0 .5 .2 .5-.6 .5 .4 .5-.2 .5 .4 .5-.3 .5 .9 .5-.7 .5-.2 .5 .2 .5 .5 .5-.8 .5-.3 .5 .6 .5-.1 .5-.3 .5 .4 .5 .1 .5-.4 .5 .9 .5-1.2 .5 0 .5-.6 .5 1.3 .5-.4 .5 0 .5-.8 .5 1.1 .5 .1 .5-1 .5-.7 .5 .9 .5-.7 .5 .3 .5 .6 .5-.7 .5 .5 .5-.1 .5 .1 .5-.1 .5-.2 .5-.1 .5 0 .5-.6 .5 1 .5-.6 .5 .1 .5-.3 .5 .5 .5-.3 .5 .5 .5-.4 .5 .5 .5-.2 .5 .2 .5-.6 .5 .6 .5-.6 .5 .5 .5-.7 .5 .7 .5 .1 .5 .3 .5-.3 .5 .3 .5 0 .5-.6 .5 .2 .5-.9 .5 1.4 .5 .3 .5-1.1 .5 .5 .5 0 .5-.3 .5 .1 .5 .7 .5-.5 .5 .3 .5-.3 .5-.1 .5 .9 .5-.9 .5 .5 .5 .1 .5-.1 .5 1.1 .5-1.3 .5 .3 .5-.4 .5 .5 .5-1 .5 .5 .5-.1 .5 .7 .5-.4 .5 .6 .5-1.6 .5 1.2 .5-.5 .5 .3 .5 .4 .5-.3 .5 .1 .5-.5 .5 0 .5 .4 .5-.5 .5 .3 .5 .2 .5 0 .5-.5 .5 .3 .5-.2 .5-.1 .5 .6 .5-.2 .5 .3 .5 .4 .5-.7 .5 .6 .5-.5 .5-.2 .5 .5 .5-.3 .5-.1 .5 .5 .5-.5 .5 .2 .5 .2 .5-.6 .5 .2 .5-.1 .5-.4 .5 .4 .5-.4 .5-.2 .5 .6 .5-.2 .5 .1 .5-.1 .5 .4 .5 .1 .5-.3 .5-.3 .5 .1 .5-1 .5 .8 .5-.1 .5-.2 .5-.5 .5 .4 .5 .1 .5-1.2 .5 .4 .5-.7 .5-.5 .5 .4 .5 0 .5-.3 .5-.3 .5 0 .5-.1 .5-.9 .5-.2 .5 .5 .5 .3 .5 .1 .5-.7 .5 .2 .5 .9 .5 0 .5-.1 .5 .1 .5 .2 .5-.1 .5 1.6 .5-1.1 .5 0 .5 .5 .5 .6 .5-.3 .5-.4 .5 1.1 .5-.3 .5 .5 .5-.5 .5 .5 .5 .5 .5-.2 .5 .2 .5-.5 .5 .4 .5-.1 .5-.3 .5 .7 .5-.2 .5-.7 .5 .1 .5 .9 .5-.2 .5-.4 .5 .5 .5-.4 .5 0 .5 .3 .5 .1 .5 .5 .5-.2 .5-.5 .5-.4 .5 .4 .5-.1 .5 .6 .5-.3 .5-.7 .5-.1 .5 .7 .5 .2 .5-.6 .5-.5 .5 .3 .5 .2 .5-.3 .5-.2 .5 0 .5 .9 .5-.9 .5 .7 .5-.6 .5-.3 .5 .3 .5 .7 .5 .4 .5-.8 .5-.6 .5 1.7 .5-.5 .5 .2 .5-1 .5 .9 .5-.7 .5 .9 .5-.6 .5-.2 .5-.1 .5 .8 .5-.8 .5 0 .5 .3 .5 0 .5-.3 .5 1 .5-.3 .5 0 .5-1.2 .5 0 .5 .1 .5 .5 .5 0 .5 .4 .5-.5 .5 .9 .5-1 .5 .6 .5-.9 .5-.3 .5 .6 .5 0 .5-.2 .5 .1 .5 0 .5-.3 .5-.3 .5 .4 .5-.8 .5 0 .5-.2 .5-.8 .5 .5 .5-.5 .5 0 .5-.2 .5 .1 .5 .4 .5-.3 .5-.4 .5 .4 .5-1.1 .5 1 .5 .3 .5-.9 .5 .8 .5-.5 .5 .4 .5 .4 .5 .2 .5 .1 .5-.3 .5 .6 .5 .7 .5-.1 .5 .3 .5-.8 .5 .6 .5 1.1 .5 0 .5-.5 .5-.5 .5 .5 .5 .6 .5-.5 .5 .3 .5-.8 .5 .6 .5 .1 .5-.4 .5-.1 .5 .8 .5-.6 .5 0 .5-.1 .5 .2 .5-.5 .5 .3 .5 .9 .5-.8 .5 .6 .5-.2 .5-.1 .5 .3 .5 .1 .5 .1 .5-.5 .5 .3 .5 .3 .5-.4 .5 1.1 .5-1.5 .5 .3 .5 0 .5 .7 .5-.4 .5 .6 .5-.5 .5-.1 .5 0 .5 .3 .5 .5 .5-.8 .5 .3 .5-.4 .5 0 .5 .4 .5 0 .5-.7 .5 .1 .5 .8 .5-1.2 .5 .7 .5-.6 .5 .6 .5 .4 .5-1 .5 .4 .5-.7 .5 .6 .5 0 .5-.2 .5 .3 .5-.2 .5 0 .5-.2 .5-1 .5 .5 .5 .6 .5 .1 .5-.1 .5 .5 .5-.6 .5-.1 .5 .1 .5 .6 .5-.1 .5 .6 .5-.5 .5 .2 .5-.8 .5 .8 .5-.7 .5 .3 .5-.1 .5 .1 .5-.1 .5-.1 .5-.2 .5 .3 .5 .5 .5-.2 .5-.6 .5 .9 .5-.7 .5-.6 .5 .1 .5-.4 .5 1 .5-.4 .5-.3 .5 .1 .5-.2 .5 .4 .5-1.2 .5 .1 .5-.4 .5 .4 .5-1.2 .5 .3 .5-.1 .5-.7 .5 .2 .5-.2 .5 .8 .5-.8 .5 .9 .5-.4 .5-.2 .5 .8 .5-.3 .5 .3 .5 .9 .5 .2 .5 .7 .5-.6 .5 .1 .5-.1 .5 .7 .5-.5 .5 .2 .5 .1 .5-.8 .5 .7 .5 .1 .5 .1 .5-.5 .5 .4 .5-1.2 .5 .8 .5 .3 .5 .2 .5 .3 .5-.4 .5-.3 .5 .3 .5 .3 .5-.5 .5 .2 .5 .1 .5-1 .5 .3 .5 .1 .5-.5 .5 .3 .5 .6 .5-.6 .5-.2 .5-.1 .5 .2 .5-.3 .5-.5 .5 .5 .5-.8 .5 .1 .5 .8 .5-.5 .5 .2 .5-.4 .5-.5 .5 .5 .5-.7 .5 1.6 .5-1.5 .5 .8 .5-.2 .5-.4 .5 .9 .5-.4 .5-.2 .5-.5 .5 1 .5 .9 .5-.1 .5-1 .5 1.2 .5-.3 .5 .2 .5 .3 .5-.8 .5 .3 .5 1.1 .5-.8 .5 0 .5-.3 .5 .5 .5 .5 .5 .4 .5-.4 .5-.3 .5-.1 .5 .5 .5-.3 .5-.2 .5-.6 .5 .4 .5 .2 .5 0 .5 0 .5 .5 .5-1.4 .5 1 .5-.2 .5-.7 .5 .8 .5-.2 .5-.7 .5 .8 .5 .1 .5-.3 .5 .3 .5-.5 .5 .3 .5-.1 .5 .2 .5-.7 .5 1.4 .5-1.6 .5 1.2 .5-.6 .5-.1 .5 .4 .5-.8 .5-.4 .5 1.1 .5 .4 .5 .3 .5-1 .5-1.7 .5 1.5 .5 .2 .5-.3 .5 .2 .5 .1 .5-.2 .5-.6 .5-.9 .5 .5 .5 .9 .5 .4 .5 .1 .5-.7 .5-1.2 .5 1.3 .5-1.5 .5 1.5 .5-1.5 .5 1.6 .5 0 .5-1.3 .5 1 .5 .1 .5-.9 .5 .5 .5-.3 .5-1.9 .5 1.4 .5 3.4 .5-2.3 .5-2.9 .5 2.7 .5 .2 .5-.5 .5 .7 .5 .6 .5 1.3 .5-.8 .5-1.8 .5-2.9 .5-.1 .5 3.9 .5-.7 .5-.5 .5 2.4 .5-4.3 .5-.2 .5 .8 .5 1.7 .5-2.3 .5 2 .5-.6 .5-12 .5-6.3 .5-8.6 .5 6.6 .5 23.7" stroke="#32cd32"/>
<path d="M20,307l.5 1 .5 1.4 .5 .9 .5 .2 .5 .5 .5 .1 .5 .3 .5 .3 .5 .1 .5-.3 .5-.1 .5 .7 .5-1.1 .5 1.4 .5-1 .5 .4 .5 .2 .5 .5 .5-1.2 .5-.4 .5 .4 .5-.6 .5 .3 .5-.3 .5 1 .5-.3 .5 .1 .5 .3 .5-.1 .5-.7 .5 .9 .5-.5 .5-.2 .5 .4 .5-.3 .5 .2 .5-.3 .5 .4 .5 .3 .5 0 .5 .6 .5-.5 .5 .1 .5 .6 .5-.1 .5-.1 .5-.1 .5-.3 .5-.2 .5 .7 .5 .3 .5 0 .5 .5 .5-1 .5 .1 .5-.1 .5 .1 .5-.7 .5 .2 .5 .3 .5-.3 .5 .5 .5-.8 .5 1.1 .5-1.2 .5 .5 .5-.7 .5 .9 .5 .1 .5-.1 .5-.5 .5 .8 .5-.5 .5-.3 .5 .6 .5 .1 .5 .2 .5-.4 .5-.3 .5 .2 .5-.3 .5 .6 .5-.4 .5 .1 .5 .2 .5 .2 .5 .3 .5-.4 .5-.6 .5 .9 .5 .4 .5-.8 .5-.2 .5-.4 .5 .3 .5-.3 .5 .9 .5-1.2 .5 .4 .5 .5 .5-.8 .5 0 .5 .9 .5-1.8 .5 .3 .5 .5 .5-1.3 .5-2.2 .5-1.4 .5-2.7 .5-2.2 .5-4.5 .5-4.7 .5-5.7 .5-5.2 .5-7.7 .5-5.4 .5-4.2 .5-4.5 .5-1 .5-.4 .5 2.6 .5 3.6 .5 5.2 .5 5.7 .5 6.2 .5 5 .5 5.3 .5 5.3 .5 3.7 .5 2.4 .5 1.5 .5 1.6 .5 1.4 .5 .4 .5-.2 .5 1.5 .5-.9 .5 .9 .5-.2 .5 1.3 .5 1 .5-.7 .5 0 .5 .1 .5 .2 .5 .3 .5 .1 .5-.1 .5 .5 .5-1.3 .5 .6 .5 .2 .5-.1 .5 .7 .5-.7 .5-.5 .5 .5 .5 .4 .5 .2 .5-.6 .5 .2 .5-.2 .5-.2 .5-.8 .5 1.1 .5-.8 .5 .7 .5-.2 .5-.2 .5 .5 .5-.7 .5 .4 .5-1 .5 0 .5 .8 .5-1 .5-1.4 .5 .3 .5-1.2 .5-.5 .5-2 .5-.6 .5-1.7 .5-1.8 .5-2.2 .5-1.3 .5-.8 .5-1.1 .5-1.4 .5 .3 .5 1.2 .5 1 .5 .8 .5 2.3 .5 1.2 .5 1.6 .5 1.2 .5 1.8 .5 1 .5 1.1 .5 .5 .5 .2 .5 .1 .5 .3 .5 .7 .5-.3 .5 .4 .5-.8 .5 .6 .5-.1 .5-.2 .5-.1 .5-.2 .5-.5 .5 1.3 .5-1 .5 .2 .5 .3 .5-1 .5 .2 .5 .3 .5-.7 .5-.7 .5-.5 .5-.1 .5 .3 .5 .6 .5-2 .5 0 .5 .2 .5-1.1 .5 .4 .5-.4 .5-1.2 .5-.2 .5-.4 .5-1.7 .5-.6 .5-1.6 .5-2 .5-1.7 .5-4.1 .5-4.4 .5-5.4 .5-6.7 .5-8.4 .5-8.8 .5-8.9 .5-9.7 .5-7.8 .5-6.3 .5-2.7 .5 .4 .5 4.4 .5 6.6 .5 8.7 .5 9 .5 9.5 .5 10.5 .5 7.7 .5 5.8 .5 7 .5 3.3 .5 4.1 .5 2.9 .5 2.3 .5 1.3 .5 .5 .5 .6 .5 .4 .5 .2 .5 .4 .5 .1 .5 1 .5 0 .5-.2 .5 1.2 .5-1.4 .5 1.2 .5-.1 .5-.1 .5-.6 .5 1.2 .5 0 .5-.6 .5 .8 .5-.7 .5 .3 .5-.6 .5-.1 .5-.2 .5 .1 .5-.6 .5 .4 .5-.8 .5-.7 .5-.6 .5-.7 .5 .8 .5-.3 .5-.9 .5-.5 .5-.8 .5 .4 .5-.7 .5 .3 .5-.6 .5 1.4 .5-.8 .5-.1 .5 .7 .5-.2 .5 .2 .5 .7 .5 .3 .5 1.1 .5 .5 .5 .5 .5 .1 .5 1 .5 .2 .5 .1 .5 .6 .5 0 .5 .6 .5-.8 .5 .5 .5 1.5 .5-.9 .5 0 .5 .3 .5 .2 .5 .4 .5 0 .5-.7 .5 1.1 .5 .2 .5 .1 .5-.2 .5 .2 .5-.5 .5-.1 .5 .2 .5-.5 .5 .3 .5 .1 .5 .2 .5-.1 .5 .5 .5-.2 .5-.6 .5 .2 .5-.6 .5 1.2 .5-.1 .5 0 .5-.4 .5-.3 .5 .2 .5 .4 .5 0 .5 .2 .5-.7 .5 .5 .5 .5 .5-1.7 .5 .7 .5 .1 .5 .2 .5-.5 .5 .6 .5-1 .5 .8 .5-.2 .5-.5 .5 .6 .5 .3 .5-.6 .5-.2 .5 .4 .5-.3 .5 .1 .5 .8 .5-.4 .5 .2 .5-1.3 .5 .4 .5 .1 .5 .1 .5-.1 .5 .3 .5 .4 .5 .1 .5-.6 .5 0 .5 .7 .5-1.3 .5 .8 .5-.2 .5 .1 .5-.2 .5-.2 .5 .4 .5-.6 .5 .2 .5-.9 .5 1.1 .5-.4 .5-.8 .5 1.2 .5-.8 .5 .4 .5-.1 .5-.2 .5 .5 .5-.9 .5 .5 .5 .8 .5-.6 .5-.1 .5-.7 .5 .5 .5 .1 .5-.1 .5 0 .5 0 .5-.1 .5-.3 .5 .1 .5 .3 .5-.2 .5 .3 .5 .3 .5-.5 .5-.3 .5-.2 .5 1.1 .5-.7 .5-.2 .5 .3 .5 .2 .5 .1 .5-.7 .5 .7 .5 0 .5-.1 .5 .3 .5-.3 .5 1 .5-.4 .5 .1 .5-.4 .5 .6 .5-.4 .5-.6 .5 0 .5 .4 .5 .1 .5 .1 .5 .2 .5-.3 .5-.1 .5 .1 .5-.6 .5 .6 .5-.1 .5-.1 .5 .1 .5-1.1 .5 0 .5 0 .5 1.3 .5-1 .5 .4 .5 .7 .5-1.5 .5 .3 .5 .4 .5 .3 .5 .3 .5-.9 .5 .7 .5-.7 .5 .4 .5 0 .5 0 .5 .6 .5-.1 .5-.8 .5 .9 .5 .3 .5-.6 .5 .2 .5 .5 .5-.6 .5 .9 .5-.9 .5 .3 .5-.1 .5 .3 .5 0 .5-.5 .5 .6 .5 0 .5-.2 .5-.1 .5 .4 .5 0 .5-.8 .5 .9 .5 .5 .5-.6 .5 .1 .5-.8 .5 .9 .5-.1 .5-.1 .5-.3 .5 .6 .5-.1 .5 0 .5-.7 .5 .9 .5-.3 .5 .5 .5-1.3 .5 .5 .5-.1 .5 .3 .5-.1 .5-.4 .5 .1 .5-.7 .5 1.1 .5-.5 .5-.1 .5 0 .5-.1 .5 .2 .5-.3 .5 .1 .5-.5 .5 .7 .5 .2 .5-.4 .5-.3 .5 .3 .5 .4 .5-.7 .5 0 .5 .1 .5 .3 .5-.2 .5-.3 .5-.4 .5 .7 .5-.3 .5-1 .5 1.3 .5-.3 .5-.2 .5-.1 .5-.5 .5 .6 .5 0 .5 .2 .5-.6 .5 0 .5 1.1 .5-.6 .5-.7 .5 .5 .5 .5 .5 .5 .5-.7 .5 .4 .5 0 .5 .3 .5-.2 .5 .8 .5-.6 .5 .3 .5 .4 .5-.4 .5 .3 .5-.2 .5 .9 .5-1 .5 .5 .5-.3 .5-.1 .5-.3 .5 .5 .5-.1 .5 .2 .5-.2 .5-.3 .5 .1 .5-.4 .5 .7 .5 .2 .5-.5 .5-.1 .5 1 .5-1 .5 .5 .5-.7 .5 .2 .5-.3 .5 .3 .5-.1 .5 .2 .5 0 .5-.5 .5 1.2 .5-1.1 .5 .4 .5 .2 .5-.1 .5-.5 .5 0 .5 .1 .5-1 .5 1.4 .5 .3 .5-.1 .5 .3 .5-1 .5 .2 .5 .1 .5 .2 .5-.4 .5-.6 .5 1 .5 .5 .5-1.2 .5-.2 .5 .9 .5-.7 .5 .6 .5 .1 .5-.5 .5-.2 .5 .5 .5-.3 .5 .4 .5 0 .5 .2 .5-.2 .5 .1 .5-1.1 .5 .5 .5 1.2 .5-.7 .5-.5 .5 .2 .5 .8 .5-.4 .5-.2 .5-.2 .5 .1 .5 .8 .5-1.3 .5 .7 .5-.9 .5 1.3 .5-.4 .5 .1 .5-.7 .5 0 .5 .5 .5-.2 .5 0 .5-.3 .5 0 .5-.2 .5-.3 .5 .2 .5-.7 .5 1 .5-.3 .5 .3 .5-.4 .5-.9 .5 1.2 .5 .2 .5-1 .5 0 .5 1.1 .5-.8 .5 .3 .5-.4 .5 .7 .5-.2 .5 .8 .5-.4 .5-1.1 .5 .6 .5 .7 .5 0 .5-.6 .5 .6 .5 .4 .5-.1 .5-.7 .5 .7 .5 .3 .5-.7 .5-.3 .5 1 .5-.1 .5-.4 .5-.2 .5 .7 .5-.3 .5 .3 .5-.4 .5-.3 .5 .2 .5 .6 .5-.4 .5-.2 .5 .1 .5 .7 .5-.2 .5-.1 .5-.4 .5-.6 .5 1 .5-1.1 .5 1.3 .5 .1 .5-.2 .5-.6 .5 .3 .5-.5 .5-.1 .5 .2 .5 .2 .5 1 .5-1.1 .5 .1 .5-.7 .5 .5 .5 .2 .5 0 .5-.2 .5-.5 .5 1 .5-.5 .5 .6 .5-.5 .5 .3 .5-1.2 .5 .3 .5 .6 .5 .1 .5-.6 .5-.3 .5 1.3 .5-.9 .5 .8 .5 .4 .5-.9 .5-.2 .5 .4 .5 .6 .5-1 .5 .8 .5-.6 .5 0 .5 .1 .5 .5 .5-.4 .5 .6 .5-.4 .5 0 .5-.1 .5 .9 .5-.5 .5 .3 .5 .3 .5-.2 .5-.2 .5-.1 .5-.3 .5 .7 .5-.3 .5-.8 .5 .4 .5 .8 .5-.4 .5-.1 .5 .3 .5-1.2 .5 .5 .5 0 .5 .1 .5 .3 .5-.5 .5-.4 .5 .3 .5-.1 .5 1.2 .5-.6 .5 0 .5 .2 .5-.7 .5 .3 .5-.2 .5-.1 .5-.7 .5 1.2 .5-.7 .5-.1 .5 .4 .5-.2 .5 .4 .5-.7 .5-.5 .5 .4 .5 .6 .5 .4 .5 .6 .5-.9 .5 .4 .5-.4 .5 .7 .5 .3 .5 0 .5-.7 .5-.2 .5 0 .5 .5 .5-.8 .5 1.2 .5-.2 .5-.1 .5-.6 .5 .3 .5 .5 .5-.7 .5 .3 .5-.3 .5 .5 .5-.8 .5-1 .5 1.2 .5-.4 .5-.5 .5 .3 .5-.1 .5 .4 .5 .1 .5-.7 .5 0 .5 .8 .5-.9 .5 .7 .5-.4 .5-.3 .5 .5 .5-.3 .5-1 .5 1.1 .5-.6 .5 .1 .5-.7 .5 1.7 .5-.5 .5-.4 .5 .5 .5-.2 .5-.1 .5-.2 .5 .2 .5 .3 .5 .2 .5-.5 .5 .2 .5 .2 .5 .2 .5-.2 .5-.3 .5 .3 .5-.1 .5 .5 .5-.8 .5 .6 .5-.1 .5-.2 .5 .2 .5-.3 .5-.4 .5 1.3 .5-.3 .5-.5 .5 .7 .5-.3 .5-.7 .5 .6 .5-.3 .5-.2 .5 .1 .5 .2 .5 .2 .5-.1 .5-.2 .5-.5 .5 .3 .5 .5 .5-.3 .5 0 .5-.1 .5 .2 .5-.4 .5 .2 .5-.4 .5 1.3 .5-.6 .5-.4 .5 .2 .5 .2 .5 .5 .5-.5 .5-.9 .5 .6 .5 .2 .5-.5 .5-.8 .5 0 .5 1.4 .5-.9 .5-.7 .5-.2 .5-.3 .5 .4 .5-.1 .5-.2 .5 1.2 .5 .1 .5-1.3 .5-1.1 .5 .3 .5 1.1 .5 .5 .5-1.6 .5 .4 .5 .2 .5 .7 .5-.4 .5-.4 .5-.8 .5 1.5 .5-.4 .5-1.2 .5-.6 .5 3.2 .5-3.5 .5 2 .5-1.1 .5-.1 .5 .6 .5 1.7 .5-1.2 .5-1 .5 2.1 .5-3 .5 2.4 .5 .2 .5-1.4 .5 .3 .5 .6 .5 1.4 .5-.9 .5-2.2 .5 .2 .5-.5 .5-.9 .5 .9 .5-.6 .5-.1 .5 2.4 .5-.3 .5 0 .5 .4 .5 .1 .5-.8 .5 .8 .5-3.7 .5 2.7 .5-.4 .5 2.3 .5-1.9 .5-11.1 .5 .1 .5-7.7 .5 3.9 .5 17.1" stroke="#0000ff"/>
<path d="M20,314.4l.5 2.1 .5 .5 .5 .8 .5 2.1 .5-.1 .5 0 .5-.2 .5 0 .5 .3 .5 1.1 .5-1.1 .5-.1 .5 .3 .5 .1 .5 0 .5-.1 .5-.1 .5 .1 .5 1.2 .5-.7 .5-.9 .5 1.3 .5 0 .5-.3 .5-.1 .5 .7 .5-1.3 .5 .6 .5-.3 .5 1 .5-.9 .5 .7 .5-.8 .5 1.1 .5-.6 .5-.2 .5 0 .5 .2 .5 .1 .5 .2 .5-.5 .5 1.1 .5-.5 .5-.4 .5 .6 .5 .1 .5-.4 .5-.7 .5 .5 .5-.2 .5-.5 .5 .6 .5-.4 .5 0 .5 .5 .5-1 .5 1 .5-.7 .5 .9 .5-.7 .5-.4 .5 1.6 .5 0 .5-1.9 .5 1.1 .5-1.2 .5 1.2 .5-.3 .5 .2 .5-.1 .5-.1 .5-.2 .5 .6 .5 .2 .5-.4 .5 .7 .5-.8 .5 .6 .5 .2 .5-1 .5 .7 .5-.5 .5 0 .5 1.3 .5-.8 .5-.3 .5-.5 .5 .5 .5-.3 .5 .1 .5-.1 .5 1 .5-.7 .5-.3 .5 .1 .5-.7 .5 .6 .5-.3 .5-.5 .5 .7 .5-1.5 .5 .8 .5-.4 .5-.5 .5-.2 .5-.4 .5-.4 .5-1 .5-1.7 .5-1.6 .5-3.9 .5-2.8 .5-3 .5-4.7 .5-4.2 .5-4.6 .5-4.5 .5-4.8 .5-4 .5-2.9 .5-2 .5 .1 .5 1.1 .5 3.3 .5 3.9 .5 3.9 .5 5.5 .5 4.3 .5 5.5 .5 3.6 .5 3.2 .5 3.6 .5 2.5 .5 1.2 .5 1.2 .5 .4 .5 .7 .5 .4 .5 1 .5 1.4 .5-.5 .5-.2 .5 1 .5 0 .5 .5 .5-.1 .5-.9 .5 .8 .5 0 .5-.4 .5 .9 .5-.5 .5-.2 .5 .1 .5 .4 .5 .2 .5-.3 .5-.1 .5 .2 .5-.6 .5 .4 .5-.2 .5 .1 .5 1 .5-.5 .5-.3 .5-.7 .5 1.2 .5-.4 .5-.2 .5 0 .5 .3 .5-.9 .5 .3 .5 .6 .5-.5 .5-.2 .5-.3 .5 .7 .5-1.3 .5-.2 .5-.5 .5-1.4 .5-1.2 .5-.1 .5-2.1 .5-1.4 .5-2.3 .5-.2 .5-2.3 .5-1.8 .5-.9 .5 1.1 .5-.4 .5 2 .5 .2 .5 2 .5 2.5 .5 .7 .5 1.9 .5 1 .5 1.5 .5 .5 .5 .6 .5 1 .5-.2 .5 .6 .5 1 .5-1 .5 .6 .5-.7 .5-.1 .5 .2 .5 .4 .5-.1 .5-.3 .5-.5 .5 .2 .5-.4 .5 .6 .5-.7 .5-.4 .5-.3 .5-.5 .5 0 .5 .4 .5-1.6 .5 .5 .5-.3 .5-1.1 .5 .5 .5-.4 .5-1.3 .5 .7 .5-1 .5-.5 .5-.5 .5-.1 .5-.1 .5-1.3 .5 .1 .5-.6 .5-1.6 .5-2.4 .5-1.6 .5-3.2 .5-4.1 .5-4.1 .5-6.7 .5-6.2 .5-8.4 .5-8.9 .5-8.5 .5-8.7 .5-6.7 .5-5.4 .5-2 .5 .2 .5 4.1 .5 7.1 .5 9.1 .5 8.9 .5 10 .5 8.2 .5 7.9 .5 7.6 .5 5.4 .5 4.5 .5 3.3 .5 2.6 .5 2.2 .5 1 .5 1.4 .5 .5 .5 1.2 .5-.1 .5 .1 .5 .8 .5 .1 .5 .3 .5-.1 .5 1.8 .5-1 .5 .8 .5-.4 .5-.2 .5-.4 .5 .8 .5-.2 .5-.2 .5-.1 .5-.6 .5-.2 .5 .3 .5 0 .5 .2 .5-1.8 .5 .6 .5-.6 .5-.6 .5-.2 .5 0 .5-.8 .5-.3 .5-.5 .5-.2 .5 .9 .5-.4 .5-.6 .5-1.2 .5 1.5 .5-.8 .5 .4 .5-.1 .5 .7 .5-.3 .5 1.3 .5 .2 .5 0 .5 .5 .5 .2 .5 .7 .5 .3 .5 .3 .5 .2 .5 .6 .5 .2 .5 .3 .5 0 .5 1 .5-.6 .5 .8 .5-.4 .5 .4 .5-1.1 .5 1.6 .5-1.4 .5 .6 .5-.1 .5 .7 .5-.1 .5-.7 .5 .7 .5 .1 .5-.6 .5 .2 .5 0 .5 .1 .5 .2 .5 .1 .5-.5 .5 .3 .5 .1 .5-.1 .5-.7 .5 .2 .5 .1 .5 .1 .5 .5 .5-.7 .5 1.3 .5-1.4 .5 .4 .5 0 .5-.4 .5 .8 .5-.3 .5-.3 .5 .1 .5-.3 .5 .9 .5-.4 .5-.3 .5 .7 .5-1 .5 1 .5 .1 .5-.2 .5 .2 .5 .3 .5 .1 .5-.7 .5 .7 .5-.5 .5 0 .5 .4 .5-.4 .5 .5 .5-.1 .5 0 .5-.7 .5 .5 .5 .2 .5 0 .5 .3 .5-.4 .5-1 .5 .5 .5 0 .5-.6 .5 .3 .5-.3 .5 .3 .5 .7 .5-.6 .5-.4 .5-.2 .5 .4 .5 1.1 .5-1.1 .5 .1 .5 1.3 .5-.9 .5-.4 .5 .2 .5-.4 .5 .9 .5-.4 .5-.5 .5 .1 .5 .2 .5-.1 .5 .6 .5-1 .5 1.4 .5-.1 .5-1.3 .5 .4 .5 .5 .5 .2 .5 .1 .5-.4 .5 .1 .5-.5 .5 .6 .5-.5 .5 .2 .5-.2 .5 .4 .5 .6 .5-.4 .5-.7 .5 .9 .5-.1 .5-.9 .5 .3 .5 .6 .5-.7 .5 .1 .5 .6 .5-.1 .5 .1 .5-.9 .5 1.1 .5-1.7 .5 1 .5-.1 .5-.4 .5-.3 .5 .5 .5 .3 .5-.6 .5 .5 .5-.1 .5-.3 .5-.1 .5 .9 .5-1 .5 .8 .5-.7 .5 .3 .5 .1 .5 .5 .5-.7 .5 .6 .5-.6 .5 .8 .5-.9 .5 .8 .5 0 .5-.9 .5 1 .5-.9 .5 .1 .5-.2 .5 .1 .5 .2 .5 .4 .5 .5 .5-.8 .5-.6 .5 .8 .5-1 .5 .9 .5-.6 .5 0 .5-.3 .5 1 .5-.3 .5-.1 .5-.7 .5 .4 .5 0 .5 .8 .5 .1 .5-.1 .5 .2 .5-.1 .5-.6 .5 .3 .5-.7 .5 .9 .5 0 .5-.7 .5 .9 .5-.4 .5-.7 .5 .7 .5 .4 .5-.5 .5 .2 .5 .2 .5-.3 .5-.1 .5-.4 .5 .8 .5-.1 .5 .6 .5-.5 .5-.2 .5-.5 .5-.3 .5 .6 .5 0 .5 .3 .5-.2 .5 0 .5 .4 .5-.3 .5 0 .5-.2 .5 .1 .5-.3 .5 .7 .5-.7 .5 .2 .5 .2 .5-.7 .5-.2 .5 .4 .5 .2 .5 .1 .5-.7 .5 .6 .5-.9 .5 0 .5 .2 .5-.4 .5-.4 .5 .2 .5 1.2 .5-.9 .5 0 .5-.7 .5 .2 .5 .1 .5 .2 .5 .3 .5-.8 .5 .8 .5 .4 .5 .2 .5-1.5 .5 1.7 .5-.5 .5 0 .5 1 .5 .2 .5-.7 .5 .3 .5-.2 .5 .2 .5 .1 .5-.5 .5 .7 .5 .7 .5-.9 .5 .2 .5 .1 .5 0 .5 0 .5 .2 .5 .1 .5-.2 .5 .1 .5 .1 .5 .1 .5-.6 .5-.4 .5 .9 .5-.9 .5 0 .5 .5 .5-.6 .5 .1 .5 .4 .5-.2 .5 .4 .5-.4 .5-.7 .5 1 .5-.3 .5-1 .5 .4 .5 .2 .5 .7 .5-.7 .5 0 .5 .4 .5-.3 .5-.2 .5 .2 .5 0 .5 .2 .5-.4 .5 .2 .5 .3 .5-.7 .5-.1 .5 1.2 .5-1.7 .5 1.4 .5-.7 .5 .7 .5 0 .5-.6 .5 .3 .5 0 .5 .1 .5 .2 .5 .1 .5 0 .5-.2 .5 .3 .5 .3 .5-.8 .5 1 .5-.4 .5-.3 .5 .1 .5-.1 .5-1 .5 .6 .5-.2 .5 .8 .5 0 .5 .4 .5-.2 .5-.2 .5 .1 .5-.5 .5 .1 .5 .3 .5 .3 .5-.7 .5-.2 .5 .4 .5 0 .5-.6 .5-.5 .5 .4 .5 .3 .5 0 .5-.2 .5 .5 .5-1.5 .5 .3 .5 .4 .5 .3 .5-1.3 .5 1.5 .5-1 .5-.2 .5-.1 .5 .7 .5 .7 .5-1.1 .5 .8 .5-.8 .5 .5 .5 .1 .5-.3 .5-.3 .5 .4 .5-.5 .5 .6 .5 1 .5-.5 .5-.3 .5 0 .5 .1 .5-.5 .5 .9 .5-.2 .5 .3 .5 .1 .5-.4 .5 1 .5-.7 .5-.7 .5 1.1 .5-.5 .5-.5 .5 .8 .5-.3 .5 .1 .5-.8 .5 .4 .5 .1 .5-.3 .5 .4 .5 .1 .5 0 .5 .1 .5-.4 .5-.2 .5-.1 .5 0 .5 .1 .5 .6 .5-.7 .5 1 .5-.9 .5-.1 .5 .2 .5-.3 .5-.1 .5 .1 .5 .9 .5 .1 .5-1.3 .5 1.2 .5-.3 .5 0 .5 .4 .5 0 .5 0 .5-.3 .5-.6 .5 .9 .5-1.1 .5 .9 .5-.6 .5-.3 .5 .7 .5-.2 .5-.4 .5 .5 .5-.5 .5 .4 .5-.6 .5 .6 .5 0 .5-.7 .5 1 .5-1.2 .5 .8 .5-.5 .5 .1 .5-.2 .5 .4 .5 0 .5-.2 .5 .5 .5 .1 .5-.3 .5 .4 .5-.7 .5 .7 .5 0 .5 1 .5-1.4 .5 .6 .5-.3 .5 .6 .5-.2 .5 .2 .5-.1 .5-.8 .5 .4 .5 .2 .5-.2 .5 .1 .5 1.2 .5-1.3 .5 .7 .5-.3 .5-.1 .5 .7 .5-.6 .5-.5 .5 .6 .5-.4 .5 1 .5-.5 .5-.3 .5 .2 .5 .2 .5-.7 .5 .3 .5-.2 .5 .2 .5-.2 .5 .6 .5-.9 .5 .7 .5-.6 .5-.2 .5 .4 .5 .2 .5-.3 .5-.2 .5 .3 .5 .7 .5-.2 .5-1.3 .5 .9 .5 .4 .5-.1 .5 .4 .5-.2 .5-.4 .5 .2 .5-.2 .5 .8 .5-.5 .5-.3 .5-.2 .5 .2 .5 .3 .5 0 .5-.2 .5 .6 .5-.8 .5 .6 .5 .2 .5-.6 .5-.6 .5 .7 .5-.8 .5 .4 .5-.2 .5 .1 .5 .5 .5-.6 .5 .9 .5-.9 .5-.4 .5 .4 .5-.6 .5 .4 .5 .7 .5-.2 .5-1.2 .5 0 .5-.2 .5 .3 .5-.1 .5 .1 .5-.7 .5 .4 .5-.4 .5-.1 .5 .8 .5-.7 .5 1 .5-1.2 .5 .6 .5 .1 .5 .5 .5 .4 .5 0 .5-.4 .5 0 .5 .1 .5 .1 .5-.7 .5-.3 .5 .5 .5 0 .5 .8 .5 .2 .5-.3 .5-.1 .5 .6 .5 .2 .5-.2 .5 .3 .5-.7 .5 .1 .5 .9 .5-.8 .5 .9 .5 .4 .5-.9 .5 .3 .5-.3 .5 0 .5-.2 .5 .4 .5-.3 .5 0 .5-.9 .5 .6 .5 0 .5-.1 .5-.3 .5 .3 .5 .7 .5-.7 .5-.6 .5 0 .5 .6 .5 .1 .5-.1 .5 .1 .5-.4 .5 .4 .5-.2 .5-.9 .5 1.2 .5-.4 .5-.8 .5 .5 .5 0 .5-.6 .5 .2 .5 .6 .5-.8 .5 .2 .5-.2 .5-.3 .5 .1 .5 .3 .5-.3 .5-.6 .5 .9 .5-.8 .5-.8 .5 1.1 .5 .5 .5-1 .5 .8 .5-.3 .5-.8 .5 .7 .5-1.1 .5 .6 .5-1.3 .5 .9 .5 .2 .5 .7 .5-1.1 .5 0 .5 2.6 .5-2.6 .5 .4 .5-.2 .5-2 .5 1.6 .5 1.2 .5 .7 .5-1.7 .5 1.2 .5-2.6 .5 1.1 .5 1.1 .5-1.3 .5 .2 .5-.8 .5 3.1 .5-1.8 .5 .1 .5 1 .5-2.6 .5 2.7 .5-3.8 .5 1.5 .5 2.3 .5-5.1 .5 .7 .5 2.4 .5 2.1 .5-.3 .5-.1 .5-11.7 .5-3.6 .5-4.1 .5 3.3 .5 16.1" stroke="#0000ff"/>
<path d="M20,323.7l.5 1.7 .5 .7 .5 1.1 .5 1 .5 .4 .5 .6 .5-.1 .5 .3 .5-.1 .5 .1 .5 .7 .5-.3 .5 .1 .5-.5 .5-.5 .5 .3 .5 .2 .5 .5 .5-.3 .5-.3 .5 .2 .5 .1 .5-.1 .5 .3 .5-.3 .5-.5 .5-.2 .5 .1 .5 .8 .5 .2 .5-.8 .5 .9 .5-.5 .5-.1 .5 0 .5 .2 .5-.4 .5 .2 .5 0 .5-1 .5 .9 .5 .7 .5-.3 .5-.5 .5 .3 .5 .2 .5-.4 .5 .4 .5-.3 .5-.4 .5 .5 .5-.8 .5 .7 .5-.4 .5 1 .5-1.2 .5 .8 .5 .2 .5 0 .5-.7 .5-.2 .5 1 .5-.5 .5 0 .5 .2 .5-.2 .5 .1 .5-.2 .5 .1 .5-.9 .5 .7 .5 .4 .5-.4 .5 .1 .5 .5 .5-.7 .5 .6 .5 0 .5 0 .5-.1 .5-.6 .5-.1 .5 .8 .5-.4 .5 .8 .5-.4 .5-.3 .5-.2 .5-.1 .5 0 .5-.2 .5 .1 .5 .1 .5-.1 .5-.1 .5-.7 .5 0 .5 .1 .5-.5 .5 .2 .5 .1 .5-.5 .5 .2 .5-.3 .5-.8 .5 .1 .5-1.1 .5-.5 .5-1.7 .5-1.3 .5-1.5 .5-3 .5-2.1 .5-2.8 .5-3.8 .5-4.6 .5-2.9 .5-3.6 .5-3.9 .5-2.4 .5-2.2 .5-2.5 .5 .7 .5 .9 .5 1.6 .5 2.7 .5 3.7 .5 4.4 .5 2.8 .5 4.3 .5 2.8 .5 3.8 .5 2.9 .5 1.5 .5 1.9 .5 2.3 .5 1 .5 .9 .5 1.2 .5 0 .5 1.1 .5 .1 .5 .1 .5 .4 .5 .6 .5-.3 .5 .2 .5 .9 .5-.8 .5 .5 .5 .1 .5-.4 .5 0 .5-.2 .5-.1 .5 .7 .5 .1 .5-.6 .5 .7 .5-.5 .5-.6 .5 .2 .5 .6 .5-1.1 .5 1 .5-.1 .5 .2 .5-1 .5 .9 .5 0 .5-.9 .5 .6 .5-.3 .5-.6 .5 .6 .5-.3 .5-.6 .5 .5 .5-.3 .5 0 .5-.4 .5-.8 .5-.8 .5 .1 .5-.8 .5-1.9 .5-.6 .5-1.6 .5-1.7 .5-1.3 .5-1.9 .5-.4 .5-2.3 .5-.3 .5-1 .5 1.3 .5 .5 .5 .6 .5 2.4 .5 1.9 .5 1.1 .5 1.7 .5 1.1 .5 1.3 .5 0 .5 1.7 .5 0 .5 .9 .5 .3 .5 .1 .5 .5 .5-.6 .5 .3 .5 1.1 .5-.4 .5-.4 .5-.1 .5 .2 .5-.7 .5-.4 .5 .2 .5-.4 .5 .4 .5-.9 .5 .3 .5-.2 .5 .2 .5-.5 .5-.5 .5-.5 .5 .7 .5-1 .5-.2 .5-.5 .5-.2 .5-.6 .5 .3 .5-.3 .5-1 .5 .1 .5-.9 .5-.7 .5-.1 .5-.1 .5-1.1 .5-1.7 .5-.4 .5-1.8 .5-2.5 .5-2.8 .5-4.5 .5-4.5 .5-5.9 .5-7.4 .5-8.1 .5-7.9 .5-8.1 .5-9.8 .5-6.4 .5-5.4 .5-1.3 .5 .9 .5 4.9 .5 6.4 .5 8.6 .5 8.9 .5 10 .5 7.9 .5 7.8 .5 6.5 .5 5.7 .5 4.2 .5 3.8 .5 2.1 .5 2.9 .5 1 .5 1.1 .5 1.1 .5 .6 .5 .7 .5-.4 .5 .4 .5 .1 .5-.3 .5 .9 .5-.3 .5 .8 .5-.9 .5 1.1 .5 .2 .5-.8 .5 .8 .5-.4 .5 .2 .5-.4 .5-1.1 .5 .5 .5 .9 .5-.7 .5-.6 .5-.1 .5-.2 .5-.2 .5-.4 .5-.6 .5 .3 .5-.5 .5-.8 .5-.1 .5-.5 .5 .2 .5-.7 .5 .7 .5 1 .5-.7 .5-.1 .5-.1 .5 0 .5 .3 .5 .7 .5 .5 .5 1 .5-.4 .5 .6 .5 .4 .5 .9 .5 0 .5 .5 .5 .4 .5 .5 .5-.3 .5 0 .5 .4 .5 .5 .5-.3 .5 .8 .5-.2 .5-.5 .5 .4 .5-.3 .5 .4 .5 .2 .5-.3 .5 .5 .5-1.4 .5 1.1 .5 .1 .5-.8 .5 .7 .5-.3 .5 .3 .5 .1 .5 .8 .5-.9 .5-.1 .5 .8 .5 .1 .5-.1 .5-.9 .5 .7 .5 0 .5 .4 .5-.7 .5 .4 .5-1.4 .5 .8 .5 .3 .5-.3 .5 .6 .5-.6 .5 .2 .5 .3 .5-.3 .5-1 .5 .9 .5 .1 .5 0 .5 1 .5-1.1 .5 .4 .5-.3 .5-.1 .5 .8 .5-1 .5 .6 .5-.7 .5 .4 .5-.2 .5 .4 .5-.3 .5 .5 .5-.5 .5-.2 .5 .2 .5 .5 .5-.2 .5-.8 .5 .9 .5-1.5 .5 1.2 .5 .1 .5-.2 .5 0 .5-.1 .5-.2 .5-.3 .5 .2 .5 .1 .5 .1 .5-.6 .5 1.3 .5-.1 .5 .4 .5-.8 .5 .5 .5-.7 .5 .3 .5-.1 .5-.5 .5 .4 .5 0 .5-.4 .5 .6 .5-.1 .5-.4 .5-.2 .5 .9 .5-.1 .5-.5 .5 .3 .5-.1 .5-.5 .5 .4 .5-.2 .5 .3 .5-.5 .5-.2 .5 .1 .5-.1 .5 .6 .5-.7 .5 .8 .5-.3 .5 .5 .5-.1 .5-.6 .5 .5 .5 .2 .5-.2 .5-.1 .5-.4 .5 .2 .5 .7 .5-1.2 .5 .7 .5-.4 .5-.5 .5 .9 .5 .4 .5-.2 .5 .4 .5-.4 .5 .1 .5-.6 .5 0 .5 .1 .5 0 .5-.1 .5 0 .5 .1 .5-.1 .5-.4 .5-.1 .5 .4 .5 .9 .5-.3 .5-.5 .5 0 .5 .3 .5-1.2 .5 1.4 .5-1.5 .5 .9 .5-.6 .5 1.1 .5-.6 .5 .3 .5-1.3 .5 .6 .5 .6 .5-1.1 .5 1.1 .5-.5 .5-.1 .5 .9 .5-1.2 .5 .4 .5-.2 .5-.2 .5 1.1 .5-1.5 .5 .8 .5 .4 .5-1 .5 .7 .5 0 .5 0 .5-.2 .5 1.4 .5-.9 .5 .2 .5-1.3 .5 .7 .5 0 .5 .3 .5 .2 .5 .7 .5-.7 .5 .2 .5 .2 .5 1.3 .5-1.7 .5 .1 .5 1 .5-.6 .5-.5 .5 .4 .5-.4 .5 .6 .5-.9 .5 .3 .5-.5 .5 1.3 .5 .1 .5 .1 .5-.9 .5-.1 .5 .4 .5-.2 .5 .7 .5 0 .5-1.5 .5 1 .5-.2 .5-.3 .5 .2 .5 .2 .5 0 .5-.4 .5-.9 .5 .8 .5-.4 .5 1 .5 .1 .5-.9 .5-.3 .5 .2 .5 .4 .5-.7 .5-.6 .5 .7 .5-1.2 .5 0 .5 .6 .5-.1 .5-.1 .5 .4 .5 .6 .5-.4 .5-.1 .5 .3 .5-.2 .5 .6 .5-.6 .5 .5 .5 .3 .5-.3 .5 .3 .5-.3 .5 .3 .5-.7 .5 .7 .5 .1 .5 0 .5-.5 .5 .2 .5 .3 .5 .3 .5-.4 .5 .2 .5 .6 .5 .1 .5-.3 .5-.7 .5 .2 .5 .2 .5-.2 .5 .5 .5 .2 .5-.3 .5 .4 .5-.3 .5-.3 .5-.1 .5 .6 .5-.3 .5 .2 .5-.1 .5-.5 .5 1.7 .5-.9 .5-.1 .5-.5 .5-.4 .5 1 .5 .3 .5-.4 .5 .1 .5-.1 .5-.6 .5 1 .5-.4 .5 .4 .5 .3 .5 0 .5-.8 .5 .4 .5-.6 .5-.1 .5-.2 .5 .6 .5 .4 .5-.2 .5-.8 .5 .8 .5-.3 .5-.1 .5 .8 .5-.7 .5-.1 .5 .1 .5-.2 .5-.4 .5-.6 .5 .6 .5 .1 .5-.8 .5 .4 .5 .5 .5-.4 .5-.1 .5 .3 .5-.2 .5 .2 .5 .3 .5-.1 .5-.1 .5 .2 .5 0 .5-.5 .5 .4 .5 0 .5-.1 .5 .4 .5-.4 .5-.4 .5 .4 .5-.1 .5-.5 .5-.6 .5 .4 .5 .3 .5-.7 .5 .1 .5 .2 .5-.7 .5 .9 .5-.7 .5 .4 .5-.1 .5-.6 .5 0 .5 .6 .5-.3 .5-.6 .5 .2 .5 .2 .5-.3 .5 1 .5-.2 .5 .4 .5-.2 .5-.1 .5 .4 .5 .9 .5-.9 .5-.2 .5-.1 .5 0 .5 .3 .5 .3 .5-.4 .5-.1 .5 .4 .5 .1 .5 .4 .5 .2 .5 .1 .5-.9 .5 .5 .5 .3 .5-.7 .5 .5 .5-.5 .5 .3 .5 1.2 .5-.9 .5-.8 .5 .4 .5 .3 .5 .2 .5-.5 .5 .4 .5 .2 .5-.3 .5-.6 .5 0 .5 .5 .5 .4 .5-.3 .5 .7 .5 .3 .5-1.1 .5 .1 .5-.2 .5 .5 .5-.2 .5 .4 .5-.2 .5-.3 .5 .6 .5-.4 .5-.3 .5-.5 .5 .5 .5 .7 .5-.5 .5 .5 .5-.9 .5 .2 .5-.3 .5 .6 .5-.7 .5 .5 .5 .6 .5 .3 .5 .1 .5-1 .5 .6 .5-.3 .5 .1 .5 .4 .5-.6 .5-.6 .5 1.5 .5 0 .5-1.1 .5 .6 .5 .2 .5 .3 .5-.5 .5-.1 .5 .2 .5 .1 .5-.2 .5 .2 .5 .1 .5-.2 .5 .5 .5-.4 .5-1.2 .5 .8 .5 .2 .5-.2 .5-.1 .5-.1 .5-.1 .5 .3 .5-.2 .5 0 .5-.1 .5 .2 .5 .1 .5 .1 .5-.3 .5-.4 .5 .6 .5-.1 .5 .1 .5-.6 .5-.1 .5-.1 .5 .3 .5 .1 .5-.7 .5 .4 .5 .3 .5-.4 .5-.1 .5 .9 .5-.4 .5-.6 .5 .2 .5 .1 .5-.6 .5-.6 .5 1.3 .5-.6 .5 0 .5 1 .5-.5 .5-.3 .5 .4 .5-.1 .5-.3 .5 1.8 .5-1.5 .5 .4 .5 .3 .5 .9 .5 0 .5-.5 .5 .1 .5 1 .5-.2 .5-1 .5 .3 .5-.2 .5 0 .5 .3 .5 .5 .5-.9 .5-.7 .5 .2 .5 0 .5 .5 .5 .2 .5-.9 .5-.2 .5 1.1 .5-.1 .5-.5 .5 .3 .5-.1 .5 .4 .5 .1 .5-1.5 .5 .6 .5 .7 .5-.1 .5-.5 .5 .1 .5-.1 .5-.2 .5 0 .5-.2 .5-.1 .5 .4 .5-.2 .5 .5 .5-.6 .5-.6 .5 1 .5-.6 .5 .5 .5-.2 .5-.4 .5-.1 .5 .9 .5-.9 .5 .7 .5 .2 .5-.6 .5 0 .5 .2 .5 0 .5 .2 .5-.5 .5 .4 .5 0 .5 .4 .5-.1 .5-.6 .5 .6 .5-.5 .5 0 .5 .6 .5-1.2 .5 .9 .5 .3 .5 0 .5 .3 .5-.2 .5-.2 .5 .2 .5-.2 .5-.1 .5 .2 .5 .1 .5 .5 .5-.5 .5 0 .5-.4 .5-.2 .5-.2 .5 .2 .5 .4 .5 0 .5-.5 .5-.5 .5 .5 .5-.1 .5-.2 .5 .3 .5 0 .5 0 .5-.4 .5 .5 .5-.9 .5-.1 .5-.1 .5-.5 .5 .5 .5 .1 .5-.5 .5-.1 .5-.9 .5 1.8 .5-1.1 .5 .4 .5 .4 .5-.7 .5 .5 .5 0 .5-.6 .5 .8 .5 .2 .5-.6 .5 .4 .5-.2 .5 .4 .5-.6 .5-.4 .5-.4 .5 .5 .5 1.1 .5-.1 .5-1.3 .5 .6 .5-1.1 .5 .4 .5-.4 .5-.9 .5 .5 .5 .1 .5 .2 .5 1.6 .5-1 .5-.7 .5 1.6 .5-.8 .5-1.9 .5 2.9 .5-1.3 .5 .2 .5-.3 .5-.5 .5 1.1 .5-.5 .5-2.2 .5 3.3 .5-.5 .5-3 .5 2.4 .5-1.8 .5 2.9 .5-3.6 .5 4.4 .5-3.8 .5 2.8 .5 .8 .5 1.8 .5-3 .5-.2 .5 .7 .5-7.6 .5-6.4 .5-3.8 .5 5.6 .5 14.4" stroke="#0000ff"/>
<path d="M20,331.4l.5 2.5 .5 1.1 .5 .8 .5-.5 .5 1.5 .5-.2 .5 .9 .5-.4 .5 0 .5 .6 .5-.4 .5 .7 .5-.1 .5-.1 .5 0 .5 .4 .5-.1 .5 .1 .5-.4 .5 .6 .5-.4 .5 0 .5 .3 .5-.4 .5 .1 .5-.3 .5 .1 .5-.1 .5 .5 .5-.3 .5-.6 .5 .1 .5 .1 .5-.8 .5 .3 .5 .2 .5 .4 .5-1.3 .5 .8 .5 0 .5-.3 .5-.3 .5 .4 .5-.2 .5 .3 .5 .5 .5-.2 .5-.7 .5 .5 .5 .3 .5-.8 .5 .4 .5-.3 .5 .7 .5 0 .5-.3 .5 .4 .5-.3 .5 .2 .5 0 .5 0 .5 0 .5 .6 .5-.6 .5 .3 .5 0 .5 .3 .5-.4 .5 .4 .5-.1 .5-.1 .5 .5 .5-.3 .5-.1 .5 .1 .5-.3 .5 .3 .5-.5 .5-.2 .5 .5 .5-.5 .5 .7 .5-.4 .5 1 .5-.9 .5-.1 .5 .1 .5-.8 .5 1.3 .5-1.7 .5 .9 .5-.3 .5 .6 .5-.5 .5-.2 .5 .2 .5 .2 .5 .3 .5-.8 .5 .7 .5-.6 .5 .3 .5-.7 .5-.4 .5 .1 .5-1.5 .5-.6 .5-.5 .5-1.7 .5-1.3 .5-2.3 .5-.9 .5-2.4 .5-3 .5-1.7 .5-3.1 .5-4.2 .5-1.9 .5-2.4 .5-2.9 .5-1.4 .5-1.5 .5-2.3 .5 .3 .5 1.3 .5 1.6 .5 1.4 .5 2 .5 3.1 .5 4.2 .5 2.4 .5 3 .5 2.3 .5 2.4 .5 3.2 .5 1.1 .5 2.3 .5 .7 .5 .9 .5 1.2 .5 .3 .5 .9 .5 1.3 .5 0 .5-.6 .5 .8 .5-1 .5 1 .5 .9 .5 .2 .5-.6 .5-.2 .5 .8 .5-.6 .5 0 .5 .1 .5 .2 .5-.5 .5 .3 .5 0 .5 .7 .5-.4 .5-.4 .5 0 .5 .3 .5-.2 .5 .4 .5-1.2 .5 .5 .5 .9 .5-1.1 .5 .6 .5-1.1 .5 .7 .5 .4 .5 .3 .5-.3 .5-1.3 .5 .5 .5-.2 .5-.4 .5 .1 .5 0 .5-1 .5-.4 .5-1 .5-.9 .5 0 .5-1.6 .5-.8 .5-1.9 .5-1.7 .5-.5 .5-2.1 .5-2.1 .5-.3 .5 0 .5 .9 .5 .6 .5 1.3 .5 .8 .5 1.8 .5 2.1 .5 1 .5 .4 .5 1.8 .5 1.3 .5 1 .5-1.1 .5 1.1 .5 .5 .5-.1 .5 .1 .5-.3 .5 .5 .5 .3 .5-.3 .5 .6 .5-.8 .5 .4 .5-.3 .5-.5 .5 .3 .5-.2 .5-.5 .5-.9 .5 1.5 .5-.7 .5-.5 .5 0 .5-1.5 .5 .6 .5-.2 .5-.4 .5-.3 .5-1.2 .5 .3 .5-.4 .5 .1 .5-1 .5-.2 .5-.4 .5-.2 .5-.7 .5-.3 .5-.5 .5-.5 .5-.5 .5-1.5 .5-.5 .5-1.3 .5-1.7 .5-2.4 .5-3.8 .5-3.1 .5-5.5 .5-6 .5-6.5 .5-7.5 .5-8.5 .5-8.1 .5-7.8 .5-6.3 .5-4.4 .5-1.8 .5 2.1 .5 4.3 .5 7.2 .5 8.1 .5 8.6 .5 8.3 .5 9.7 .5 5.5 .5 7.4 .5 6.2 .5 4.1 .5 3.6 .5 2.7 .5 2.2 .5 .7 .5 1.3 .5 1.5 .5 .9 .5 .1 .5 .9 .5-1.1 .5 1 .5 .2 .5 .5 .5-1.1 .5 .5 .5-.4 .5 .2 .5 .2 .5-.8 .5 .9 .5-.1 .5 .4 .5-1.3 .5 1.1 .5-1.1 .5 .1 .5-.4 .5-.3 .5-.8 .5 .3 .5-.3 .5-.1 .5-1.5 .5 0 .5 .2 .5-.1 .5-.3 .5-.6 .5 1.5 .5-.6 .5-.3 .5-.3 .5-.2 .5 .7 .5 .2 .5 .3 .5 .9 .5 0 .5 .6 .5 .2 .5 .4 .5 .5 .5 .1 .5 .2 .5-.1 .5 .3 .5-.1 .5 .7 .5-.3 .5 .5 .5 .3 .5 .1 .5 .3 .5-.3 .5 .5 .5-.7 .5-.1 .5 .4 .5 .5 .5 .1 .5 .4 .5 0 .5-.9 .5 .7 .5 .3 .5-.4 .5 .1 .5 .3 .5 .4 .5 .2 .5-.2 .5-1 .5 1.2 .5 .7 .5-1.5 .5 .1 .5 0 .5 0 .5 .4 .5-.4 .5-.4 .5 .3 .5 0 .5 .1 .5 .9 .5-.3 .5-.5 .5 .2 .5-.5 .5-.2 .5-.1 .5 .3 .5-.9 .5 .6 .5 1.4 .5-1.4 .5 .6 .5-.1 .5-.3 .5 .6 .5 0 .5 .2 .5-.2 .5-.2 .5 0 .5 .1 .5 .9 .5-1.7 .5 1.3 .5-.6 .5 1.1 .5-.4 .5-.3 .5 .8 .5-.5 .5-.7 .5 .8 .5 0 .5-.4 .5 .1 .5-.8 .5-.4 .5 .2 .5 1 .5-.2 .5 0 .5 .1 .5 .3 .5-.9 .5 .3 .5-.2 .5 .4 .5-.5 .5 .1 .5 .8 .5-.4 .5 .1 .5-.2 .5 .5 .5-.5 .5-.1 .5-.2 .5 .7 .5-.6 .5-.8 .5 .6 .5 .4 .5-.6 .5 .9 .5-.3 .5-.3 .5 1 .5-.9 .5-.4 .5 .4 .5 .4 .5 0 .5-.4 .5-.5 .5 1.1 .5-.3 .5-.3 .5 .5 .5 .4 .5-.8 .5 .7 .5-.1 .5-.5 .5 .1 .5 0 .5-.3 .5 .2 .5 0 .5 .1 .5-.4 .5 .3 .5 0 .5 .7 .5-.4 .5-.6 .5 .8 .5-.6 .5 .2 .5 .4 .5 .1 .5-.5 .5 .9 .5-.6 .5-.4 .5 .8 .5 .1 .5-.8 .5 0 .5 0 .5 .8 .5-.3 .5 .3 .5-1.5 .5 .8 .5 .3 .5-.4 .5 .5 .5-.5 .5 .6 .5-.1 .5 .2 .5 .2 .5-.7 .5 .3 .5-.6 .5 1 .5-1.3 .5 .9 .5-.6 .5 .6 .5 .3 .5-.3 .5 .2 .5-1.2 .5-.2 .5 .8 .5-.2 .5-.1 .5-.1 .5 .6 .5-.2 .5 .5 .5-.8 .5 .2 .5 .5 .5 0 .5-.2 .5-.3 .5-.2 .5 .4 .5 .4 .5-.2 .5-.2 .5 .1 .5 .2 .5-.4 .5 .5 .5-.4 .5 .1 .5 .4 .5-.9 .5 .2 .5 .2 .5 .1 .5-.4 .5 .4 .5-.4 .5 0 .5 .2 .5 .7 .5-.7 .5 .9 .5-.6 .5-.1 .5 .5 .5-.6 .5-.3 .5-.2 .5-.2 .5 1 .5-.5 .5-.6 .5 .6 .5 0 .5 .1 .5 .1 .5-.6 .5-.1 .5-.3 .5 0 .5 .1 .5-.8 .5 .3 .5 .8 .5-1.1 .5 .5 .5-1 .5 .8 .5-.4 .5 .2 .5-.2 .5-.1 .5 1.1 .5-.7 .5 .5 .5 .3 .5 0 .5 .1 .5-.5 .5 .4 .5-.8 .5 .8 .5 .7 .5-.9 .5 .4 .5-1.2 .5 .7 .5-.6 .5 .3 .5 .3 .5 .5 .5-.7 .5 1.1 .5 0 .5 .1 .5-.3 .5-.8 .5 0 .5 .1 .5 .8 .5 .1 .5-1.2 .5 1.2 .5-.5 .5-.2 .5 .3 .5 .3 .5 .4 .5-.1 .5-.8 .5-.5 .5 .8 .5-.1 .5 .4 .5-.2 .5-.5 .5-.1 .5 .2 .5-.9 .5 1 .5-.6 .5 .2 .5 .8 .5-.4 .5-.5 .5 .7 .5-.8 .5 .5 .5-.6 .5 .3 .5 .2 .5 0 .5 .4 .5-.8 .5 .2 .5 .2 .5 .2 .5 .7 .5-.3 .5-1 .5 .4 .5 .6 .5 .9 .5-1.2 .5 .8 .5-.2 .5 0 .5-1.5 .5 1 .5-.1 .5 .5 .5-.9 .5 .9 .5-.2 .5 .5 .5-.6 .5-.4 .5 .9 .5-.6 .5-.4 .5 .4 .5-.3 .5 .3 .5-.4 .5 .9 .5-.5 .5-.3 .5 .1 .5-.4 .5 .9 .5-1.2 .5 1 .5-.5 .5-.1 .5 .9 .5-.9 .5 .5 .5-1.3 .5 0 .5 .7 .5 .4 .5-1 .5 .6 .5-.2 .5 .3 .5-.1 .5-.7 .5 0 .5-.4 .5 .5 .5 .6 .5-1.2 .5 1.6 .5-.5 .5-.5 .5 .9 .5-.2 .5-.7 .5 .4 .5 .9 .5-.6 .5 .6 .5-.5 .5 .5 .5-.4 .5-.4 .5 .6 .5 .2 .5-.5 .5 .7 .5-.4 .5-.2 .5 .5 .5-.1 .5 .1 .5-.8 .5 .7 .5-.2 .5 .1 .5-.3 .5 1 .5-.1 .5-.7 .5 .4 .5 0 .5 .2 .5-.4 .5 .4 .5 .9 .5-1.1 .5 .2 .5-.5 .5 .1 .5 .2 .5-.3 .5-.1 .5 1.1 .5-1 .5 .3 .5-.3 .5 .2 .5-.8 .5 1.2 .5-.5 .5 .7 .5-.1 .5-.4 .5-.4 .5 .8 .5-.3 .5-.2 .5 .3 .5 .3 .5-.6 .5 .7 .5-.2 .5 0 .5 0 .5-.7 .5 .4 .5 .3 .5-.4 .5 0 .5 .9 .5-.7 .5 .4 .5-.3 .5 .1 .5 0 .5-.7 .5 0 .5 .2 .5 0 .5-.7 .5 .6 .5-.3 .5 .5 .5-.1 .5-.9 .5 1.6 .5-1.8 .5 1.7 .5-.8 .5 1.4 .5-1.3 .5 .3 .5-.3 .5-.3 .5-.4 .5 .5 .5 .1 .5 .4 .5 .3 .5-.1 .5-.1 .5 .3 .5-.1 .5 .5 .5 .3 .5-.9 .5 0 .5 .3 .5-.3 .5 0 .5-.6 .5 .1 .5 .3 .5-.2 .5-.6 .5-.3 .5 .2 .5 0 .5 0 .5-.5 .5-.7 .5 .9 .5 .1 .5 .9 .5-1 .5 0 .5 .6 .5-.1 .5 0 .5-.9 .5 .9 .5 .4 .5-.1 .5-.4 .5-.1 .5 1.2 .5 0 .5-.3 .5 .1 .5-.4 .5 1 .5-.3 .5 .7 .5-.7 .5 .1 .5-.2 .5 .1 .5 .5 .5 0 .5-.6 .5 .2 .5 .1 .5-.1 .5-.5 .5-.4 .5 .1 .5 0 .5 1.1 .5-2.1 .5 .9 .5 .3 .5-1.3 .5 .9 .5-.8 .5-.3 .5 .6 .5-.1 .5-.2 .5 0 .5-.8 .5 1.1 .5-.5 .5-.3 .5 .3 .5-.7 .5-.1 .5 .1 .5 .2 .5-.4 .5 .3 .5-.2 .5 .1 .5 .9 .5-.8 .5 0 .5 .6 .5-.3 .5 .6 .5-.7 .5 .4 .5-.5 .5 .6 .5 .4 .5-.4 .5 .4 .5 .2 .5-.9 .5 .6 .5 .7 .5-.3 .5-.1 .5 .2 .5 0 .5-.2 .5 .1 .5 .2 .5 .5 .5-.6 .5-.4 .5 .3 .5 .4 .5-.2 .5-.6 .5 .4 .5-.2 .5 .1 .5 .1 .5-.3 .5-.6 .5-.3 .5 .4 .5 .5 .5-.3 .5-.7 .5-.2 .5 .7 .5-.7 .5 .8 .5-.2 .5-.6 .5 .6 .5-.2 .5 .1 .5 .4 .5-.6 .5 .9 .5 .2 .5-.8 .5 .8 .5-1.7 .5 1 .5-.6 .5 .6 .5 1.3 .5-2 .5 1.6 .5-.4 .5-1.3 .5 1.4 .5-1 .5 .2 .5 1.1 .5-.3 .5-1.5 .5 1.1 .5-.4 .5 0 .5 1.1 .5-1.1 .5 1.1 .5-1.6 .5 .8 .5-1.4 .5 .3 .5-.6 .5 1 .5-1.2 .5 0 .5 .4 .5-.7 .5 1.8 .5-3.2 .5 1.1 .5 1.5 .5 1.5 .5-1.3 .5-.9 .5 .4 .5-.1 .5-.7 .5 .1 .5-1.5 .5 2.9 .5-1.7 .5 2 .5-.3 .5-2.1 .5-1.9 .5 2.3 .5 2.2 .5 3.1 .5-5.4 .5 1.1 .5-1.2 .5 2.3 .5-8.4 .5 8.9 .5-.6 .5-2.2 .5-1.8 .5-6.7 .5-3.3 .5-8.9 .5 7.2 .5 15.7" stroke="#0000ff"/>
<path d="M20,340.7l.5 1.3 .5 1.6 .5 .4 .5 .8 .5-.6 .5 1.8 .5 .3 .5 .2 .5 .2 .5-.2 .5-.4 .5 .7 .5 .1 .5-.8 .5-.5 .5 .7 .5 .5 .5-1 .5 1 .5-.4 .5 .4 .5-.8 .5 .2 .5-.3 .5 .1 .5 0 .5-.2 .5-.3 .5 .6 .5 .1 .5-.6 .5-.8 .5 .6 .5 0 .5 .7 .5 0 .5-.4 .5 .5 .5-.4 .5 .4 .5-.8 .5 .3 .5 .1 .5-.4 .5 .9 .5 .1 .5-1.1 .5 1.4 .5-1 .5 .4 .5-.1 .5-.2 .5 .2 .5 .8 .5-.8 .5 .1 .5 .6 .5-.3 .5-.5 .5 .3 .5-.4 .5 .5 .5-.9 .5 .6 .5 .2 .5-.2 .5 .1 .5-.3 .5 .6 .5-.4 .5 .6 .5-.5 .5-.3 .5 .1 .5 .8 .5-.7 .5-.3 .5-.6 .5 0 .5 1.1 .5-.4 .5-.6 .5 .5 .5-.3 .5 0 .5-.2 .5 1 .5-.6 .5-.4 .5 .5 .5 .6 .5-1.4 .5 .7 .5 .9 .5-.3 .5-.1 .5-.9 .5 .5 .5-.3 .5-.1 .5 .2 .5-1.1 .5 .5 .5-.2 .5-1.4 .5-.6 .5 .2 .5-1 .5-1 .5-1.6 .5-.9 .5-2.2 .5-1.2 .5-1.9 .5-1.5 .5-2.9 .5-2.8 .5-1.6 .5-1.7 .5-2.4 .5-1.4 .5-1.2 .5-1.6 .5-.2 .5-.5 .5-.3 .5 1.5 .5 1.4 .5 2.7 .5 1.8 .5 2.4 .5 1.8 .5 3 .5 2.6 .5 1.1 .5 2.5 .5 1.2 .5 2 .5 1.1 .5 1.3 .5 1.2 .5 .1 .5 .7 .5 1 .5-.3 .5 .8 .5 0 .5 .8 .5 0 .5-.6 .5 0 .5 1.2 .5-.3 .5 0 .5 .2 .5-.4 .5 .1 .5 .3 .5 .1 .5 .3 .5-1 .5 .4 .5-.3 .5 1.3 .5-1.6 .5 .4 .5 .8 .5-1.1 .5 .7 .5-.4 .5-.1 .5 .4 .5-.7 .5-.2 .5 0 .5 .3 .5 0 .5-.4 .5-.1 .5-.7 .5 .5 .5-.5 .5 .3 .5 .5 .5-.5 .5-.6 .5-.8 .5-.6 .5-.9 .5-.6 .5-1.4 .5-1.9 .5-.6 .5-.9 .5-2.2 .5-1.7 .5-.4 .5-.5 .5-.1 .5 .5 .5-.1 .5 2 .5 1.1 .5 1.1 .5 2.2 .5 1.4 .5 .9 .5 .6 .5 1.5 .5 .1 .5 1.4 .5-.1 .5 .4 .5 0 .5 1.8 .5-2 .5 .8 .5 .1 .5-.2 .5 .5 .5-1.3 .5 .6 .5 .3 .5 .8 .5-.5 .5-.5 .5-.4 .5 0 .5 .5 .5-.7 .5-.7 .5-.6 .5 .9 .5-1 .5-.2 .5 0 .5-.4 .5-.9 .5 0 .5-.2 .5-1.5 .5 .2 .5-.3 .5-1.1 .5-.1 .5 .4 .5-.8 .5-1 .5 .2 .5-.4 .5-1.1 .5-1.1 .5-.4 .5-1.2 .5-1.3 .5-2.4 .5-1.9 .5-3.3 .5-3.9 .5-6.1 .5-5.2 .5-7.3 .5-7.1 .5-8.8 .5-7.8 .5-7.1 .5-6.5 .5-3.3 .5-.5 .5 1.9 .5 4.9 .5 6.8 .5 6.6 .5 9.6 .5 8.5 .5 7.5 .5 7.7 .5 6.3 .5 6.4 .5 3.5 .5 3.6 .5 3.3 .5 1.4 .5 2.1 .5 .2 .5 1.9 .5-.1 .5 .7 .5-.1 .5-.2 .5 1.4 .5 0 .5-.5 .5 .8 .5 .2 .5-.4 .5-.1 .5-.1 .5 .2 .5-.2 .5-.6 .5-.6 .5-.3 .5-.2 .5 .6 .5-.7 .5-.4 .5-.2 .5-.3 .5-.7 .5-.5 .5-1.3 .5 .6 .5-.5 .5 .8 .5-.8 .5-.8 .5 .8 .5 .2 .5-.4 .5 1.3 .5 .2 .5-.6 .5 .5 .5 .4 .5 .4 .5 .8 .5 .3 .5 .4 .5 .5 .5-.4 .5 .7 .5 .2 .5-.3 .5 1.6 .5 .3 .5-.3 .5 .1 .5-.2 .5 .5 .5 .3 .5-.4 .5 .1 .5 .9 .5-.3 .5-.5 .5 0 .5 0 .5-.2 .5 .4 .5-.1 .5-.7 .5 1 .5-.5 .5 .3 .5-.1 .5 .7 .5-.6 .5 .4 .5-.7 .5 .3 .5 .7 .5-.4 .5 .1 .5-.7 .5 .7 .5 .2 .5 .2 .5-1 .5 .8 .5 .2 .5 0 .5-.5 .5 .3 .5 .3 .5-.6 .5 .5 .5-.3 .5 1.3 .5-1.5 .5 .6 .5-.1 .5 0 .5 .2 .5 .2 .5 .2 .5-.7 .5-.2 .5 .4 .5-.3 .5 .6 .5 .4 .5-.6 .5 .2 .5-.3 .5 .2 .5 .2 .5 .7 .5-1.5 .5 1.4 .5-1.1 .5 .4 .5 .4 .5-.4 .5 0 .5-.2 .5 .1 .5 .3 .5 .4 .5-.7 .5 .3 .5-.2 .5 .3 .5 0 .5-1.1 .5 .7 .5 .9 .5 .2 .5-1.2 .5 1.2 .5-.7 .5-.8 .5 .5 .5 .6 .5 0 .5-.5 .5-.2 .5-.5 .5 .5 .5-.5 .5 .7 .5-.1 .5 .1 .5 .4 .5-.8 .5-.5 .5 .2 .5 .9 .5-1 .5 .8 .5-.7 .5 .9 .5-.8 .5-.3 .5 1 .5-.2 .5-1 .5 .4 .5-.3 .5 .7 .5-.6 .5 .4 .5-.4 .5-1 .5 .7 .5-.2 .5 .3 .5-.4 .5 .3 .5-.8 .5 .6 .5-.2 .5-.1 .5 .8 .5-.7 .5 .4 .5-.2 .5 .6 .5 .2 .5-.3 .5-.8 .5 .8 .5 .6 .5 .2 .5-.7 .5-.7 .5 .8 .5-.4 .5 .1 .5 .6 .5 .4 .5-.8 .5 0 .5 .4 .5 .6 .5 0 .5-.5 .5 .1 .5-.4 .5 .1 .5 .4 .5-.7 .5 1 .5-.5 .5 0 .5-.2 .5 .4 .5-.1 .5-.6 .5 0 .5 .5 .5-.9 .5 .7 .5-.3 .5 .5 .5-.9 .5 1.1 .5-.9 .5-.5 .5 .3 .5 .6 .5-.5 .5-.5 .5 .2 .5 1.1 .5-1.3 .5 .1 .5 1 .5-.1 .5-.3 .5 .2 .5 .9 .5-1.4 .5 .8 .5-.4 .5 .9 .5-1.5 .5 .6 .5 .4 .5 .1 .5-.6 .5 .6 .5 0 .5-1.3 .5 1.1 .5 0 .5 .3 .5-.7 .5-.3 .5-.1 .5 .4 .5 .3 .5-.4 .5-.1 .5-.1 .5 .5 .5-.1 .5-.8 .5 1.2 .5-.6 .5 .3 .5-.3 .5-.4 .5 .2 .5 0 .5-.2 .5 1 .5-1.1 .5 .7 .5-.8 .5 .5 .5 0 .5 .2 .5-.4 .5-.1 .5 .7 .5-.4 .5-.5 .5 .3 .5-.1 .5 .4 .5 .5 .5-1 .5 .8 .5-.4 .5 0 .5-.1 .5 .5 .5-.5 .5-.5 .5 .8 .5-.5 .5 .8 .5-.9 .5 .7 .5-.6 .5-.2 .5 1.2 .5-.4 .5-.4 .5-.1 .5-.4 .5 .8 .5-.6 .5-.3 .5 .8 .5-.5 .5 .4 .5 .3 .5 .2 .5-.6 .5 .5 .5 .2 .5-1 .5 .5 .5 .9 .5-.6 .5 .5 .5-.4 .5 .5 .5-1 .5 .2 .5 .5 .5-.6 .5-.1 .5 .3 .5 .3 .5-.5 .5 .6 .5-1 .5-.4 .5 1.2 .5-1.5 .5 1.3 .5 .5 .5-.4 .5 .5 .5-1.6 .5 .5 .5 .9 .5-.9 .5 .1 .5 .2 .5-.4 .5 .7 .5 0 .5 0 .5-.2 .5-.3 .5 .2 .5-.4 .5 .5 .5 .5 .5 .3 .5-.7 .5 .6 .5-.9 .5 .5 .5-1.1 .5 1.4 .5-1.2 .5 .2 .5 .9 .5 0 .5-.5 .5 .5 .5-.8 .5 1 .5-.7 .5-.3 .5 1.2 .5-.7 .5 .4 .5-.8 .5 .3 .5-.5 .5 .9 .5-.1 .5-.2 .5-.1 .5-1.3 .5 1.2 .5 0 .5-.6 .5 .2 .5-.5 .5 .4 .5-.2 .5-.4 .5 .2 .5 0 .5-.2 .5 .2 .5-.2 .5-.1 .5-.4 .5 .2 .5 .4 .5 .1 .5-.9 .5 .9 .5-.3 .5 .1 .5-.2 .5 .2 .5 .1 .5-.2 .5 .5 .5 0 .5 0 .5 .9 .5-.4 .5-.2 .5 .1 .5 .6 .5-.1 .5-.2 .5 .4 .5-.2 .5 .3 .5 .4 .5-.5 .5-.2 .5 .5 .5-.6 .5 .3 .5-.4 .5 .5 .5 .2 .5-.7 .5-.1 .5 .3 .5-.2 .5-.1 .5-.3 .5 .5 .5 .5 .5-.9 .5 .5 .5 .4 .5-1.3 .5 .7 .5-.5 .5 .6 .5 .1 .5-.3 .5-.2 .5 0 .5 .1 .5 .1 .5 .8 .5-.4 .5-.2 .5 .2 .5 .1 .5 .4 .5-.7 .5-.2 .5 .4 .5-.6 .5 .5 .5-.4 .5-.2 .5 1.1 .5-.3 .5 .3 .5-.2 .5 .2 .5 .3 .5-.2 .5-.3 .5 .3 .5-.5 .5 .1 .5 .4 .5 .1 .5-1 .5 .3 .5 .7 .5-.5 .5 0 .5 .4 .5-.1 .5-.2 .5-.3 .5 .9 .5-.3 .5-.1 .5-.7 .5 .9 .5-1.4 .5 1.4 .5-.4 .5-.2 .5 .4 .5 .2 .5-.4 .5 .5 .5 0 .5 0 .5-.2 .5-.3 .5 .1 .5-.1 .5-.1 .5-.1 .5 .6 .5 .1 .5-.7 .5-.2 .5 .2 .5-.1 .5 .2 .5-.6 .5 .1 .5 .6 .5-.9 .5 .5 .5-.2 .5 .5 .5-1.4 .5 .3 .5 0 .5-.8 .5 .3 .5 .2 .5-.5 .5 .5 .5-.8 .5 1.2 .5-.7 .5 .2 .5 .6 .5 .1 .5-1.2 .5 .3 .5 .1 .5-.2 .5 .8 .5 .4 .5-1 .5 1.2 .5-.9 .5 .4 .5 .4 .5-.5 .5 .7 .5-.5 .5 0 .5 .2 .5 .1 .5 0 .5 .8 .5-.8 .5 .4 .5-.7 .5 .4 .5 .2 .5-.4 .5 .7 .5-.8 .5 .5 .5-.1 .5 .1 .5-.2 .5-.3 .5 .5 .5 .1 .5 .1 .5-.1 .5-.5 .5 .5 .5 .3 .5-.9 .5 .9 .5-.5 .5 0 .5-.4 .5-.3 .5 .7 .5-.5 .5-.4 .5 .3 .5-.5 .5 0 .5 1.1 .5-.9 .5 0 .5-.6 .5 .3 .5-.1 .5 1 .5-.3 .5-.4 .5 .2 .5-.1 .5-.5 .5 .6 .5 0 .5 .7 .5-.5 .5 0 .5 .1 .5 .4 .5-1 .5 .3 .5 .3 .5-.3 .5 .3 .5-.2 .5 1.5 .5-1.8 .5 .3 .5-.1 .5 1 .5-1 .5 1.1 .5-.7 .5-.2 .5 .3 .5-.6 .5 .6 .5 .4 .5 .2 .5-.8 .5 .4 .5 .2 .5-.4 .5 .6 .5-.4 .5-.7 .5 .7 .5-.8 .5 .7 .5-.5 .5 .4 .5-.1 .5 .7 .5-1.3 .5 .6 .5 .1 .5-1.4 .5 .9 .5 .3 .5-.3 .5 .4 .5-.1 .5-1.4 .5 .8 .5 .3 .5-.8 .5 1.7 .5-1.6 .5 .3 .5-.3 .5 .7 .5-1.2 .5-.1 .5 1.1 .5-1.8 .5 1.6 .5-.5 .5 .1 .5 .6 .5 .3 .5-.3 .5-.3 .5-.1 .5-1.1 .5 1.8 .5-2.1 .5 .7 .5 1.1 .5-.6 .5 .5 .5-1.7 .5 .7 .5 3 .5-3.4 .5 .7 .5-2.8 .5 3.3 .5-.4 .5-1.3 .5 2.2 .5 .6 .5-1.8 .5 2.1 .5-.7 .5-1.4 .5-2.1 .5 1.6 .5 .8 .5-.1 .5-2.7 .5 1.6 .5-1.1 .5 1.6 .5 2.5 .5-5.8 .5 1.3 .5 4.2 .5-4.4 .5 4.1 .5 .5 .5-9.8 .5-3.9 .5-7.9 .5 1.6 .5 17.8" stroke="#0000ff"/>
<path d="M20,348.3l.5 2.9 .5 .9 .5 1 .5-.3 .5 1.5 .5 .1 .5-.3 .5 .6 .5-.9 .5 1 .5 .3 .5-1 .5 1 .5-.1 .5-.5 .5-.2 .5-.4 .5 .2 .5 .2 .5 .7 .5-.7 .5 .5 .5-.4 .5-.1 .5 .2 .5 .3 .5-.4 .5 .2 .5-.4 .5-.2 .5 .5 .5 .1 .5-1 .5 .7 .5 .3 .5-.5 .5-.4 .5 .5 .5-1.1 .5 1.3 .5 .2 .5 0 .5-.1 .5 0 .5 .1 .5-.5 .5 .1 .5-.5 .5 1 .5-.8 .5 .4 .5-.7 .5 .5 .5-.1 .5 .5 .5 .1 .5-.6 .5-.7 .5 .8 .5-.6 .5 1.2 .5-1 .5 .8 .5-.3 .5-.2 .5-.3 .5 .5 .5-.6 .5 1.3 .5-.5 .5-1.1 .5 .2 .5 1.2 .5-.5 .5-.2 .5 .6 .5 .1 .5-.9 .5 1 .5-.2 .5-.1 .5-.1 .5-.2 .5-.6 .5 1.2 .5-.2 .5 .2 .5 .4 .5-1 .5 .5 .5-.1 .5 .1 .5 0 .5-.5 .5-.1 .5 .4 .5 .2 .5-1.1 .5 .6 .5 .6 .5 0 .5-1.8 .5 .8 .5-.6 .5-.6 .5 0 .5-1.2 .5 .2 .5-.9 .5-2.3 .5-.1 .5-.8 .5-1.9 .5-2.4 .5-1.3 .5-1.8 .5-1.3 .5-1.3 .5-2.1 .5-1.3 .5-1.8 .5-1.4 .5-.5 .5-1.9 .5-1 .5 .6 .5 0 .5 .1 .5 1.5 .5 1.4 .5 2.4 .5 1.8 .5 1.8 .5 2.1 .5 2.1 .5 2.9 .5 .6 .5 1.6 .5 1.8 .5 .5 .5 1.3 .5 .6 .5 1.4 .5 .2 .5 .2 .5-.3 .5 1.6 .5-.1 .5 .9 .5-.1 .5-.2 .5 .4 .5 0 .5-.8 .5 .6 .5 .1 .5-.2 .5-.1 .5 .3 .5 .1 .5 0 .5-.1 .5-.1 .5 .2 .5-.1 .5-.6 .5 .4 .5 .6 .5-.9 .5 .6 .5-.1 .5 0 .5-.5 .5 .3 .5-.3 .5 .9 .5-1 .5 .2 .5-.1 .5-.9 .5-.3 .5 1.3 .5-.7 .5 .5 .5-.9 .5 .5 .5-.7 .5 .1 .5-1.2 .5 .2 .5-1.1 .5-.6 .5-1.7 .5-.7 .5-1.3 .5-.7 .5-2 .5-1.2 .5-1.4 .5-.7 .5-.2 .5 .3 .5 .5 .5 1 .5 1.3 .5 2 .5 .9 .5 .8 .5 1.8 .5 .8 .5 1.5 .5-.1 .5 1 .5 0 .5 1.2 .5-.8 .5 .5 .5 .4 .5 .4 .5 0 .5-.4 .5-.6 .5 .9 .5 .1 .5-1.4 .5 1.3 .5-.7 .5-.4 .5-.2 .5 .4 .5-.4 .5 0 .5 .2 .5-1 .5 .5 .5-.3 .5-1.1 .5-.1 .5 .4 .5-.8 .5-.4 .5 .2 .5-.9 .5-.5 .5-.4 .5-.6 .5-.6 .5 .2 .5-1 .5-.3 .5 .1 .5-1.5 .5 .7 .5-1.3 .5 0 .5-1.5 .5-.3 .5-1.8 .5-1 .5-3.2 .5-1.7 .5-3.8 .5-3.9 .5-5.9 .5-5.9 .5-6.9 .5-7.3 .5-8.5 .5-7.5 .5-6.7 .5-4.9 .5-3.1 .5-1 .5 1.9 .5 4.9 .5 6 .5 8.4 .5 8.3 .5 8.4 .5 7.8 .5 7.2 .5 6.1 .5 5.3 .5 4.6 .5 2.9 .5 3.4 .5 1.9 .5 2 .5 1.1 .5 .4 .5 1 .5 1 .5 .1 .5 .4 .5 .2 .5 .3 .5-.5 .5 .3 .5 .3 .5 0 .5 .6 .5-.8 .5 .3 .5 0 .5-.1 .5-.8 .5 .3 .5-.7 .5 0 .5-.5 .5 .1 .5-.6 .5-.3 .5 .1 .5-.7 .5 .1 .5 0 .5-.1 .5-.7 .5 .4 .5 .2 .5 0 .5 .3 .5 .7 .5-.1 .5 .5 .5-.4 .5 1.3 .5-.7 .5 .3 .5 1.1 .5 .3 .5 .2 .5-.2 .5 .2 .5 0 .5 .9 .5-.2 .5 .2 .5 .1 .5 .2 .5-.1 .5-.2 .5 .4 .5 .5 .5 .5 .5-.2 .5-.8 .5 .5 .5-.4 .5 .5 .5 .1 .5-.7 .5 .8 .5-.7 .5 .4 .5-.4 .5 .2 .5-.6 .5 .8 .5 0 .5 .4 .5-.3 .5-.1 .5 .3 .5-.4 .5 .4 .5-.4 .5 .5 .5-.1 .5-.4 .5 .1 .5-.3 .5 0 .5 .4 .5 0 .5-.6 .5 .3 .5-.4 .5 .6 .5-.1 .5-.3 .5 .1 .5 .4 .5 0 .5-.8 .5 .1 .5 .1 .5-.4 .5 .1 .5 .4 .5-.2 .5 .4 .5-.1 .5 .6 .5-.3 .5 .1 .5-.5 .5-.1 .5 1.1 .5-.5 .5-.4 .5-.5 .5 1.4 .5-.8 .5 .4 .5 0 .5 0 .5 .1 .5-.7 .5 .3 .5-.7 .5 .7 .5-.3 .5 .2 .5-.2 .5 .9 .5-.5 .5-.2 .5 .2 .5-1.7 .5 1 .5 .2 .5 .1 .5 0 .5-.3 .5 .1 .5 .5 .5-.2 .5 .7 .5-.9 .5-.5 .5 .4 .5-.6 .5 .3 .5 .3 .5 .7 .5-.9 .5 1.1 .5-.4 .5-.2 .5 .3 .5 0 .5 .5 .5-.1 .5-.4 .5-.3 .5 .4 .5 .8 .5-.8 .5 0 .5 .3 .5 .1 .5-.4 .5-.6 .5 .6 .5 0 .5 .7 .5-.5 .5-.5 .5 1 .5-.2 .5 .1 .5 .1 .5-.2 .5 0 .5-.2 .5 .2 .5 .1 .5-.1 .5-.6 .5 .1 .5 .7 .5-.3 .5 .2 .5-.3 .5 .3 .5 .2 .5-.4 .5 .4 .5-.7 .5 .2 .5-.3 .5 .3 .5 .1 .5-.4 .5 .9 .5 0 .5 .3 .5-1.5 .5 .5 .5 .2 .5 .2 .5-.7 .5 .4 .5 .6 .5-.7 .5 .2 .5 .1 .5 .1 .5-.3 .5-.7 .5 .5 .5 .3 .5-.5 .5 .1 .5 .7 .5-.3 .5-.4 .5 .8 .5-.6 .5 .3 .5-.4 .5 0 .5 .3 .5-.1 .5 0 .5-.2 .5-.4 .5 1.5 .5-1.7 .5 .9 .5-.6 .5-.5 .5 .7 .5 0 .5 0 .5-1.2 .5 1.2 .5-.7 .5 .1 .5 .4 .5 .3 .5-.7 .5-.1 .5 .7 .5-.6 .5-.4 .5 1.1 .5-.8 .5 .3 .5-.1 .5-.1 .5 .2 .5 .2 .5 .2 .5-1 .5 .3 .5 .7 .5 0 .5-.5 .5 0 .5 .5 .5-.9 .5 .5 .5 0 .5 .1 .5-.5 .5 .1 .5 0 .5-.1 .5 .1 .5 .3 .5 .5 .5-1.1 .5 .9 .5-.5 .5-.1 .5 .3 .5 .3 .5-.5 .5 .4 .5 .7 .5-1 .5-.1 .5 .2 .5 .3 .5 .5 .5-.2 .5 0 .5-.2 .5 .5 .5 .2 .5-1.2 .5 .2 .5-.4 .5 .8 .5-.2 .5 .1 .5 .2 .5-.5 .5 .5 .5-.2 .5 .1 .5 0 .5 .5 .5-.4 .5 .4 .5-.9 .5 .3 .5 .7 .5-.3 .5 .2 .5 0 .5 .1 .5 .1 .5 .4 .5-1 .5-.2 .5 .4 .5 .1 .5-.7 .5 .9 .5-.6 .5 .2 .5 .2 .5 0 .5-.1 .5 0 .5 0 .5-.6 .5 1.4 .5-.6 .5 .4 .5-.5 .5 0 .5-.2 .5 .7 .5-1.2 .5 1.2 .5-.4 .5 .1 .5-1.1 .5-.1 .5 .6 .5-.2 .5 .3 .5-.5 .5 .4 .5-.3 .5-.7 .5 .5 .5 .2 .5 .5 .5 .6 .5-2 .5 1.1 .5 .5 .5-1.2 .5 .6 .5-.6 .5 .5 .5-.3 .5 0 .5-.4 .5 .8 .5 .4 .5-1.2 .5 .4 .5 .5 .5-.8 .5 0 .5 .7 .5 1 .5-1.2 .5 .2 .5 0 .5-.1 .5-.5 .5 .5 .5 .6 .5-.6 .5-.3 .5 .4 .5-.4 .5 .5 .5-1 .5 .9 .5-1.2 .5 .4 .5-.8 .5 1.2 .5-.5 .5-.4 .5 .2 .5-.4 .5 .6 .5-.4 .5 0 .5-.2 .5 1.4 .5-.9 .5-.1 .5-.1 .5-.1 .5 .9 .5-.4 .5 .1 .5 .4 .5 0 .5-.3 .5 .4 .5 .4 .5 0 .5-.5 .5 .3 .5-1 .5 .3 .5 .7 .5-.7 .5 .7 .5-.3 .5 .2 .5 .2 .5-.5 .5 .4 .5 .6 .5-1 .5 .9 .5-.6 .5 .6 .5-.2 .5 .1 .5 1 .5-.5 .5-.4 .5-.5 .5 .8 .5-.3 .5-.5 .5 .1 .5 .7 .5-.9 .5 .6 .5-.1 .5-.2 .5 .1 .5-.2 .5 .5 .5-1 .5 .6 .5 .1 .5-.5 .5-.5 .5 1.2 .5-.1 .5-1.1 .5-.3 .5 1.4 .5-.9 .5 .5 .5 0 .5-.3 .5-.7 .5 .4 .5 .4 .5 .1 .5-.6 .5 .9 .5-.5 .5-.2 .5-.1 .5 .3 .5-.4 .5 .5 .5-.3 .5 .9 .5-.6 .5-.1 .5 0 .5 .7 .5-.3 .5 .4 .5-.6 .5 .6 .5-1 .5 1.8 .5-1.5 .5 .3 .5 .1 .5 .5 .5-.7 .5-.7 .5 .9 .5 .2 .5-1 .5 .3 .5 .6 .5-.5 .5-.2 .5 .9 .5-.7 .5-.4 .5 .8 .5-.6 .5-.3 .5 1 .5-.6 .5 .5 .5-.7 .5-.4 .5 .2 .5 .3 .5-.3 .5 1 .5-.7 .5-.5 .5 .1 .5 .8 .5-.6 .5 .1 .5-.8 .5 .4 .5 .4 .5 0 .5-1.1 .5 .5 .5 .2 .5-.2 .5-.8 .5 .7 .5 .3 .5 .1 .5 .2 .5-.1 .5-.3 .5 .4 .5 .1 .5 .1 .5 0 .5 .4 .5-.3 .5-.4 .5 1.2 .5-.4 .5 .2 .5-.2 .5 .5 .5-.1 .5-.1 .5-.4 .5-.2 .5 .6 .5-1 .5 .3 .5 .6 .5-.4 .5-.9 .5 .8 .5 .3 .5-.1 .5-.1 .5 1 .5-.9 .5-.3 .5-.1 .5 .1 .5 .7 .5 .4 .5-.9 .5-.1 .5 .2 .5 .1 .5-.4 .5-.3 .5-.1 .5 .2 .5-.2 .5 .2 .5 .5 .5 0 .5-.5 .5 .2 .5 .2 .5-.9 .5 .2 .5 .1 .5-.6 .5 1.2 .5-.7 .5 .2 .5-.3 .5 1.1 .5-1.2 .5 .6 .5-.1 .5 .6 .5-1 .5 .5 .5-.6 .5 .3 .5 .2 .5 .1 .5 .5 .5-.7 .5 .9 .5-1.1 .5 1.1 .5-.5 .5 .2 .5 .1 .5-.2 .5 .1 .5-1 .5 .4 .5 .2 .5-1 .5 .2 .5 .4 .5 .3 .5 .5 .5-1.1 .5 1.4 .5-1.3 .5 .8 .5-.3 .5 .3 .5 .6 .5-1.1 .5 .8 .5-.3 .5-.2 .5 .4 .5-.7 .5 1 .5-.8 .5 0 .5 .8 .5 0 .5-.9 .5 .1 .5-.7 .5 .5 .5-.2 .5 .6 .5-.7 .5-.2 .5 .8 .5-.5 .5-.8 .5 .3 .5 1.1 .5-.8 .5-.1 .5-.2 .5-.8 .5 .6 .5 0 .5 .4 .5-.2 .5-.2 .5 .1 .5-1.1 .5-.6 .5 1.8 .5-1.4 .5 1.9 .5-.7 .5-2.4 .5 2.1 .5-.4 .5 .5 .5 .3 .5 .5 .5-2.3 .5 2.4 .5-1.8 .5-.3 .5 .3 .5 1.3 .5-.5 .5 .7 .5 .1 .5-2.9 .5 4.1 .5-3.9 .5-1 .5-.5 .5 2.2 .5 .9 .5-1.4 .5 2.1 .5-1.2 .5-.3 .5 2.3 .5-.9 .5-1.9 .5 2.2 .5-.7 .5 .8 .5 2.1 .5-4.7 .5-.2 .5-1 .5 2.1 .5-6.7 .5-5.3 .5-.2 .5-4.7 .5 18.3" stroke="#0000ff"/>
<path d="M20,358l.5 1.4 .5 2.1 .5 .5 .5 .5 .5 .5 .5 .3 .5-.5 .5 .3 .5 1.2 .5-.9 .5 .2 .5 .4 .5-.2 .5 .1 .5 .6 .5-.5 .5-.5 .5 .4 .5 .8 .5 .1 .5-.2 .5-.1 .5-.2 .5-.2 .5-.7 .5 .7 .5-.1 .5 .2 .5-.2 .5 .1 .5 .1 .5 .7 .5-1.2 .5 .3 .5 .6 .5-1.3 .5 .7 .5-.2 .5 .1 .5 0 .5 0 .5-.3 .5-.6 .5 .6 .5-.2 .5 .6 .5-.4 .5-.1 .5-.9 .5-.8 .5 1.9 .5-.5 .5-.3 .5-1.3 .5 1.5 .5-.4 .5-.7 .5 1.2 .5-.3 .5 .3 .5 .2 .5 .2 .5 .3 .5-1.1 .5 .4 .5-.2 .5 .2 .5-.1 .5 .1 .5-.3 .5 .7 .5-.8 .5-.4 .5 .6 .5 .4 .5-.2 .5-.7 .5 0 .5 .5 .5 .4 .5-.6 .5-.1 .5 .2 .5-.6 .5-.6 .5 1.3 .5-.9 .5 .5 .5 .2 .5-.5 .5-.2 .5 .2 .5-.3 .5 .4 .5 .1 .5-.6 .5 .6 .5-.1 .5-.8 .5 .8 .5-.2 .5 .1 .5-.9 .5-.8 .5 .5 .5-1.3 .5 .6 .5-1 .5-.7 .5-.6 .5-1.1 .5-1.4 .5-.6 .5-.8 .5-1.2 .5-1.8 .5-1.7 .5-.9 .5-1.4 .5-1.2 .5-1.2 .5-2.2 .5-.3 .5-.9 .5-.7 .5-.9 .5 .1 .5 .7 .5 .1 .5 1.5 .5 .6 .5 1.7 .5 1.5 .5 2.6 .5 2.1 .5 .9 .5 1.9 .5 1.3 .5 2 .5 .1 .5 1.6 .5 .9 .5 .4 .5 .3 .5 .7 .5 .8 .5 .4 .5 0 .5 .6 .5-.4 .5 .2 .5 .2 .5 .1 .5-.1 .5 .7 .5-.1 .5 .1 .5-.6 .5 .4 .5-.1 .5 .6 .5-.1 .5 .2 .5-.2 .5 .1 .5-.7 .5 .3 .5-.2 .5 .3 .5 .3 .5-.7 .5 .4 .5 .4 .5-.5 .5 .2 .5 0 .5 0 .5 .6 .5-.5 .5 .2 .5-.4 .5 0 .5 0 .5 .2 .5 .2 .5-.4 .5-.2 .5 .2 .5-.2 .5-.6 .5-.3 .5-1.6 .5 0 .5-.7 .5-1.1 .5-.9 .5-1.3 .5-1.7 .5-.2 .5-2.2 .5-.6 .5-.6 .5-.4 .5-.2 .5 1.3 .5 0 .5 1.4 .5 1.1 .5 1.8 .5 .2 .5 1.9 .5 .8 .5 .6 .5 1.2 .5 .6 .5-.3 .5 .9 .5 .2 .5 .4 .5-1.3 .5 1.4 .5-1.6 .5 1 .5 .8 .5-.1 .5-.4 .5-.5 .5 .1 .5-.1 .5-.4 .5 .2 .5 0 .5-.8 .5 .1 .5-.3 .5-.4 .5 .4 .5-1.2 .5 .5 .5-.9 .5-.8 .5 .5 .5-.1 .5-.6 .5-.3 .5-.4 .5-.4 .5-1.2 .5-.3 .5-.4 .5-.1 .5 0 .5-.7 .5-.3 .5-.8 .5 .3 .5-1.4 .5-.1 .5-1.1 .5-1.3 .5-1 .5-.6 .5-2.2 .5-1.9 .5-2.9 .5-4.2 .5-4.6 .5-5.3 .5-5.8 .5-6.1 .5-8.1 .5-7.6 .5-6.9 .5-6.7 .5-3.8 .5-3.8 .5 .5 .5 2.2 .5 4.4 .5 7.5 .5 7.2 .5 8.7 .5 7.3 .5 8.1 .5 6.5 .5 6.6 .5 5.3 .5 3.4 .5 3.7 .5 3.4 .5 1.9 .5 1.8 .5 1 .5 .7 .5 .4 .5 .6 .5 .9 .5-.1 .5-.4 .5 .8 .5 .1 .5-.4 .5 .7 .5 .1 .5-.6 .5 .4 .5-.3 .5 .1 .5-.1 .5-.8 .5-.2 .5 0 .5 .1 .5-.4 .5-.5 .5-.3 .5-.5 .5 0 .5-.1 .5-.5 .5 .3 .5-.1 .5 .2 .5-.2 .5-.9 .5 1.3 .5 .5 .5-.5 .5 .8 .5 .2 .5 .1 .5 .8 .5-.2 .5 .2 .5 .8 .5-.3 .5 .7 .5 .4 .5 .4 .5-.6 .5 .7 .5 .3 .5-.3 .5 .9 .5 .3 .5-.1 .5 .1 .5 0 .5 .2 .5-.2 .5 .2 .5-.2 .5 1 .5 0 .5-.3 .5-.4 .5-.3 .5-.3 .5 .6 .5 .3 .5-.4 .5 .7 .5-.1 .5-.2 .5-.3 .5-.9 .5 .2 .5 .6 .5-.4 .5 .5 .5-.3 .5-.1 .5 .2 .5 .3 .5-.6 .5 .5 .5-1.3 .5 1.4 .5-.3 .5-.3 .5 .9 .5-1 .5 .4 .5-.3 .5 .1 .5 .1 .5-.4 .5 .2 .5-.5 .5 .3 .5-.4 .5 1.3 .5-1.2 .5 .3 .5 .1 .5 .9 .5-1 .5 .2 .5 .2 .5 0 .5-.4 .5 .2 .5-.3 .5 .4 .5 .1 .5-.5 .5 1.2 .5-.6 .5 .2 .5-.4 .5 0 .5 .3 .5-.5 .5-.4 .5 0 .5 1 .5-.3 .5 .4 .5-.1 .5 0 .5 0 .5 .3 .5 0 .5-.2 .5 .5 .5-1 .5 .5 .5-.1 .5 .4 .5-.7 .5 .3 .5 .3 .5-.6 .5-.1 .5 .4 .5-.4 .5 0 .5 0 .5-.1 .5 .1 .5 .9 .5-.9 .5 .7 .5-.8 .5 .3 .5 .2 .5-.6 .5 .8 .5-1.3 .5 1.6 .5-.6 .5 .3 .5 0 .5-.4 .5 .7 .5-.3 .5 .4 .5 .1 .5-.2 .5-.7 .5 1.2 .5-1.3 .5 .5 .5 .7 .5-1.2 .5 0 .5 .4 .5 .4 .5-.7 .5 0 .5 .3 .5 .4 .5 .1 .5-.1 .5-.8 .5 1 .5-1.2 .5 .7 .5-.5 .5 .5 .5-.5 .5 .5 .5-.5 .5 .6 .5 .2 .5-.2 .5-.4 .5 .1 .5-.2 .5 .3 .5 .4 .5-.8 .5-.2 .5 1.6 .5-.9 .5-.4 .5 .1 .5 .2 .5-.1 .5-.4 .5 .3 .5 0 .5 .4 .5-.8 .5 .8 .5-.6 .5-.2 .5 .2 .5-.8 .5 1.2 .5 .2 .5-.9 .5-.2 .5 .2 .5 .5 .5-.4 .5 0 .5 1.3 .5-1.3 .5-.5 .5 .5 .5-.2 .5 .1 .5-.8 .5 1.3 .5-.5 .5 .3 .5-.5 .5 0 .5 1.1 .5-1.2 .5 .3 .5 0 .5-.4 .5 .2 .5 .7 .5-.3 .5-.7 .5 .6 .5 0 .5-1.5 .5 1.2 .5 .2 .5 0 .5-.1 .5 .5 .5-.6 .5 .7 .5 0 .5-.6 .5 .7 .5-.3 .5 .1 .5-.5 .5 0 .5-.4 .5 .2 .5 .5 .5-.3 .5-.4 .5 .2 .5-.4 .5 .5 .5 .2 .5-.7 .5 0 .5 .1 .5 .1 .5-.4 .5 .2 .5 .4 .5 .4 .5-.1 .5-.2 .5 .3 .5-.3 .5-.1 .5 .7 .5-.8 .5 .2 .5-.5 .5 .1 .5 0 .5 .3 .5-.4 .5 .7 .5-.8 .5 .7 .5-.5 .5-.1 .5 .2 .5-.1 .5-.3 .5 1.3 .5-.6 .5-.1 .5-1 .5 1.4 .5 .2 .5-.6 .5-.1 .5 1.2 .5-1.3 .5 1 .5-.8 .5 .5 .5 .6 .5-.8 .5 .2 .5-.1 .5 .8 .5-.3 .5 .4 .5-.5 .5 .5 .5-.1 .5-.5 .5 1.1 .5-1.7 .5 1.2 .5 .3 .5-.6 .5 .1 .5 .1 .5-1 .5 .8 .5 0 .5 .2 .5-.1 .5-.9 .5 .7 .5 0 .5 0 .5 .5 .5-1.4 .5 .4 .5 .4 .5 0 .5 .3 .5-.1 .5-.2 .5-.3 .5 .2 .5-.2 .5 .4 .5-.4 .5-.1 .5 .2 .5 .4 .5-.4 .5-.2 .5-.1 .5 .3 .5 .2 .5-.1 .5 .6 .5 .1 .5 .2 .5-.4 .5-.5 .5-.1 .5 .1 .5-.2 .5-.5 .5 1.7 .5-.2 .5-.2 .5-.8 .5 0 .5 1.1 .5-1.1 .5 .1 .5 .4 .5-.7 .5 0 .5-.3 .5 .7 .5 .4 .5-.6 .5 .2 .5-.4 .5-.6 .5 .4 .5 .2 .5-.3 .5 .3 .5-.4 .5-.8 .5 .9 .5-.2 .5 .3 .5-.5 .5 1 .5-.2 .5 0 .5-.7 .5 0 .5 .7 .5 .2 .5 0 .5 .1 .5-.5 .5 .3 .5-.7 .5 .2 .5 .3 .5 0 .5 .6 .5-.2 .5 0 .5-.6 .5-.3 .5 1 .5-.5 .5 1 .5-.7 .5 .2 .5-.7 .5 .6 .5 0 .5 .2 .5 0 .5-.3 .5 .2 .5-.5 .5 1 .5 0 .5-.8 .5 .4 .5 .3 .5-.3 .5 .1 .5-.7 .5 .5 .5-.4 .5-.1 .5 .6 .5-.1 .5 .6 .5-.5 .5-.5 .5 .5 .5 .2 .5-1.1 .5 .6 .5 .3 .5-.1 .5-.4 .5 .2 .5-.1 .5 .9 .5-.4 .5-.1 .5-.4 .5 .8 .5-.2 .5-1.2 .5 .8 .5 .7 .5 0 .5-.9 .5-.3 .5 .7 .5 .2 .5-.7 .5 .4 .5 .4 .5 0 .5-.4 .5 .6 .5 .6 .5-1.2 .5 .3 .5-.7 .5 .9 .5 .4 .5-.3 .5-.8 .5 1.2 .5-.3 .5 .2 .5-.2 .5-.3 .5 .6 .5 0 .5-.5 .5 .2 .5 .1 .5-.5 .5 .5 .5-.1 .5-.3 .5-.3 .5 1 .5-1.2 .5 .6 .5 .3 .5 .2 .5-.2 .5-1 .5 1.1 .5-.4 .5-.9 .5 .4 .5-.2 .5 .4 .5-.3 .5-.5 .5 1.2 .5-.7 .5 .1 .5-1.5 .5 1.2 .5 .5 .5-.9 .5 0 .5-1 .5 1.3 .5 .9 .5-.5 .5-1.4 .5 1.1 .5-.5 .5 1 .5-.2 .5-.5 .5-.2 .5-.1 .5 .8 .5-.3 .5-.8 .5 .8 .5-.5 .5 .5 .5 1.2 .5-.9 .5 .6 .5 0 .5-1.1 .5 1.3 .5-.9 .5-.2 .5 .8 .5-.3 .5 .2 .5-.5 .5 .7 .5-.8 .5 .3 .5-.3 .5 .5 .5-.2 .5 .3 .5-.4 .5 .2 .5-.3 .5 .5 .5-.3 .5 .2 .5 .3 .5-.4 .5-.2 .5-.8 .5 1 .5-.9 .5 0 .5 .1 .5-.3 .5 .7 .5-.4 .5 .2 .5-.6 .5 .4 .5-.8 .5 .7 .5 0 .5-.3 .5 .6 .5-.3 .5 .3 .5-.2 .5 .2 .5-.7 .5 1.3 .5-.2 .5 .1 .5-.1 .5 .5 .5-.5 .5 .6 .5-.8 .5-.6 .5 .7 .5 .2 .5-.2 .5 0 .5-.8 .5 1.2 .5-.4 .5 .5 .5-.9 .5 .7 .5 0 .5 .2 .5-.7 .5 .5 .5-.5 .5-.5 .5 1.2 .5-.6 .5 .5 .5-.1 .5-.4 .5 .4 .5-1 .5 .2 .5-.2 .5-.3 .5 1 .5 .3 .5 .1 .5-.5 .5-.2 .5-.1 .5-.1 .5-.4 .5 0 .5-.3 .5 .5 .5 0 .5-.1 .5-.5 .5 0 .5 1 .5-.8 .5-.3 .5-.7 .5 1.9 .5-1.3 .5-.6 .5-.4 .5 1.7 .5-.6 .5-.4 .5 0 .5-.2 .5 0 .5 .4 .5 0 .5 .4 .5 .2 .5-.3 .5-.9 .5 .2 .5-.5 .5-1.2 .5 0 .5 .5 .5 2 .5-1.8 .5 .1 .5 0 .5-.3 .5 .8 .5 1.3 .5-2.6 .5 1.7 .5-.8 .5 1.2 .5-1.3 .5 .8 .5-.7 .5 1.6 .5-3.9 .5 1.6 .5-2.8 .5 4.3 .5 1.6 .5-1.6 .5-.7 .5-.5 .5 .1 .5-1.3 .5 .6 .5 1.4 .5 .2 .5-1.2 .5-4.1 .5 4 .5 3.1 .5-.9 .5-3.9 .5-.6 .5 1.4 .5-.2 .5-8 .5-4.4 .5-7.8 .5 6.6 .5 13.6" stroke="#0000ff"/>
<path d="M20,365.9l.5 1.6 .5 1.9 .5 .5 .5 .3 .5 1.3 .5-.5 .5 .4 .5-.1 .5 .4 .5 .5 .5 0 .5 0 .5-.2 .5 0 .5-.4 .5 .3 .5-.1 .5-.3 .5 .2 .5 0 .5 .4 .5 .1 .5-.6 .5 .1 .5 .7 .5-.1 .5-.4 .5 .1 .5-.4 .5 .6 .5-.4 .5-.6 .5 .5 .5 .9 .5-.8 .5-.7 .5 1 .5-.6 .5 1.1 .5-.3 .5-1.2 .5 .4 .5 .4 .5 0 .5 0 .5-.3 .5 0 .5 .5 .5-.7 .5 .3 .5 .8 .5-.6 .5-.1 .5-.3 .5 .8 .5-.8 .5-.1 .5 .5 .5-.3 .5 .6 .5 0 .5-1 .5-.1 .5 .1 .5 .1 .5 .6 .5-.5 .5-.2 .5 1.3 .5-1.6 .5 .2 .5 .5 .5-.8 .5 .2 .5 .4 .5 .8 .5-.6 .5-.5 .5 .4 .5 .9 .5-.5 .5-.3 .5 .5 .5-.7 .5 .1 .5-.9 .5 1.4 .5-.2 .5-.6 .5 .2 .5 .1 .5 .2 .5-.5 .5-.1 .5 .6 .5-1 .5 .4 .5-.4 .5 .5 .5 .4 .5-.5 .5-.1 .5-1 .5-.6 .5 .3 .5 .1 .5-1 .5-.8 .5 .1 .5-.9 .5-1.5 .5 .3 .5-1.4 .5-1.2 .5-.2 .5-1.1 .5-1.3 .5-1.1 .5-1.9 .5-.9 .5-.7 .5-2.3 .5-.8 .5 .3 .5-.5 .5-.5 .5-1.3 .5 1 .5-1 .5 .7 .5 .8 .5 1.2 .5 1.9 .5 2.1 .5 .4 .5 1.9 .5 .9 .5 2.3 .5 .8 .5 2 .5 .5 .5 1 .5 1.5 .5-.1 .5 .1 .5 1.4 .5 .1 .5 .6 .5 .6 .5 .6 .5 .3 .5-1 .5 .5 .5 .9 .5-1.3 .5 .1 .5-.3 .5 .5 .5-.4 .5 .1 .5-.4 .5 1 .5-.5 .5 .4 .5-.1 .5-.6 .5 .7 .5-.4 .5-.5 .5 .2 .5 .4 .5-1.1 .5 .5 .5 .4 .5-.4 .5-.2 .5 1.2 .5-1.8 .5 1.2 .5 0 .5 .1 .5-.5 .5 .7 .5-.7 .5-.3 .5 .2 .5 .2 .5-.1 .5 .7 .5-1.7 .5 .9 .5-.1 .5-1.3 .5 0 .5-.8 .5-1 .5 .5 .5-2.8 .5-.1 .5-1.5 .5-1.5 .5-.6 .5-1.4 .5 0 .5-.7 .5-.4 .5 .6 .5 .9 .5 .1 .5 2.3 .5 1 .5 1 .5 1.8 .5 .9 .5 .7 .5 .8 .5 .3 .5 .5 .5 .9 .5-.1 .5-.2 .5 .6 .5-.2 .5-.1 .5 0 .5 .4 .5-.2 .5-.1 .5 0 .5-.4 .5-.1 .5-.5 .5 1.5 .5-1.4 .5 .1 .5-.5 .5-.2 .5-1 .5 .7 .5 0 .5-.4 .5-.1 .5-.5 .5-.6 .5-.7 .5 0 .5-.1 .5 .1 .5-1.7 .5 0 .5-.2 .5-1.3 .5-.1 .5 .1 .5-.7 .5-.4 .5-.4 .5-.7 .5-.5 .5-.5 .5-.6 .5-.1 .5-1.4 .5 0 .5-1.6 .5-1.4 .5-2 .5-2.2 .5-3.3 .5-4 .5-4 .5-5.2 .5-6.4 .5-6.4 .5-6.9 .5-7.2 .5-7.2 .5-5.7 .5-4.3 .5-2.6 .5-.3 .5 2.4 .5 6 .5 5.6 .5 7.9 .5 6.6 .5 8.1 .5 7 .5 7.7 .5 5.9 .5 4.3 .5 4.8 .5 4 .5 2.2 .5 2.8 .5 1 .5 .8 .5 1.4 .5-.5 .5 .9 .5 1.5 .5 .3 .5 .3 .5 0 .5-.1 .5-.2 .5 0 .5 .3 .5-.4 .5-.6 .5-.1 .5-.2 .5 .7 .5-.3 .5-.7 .5-.5 .5 .7 .5-1.4 .5 .5 .5 0 .5-.2 .5 0 .5-.7 .5 .3 .5-.6 .5 .6 .5 .1 .5 0 .5 .2 .5 .9 .5-.9 .5 1.6 .5-1.1 .5 1 .5 .1 .5 .6 .5 .6 .5-.5 .5 1.6 .5-1 .5 .9 .5 .5 .5 0 .5 0 .5 .1 .5-.1 .5 .1 .5 .1 .5-.2 .5 .2 .5 .4 .5 .9 .5-.9 .5 .3 .5-1 .5 .5 .5 .2 .5 .7 .5-.5 .5-.3 .5 .4 .5 .2 .5-.5 .5-.2 .5 1 .5-.1 .5-.4 .5 .2 .5 .5 .5 0 .5-.5 .5 0 .5-.1 .5 .1 .5-.3 .5 .5 .5 0 .5 .6 .5-1.6 .5 1.4 .5 .3 .5-.3 .5-.8 .5-.1 .5 .5 .5 .2 .5-.2 .5 .4 .5 0 .5-.1 .5-.5 .5 .2 .5-.2 .5 .1 .5 .3 .5 .4 .5-.2 .5-.1 .5-.6 .5 .2 .5 .2 .5-.3 .5-.1 .5 .6 .5 .2 .5-.9 .5 .8 .5-.5 .5-.7 .5 1.1 .5 .2 .5-.7 .5 .1 .5 0 .5 .2 .5-.8 .5 .2 .5 .5 .5-.1 .5 .6 .5-.1 .5-.3 .5-.4 .5 .1 .5-.5 .5 1.2 .5-1.3 .5 0 .5 1.2 .5-.8 .5 .1 .5 .7 .5-.4 .5 .7 .5-1 .5 .1 .5-.1 .5 .4 .5 .3 .5 0 .5 .5 .5-.3 .5-.8 .5 .1 .5 .4 .5 .2 .5-.2 .5-.1 .5 .4 .5-.8 .5 0 .5 .5 .5-1.1 .5-.1 .5 .4 .5 .2 .5-.1 .5 .7 .5-.6 .5-1.1 .5 1.5 .5-.1 .5-.1 .5-.1 .5-1 .5-.1 .5 1.5 .5-.2 .5-1 .5 .6 .5-.2 .5 .8 .5-1.4 .5 1.4 .5-.6 .5 .3 .5 .1 .5-.4 .5 .5 .5-1.1 .5 1.1 .5 .1 .5 .3 .5-.4 .5 1.1 .5-.5 .5 .1 .5-.3 .5 .2 .5-.3 .5 .9 .5-1.9 .5 1.4 .5-.5 .5-.1 .5-.6 .5 .3 .5 0 .5 .8 .5-.2 .5-.1 .5-.4 .5 .4 .5 .1 .5-.4 .5-.2 .5 .1 .5 .1 .5 1.1 .5-1.4 .5 1 .5-.9 .5 .5 .5-.1 .5-.5 .5 .2 .5 .5 .5 0 .5-.5 .5 .4 .5 0 .5 .1 .5 .1 .5 .4 .5-1.3 .5 .7 .5 .3 .5-.4 .5 .4 .5-.5 .5-.6 .5 1 .5 .6 .5-.9 .5 .5 .5-.5 .5 .7 .5-1 .5 .1 .5 .2 .5 .3 .5-.1 .5 .4 .5-.7 .5-.7 .5 .9 .5-.5 .5 .2 .5 .2 .5-.3 .5 .6 .5-.2 .5-.2 .5 .1 .5-.6 .5 .3 .5 0 .5 0 .5-.2 .5 .1 .5 .1 .5-.6 .5 .3 .5 .3 .5-1.5 .5 .8 .5 .7 .5-1 .5-.4 .5 .7 .5 0 .5-.2 .5 0 .5 .4 .5-.7 .5 .6 .5-.6 .5 .6 .5 .3 .5-.1 .5-.1 .5 .4 .5-.5 .5 1 .5-.5 .5-.9 .5 .2 .5 .4 .5 .4 .5 .4 .5-1.5 .5 .5 .5 .2 .5 .1 .5-.4 .5-.1 .5 .4 .5 .3 .5 .3 .5-.6 .5-.8 .5 1.1 .5 .1 .5-.1 .5 .2 .5 .2 .5-1 .5-.3 .5 .2 .5 .8 .5-.8 .5 0 .5-.5 .5 .1 .5-.1 .5 .6 .5-.5 .5 .1 .5 .4 .5 .2 .5-1.3 .5 .8 .5 .3 .5 0 .5-.3 .5 .1 .5 .2 .5-.5 .5 .7 .5-.6 .5 .3 .5 .2 .5-.5 .5 .3 .5 1.1 .5-1.3 .5 0 .5 .1 .5-.2 .5 .5 .5 .3 .5 .4 .5-.5 .5-.3 .5 .3 .5 .1 .5 .2 .5-.4 .5-.5 .5-.2 .5 .7 .5 .2 .5-.8 .5-.1 .5 1.4 .5 .1 .5-.7 .5 0 .5 .1 .5-.4 .5 .3 .5-.2 .5 .5 .5-.4 .5-.1 .5 .2 .5 .1 .5-.5 .5 .6 .5 0 .5-.1 .5 .9 .5-1.7 .5 .6 .5-.1 .5 0 .5-.2 .5 .7 .5-.4 .5-.4 .5 .8 .5-.7 .5 .2 .5 .3 .5-.5 .5 .5 .5 .2 .5 0 .5-1.5 .5 .8 .5-.6 .5 .9 .5 .8 .5-.3 .5-.6 .5 .9 .5-.4 .5 .6 .5 0 .5-.3 .5-.4 .5 .7 .5 0 .5 .3 .5 .6 .5-.5 .5 .2 .5-.2 .5 .1 .5-.4 .5 .3 .5-.4 .5 .6 .5 .3 .5-.6 .5 .6 .5-1.1 .5 .2 .5-.4 .5 .6 .5 .3 .5-.4 .5 .2 .5 .1 .5 .2 .5-.3 .5-.2 .5 .4 .5-.5 .5-.1 .5-.6 .5 .4 .5 .7 .5-.9 .5-.1 .5 .2 .5 0 .5-.1 .5-.1 .5-.1 .5 .1 .5 .5 .5-.2 .5-.1 .5 .1 .5 0 .5 .3 .5-.2 .5 0 .5 .1 .5-.5 .5 .2 .5 .1 .5 0 .5 .7 .5-.6 .5 0 .5-.1 .5 .1 .5 .5 .5-.9 .5 .4 .5 1.1 .5-1.3 .5 1 .5-.8 .5-.2 .5 1.5 .5-1.7 .5 .1 .5 1.4 .5-1 .5 .7 .5-1.1 .5 1.7 .5-1.4 .5 .3 .5-.3 .5 .2 .5 0 .5-.6 .5-.3 .5 .5 .5 .4 .5 0 .5-.2 .5 .1 .5-.7 .5 .1 .5 .3 .5-.9 .5 .9 .5-1 .5 .8 .5-.2 .5-1.5 .5 1.1 .5 0 .5 .8 .5-.5 .5 .8 .5-.3 .5-.4 .5-.2 .5-.1 .5 0 .5-.3 .5 .1 .5 .3 .5 .2 .5 .1 .5-.9 .5 .4 .5-.6 .5-.5 .5-.7 .5 .5 .5 .8 .5 .3 .5 .5 .5-.3 .5-1.1 .5 .2 .5 1 .5-.7 .5-.6 .5 .4 .5 .9 .5-.6 .5 .2 .5 .4 .5-.7 .5 .1 .5 1.2 .5 .5 .5-1.2 .5 .2 .5-.2 .5 .2 .5 0 .5-.5 .5 1 .5-.7 .5 .4 .5-.5 .5 .9 .5-.8 .5 .2 .5-.2 .5 .8 .5-.2 .5-.6 .5-.8 .5 .2 .5 .5 .5-.1 .5 1.1 .5 .5 .5-.8 .5-.1 .5-.2 .5-.2 .5 .3 .5-.2 .5-.4 .5 .3 .5-.2 .5-.2 .5-.1 .5 0 .5 0 .5-.1 .5 .7 .5 .1 .5-1 .5 .2 .5-.5 .5 .3 .5 .9 .5-.9 .5 0 .5 0 .5 .3 .5 .4 .5-.2 .5 .7 .5-.4 .5 0 .5 .4 .5-.2 .5-.5 .5 .3 .5 .7 .5-.3 .5 0 .5-.1 .5 .1 .5 .3 .5-.4 .5-.8 .5 .3 .5 .2 .5 .8 .5-.1 .5-.3 .5-.3 .5 .3 .5 0 .5 .7 .5-.4 .5-.7 .5 .4 .5-.6 .5-.4 .5 .6 .5-.3 .5 0 .5 .1 .5 .2 .5-.3 .5 .1 .5-.2 .5 .3 .5-.9 .5 .8 .5 .2 .5 .1 .5-.5 .5 .8 .5-.9 .5 .2 .5-.4 .5-.1 .5-.3 .5 .2 .5-.2 .5 .1 .5 .9 .5-.3 .5-.5 .5 .8 .5-.9 .5 0 .5 .3 .5-.7 .5-1 .5 2 .5-1.3 .5 .1 .5 .6 .5 1.5 .5-2.4 .5 .5 .5-.6 .5-.2 .5 .1 .5 .8 .5 .2 .5-.5 .5 1 .5-1.1 .5-2 .5 2.3 .5 .6 .5-1.8 .5-1.1 .5 3 .5 1.5 .5-4.2 .5 2 .5 0 .5-2.1 .5 1.4 .5-1.8 .5 2.5 .5-.7 .5 .2 .5 1.1 .5-2.9 .5 1.4 .5 .1 .5 2 .5-5.1 .5 1.6 .5-.8 .5 .6 .5 2.4 .5-.2 .5-2.2 .5 1.9 .5-2.3 .5 1.5 .5-2.8 .5 2.5 .5 2 .5-8.9 .5-6.3 .5-3 .5-.5 .5 18" stroke="#0000ff"/>
<path d="M20,374.9l.5 1.6 .5 1.6 .5 .6 .5 .5 .5 .3 .5 0 .5 1.2 .5-.7 .5 .3 .5 0 .5 .4 .5 .7 .5-.8 .5 .2 .5 0 .5-.4 .5 .2 .5-.2 .5-.7 .5 1.4 .5-.6 .5 .2 .5-.9 .5 1.4 .5-.5 .5-.8 .5-.4 .5 .6 .5 .2 .5 .1 .5 .1 .5-.5 .5 .3 .5 .1 .5 .5 .5-.7 .5 0 .5-.2 .5 .2 .5 .4 .5 .4 .5-1.1 .5 0 .5 .6 .5-.3 .5 .5 .5-.4 .5 .1 .5 0 .5 0 .5 .4 .5-.4 .5 .5 .5-.3 .5-.4 .5-.2 .5 .9 .5-.7 .5 .2 .5-.2 .5 .9 .5-.5 .5-.8 .5 .4 .5-.2 .5 .4 .5 0 .5 .2 .5-.4 .5-.1 .5 .1 .5 .3 .5-.8 .5 1.2 .5-.4 .5-.8 .5 .3 .5 .9 .5 .3 .5-.9 .5 .1 .5 .1 .5-.4 .5 .3 .5-.1 .5-.2 .5 .8 .5-.6 .5 .8 .5-1.1 .5-.2 .5 .2 .5 1.2 .5-1.1 .5 1 .5-1.4 .5 1.3 .5-.9 .5-.2 .5 .9 .5-.9 .5-.7 .5-.4 .5 0 .5-.1 .5-.9 .5-.2 .5-.4 .5-1 .5 .9 .5-1.8 .5-2.2 .5 1 .5-1.1 .5-.8 .5-1 .5-1.6 .5-.9 .5-.9 .5-1 .5-1.4 .5-.6 .5-2 .5 .2 .5-.4 .5-.7 .5-.1 .5-1.2 .5 .3 .5 .5 .5-.2 .5 .8 .5 1 .5 1.9 .5 .6 .5 1.2 .5 2.5 .5 .2 .5 .9 .5 2.1 .5 1.5 .5 .6 .5 1.1 .5 1.2 .5 .6 .5 0 .5 2 .5-.4 .5 .1 .5 .8 .5-1.2 .5 .6 .5 .4 .5 .8 .5-.7 .5-.2 .5 .4 .5-.2 .5-1.1 .5 1.3 .5 .4 .5-.1 .5-.7 .5 1 .5-.9 .5 .1 .5-.1 .5 .3 .5-.2 .5 0 .5 .5 .5 .3 .5-1.1 .5 .2 .5 .4 .5-.5 .5-.5 .5 1.2 .5-.5 .5 .5 .5-1.1 .5 .6 .5-.6 .5 .3 .5-.2 .5 .9 .5-.6 .5-.6 .5 0 .5 .1 .5 .2 .5 .2 .5-.6 .5-.7 .5 .3 .5-1 .5-.8 .5-.3 .5-1.2 .5-1.2 .5-.8 .5-1 .5-1 .5-1 .5-.9 .5-1.1 .5 0 .5-1.1 .5 1.4 .5 .8 .5 .9 .5 1.3 .5 .4 .5 1.8 .5 .7 .5 .4 .5 1.2 .5 1.3 .5 .6 .5 .5 .5 .4 .5-.2 .5 0 .5 .5 .5 0 .5 .1 .5 0 .5-.2 .5-.1 .5 .5 .5 .5 .5-.6 .5 .1 .5 .7 .5-.7 .5 0 .5 .3 .5-1.3 .5 1 .5-.7 .5-.6 .5 .8 .5-1.2 .5-.3 .5-.2 .5-.2 .5-1.2 .5 0 .5-.1 .5-.7 .5-.2 .5-.5 .5-.3 .5-1.1 .5-.1 .5-.4 .5-1.2 .5 .7 .5-.6 .5-1.3 .5-.8 .5 0 .5-.4 .5-.5 .5-.6 .5-.2 .5 .2 .5-1.6 .5-1.1 .5-2.4 .5-.9 .5-2.2 .5-4 .5-4.2 .5-3.9 .5-5.2 .5-6.7 .5-6.2 .5-6.5 .5-7.2 .5-6.6 .5-5.4 .5-4.4 .5-.7 .5 .2 .5 2.8 .5 4 .5 7.1 .5 6.3 .5 8.1 .5 7.1 .5 7.2 .5 6.9 .5 6.2 .5 4.4 .5 4.2 .5 3.6 .5 2 .5 2.8 .5 1.6 .5 1.3 .5 1.5 .5 .8 .5-.4 .5 .7 .5-.2 .5 .1 .5 .1 .5 1.2 .5-1.1 .5 .8 .5-.8 .5 .4 .5-1 .5 1.4 .5-.3 .5-.9 .5-.2 .5-.4 .5-.1 .5 .4 .5-.9 .5-.3 .5 .3 .5 .2 .5-.9 .5 .5 .5-.6 .5 1.1 .5-.1 .5-.4 .5 1.2 .5-.5 .5 .8 .5 .1 .5 .3 .5-.3 .5 1.3 .5 .5 .5 .2 .5 .2 .5 .3 .5 .5 .5-.2 .5-.1 .5 .7 .5 .3 .5-.5 .5 1 .5-1.5 .5 1 .5-.1 .5 .5 .5-.3 .5 .3 .5-.6 .5-.2 .5 .6 .5 .6 .5-.8 .5 .6 .5-.4 .5-.5 .5 .8 .5-.4 .5 0 .5-.4 .5 .2 .5-.2 .5-1.2 .5 1.2 .5 .2 .5-.6 .5 .2 .5 .3 .5 0 .5-1.1 .5 .9 .5 .4 .5-.4 .5-.1 .5-.3 .5-.1 .5 1.3 .5-.9 .5 0 .5-.1 .5 .8 .5-.8 .5-.3 .5 1.4 .5-1.1 .5 .9 .5-.9 .5 .8 .5-.2 .5-.2 .5-.1 .5 .1 .5-.1 .5 .1 .5 .1 .5-.4 .5 .4 .5-.3 .5 .9 .5-.4 .5 .7 .5-.9 .5 .3 .5 .6 .5-.8 .5-.2 .5 .1 .5 1.1 .5-.3 .5 .1 .5-.9 .5 .6 .5 .2 .5-.8 .5 0 .5-.1 .5 .6 .5-.7 .5 .4 .5 .7 .5-1.3 .5 .4 .5 .2 .5 .1 .5-.4 .5 0 .5 .7 .5-.7 .5 .8 .5-.2 .5 .1 .5 .3 .5-.4 .5-.8 .5-.1 .5 1 .5-.2 .5 .1 .5-.1 .5-.2 .5 .1 .5-.1 .5-.3 .5 .3 .5 .6 .5-.6 .5-.1 .5 1.2 .5 0 .5-1.1 .5 .5 .5 .6 .5-1 .5-.1 .5 .4 .5 .1 .5-.3 .5-.6 .5 .8 .5-.1 .5 .1 .5 .3 .5-1 .5 .1 .5 .8 .5-1.3 .5 .4 .5 .3 .5 .3 .5-.2 .5 0 .5-.4 .5 .5 .5-.1 .5 0 .5-.5 .5 .8 .5-.6 .5 0 .5-.2 .5 0 .5-.1 .5 0 .5-.1 .5 0 .5 .1 .5-.3 .5 .4 .5-.5 .5 .6 .5 .1 .5-.1 .5 .6 .5-.5 .5 0 .5-.2 .5 .5 .5-.6 .5 .6 .5 .1 .5-.9 .5 .1 .5 1.1 .5-.4 .5-.7 .5 .2 .5-.1 .5 .7 .5-.9 .5 .7 .5-.1 .5-.3 .5-.2 .5 1.3 .5-.8 .5 .5 .5-.2 .5 0 .5 0 .5-1.1 .5 1.2 .5 .2 .5 .3 .5-1.1 .5 .6 .5-.6 .5 1.4 .5-2 .5 1.2 .5 .3 .5-.9 .5 .6 .5 .4 .5-.8 .5 .8 .5-.8 .5-.7 .5 .8 .5-.9 .5 .6 .5-.4 .5-.2 .5 .4 .5-.2 .5 .2 .5-.3 .5 .3 .5 0 .5 .3 .5-.4 .5 .7 .5-.6 .5 .8 .5-.8 .5-.2 .5-.1 .5 .1 .5 .6 .5-.8 .5-.1 .5 .6 .5-.4 .5 .7 .5-.7 .5-.1 .5 1 .5-.9 .5 .1 .5 .7 .5 0 .5 .2 .5-.3 .5 .9 .5-1 .5-.4 .5 .7 .5-.3 .5 .4 .5-.3 .5 .1 .5-.3 .5 .4 .5 1.2 .5-2.1 .5 .9 .5 1 .5-1.3 .5 0 .5 .6 .5 .3 .5-.3 .5-.6 .5 1.2 .5-.6 .5 .3 .5-.5 .5 1.1 .5-1 .5-.5 .5 .7 .5-.4 .5-.3 .5 0 .5 .6 .5-.2 .5-.7 .5 .2 .5 .6 .5-.3 .5 .6 .5-.3 .5-.5 .5 .9 .5 0 .5-.4 .5-.4 .5 .5 .5-.2 .5 .8 .5-2.1 .5 1.1 .5 .4 .5-.2 .5-.4 .5 .9 .5-.4 .5-.2 .5 1.1 .5-.4 .5-.6 .5 .3 .5-.6 .5-.2 .5 .5 .5 .4 .5 .7 .5-1.2 .5-.1 .5 .8 .5 .1 .5-.3 .5-.7 .5 .9 .5 .1 .5-.7 .5 .4 .5 .4 .5 .1 .5 .1 .5 .3 .5-1.2 .5 .7 .5 .1 .5 .1 .5-.1 .5-.5 .5 .3 .5 .3 .5-.3 .5-.7 .5 .4 .5 .4 .5-.6 .5-.3 .5-.2 .5 .8 .5-1 .5 0 .5 .2 .5-.3 .5-.2 .5 .3 .5 0 .5-.7 .5 .4 .5-1.1 .5 .6 .5 .8 .5 .5 .5-1.3 .5-.2 .5 .8 .5 0 .5 .1 .5-.2 .5-.6 .5 .5 .5-.2 .5-.3 .5 .2 .5-.1 .5 .6 .5 0 .5-.5 .5 .1 .5-.1 .5 .3 .5 .1 .5 .3 .5 .4 .5-.8 .5 .7 .5-.3 .5-.1 .5 .8 .5-.2 .5-.4 .5-.3 .5 .8 .5-.4 .5 .5 .5-.2 .5-.5 .5 .5 .5 .1 .5-.6 .5 .5 .5 .8 .5-.5 .5-.6 .5 .4 .5 .4 .5-.5 .5-.2 .5 .2 .5-.6 .5 .2 .5 1.2 .5-.9 .5 .1 .5 .1 .5-.3 .5 .1 .5 .6 .5-.8 .5 .8 .5-.9 .5 .7 .5-.3 .5 0 .5-.1 .5 0 .5 .1 .5-.3 .5-.1 .5 .3 .5-.1 .5 .4 .5 .4 .5-.6 .5-.6 .5 0 .5 .4 .5 .3 .5-.2 .5-.3 .5 .1 .5 .4 .5-1.7 .5 1.4 .5-.8 .5-.3 .5 .6 .5 0 .5-.1 .5 .6 .5-1 .5 .7 .5-.6 .5-.1 .5 1 .5 .6 .5-1.1 .5 .5 .5-.3 .5 .3 .5-.3 .5 .4 .5 .2 .5-.4 .5-.4 .5-.3 .5 .6 .5-.2 .5 .6 .5-.3 .5 .7 .5-1.1 .5 .8 .5-.3 .5-.5 .5-.3 .5 .3 .5-1 .5 1.4 .5-.6 .5 .9 .5-.3 .5 0 .5-.2 .5-.2 .5 .3 .5-.1 .5-.7 .5-.2 .5-.2 .5 0 .5 .4 .5-.5 .5 .6 .5-.2 .5-.4 .5-.1 .5 .1 .5 .6 .5-.1 .5 .4 .5 .2 .5 0 .5-.2 .5 0 .5 .3 .5 .3 .5-.6 .5 1 .5 0 .5 .1 .5 .4 .5-.8 .5 .4 .5 .1 .5-.3 .5 .3 .5 .8 .5-.5 .5-.8 .5 .2 .5-.3 .5 .9 .5-.2 .5 .6 .5-.8 .5-.5 .5 0 .5-.4 .5 1 .5 0 .5-.1 .5 .1 .5-.8 .5-.1 .5 .1 .5-.2 .5 .3 .5-.2 .5 .2 .5-.7 .5 .5 .5-.8 .5 .4 .5-.5 .5 .8 .5 0 .5-.1 .5-.4 .5-.4 .5 .8 .5 0 .5-.1 .5-.8 .5 .3 .5 .5 .5 .2 .5 0 .5 .2 .5 .1 .5-.7 .5 .3 .5 0 .5-.7 .5 .3 .5 .6 .5 .3 .5-.4 .5-.5 .5 .3 .5 0 .5 1 .5 .2 .5-.4 .5-1 .5 .6 .5 .4 .5-.2 .5-.4 .5 .1 .5-.8 .5 1.2 .5 0 .5-.9 .5-.4 .5 1.7 .5-1.3 .5 .6 .5-.4 .5 .6 .5-.4 .5-.2 .5-.1 .5 0 .5 .2 .5-.7 .5 .7 .5-.5 .5 .1 .5 .2 .5-.5 .5-.2 .5 .2 .5 .2 .5 0 .5-.7 .5 .4 .5-.3 .5-.3 .5 1.4 .5-.5 .5 .5 .5-.2 .5-1.3 .5 .3 .5 .6 .5 0 .5-.4 .5-.5 .5 1.2 .5-.5 .5 .3 .5-.9 .5 .1 .5 .4 .5 .5 .5 .1 .5-1.2 .5 .7 .5-.7 .5 .8 .5-.9 .5 0 .5-.7 .5 1.1 .5 .7 .5-.9 .5-.4 .5 .8 .5-.2 .5-.1 .5-2.3 .5 2 .5 .3 .5-1.1 .5 1.5 .5-2.5 .5 1.3 .5 .9 .5-.6 .5 1.3 .5 0 .5-1.2 .5 2.7 .5-4.1 .5 1.6 .5-1.6 .5 .9 .5 1.5 .5-1.6 .5-.9 .5 2.5 .5-2.6 .5 2.6 .5-2.1 .5 3 .5-2.5 .5-2.2 .5 2.9 .5-1.1 .5 3.5 .5-4.6 .5-7.3 .5-7.5 .5 .5 .5 .2 .5 16.5" stroke="#0000ff"/>
<path d="M20,383.2l.5 1.7 .5 .9 .5 1.5 .5-.8 .5 1.6 .5 .8 .5 0 .5 .4 .5 .9 .5-1.1 .5 .4 .5 .4 .5-.6 .5 0 .5 0 .5-.6 .5 .7 .5-.7 .5 .5 .5 .4 .5-.3 .5-.8 .5 .7 .5-.3 .5-.2 .5 .6 .5 .9 .5-.8 .5 .4 .5-.4 .5 0 .5 .7 .5-.3 .5-.5 .5 .3 .5 0 .5-.2 .5 0 .5 .9 .5-.3 .5-.6 .5 .6 .5-.7 .5 .7 .5-.1 .5-.6 .5 1 .5 0 .5 0 .5 0 .5-.6 .5 .3 .5 .1 .5 0 .5-.1 .5 0 .5 .3 .5-.4 .5-.8 .5 1 .5-.2 .5-.7 .5 .3 .5-.2 .5-.3 .5 1.2 .5-.2 .5-.9 .5 .8 .5-.3 .5 .2 .5-.4 .5 .2 .5 0 .5-.5 .5-.3 .5 .7 .5-.4 .5-.1 .5 0 .5 .5 .5-.5 .5 .7 .5-1.1 .5 .7 .5 .1 .5-1.4 .5 .7 .5-.6 .5 .8 .5 .3 .5-.3 .5 0 .5-.8 .5 .8 .5-.1 .5 0 .5 0 .5 .1 .5-.8 .5 .7 .5-.9 .5 .6 .5 .4 .5-1.4 .5 .1 .5-.2 .5-.4 .5-.5 .5-.6 .5 .1 .5-.5 .5-1 .5-.9 .5-.8 .5-1 .5-.5 .5-1.4 .5-1.1 .5-.3 .5-.7 .5-1.4 .5-1.1 .5-.3 .5-1.3 .5-.4 .5-.9 .5-1.2 .5-.2 .5-.3 .5-.6 .5 .3 .5 .5 .5-1 .5 1.1 .5 .8 .5 1.9 .5 1.1 .5 .9 .5 1.5 .5 1.3 .5 1.2 .5 1.6 .5 .4 .5 1.3 .5 .9 .5 1.2 .5 .8 .5 .2 .5 .5 .5 .4 .5 .5 .5 .2 .5 .1 .5 .8 .5-.2 .5 .7 .5 .3 .5-.6 .5 .2 .5 .1 .5-.7 .5 .2 .5 1 .5-1.3 .5 1.8 .5-.5 .5-.3 .5 .3 .5 0 .5-.6 .5-.2 .5 .4 .5 .3 .5-.2 .5-.2 .5-.1 .5-.1 .5 .3 .5-.6 .5 .6 .5-.4 .5 .2 .5-.5 .5 .4 .5 .1 .5-.4 .5-.2 .5 .6 .5-.8 .5-.5 .5 1.4 .5-1.2 .5-.1 .5 .6 .5-.4 .5-.5 .5-.7 .5-.4 .5-.5 .5-1.4 .5-.7 .5-1.2 .5-1.3 .5-.8 .5-.7 .5-1.5 .5-.6 .5-.5 .5-.1 .5 .5 .5-.1 .5 1.3 .5 1.9 .5 .5 .5 1.5 .5 1 .5 1.2 .5 1 .5 .2 .5 .5 .5 .9 .5 .4 .5-.1 .5 .7 .5 0 .5 .3 .5-.6 .5 .5 .5 .3 .5 0 .5 .1 .5-1 .5 .1 .5-.3 .5 .5 .5-.4 .5-.5 .5 0 .5 0 .5-.6 .5-.4 .5 .2 .5 .1 .5-.7 .5-.5 .5 .5 .5-1.1 .5-.8 .5 .5 .5 0 .5-1.5 .5 1 .5-.9 .5-1.2 .5-.4 .5-.4 .5 .3 .5-1.5 .5-.3 .5-1 .5 .7 .5-.1 .5-.8 .5 0 .5-1.2 .5 .3 .5-.3 .5-.5 .5-.8 .5-.6 .5-1.1 .5 .2 .5-2.8 .5-1.5 .5-3.3 .5-3.7 .5-3.2 .5-4.5 .5-5.6 .5-6.3 .5-6.1 .5-6.9 .5-6.5 .5-5.2 .5-6.1 .5-3.1 .5-1.9 .5 1.1 .5 3.2 .5 5.1 .5 5.1 .5 7 .5 6.8 .5 7.3 .5 6.7 .5 6.8 .5 5.5 .5 5.1 .5 4.2 .5 3.1 .5 2.9 .5 1.8 .5 1.5 .5 .8 .5 1.7 .5 .3 .5 .8 .5 .2 .5 .4 .5 .3 .5 .5 .5-.4 .5 .3 .5 .2 .5-.9 .5 0 .5-.2 .5 .3 .5-.6 .5 .8 .5-1.4 .5 .6 .5-.2 .5 .1 .5-.7 .5-.5 .5 .4 .5 0 .5-.2 .5 .5 .5 .3 .5-.4 .5 .5 .5 .3 .5-1.2 .5 .7 .5 1 .5 .9 .5-.6 .5 .8 .5-.1 .5 .3 .5 .2 .5 .6 .5 0 .5 0 .5 0 .5 .1 .5-.3 .5 1.3 .5-.2 .5-.2 .5 .8 .5-.8 .5 .3 .5 .3 .5-.8 .5 .4 .5 .3 .5 .4 .5-.6 .5-.3 .5-.4 .5 1 .5-.3 .5-.2 .5 .5 .5-1.3 .5 .8 .5-.5 .5-.1 .5 1.3 .5-1.2 .5 .5 .5 .2 .5-.3 .5 .6 .5-1.4 .5 .1 .5 1.4 .5-.8 .5-.2 .5 .6 .5-.9 .5 1.7 .5-.8 .5 1 .5-.7 .5-.7 .5 .5 .5 .4 .5 0 .5 .6 .5-.7 .5-.4 .5-.1 .5 .9 .5-.1 .5 .7 .5-.2 .5-.5 .5 .1 .5 .2 .5 .1 .5 .5 .5 .2 .5-1.2 .5 .7 .5-.2 .5 .4 .5 .1 .5-.3 .5-.2 .5 0 .5-.1 .5 .4 .5 0 .5-.5 .5 .1 .5 .1 .5-.6 .5 .2 .5-.2 .5 .7 .5-1.1 .5 0 .5 .6 .5 .5 .5-1 .5-.1 .5-.4 .5 .7 .5-.2 .5 0 .5-.4 .5 .7 .5-.2 .5 .8 .5-.9 .5-.3 .5 .8 .5 .7 .5-1.3 .5 .7 .5-.7 .5 .2 .5-.1 .5 .9 .5-.3 .5 .2 .5 .5 .5-1.6 .5 .2 .5 .6 .5 .1 .5 .2 .5 .8 .5-.5 .5-.1 .5-.2 .5-.3 .5 0 .5 .8 .5-.6 .5 .4 .5 .4 .5-.4 .5-.5 .5 .8 .5-.5 .5-.6 .5 .4 .5 .3 .5-.9 .5 .6 .5 .1 .5-.3 .5 .5 .5-.2 .5-.4 .5 .3 .5 .4 .5-.7 .5 .6 .5-.4 .5 .3 .5-.3 .5 0 .5 .7 .5-1 .5-.2 .5 .2 .5 .9 .5-1 .5 .7 .5 .2 .5-.5 .5 0 .5 .1 .5-.5 .5 .5 .5-.4 .5 .4 .5 .4 .5-.5 .5 .2 .5 .4 .5-.7 .5 .4 .5-.3 .5-.2 .5-.1 .5 .6 .5-1 .5 .9 .5-.8 .5 .7 .5-.2 .5-.3 .5-.3 .5 .7 .5-.5 .5-.4 .5 .1 .5-.5 .5 .7 .5-.2 .5 0 .5 .8 .5-.6 .5 .2 .5 .2 .5 .2 .5 .3 .5 .1 .5-.4 .5-.3 .5-.4 .5 .3 .5-.2 .5-.1 .5 .2 .5 .1 .5 1.1 .5-.6 .5-.2 .5 .2 .5-.8 .5 .4 .5 .5 .5-.1 .5-.6 .5 .9 .5 .1 .5-.3 .5-.3 .5 0 .5-.1 .5 .3 .5-1.2 .5 .4 .5 0 .5 .4 .5-.5 .5 .2 .5 .1 .5 .5 .5 0 .5-.1 .5-.5 .5 .6 .5 0 .5-.4 .5 .1 .5 1.3 .5-1 .5 .4 .5-.2 .5-.6 .5 .3 .5 .1 .5 0 .5 .2 .5 1.3 .5-1.9 .5 0 .5 1.2 .5-.9 .5 .4 .5-1.2 .5 1.3 .5-.1 .5 .3 .5-.4 .5 .3 .5 .8 .5-1.4 .5 .4 .5-.1 .5 .6 .5-.2 .5 .1 .5-.4 .5 .6 .5-.2 .5 .5 .5-1.2 .5 1 .5 .1 .5 0 .5 .4 .5-.3 .5-.3 .5 .3 .5-.6 .5 .7 .5 .8 .5-1.1 .5 .1 .5 .7 .5-.8 .5 .7 .5-.6 .5-.5 .5 .6 .5-.8 .5 .4 .5-.1 .5 .7 .5-.8 .5-.4 .5 0 .5 1 .5-.5 .5-.1 .5 .4 .5-.3 .5-.4 .5 0 .5 .3 .5-.5 .5 .6 .5-.1 .5-.9 .5 1 .5-.1 .5-.6 .5-.1 .5-.1 .5 .3 .5 .3 .5-.5 .5 .1 .5-.2 .5 .1 .5 0 .5-.3 .5 .2 .5 .1 .5-1 .5 .1 .5 .6 .5 .5 .5 .4 .5-.9 .5 .3 .5-.1 .5 0 .5 0 .5-.6 .5 .3 .5-.1 .5-.3 .5 .2 .5-.8 .5 .4 .5 .7 .5 0 .5-.9 .5 .4 .5 .2 .5-.3 .5-.8 .5 1.1 .5-.6 .5 .2 .5-.4 .5 .2 .5 .7 .5-.9 .5 .2 .5 .3 .5 .3 .5 .4 .5 .1 .5 0 .5-.5 .5 .1 .5 .2 .5 .2 .5 .3 .5-.4 .5 .4 .5-.5 .5 .8 .5 .1 .5-.8 .5-.1 .5 .8 .5 0 .5-.1 .5 .3 .5-.3 .5 .2 .5-.5 .5 .5 .5-.4 .5 .2 .5 .5 .5-.9 .5 .5 .5-.3 .5 .4 .5 0 .5-.5 .5 .7 .5-.6 .5 .4 .5-.5 .5 .5 .5-.5 .5 0 .5 .2 .5 .4 .5-.7 .5 .9 .5-.8 .5 .5 .5-.7 .5 .2 .5 .5 .5 0 .5-.4 .5-.2 .5-.3 .5 .1 .5-.1 .5 1.6 .5 0 .5-.9 .5-.8 .5 1.1 .5-.1 .5-.3 .5 .5 .5-.4 .5 .4 .5-.8 .5 .5 .5 .1 .5-.2 .5 .3 .5-.1 .5-.4 .5 .4 .5-.1 .5 .3 .5 .1 .5-.7 .5 .1 .5-.2 .5 .1 .5-.2 .5 .2 .5 .1 .5-.6 .5 .1 .5 0 .5 .3 .5-.8 .5 1.6 .5-1.3 .5 .6 .5 0 .5 .5 .5-.6 .5-.4 .5 .4 .5-.5 .5 .9 .5-.7 .5 .4 .5-.7 .5-.1 .5 .7 .5-.3 .5 .1 .5-.3 .5 .8 .5-.2 .5-.2 .5-.2 .5-.6 .5 .3 .5-.1 .5-.3 .5 .9 .5-.6 .5 .1 .5-.3 .5-.3 .5 .5 .5-.5 .5 .7 .5-.3 .5-.5 .5-.2 .5 .6 .5-.4 .5-.2 .5 .8 .5-.1 .5 .3 .5 .4 .5-.2 .5 .3 .5-.5 .5 .7 .5 .1 .5-.9 .5 .4 .5 .5 .5 .3 .5 0 .5 0 .5-.2 .5 .4 .5-.7 .5 .5 .5 0 .5 .5 .5-.8 .5 .1 .5-.2 .5 0 .5 .2 .5 .7 .5-.3 .5 .2 .5-.3 .5-.8 .5 .3 .5 .4 .5-.5 .5 .5 .5-.5 .5 .2 .5 .3 .5-.5 .5 .2 .5-.1 .5-.5 .5-.8 .5-.1 .5 .3 .5 .7 .5-.8 .5 .7 .5-1.1 .5 .1 .5-.4 .5 .6 .5 .1 .5 .5 .5 .4 .5-1.7 .5 .8 .5-.2 .5-.1 .5 .2 .5 .2 .5-.4 .5 .4 .5 .6 .5-.7 .5 .5 .5 0 .5 .9 .5-.9 .5-.3 .5 1 .5 .4 .5-.2 .5-.6 .5 .3 .5 .3 .5-.3 .5 .1 .5-.1 .5 .2 .5-.1 .5-.4 .5-.4 .5 .9 .5 .2 .5-.2 .5-.5 .5 0 .5 .4 .5-.1 .5-.9 .5 .4 .5 .5 .5-.3 .5-.1 .5-.4 .5 .2 .5-.8 .5 .5 .5-.7 .5 .5 .5 .3 .5 .9 .5-.6 .5-.4 .5 0 .5-.3 .5 .7 .5-.4 .5-.5 .5 .5 .5-.3 .5 .2 .5 .2 .5-.7 .5 .5 .5-.8 .5-.8 .5 .7 .5 .2 .5 .8 .5-.6 .5 .4 .5-.8 .5-.2 .5 .4 .5 .1 .5-1 .5-.1 .5 1.1 .5-.3 .5 1.1 .5-1.8 .5 .3 .5-.2 .5 0 .5 .2 .5-.6 .5 .7 .5 1 .5 .5 .5-2.2 .5 .1 .5-.1 .5 .2 .5-1.2 .5 1.5 .5 1.3 .5-1.7 .5 0 .5-1.2 .5 .2 .5 .5 .5 0 .5-2.2 .5 1.9 .5-.6 .5 2 .5-4.1 .5 4.6 .5-1.2 .5-.1 .5-.3 .5-.3 .5 0 .5-1 .5 .1 .5 .7 .5 1 .5-.5 .5 1.2 .5 .2 .5-.9 .5-1.6 .5-6.1 .5-8 .5-.7 .5 1.2 .5 18.3" stroke="#0000ff"/>
<path d="M20,391.9l.5 2.3 .5 .3 .5 2.1 .5 .7 .5-.5 .5 .6 .5 .4 .5-.1 .5 .1 .5 .3 .5 .4 .5-1 .5 .8 .5-.6 .5 .4 .5 0 .5-.4 .5 .1 .5 .1 .5 0 .5 .7 .5-.9 .5-.2 .5 .3 .5 .1 .5-.6 .5 .2 .5 .3 .5-.7 .5 .2 .5 .3 .5 0 .5 0 .5-.5 .5 .4 .5 0 .5-.6 .5 1.1 .5-.5 .5-.2 .5 0 .5-.3 .5-.1 .5 0 .5 .1 .5 0 .5 .7 .5-.4 .5-.3 .5 .5 .5-.5 .5 .4 .5-.2 .5 0 .5-.8 .5 1 .5-.7 .5 .7 .5-.1 .5-.6 .5 .6 .5-.8 .5 .4 .5 .1 .5-.6 .5 .7 .5 .3 .5-.2 .5 .3 .5-.5 .5-.1 .5 .9 .5-.2 .5-.3 .5-.9 .5 1.1 .5 0 .5 .6 .5-.8 .5 1.3 .5-1 .5-.1 .5-.4 .5 .1 .5 .2 .5 0 .5-.5 .5 .7 .5-.1 .5-.6 .5 .1 .5-.2 .5 .3 .5-.6 .5 .4 .5 .7 .5-.1 .5-.7 .5 0 .5 .3 .5-.3 .5-.3 .5 .4 .5-.9 .5 .6 .5-.3 .5-.1 .5 0 .5-1 .5-.3 .5-.2 .5-.5 .5-.1 .5-.7 .5-.9 .5-1.1 .5 0 .5-.3 .5-1.3 .5-.3 .5-.8 .5-.7 .5-.3 .5-1.5 .5-.9 .5-.7 .5-.3 .5-1.1 .5-.7 .5-1.7 .5-.1 .5 0 .5-.9 .5 .5 .5-.6 .5 .2 .5 .5 .5 1.1 .5 .8 .5 1.5 .5-.3 .5 1.5 .5 1.5 .5 2.1 .5 .9 .5 .5 .5 1.2 .5 2.2 .5 .3 .5 .2 .5 .7 .5 1.4 .5-.2 .5 .7 .5 .3 .5 0 .5 .7 .5 0 .5 .1 .5 .2 .5-.1 .5 .3 .5-.9 .5 1.5 .5-.3 .5-.5 .5-.2 .5 .3 .5 .2 .5-.7 .5 .2 .5 .9 .5-.8 .5 .1 .5-.2 .5 .2 .5-.3 .5-.2 .5 .6 .5-.4 .5 0 .5 .4 .5 0 .5 .3 .5-.4 .5-.2 .5 0 .5 .1 .5-.4 .5-.4 .5 1.1 .5-.7 .5-.1 .5 .8 .5-1.3 .5 .7 .5-.9 .5 .2 .5-.4 .5-.2 .5-1.3 .5-.3 .5-.3 .5-1 .5-1.3 .5-.8 .5-1.1 .5-2 .5-.5 .5-.1 .5-.6 .5-.2 .5 .3 .5-.3 .5 1.7 .5 .7 .5 2 .5-.6 .5 1.9 .5 .5 .5 .9 .5 .5 .5 .6 .5 .7 .5 .3 .5 0 .5 1.4 .5-.1 .5 0 .5-.5 .5 1 .5 .1 .5-1.5 .5 1.4 .5-1.3 .5 .8 .5-.3 .5 .1 .5 0 .5-.8 .5 .3 .5-.4 .5 .3 .5-1 .5 1.1 .5-.3 .5-.8 .5 .1 .5 .2 .5-.6 .5-.5 .5-1 .5 0 .5 .5 .5-1.1 .5-.2 .5-.7 .5 0 .5 0 .5-1.5 .5 .1 .5-.5 .5-.4 .5-.9 .5-.2 .5 .3 .5-1.9 .5 0 .5 .3 .5-.7 .5-1.3 .5 .6 .5-.9 .5-1.4 .5-.2 .5-.7 .5-1.6 .5-1.4 .5-2 .5-2.2 .5-3.4 .5-4.2 .5-5.2 .5-5.5 .5-4.6 .5-7.1 .5-6.9 .5-5.7 .5-5.8 .5-5.2 .5-3 .5-.6 .5-.5 .5 3.5 .5 4.8 .5 6.1 .5 6 .5 7.8 .5 7.4 .5 6.4 .5 6.1 .5 5.5 .5 5.1 .5 3.8 .5 4.2 .5 2.2 .5 1.7 .5 1.7 .5 .4 .5 1.6 .5 1.3 .5-.2 .5 1.3 .5-.5 .5-.3 .5 .2 .5 .5 .5-.3 .5-.5 .5 .2 .5-.3 .5-1.1 .5 1.6 .5-1 .5-.2 .5-1 .5 .1 .5 .6 .5 0 .5-.3 .5 .1 .5-.6 .5 0 .5 .4 .5 .1 .5-.5 .5 .8 .5 .2 .5 .5 .5-.5 .5 .8 .5-.2 .5 1.4 .5-.5 .5 .7 .5 0 .5 .8 .5-.4 .5 .3 .5 .8 .5-.4 .5 .3 .5-.3 .5 .5 .5 .5 .5-.6 .5 1 .5-.6 .5-.5 .5 .8 .5 .4 .5 .5 .5-.1 .5-.6 .5 .3 .5 .4 .5 .2 .5-.7 .5 .8 .5 0 .5-.6 .5 .2 .5-.6 .5 .1 .5 .5 .5-.1 .5 .1 .5-.5 .5 .9 .5-.2 .5-.3 .5 .3 .5-1 .5 .6 .5 0 .5 .2 .5 .1 .5 .5 .5-.6 .5-.4 .5 .6 .5-.4 .5 .9 .5 .3 .5-.4 .5-.6 .5 .7 .5-.9 .5 .7 .5-.2 .5-1 .5 1 .5 .6 .5-1 .5 1.5 .5-1.9 .5 .7 .5 .1 .5-.2 .5 .6 .5 .1 .5-.9 .5-.4 .5 .6 .5-.3 .5 .6 .5-.3 .5 .1 .5-.2 .5 .6 .5-.9 .5-.4 .5 .1 .5-.1 .5 1.2 .5-.8 .5-.6 .5 .1 .5-.1 .5 .2 .5 .6 .5-.1 .5-.1 .5-.6 .5 .7 .5-.6 .5 .4 .5-.1 .5 .9 .5-1.5 .5 .6 .5 .2 .5 .7 .5-.2 .5-.6 .5-.4 .5 .9 .5-.6 .5 .2 .5 .5 .5-.2 .5 .5 .5-.5 .5 .6 .5-.4 .5-.7 .5 .5 .5 0 .5 0 .5-.4 .5 0 .5 0 .5 0 .5 .2 .5-.3 .5 0 .5 .5 .5-.6 .5-.1 .5 .4 .5-.6 .5 1.3 .5-.6 .5-.7 .5 .3 .5 .4 .5 .1 .5-.6 .5 .2 .5 0 .5 .5 .5-1 .5 .8 .5 .6 .5-.4 .5 0 .5 .2 .5-.8 .5-.1 .5 .7 .5 0 .5 .5 .5-1.2 .5 1.2 .5-1.1 .5 1 .5-.5 .5-.2 .5-.4 .5 .4 .5 .3 .5 0 .5-.6 .5 .5 .5 0 .5-.6 .5-.2 .5 1.5 .5-.3 .5-.5 .5-.2 .5 .9 .5-.5 .5-1.2 .5 1.1 .5-.5 .5 .9 .5-.9 .5 .7 .5 .1 .5-1.1 .5 1.5 .5-.7 .5 .1 .5-.2 .5 0 .5 .5 .5 .2 .5-.4 .5-.3 .5 .1 .5 .2 .5-.1 .5 .2 .5 0 .5-1.2 .5 2 .5-.6 .5 .4 .5-.3 .5-.8 .5 .6 .5 .1 .5-.3 .5-.1 .5 .4 .5-.4 .5 .5 .5-.7 .5-.3 .5 .3 .5 .1 .5-.5 .5-.2 .5 .7 .5-.2 .5 .2 .5 .2 .5-.6 .5 .3 .5-.1 .5 .3 .5-.8 .5-.4 .5-.1 .5 1.1 .5-.6 .5 .3 .5-.3 .5 .1 .5 .4 .5-.5 .5 0 .5 .2 .5 .4 .5-.4 .5-.4 .5 .3 .5-.2 .5 .2 .5-.2 .5 0 .5 .3 .5-.1 .5 .1 .5 .2 .5-.5 .5-.3 .5 1.2 .5-.8 .5 1.2 .5-.3 .5 0 .5-.8 .5 .9 .5-.8 .5 0 .5 .5 .5 .1 .5-.5 .5 .2 .5-.1 .5-.1 .5 .2 .5-.1 .5-.2 .5 0 .5-.3 .5 .3 .5-.3 .5 .6 .5-.1 .5-.1 .5 .1 .5 0 .5-.2 .5 .3 .5 .3 .5 .2 .5-.7 .5 .3 .5-.4 .5 .8 .5-.7 .5 .4 .5-.3 .5 .5 .5-.1 .5 .4 .5-.1 .5-.4 .5-.2 .5 .8 .5 0 .5-.3 .5 .8 .5-1.3 .5 .4 .5 .5 .5-1.1 .5 .3 .5 .9 .5-.7 .5 0 .5-.1 .5 .6 .5-.5 .5 .1 .5-.6 .5 .5 .5 .2 .5-.1 .5-.5 .5 .6 .5-.5 .5 .2 .5 0 .5-.2 .5 .5 .5 .4 .5-.8 .5-.3 .5-.3 .5 0 .5 .1 .5-.3 .5 .3 .5-.2 .5 .9 .5-.4 .5-.8 .5 .4 .5 .1 .5-.3 .5 0 .5 .1 .5 .2 .5 .4 .5-1.1 .5 .1 .5-.2 .5 .8 .5-.3 .5-.8 .5 .8 .5 .4 .5-.9 .5 .1 .5 1.3 .5 0 .5-.4 .5 .2 .5-.7 .5 .3 .5 0 .5 .6 .5 .4 .5 .2 .5-.4 .5-.6 .5 .7 .5-.3 .5 .2 .5 .4 .5-.3 .5-.2 .5 0 .5-.4 .5 1.1 .5-.7 .5 .9 .5-1.3 .5 .5 .5-.2 .5 0 .5 .2 .5 .2 .5-.5 .5-.3 .5-.4 .5 .6 .5 .3 .5 0 .5-.5 .5-.3 .5 .9 .5-.2 .5 .4 .5 0 .5 .2 .5-.2 .5 0 .5 .1 .5-.1 .5-.1 .5 .2 .5 0 .5-.2 .5 0 .5-.4 .5 .6 .5 0 .5-.7 .5 .3 .5-.3 .5 .2 .5 .2 .5 .8 .5-1 .5-.2 .5 .8 .5 .1 .5-.3 .5-.1 .5 .2 .5 .2 .5-.6 .5 .3 .5 .1 .5-.6 .5 .5 .5-.1 .5-.2 .5-.4 .5 .6 .5-.3 .5 .1 .5 .1 .5 .1 .5-.3 .5-.5 .5 .7 .5-1 .5 .1 .5 .7 .5 .3 .5 .1 .5 0 .5-.5 .5 1.3 .5-.9 .5 .1 .5-1 .5 .8 .5 .5 .5 0 .5-1.4 .5 1.3 .5-1.2 .5 1.5 .5-.6 .5-.3 .5 .2 .5-.3 .5 .5 .5-.8 .5 .5 .5 .1 .5 0 .5 .3 .5 .3 .5-.4 .5-.8 .5 .4 .5-.6 .5 .5 .5-.1 .5 .1 .5-.4 .5 .4 .5 .4 .5 .4 .5-.6 .5 .3 .5-.4 .5-.8 .5 .3 .5 1 .5-.5 .5-.2 .5 .4 .5-.2 .5 0 .5 .4 .5-.3 .5-.6 .5 .9 .5-.4 .5 0 .5-.1 .5 .3 .5 .5 .5-.6 .5 .7 .5 0 .5 .1 .5-1 .5 .2 .5 0 .5 1 .5-.6 .5-.7 .5 .8 .5 .1 .5-.7 .5 .8 .5-.4 .5-.6 .5-.1 .5 1.1 .5-.9 .5-.2 .5 .4 .5 1 .5-1.5 .5 0 .5 1 .5-.1 .5 .1 .5-.6 .5 .2 .5 0 .5-.3 .5-.8 .5 1.1 .5-.6 .5-.2 .5-.7 .5 .9 .5-.3 .5-.1 .5-.3 .5-.1 .5 .2 .5-.2 .5-.1 .5-.6 .5 .2 .5 .4 .5 0 .5-.7 .5 1.1 .5 .1 .5-.3 .5-.3 .5 .6 .5-.4 .5-.8 .5 1.2 .5-.5 .5 .5 .5-.3 .5 .4 .5-.6 .5 .9 .5 .4 .5-.4 .5-.3 .5 .3 .5-.5 .5 .7 .5-.1 .5 .5 .5-.4 .5 .2 .5-.8 .5 .3 .5 0 .5 .9 .5-.6 .5-.5 .5 .1 .5-.7 .5 1.2 .5 .2 .5-.8 .5 .4 .5-.6 .5 0 .5 .7 .5-.8 .5 0 .5 .2 .5 .2 .5-1.1 .5 .5 .5 0 .5 0 .5-.4 .5 0 .5 .1 .5 .8 .5-.4 .5-.6 .5-.2 .5 .4 .5 .2 .5 .5 .5-.2 .5 .4 .5-.9 .5-.1 .5 .2 .5 0 .5-.8 .5 .9 .5 1.1 .5-.9 .5-.2 .5 .5 .5-1.3 .5-.5 .5 .3 .5 1.6 .5-.3 .5-.2 .5-.3 .5-.4 .5-.3 .5 0 .5 .8 .5-1.3 .5-.6 .5 1.2 .5-.3 .5-.2 .5 1.1 .5-.3 .5-.3 .5-.4 .5 .5 .5-.9 .5-.2 .5 1.2 .5-2 .5 .2 .5 3 .5-1.9 .5-1.3 .5 .5 .5 2.3 .5-.3 .5-5.5 .5 4 .5-3.3 .5 4.1 .5-.1 .5-2.7 .5 1.6 .5 .2 .5-1.4 .5 .2 .5 .8 .5 1.3 .5-2.4 .5-6.7 .5-7.2 .5-1.7 .5-.3 .5 19.6" stroke="#0000ff"/>
<path d="M20,400.5l.5 1.2 .5 1.5 .5 1.7 .5 1.1 .5-.3 .5 .3 .5 .1 .5-.7 .5 1 .5 .1 .5 .4 .5-.4 .5-.1 .5 .3 .5-.1 .5-.1 .5 .6 .5-.1 .5-1 .5 .4 .5-.7 .5 .7 .5 .2 .5-.6 .5 .9 .5-.8 .5 .8 .5-.7 .5-.1 .5-.3 .5 .2 .5-.1 .5 .5 .5-.3 .5-.4 .5 .2 .5 .3 .5-.1 .5 .4 .5 .2 .5-1 .5 1 .5-.7 .5-.2 .5 .6 .5 .1 .5-.3 .5 .8 .5-.2 .5-.1 .5-.3 .5 .6 .5 .1 .5-1.1 .5-.1 .5 .7 .5-1.1 .5 .5 .5 .8 .5-.8 .5 .3 .5-.7 .5 .1 .5-.6 .5 1.4 .5-.1 .5-.3 .5-.4 .5 .2 .5-.1 .5-.4 .5 .7 .5-.3 .5-.5 .5 .9 .5-.7 .5 .2 .5 .3 .5-.1 .5 .2 .5 .9 .5-.6 .5-.1 .5 .6 .5-.4 .5-.1 .5-.5 .5 .6 .5 .1 .5 0 .5 0 .5 0 .5 .5 .5-.6 .5 .6 .5 .2 .5-.6 .5 0 .5-.2 .5 .1 .5-.7 .5 .9 .5-1.1 .5 .5 .5-.6 .5 .2 .5 .5 .5-1.6 .5 .5 .5 .1 .5-1.1 .5 .7 .5-1.2 .5 .2 .5-.4 .5-1 .5 .2 .5-.7 .5-.9 .5-.8 .5-.9 .5-.7 .5-.5 .5-1.2 .5 .1 .5-1.3 .5-.5 .5-1.7 .5-.6 .5-1 .5 .3 .5-1.3 .5-.6 .5-.5 .5-.8 .5 .4 .5-.3 .5-.4 .5-.1 .5 .2 .5 1.1 .5 .1 .5 1 .5 1.1 .5 1.2 .5 2 .5 .5 .5 1.2 .5 1.4 .5 .8 .5 .5 .5 1.4 .5 1.4 .5 .6 .5 .6 .5 .6 .5 0 .5-.4 .5 1.1 .5 .8 .5-.6 .5 .4 .5-.2 .5-.1 .5 .7 .5-.7 .5 .6 .5 0 .5 .4 .5 .2 .5-.6 .5-.4 .5 .3 .5 0 .5 .2 .5-.3 .5 .3 .5 0 .5 0 .5-.2 .5-.1 .5 .7 .5-.9 .5 .6 .5 .3 .5-.4 .5-.4 .5 1 .5-.3 .5-.3 .5-.3 .5 0 .5-.1 .5 .5 .5-.3 .5-.6 .5-.3 .5-.3 .5 .8 .5-.7 .5-.4 .5 0 .5-.6 .5-.5 .5-.3 .5-1.3 .5-1.3 .5-.2 .5-1 .5-1.1 .5-1.1 .5 .3 .5-1.6 .5 .3 .5 .1 .5 .3 .5 1.6 .5-.2 .5 1.3 .5 1.6 .5 .5 .5 1 .5 .2 .5 .8 .5 .7 .5 .7 .5-.5 .5 .3 .5 .4 .5 .3 .5-.5 .5 .8 .5-1.1 .5 .1 .5 .8 .5-.9 .5 .3 .5 .7 .5-.5 .5 .2 .5 .4 .5-.9 .5 .7 .5-.7 .5-.1 .5 .2 .5 .6 .5-1.2 .5 .4 .5-.4 .5-.4 .5 .2 .5-.5 .5 0 .5-.1 .5-.3 .5-.4 .5-1.2 .5-.1 .5-.4 .5-.2 .5-.2 .5-1 .5-.2 .5-.7 .5 .1 .5-1.1 .5-.8 .5 .8 .5-.6 .5 .1 .5-.8 .5-1.3 .5 .4 .5-.7 .5-.3 .5-.3 .5-2.2 .5 .4 .5-1.4 .5-.7 .5-2.1 .5-3.2 .5-2.7 .5-2.7 .5-4 .5-5 .5-5.5 .5-6.6 .5-5.3 .5-6.7 .5-5.2 .5-6.1 .5-3.7 .5-3.2 .5-.8 .5 1 .5 2.7 .5 5.2 .5 5.7 .5 7 .5 6.5 .5 7.3 .5 5.7 .5 6.4 .5 5.5 .5 3.5 .5 4.9 .5 3.4 .5 2.6 .5 2.3 .5 1 .5 1.5 .5 1.1 .5 .2 .5 1 .5 .4 .5-.2 .5 .8 .5-.9 .5 .3 .5 .4 .5 .4 .5-1.2 .5 .7 .5-.6 .5 .2 .5-1.5 .5 1.6 .5-.6 .5 .3 .5-.4 .5-.9 .5 .5 .5-.1 .5-.8 .5 1 .5-.4 .5 1.4 .5-1.2 .5 1.5 .5-1.4 .5 1.1 .5 .3 .5 .4 .5 .2 .5 0 .5 .1 .5 .9 .5-.1 .5 .5 .5 .1 .5 .1 .5 .6 .5-.7 .5 1.5 .5-.5 .5-.3 .5 .5 .5-.3 .5 .9 .5-1 .5 .6 .5-.4 .5 .8 .5-.7 .5 .2 .5-.7 .5 .4 .5 .3 .5 .1 .5 0 .5 .3 .5 .1 .5-.8 .5 .7 .5 0 .5 0 .5-.3 .5-.3 .5 .4 .5-.6 .5 .4 .5 .5 .5-.9 .5 1 .5 .2 .5 .3 .5-.9 .5-.6 .5 1.6 .5-.4 .5 0 .5-.5 .5 1 .5-.3 .5-.5 .5 .3 .5 .1 .5-.4 .5 .9 .5-.6 .5-.1 .5 .1 .5 .5 .5 .3 .5-1 .5 .6 .5-.1 .5 .1 .5 .1 .5-.3 .5-.9 .5 .5 .5 .3 .5 0 .5 .3 .5-1.1 .5 .4 .5 .3 .5-.2 .5 0 .5-.8 .5 .8 .5 .4 .5-.8 .5 .8 .5-.8 .5 .5 .5-.5 .5-.2 .5 .7 .5-1 .5 .7 .5 .1 .5-.5 .5-.2 .5 .1 .5 .3 .5 .8 .5-.6 .5-.2 .5-.1 .5 .3 .5-.6 .5 .1 .5-.1 .5 .5 .5-.3 .5 .3 .5 .2 .5-.3 .5-.2 .5 0 .5 .6 .5-.8 .5-.1 .5-.1 .5 .5 .5 .3 .5 .3 .5 .9 .5-.7 .5-.2 .5-.3 .5 .2 .5-.2 .5 .5 .5-.1 .5-.4 .5 .9 .5-.6 .5 .8 .5-.6 .5 .1 .5-.6 .5 .8 .5-.3 .5 0 .5 .2 .5 0 .5-.2 .5-.7 .5 .8 .5 0 .5 .1 .5 .3 .5-1 .5 .8 .5 .8 .5-1.1 .5 .2 .5-.4 .5 .7 .5-.1 .5-.7 .5 0 .5 .1 .5 .5 .5-1.4 .5 1.5 .5-.8 .5-.2 .5 .3 .5 .2 .5-.8 .5 0 .5 .9 .5-1 .5 .6 .5-.6 .5 .4 .5 .4 .5-.2 .5-.7 .5 .2 .5-.4 .5 .5 .5-.1 .5 .6 .5-.1 .5-.2 .5-.1 .5-.5 .5 .2 .5 0 .5 .6 .5 0 .5-.7 .5 .1 .5 .1 .5 .8 .5-.5 .5 .6 .5-1.8 .5 1.4 .5 .2 .5-.6 .5-.2 .5 .2 .5 0 .5 .2 .5-.3 .5 .4 .5 .5 .5-.3 .5-.4 .5 .4 .5-.6 .5 1.1 .5-1 .5 0 .5 .4 .5 .1 .5-.1 .5-.2 .5-.2 .5-.2 .5 .6 .5 .3 .5-.8 .5 .5 .5-.5 .5-.2 .5 .9 .5-.9 .5 1.1 .5-1.2 .5 .6 .5 .1 .5 0 .5-.6 .5 .3 .5-.3 .5-.2 .5 .3 .5 1 .5-.9 .5-.2 .5 .3 .5 .4 .5-.4 .5 .4 .5 .4 .5-.6 .5-.1 .5 .2 .5 .2 .5 0 .5-.1 .5-.1 .5-.7 .5 .9 .5-.5 .5 .1 .5 0 .5-.1 .5 .5 .5-.5 .5-.7 .5 .5 .5 .2 .5 .6 .5-.9 .5 .6 .5 .5 .5-.4 .5-.2 .5 0 .5-.3 .5 1.3 .5-.9 .5-.2 .5 .4 .5-.9 .5 1.3 .5-.4 .5 .3 .5-.1 .5-.3 .5 1.1 .5-1.1 .5 .5 .5-.1 .5 .2 .5-.1 .5 .2 .5-1.3 .5 .9 .5 .4 .5-.3 .5-.6 .5 .6 .5-.4 .5 .3 .5 .8 .5-.3 .5-.4 .5 .1 .5-.8 .5 .8 .5-.9 .5 .7 .5-.2 .5-.2 .5 .6 .5-.4 .5 0 .5-.2 .5-.4 .5 .7 .5-.8 .5 1 .5-.4 .5 .3 .5-.1 .5-.4 .5 .3 .5-.3 .5 .6 .5 0 .5-.5 .5 1 .5-.3 .5 0 .5-.3 .5-.4 .5 .8 .5-.8 .5 .4 .5 .1 .5 .2 .5-.3 .5-.4 .5-.3 .5 .3 .5-.1 .5 .1 .5-.2 .5 .2 .5-.8 .5 .3 .5 .7 .5-.3 .5-.9 .5-.6 .5 1.2 .5-.2 .5-.6 .5 .9 .5 .2 .5-.7 .5-.2 .5 .9 .5-.3 .5 .5 .5-.3 .5 .4 .5-.1 .5 .4 .5-1.1 .5 .9 .5 .3 .5 .2 .5-.6 .5-.1 .5 .4 .5 0 .5 .3 .5-.3 .5 0 .5 .3 .5-1 .5 1 .5-.4 .5 .7 .5 .1 .5-.6 .5-.1 .5 .5 .5-.5 .5 1 .5-.1 .5-.6 .5-.3 .5-.3 .5 .3 .5 .1 .5-.3 .5 .4 .5-.6 .5 .3 .5-.4 .5 .2 .5 .4 .5-.5 .5 .5 .5-.4 .5 .2 .5-.1 .5-.6 .5 .5 .5 .1 .5-.9 .5 .1 .5 .8 .5 .1 .5-.7 .5 .4 .5-.9 .5 .5 .5 .1 .5-.2 .5-.4 .5 .8 .5-1.3 .5 1.2 .5-.5 .5 .2 .5 .1 .5-.6 .5 .7 .5-.4 .5 0 .5-.5 .5 .9 .5 0 .5-.1 .5-1.2 .5 1.9 .5-.8 .5 0 .5 .2 .5-.7 .5 .5 .5 .5 .5-.2 .5-.4 .5 .7 .5-.1 .5-.6 .5 .4 .5-.2 .5-.5 .5 .6 .5 .3 .5-.8 .5 .6 .5-.2 .5 0 .5-.1 .5 .1 .5 .3 .5-1.1 .5 .4 .5 .4 .5-.1 .5-.1 .5-.1 .5 .8 .5-.6 .5-.6 .5 .1 .5 .1 .5 .5 .5-1.1 .5 .5 .5 1.1 .5-.7 .5-.8 .5 0 .5 .5 .5 .4 .5 .4 .5-.3 .5-.1 .5-.6 .5 .4 .5 .1 .5-.3 .5 .8 .5-.9 .5 .4 .5-.1 .5 1 .5-.5 .5 .8 .5 .1 .5-.9 .5-.1 .5 1.2 .5-1.3 .5 .7 .5 .8 .5-1 .5 .5 .5-.3 .5-.3 .5 0 .5 .2 .5 0 .5-.3 .5-.3 .5-.2 .5 .7 .5-.7 .5 .6 .5-.5 .5 .3 .5-.2 .5 .2 .5 .6 .5-1.3 .5-.3 .5 .1 .5 1 .5-.6 .5 0 .5 .5 .5-.8 .5 .7 .5 .4 .5-.7 .5-.1 .5 .8 .5-.6 .5-.1 .5-.3 .5 .4 .5 .6 .5-.5 .5-.4 .5 .3 .5-.6 .5 .2 .5 .5 .5 .3 .5-.9 .5 .7 .5-.3 .5-.4 .5-.1 .5 .3 .5-.1 .5-.2 .5-.2 .5 .8 .5-.2 .5-.1 .5 .3 .5-.7 .5 .1 .5 .6 .5-.7 .5 .3 .5 .1 .5 .4 .5-.6 .5 1.4 .5-1.2 .5 .1 .5 .6 .5-.5 .5 .1 .5 .6 .5-.4 .5 .5 .5-.4 .5 .2 .5-.1 .5 .5 .5-.4 .5-.1 .5-.4 .5-.4 .5 .8 .5 .1 .5-.2 .5-.1 .5-.7 .5 .8 .5-.9 .5 .9 .5 .2 .5-.5 .5-.7 .5 1 .5-1 .5 .1 .5-.3 .5 .3 .5 .6 .5-1.2 .5 .7 .5 .1 .5-.3 .5-.4 .5 0 .5-.6 .5 .3 .5-.2 .5 .3 .5 .1 .5 .1 .5-1.4 .5 1.5 .5-.9 .5 .3 .5 0 .5 .2 .5 .3 .5-.2 .5-.6 .5-.1 .5 1 .5-.1 .5-.3 .5-.6 .5-.3 .5 2.1 .5-.4 .5-1 .5 1.8 .5-.4 .5-.5 .5-1.2 .5 1.4 .5-1 .5-1.5 .5-.5 .5 1.2 .5 2.2 .5-1.5 .5-.3 .5 1.7 .5-2.5 .5-.5 .5 2.6 .5-2.8 .5 1.7 .5-.2 .5-2.8 .5 1.3 .5 .8 .5 1.3 .5-2.9 .5 .9 .5 1.3 .5-3 .5-1.1 .5 3.8 .5 .6 .5-2 .5 3.5 .5 .4 .5-10.4 .5-5.7 .5-2.9 .5-1.6 .5 18.1" stroke="#0000ff"/>
<path d="M20,408.3l.5 2 .5 1.7 .5 .9 .5 0 .5 1 .5 .1 .5 .6 .5-.4 .5 .4 .5 1.1 .5-1 .5 .7 .5-.6 .5 .3 .5-.2 .5 .9 .5-.5 .5 .1 .5-.9 .5 .4 .5 0 .5 .7 .5-.7 .5 1 .5-.6 .5 0 .5 .7 .5-.2 .5 .1 .5-.2 .5-.2 .5 .2 .5-.5 .5 .5 .5-.2 .5 .3 .5-.8 .5 .7 .5 .6 .5-.8 .5-.9 .5 .9 .5 .4 .5-.3 .5 0 .5-1.1 .5 1.2 .5-.5 .5-.1 .5-.3 .5 .1 .5 .1 .5-.6 .5 1.3 .5-.8 .5-.1 .5-.7 .5 .1 .5 1.1 .5-.9 .5 .6 .5-.3 .5 .3 .5 .3 .5-.6 .5 .6 .5-.7 .5 .6 .5-.7 .5 .2 .5-.5 .5 .5 .5-.6 .5 .4 .5-.1 .5 .3 .5 .2 .5 .3 .5 .5 .5-1.1 .5 .2 .5 .3 .5-.5 .5 .9 .5-.8 .5 .4 .5 .4 .5-.5 .5 .4 .5-.7 .5 .5 .5 0 .5-.1 .5 1 .5-1.2 .5 .8 .5-.6 .5-.1 .5 .1 .5-.4 .5 .2 .5 .8 .5-1.5 .5 .7 .5-.8 .5 0 .5-.1 .5 .3 .5-1.3 .5 .5 .5-.1 .5-.2 .5-.8 .5 0 .5-.6 .5-.7 .5 0 .5-.3 .5-.6 .5-.7 .5-.4 .5-.4 .5-.7 .5-1 .5 0 .5-.3 .5-1.4 .5-1 .5-.3 .5-1.4 .5-.5 .5-1.2 .5 .7 .5-1.2 .5-.6 .5-.4 .5-.1 .5-.5 .5-.8 .5-.1 .5 .8 .5-.9 .5 1.2 .5-.3 .5 1.1 .5 1.6 .5 .4 .5 1.4 .5 1.2 .5 1.1 .5 1 .5 .6 .5 1.6 .5 1.2 .5 1.5 .5 .5 .5 .7 .5 .1 .5-.4 .5 .6 .5 1.5 .5-.8 .5 1.1 .5 .2 .5-.5 .5 .8 .5 0 .5-1.2 .5 .8 .5 0 .5 0 .5 0 .5 0 .5-.5 .5 .3 .5 .3 .5 .5 .5-.1 .5-.7 .5-.1 .5 .1 .5 .5 .5-1.2 .5 .7 .5 0 .5-.7 .5-.3 .5 .4 .5 1 .5-.7 .5-.8 .5 .2 .5 0 .5 .8 .5-.9 .5 0 .5 .8 .5-1.4 .5 .2 .5 .8 .5-.4 .5-.5 .5-.2 .5-.8 .5 0 .5-1.1 .5 .1 .5-1.6 .5 .1 .5-1.4 .5-1.5 .5 .1 .5-1.3 .5-.3 .5-.5 .5 0 .5 .5 .5-.6 .5 .9 .5 2 .5 .7 .5 .7 .5 1.3 .5 .7 .5 .8 .5-.1 .5 .9 .5 1.1 .5-.2 .5-.1 .5 .8 .5-.5 .5 1.3 .5-.4 .5-.5 .5 .5 .5 .3 .5 0 .5-.2 .5-.2 .5 .6 .5-.6 .5-.1 .5 .4 .5-.4 .5-.7 .5 .5 .5 .3 .5-.5 .5-.3 .5-.6 .5-.3 .5 .2 .5-.2 .5-.2 .5-.9 .5-.2 .5 .2 .5 0 .5-.6 .5-.6 .5-.4 .5-1 .5-.4 .5-.3 .5-.3 .5-.2 .5-1 .5-.8 .5-.5 .5-.2 .5 .5 .5-1.3 .5 .6 .5-2 .5 .9 .5-.8 .5 .2 .5-1.1 .5-.3 .5-1 .5-.4 .5-.7 .5-1.6 .5-1.3 .5-1.8 .5-2.3 .5-3 .5-3 .5-3.9 .5-4.4 .5-5.2 .5-6.5 .5-5.8 .5-6 .5-6.4 .5-4.6 .5-4.3 .5-2.7 .5 .2 .5 .8 .5 3.3 .5 4.8 .5 5.5 .5 6.1 .5 6.7 .5 7.3 .5 5.1 .5 6.5 .5 5.5 .5 3.9 .5 4.9 .5 2.6 .5 2.7 .5 2.9 .5 1.3 .5 1.2 .5 .7 .5 1.1 .5 .2 .5-.4 .5 1.5 .5 .3 .5-.9 .5 .1 .5-.2 .5-.8 .5 .7 .5-.3 .5-.4 .5 .3 .5-.7 .5 .7 .5 .8 .5-1.1 .5 .8 .5-1.5 .5 .5 .5 .7 .5 .1 .5 .4 .5-.4 .5 0 .5 .8 .5-.1 .5 .3 .5 .8 .5 .1 .5 .5 .5-.2 .5 .4 .5 .5 .5 .8 .5-.9 .5 1.2 .5-.2 .5 .5 .5-.1 .5-.3 .5 .4 .5 .3 .5-.4 .5 .2 .5-.3 .5 0 .5-.6 .5 .8 .5 0 .5 0 .5-.2 .5 .1 .5 0 .5 .4 .5 0 .5-.6 .5 .3 .5-.1 .5 .3 .5-.2 .5-.1 .5-.1 .5-.1 .5 .8 .5-.6 .5 .1 .5-.3 .5 .3 .5 .1 .5 .1 .5-.1 .5 .7 .5-1.1 .5 0 .5-.1 .5 .2 .5 .8 .5-.4 .5-.1 .5-.9 .5 .6 .5-.2 .5-.3 .5 1 .5-.8 .5 1.1 .5 .1 .5-.7 .5 .2 .5 0 .5-.4 .5 .6 .5-1.1 .5 .8 .5 .3 .5-.9 .5 .3 .5-.6 .5 .2 .5-.1 .5 .5 .5 .1 .5-.4 .5 .1 .5-.4 .5-.1 .5 .2 .5 .1 .5 .2 .5-.4 .5-.4 .5 .9 .5-.4 .5-.2 .5 .4 .5-.1 .5 .2 .5-.4 .5 .4 .5 .2 .5 .1 .5-.3 .5 .6 .5-.5 .5-.2 .5 .2 .5 .2 .5 .4 .5-1.3 .5 .3 .5-.2 .5 .3 .5 .4 .5 .2 .5-.6 .5 .3 .5 .1 .5-.1 .5 0 .5 .4 .5-.3 .5 .8 .5-1.1 .5 .6 .5-.3 .5 .1 .5 .6 .5-1.1 .5 0 .5-.4 .5 .2 .5 .2 .5 .7 .5-.6 .5 .3 .5 0 .5-.1 .5-.2 .5 .6 .5-.3 .5 .3 .5 .2 .5-.3 .5 .6 .5-.5 .5-.2 .5 .5 .5-.2 .5-.2 .5 .6 .5-.4 .5-.4 .5 .3 .5-.8 .5 .1 .5 .7 .5 .3 .5-.6 .5 .5 .5-.4 .5 1 .5 .1 .5-.9 .5 .6 .5 0 .5-.6 .5 .6 .5 .1 .5-.3 .5-.4 .5 .6 .5 .2 .5-.4 .5 .3 .5-.1 .5-.3 .5 1.1 .5-.8 .5-.2 .5 .5 .5-.7 .5 .5 .5-1.6 .5 1.5 .5-.2 .5-.6 .5 .4 .5 .6 .5-.8 .5 .4 .5-.2 .5-1 .5 .5 .5-.6 .5-.1 .5 .6 .5 .3 .5-.8 .5 .2 .5 1.5 .5-1.4 .5-.1 .5-.5 .5 1.7 .5-.8 .5 .4 .5-.3 .5-.5 .5 .8 .5-.5 .5-.5 .5 .9 .5-.2 .5-.1 .5 .2 .5 .1 .5 .5 .5-.9 .5 1.1 .5-.5 .5-.1 .5-.4 .5 1.2 .5-.8 .5 .2 .5 .1 .5-.7 .5 .5 .5-.6 .5 0 .5 1 .5-1.3 .5 .7 .5-.1 .5 1.1 .5-1 .5 .4 .5-.4 .5 .3 .5 .2 .5-.5 .5 0 .5-.6 .5-.3 .5 .4 .5 .1 .5 .7 .5-.3 .5-.5 .5 .3 .5-.2 .5-.1 .5 .8 .5-.2 .5-.5 .5 .4 .5-.2 .5 .1 .5-.4 .5-.7 .5 .5 .5-.7 .5 .6 .5-.5 .5 .9 .5-.8 .5 0 .5 .6 .5 .2 .5-.6 .5 0 .5 .5 .5-.6 .5 .7 .5-.1 .5 .3 .5 0 .5 .1 .5-.4 .5 .5 .5-.7 .5 .6 .5-.5 .5 .4 .5-.4 .5 .4 .5 .1 .5-.5 .5 .9 .5-1.1 .5 .3 .5-.2 .5 .1 .5-.4 .5 .9 .5-.2 .5-.3 .5 .2 .5 .1 .5-.1 .5-.8 .5 .1 .5 .8 .5 0 .5 0 .5-.5 .5 .9 .5-.8 .5 .7 .5-1 .5 .4 .5 .6 .5-.2 .5-.8 .5 .6 .5-.7 .5 .8 .5 .2 .5 .2 .5 .2 .5-.4 .5 .3 .5 .5 .5-1.1 .5 .1 .5-.4 .5 .3 .5 .1 .5 .3 .5 .3 .5-.2 .5-.1 .5-.5 .5 .7 .5-1 .5 0 .5-.1 .5-.1 .5 .1 .5 .4 .5-1 .5 .8 .5-.9 .5 .6 .5-.9 .5 .6 .5-.1 .5-.1 .5 .2 .5 .6 .5-.8 .5 .3 .5 0 .5-.6 .5 .1 .5 .2 .5 .1 .5 .4 .5-.6 .5 1.1 .5-.9 .5 .3 .5 .8 .5-.3 .5-.1 .5 .5 .5-.2 .5-.5 .5 .2 .5 0 .5 .3 .5 .2 .5 .5 .5-.9 .5 .5 .5-.7 .5 .2 .5 .5 .5-.4 .5 .2 .5-.2 .5 .8 .5-.7 .5 .5 .5-.8 .5 .6 .5 .2 .5-.6 .5 .3 .5-.7 .5 .8 .5-.4 .5 .2 .5 0 .5-.6 .5 .4 .5-.2 .5 .5 .5 .5 .5-.3 .5 .2 .5 .1 .5-.3 .5-.8 .5 .3 .5-.6 .5 .4 .5 .6 .5 .4 .5-1.4 .5 1.2 .5-.7 .5 .7 .5-.2 .5-.3 .5 .4 .5-.3 .5 .2 .5-.2 .5-.4 .5 .4 .5-.2 .5 .6 .5 .3 .5-.3 .5 0 .5-.6 .5 .4 .5-.1 .5-.4 .5 1 .5-1.1 .5 .2 .5 .4 .5 .1 .5 0 .5 0 .5-.3 .5 .1 .5-.8 .5 .6 .5-.7 .5 .9 .5-.7 .5 .1 .5 .6 .5-.9 .5 .9 .5-.2 .5-.4 .5-.5 .5 1.7 .5-1.4 .5 .1 .5-.3 .5 1.7 .5-1.3 .5-.2 .5 .5 .5-.2 .5 .3 .5 .1 .5-.6 .5 1.5 .5-1.2 .5 .6 .5-.6 .5-.3 .5-1 .5 1.9 .5-1.3 .5 .6 .5 .2 .5-.2 .5 .2 .5 0 .5-.6 .5-.3 .5 .7 .5-1.1 .5 1.9 .5-1 .5 0 .5-.4 .5 .8 .5-.3 .5 .8 .5-.7 .5 .6 .5-.1 .5 .1 .5 .4 .5 0 .5-.8 .5 1 .5-.1 .5-.3 .5-.4 .5 .9 .5-1 .5 .8 .5-.2 .5 .1 .5-.3 .5-.3 .5 .6 .5-1 .5 .5 .5 .5 .5-1.1 .5 .5 .5-.1 .5-.1 .5 .4 .5-.2 .5-1 .5 .4 .5 .7 .5-.4 .5 .2 .5 .2 .5 .3 .5-.6 .5-.5 .5 .2 .5-.1 .5-.3 .5-.8 .5 .5 .5 .7 .5-.5 .5 .1 .5 .5 .5-.3 .5-.5 .5-.1 .5 .4 .5-.1 .5 .1 .5-.4 .5 .5 .5-.8 .5 1 .5-1 .5 1.4 .5-1.4 .5 .6 .5-.3 .5 .4 .5 .4 .5-.4 .5 .3 .5-1.8 .5 1.1 .5 .2 .5 .5 .5 .3 .5-1.5 .5 .6 .5-.9 .5 .6 .5 .2 .5-.3 .5 .1 .5 .1 .5-.2 .5 0 .5 .9 .5 .4 .5-1 .5 .3 .5-.1 .5 .2 .5-.1 .5-.8 .5 .9 .5 .1 .5-.5 .5 .7 .5 0 .5-.5 .5 0 .5 .6 .5-.6 .5 .2 .5 .2 .5 .7 .5-.6 .5 .4 .5-.6 .5-.4 .5 1.2 .5-.4 .5-.4 .5 .5 .5 0 .5-.6 .5-.1 .5 1 .5-.6 .5-.1 .5 0 .5-.2 .5 .6 .5-1.3 .5 1.4 .5-1 .5 .6 .5-.6 .5-.8 .5 .9 .5 0 .5 0 .5-.8 .5 2.5 .5-2.4 .5 1.6 .5-.5 .5-1.3 .5 .6 .5 1 .5 .3 .5-2 .5 1.8 .5-1.2 .5-.7 .5 .4 .5 .3 .5 .5 .5 1.1 .5-2.9 .5 2.3 .5-1.5 .5 .1 .5 .1 .5-.9 .5-.1 .5-.6 .5-1.6 .5 1.4 .5 1.4 .5-1.2 .5 1.3 .5-.7 .5 2.4 .5-2.2 .5-2 .5 5.7 .5-3.7 .5 .5 .5-2.4 .5-.5 .5 5.4 .5-1.9 .5-2.7 .5 1.7 .5-5.5 .5-6.6 .5-5.4 .5-1.8 .5 17.4" stroke="#0000ff"/><line x1="271" y1="123.5" x2="271" y2="113.0" stroke="#ff0000" stroke-width="1.5"/><line x1="271" y1="192.2" x2="271" y2="179.2" stroke="#ff0000" stroke-width="1.5"/><line x1="271" y1="355.4" x2="271" y2="348.4" stroke="#0000ff" stroke-width="1.5"/><line x1="271" y1="407.0" x2="271" y2="402.5" stroke="#0000ff" stroke-width="1.5"/><line x1="271" y1="415.6" x2="271" y2="411.1" stroke="#0000ff" stroke-width="1.5"/>
</g>
<g font-size="8.3" letter-spacing="0.45" text-anchor="middle" fill="#000" stroke="#000" stroke-width="0.3"><text x="353.9" y="120.2">n = 0</text><text x="353.9" y="137.5">n = 20</text><text x="353.9" y="154.9">n = 40</text><text x="353.9" y="172.2">n = 60</text><text x="353.9" y="189.5">n = 80</text><text x="353.9" y="206.8">n = 100</text><text x="353.9" y="224.2">n = 120</text><text x="353.9" y="241.5">n = 140</text><text x="353.9" y="258.8">n = 160</text><text x="353.9" y="276.2">n = 180</text><text x="353.9" y="293.5">n = 200</text><text x="353.9" y="310.8">n = 220</text><text x="353.9" y="328.2">n = 240</text><text x="353.9" y="345.5">n = 260</text><text x="353.9" y="362.8">n = 280</text><text x="353.9" y="380.1">n = 300</text><text x="353.9" y="397.5">n = 320</text><text x="353.9" y="414.8">n = 340</text></g>
<rect x="19.3" y="20.8" width="514.9" height="414.0" fill="none" stroke="#000" stroke-width="1.8"/>
<g stroke="#000" stroke-width="1.8"><line x1="34.9" y1="434.8" x2="34.9" y2="438.6"/><line x1="97.3" y1="434.8" x2="97.3" y2="438.6"/><line x1="159.7" y1="434.8" x2="159.7" y2="438.6"/><line x1="222.1" y1="434.8" x2="222.1" y2="438.6"/><line x1="284.5" y1="434.8" x2="284.5" y2="438.6"/><line x1="346.9" y1="434.8" x2="346.9" y2="438.6"/><line x1="409.3" y1="434.8" x2="409.3" y2="438.6"/><line x1="471.7" y1="434.8" x2="471.7" y2="438.6"/><line x1="534.1" y1="434.8" x2="534.1" y2="438.6"/></g>
<g font-size="17" text-anchor="middle" fill="#000" stroke="#000" stroke-width="0.2"><text x="34.9" y="454.2">10</text><text x="97.3" y="454.2">12</text><text x="159.7" y="454.2">14</text><text x="222.1" y="454.2">16</text><text x="284.5" y="454.2">18</text><text x="346.9" y="454.2">20</text><text x="409.3" y="454.2">22</text><text x="471.7" y="454.2">24</text><text x="534.1" y="454.2">26</text></g>
<text x="276.8" y="15.3" font-size="12.5" letter-spacing="0.3" text-anchor="middle" stroke="#000" stroke-width="0.1">[Mg0.2,Fe0.8] 50s ramp, 100 ms exposure</text>
<text x="276.3" y="469.3" font-size="11" text-anchor="middle" stroke="#000" stroke-width="0.25">Diffraction angle 2&#920; (deg.)</text>
<text transform="translate(13.6,228) rotate(-90)" font-size="11.1" text-anchor="middle" stroke="#000" stroke-width="0.25">Intensity</text>
</svg>
</body></html>
